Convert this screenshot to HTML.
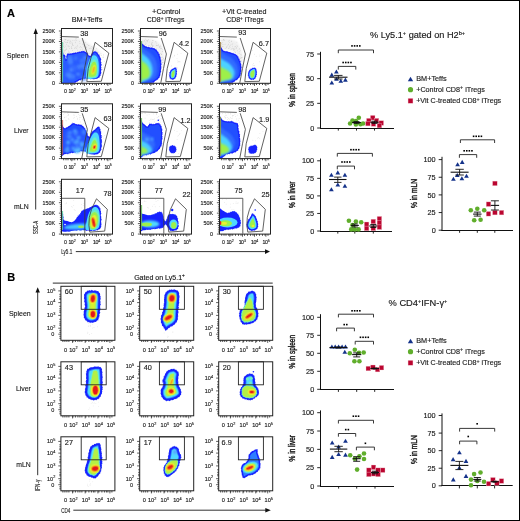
<!DOCTYPE html>
<html><head><meta charset="utf-8"><style>
html,body{margin:0;padding:0;background:#fff;}
body{width:520px;height:521px;overflow:hidden;}
svg{display:block;font-family:"Liberation Sans", sans-serif;will-change:transform;}
</style></head><body>
<svg width="520" height="521" viewBox="0 0 520 521">
<defs>
<filter id="b0" x="-10%" y="-10%" width="120%" height="120%"><feGaussianBlur stdDeviation="0.25"/></filter>
<filter id="b1" x="-20%" y="-20%" width="140%" height="140%"><feGaussianBlur stdDeviation="0.35"/></filter>
<filter id="b2" x="-30%" y="-30%" width="160%" height="160%"><feGaussianBlur stdDeviation="0.8"/></filter>
<filter id="b3" x="-30%" y="-30%" width="160%" height="160%"><feGaussianBlur stdDeviation="1.2"/></filter>
</defs>
<rect x="0" y="0" width="520" height="521" fill="#fff"/>

<text x="7" y="16.6" font-size="11" text-anchor="start" font-weight="bold" fill="#000" stroke="#000" stroke-width="0.14" >A</text>
<text x="7.2" y="280.7" font-size="11" text-anchor="start" font-weight="bold" fill="#000" stroke="#000" stroke-width="0.14" >B</text>
<text x="87" y="22.3" font-size="7.5" text-anchor="middle" font-weight="normal" fill="#1a1a1a" stroke="#1a1a1a" stroke-width="0.14" textLength="30.7" lengthAdjust="spacingAndGlyphs" >BM+Teffs</text>
<text x="166.2" y="13.5" font-size="7.5" text-anchor="middle" font-weight="normal" fill="#1a1a1a" stroke="#1a1a1a" stroke-width="0.14" textLength="28.3" lengthAdjust="spacingAndGlyphs" >+Control</text>
<text x="165.6" y="22.3" font-size="7.5" text-anchor="middle" font-weight="normal" fill="#1a1a1a" stroke="#1a1a1a" stroke-width="0.14" textLength="37.6" lengthAdjust="spacingAndGlyphs" >CD8<tspan font-size="5" dy="-2.6">+</tspan><tspan dy="2.6"> iTregs</tspan></text>
<text x="244.3" y="13.5" font-size="7.5" text-anchor="middle" font-weight="normal" fill="#1a1a1a" stroke="#1a1a1a" stroke-width="0.14" textLength="44.4" lengthAdjust="spacingAndGlyphs" >+Vit C-treated</text>
<text x="245" y="22.3" font-size="7.5" text-anchor="middle" font-weight="normal" fill="#1a1a1a" stroke="#1a1a1a" stroke-width="0.14" textLength="37.6" lengthAdjust="spacingAndGlyphs" >CD8<tspan font-size="5" dy="-2.6">+</tspan><tspan dy="2.6"> iTregs</tspan></text>
<text x="28.6" y="58.1" font-size="7.9" text-anchor="end" font-weight="normal" fill="#1a1a1a" stroke="#1a1a1a" stroke-width="0.14" textLength="21.9" lengthAdjust="spacingAndGlyphs" >Spleen</text>
<text x="28.6" y="133" font-size="7.9" text-anchor="end" font-weight="normal" fill="#1a1a1a" stroke="#1a1a1a" stroke-width="0.14" textLength="14.5" lengthAdjust="spacingAndGlyphs" >Liver</text>
<text x="28.6" y="208.9" font-size="7.9" text-anchor="end" font-weight="normal" fill="#1a1a1a" stroke="#1a1a1a" stroke-width="0.14" textLength="14.5" lengthAdjust="spacingAndGlyphs" >mLN</text>
<text x="30.8" y="315.8" font-size="7.9" text-anchor="end" font-weight="normal" fill="#1a1a1a" stroke="#1a1a1a" stroke-width="0.14" textLength="21.9" lengthAdjust="spacingAndGlyphs" >Spleen</text>
<text x="30.8" y="390.7" font-size="7.9" text-anchor="end" font-weight="normal" fill="#1a1a1a" stroke="#1a1a1a" stroke-width="0.14" textLength="14.9" lengthAdjust="spacingAndGlyphs" >Liver</text>
<text x="30.8" y="466.7" font-size="7.9" text-anchor="end" font-weight="normal" fill="#1a1a1a" stroke="#1a1a1a" stroke-width="0.14" textLength="14.5" lengthAdjust="spacingAndGlyphs" >mLN</text>
<line x1="35.7" y1="33" x2="35.7" y2="209.5" stroke="#333" stroke-width="1" />
<polygon points="33.5,34 37.9,34 35.7,28.3" fill="#111" stroke="none" stroke-width="0.8" stroke-linejoin="round"/>
<text x="0" y="0" font-size="6.8" text-anchor="middle" font-weight="normal" fill="#1a1a1a" stroke="#1a1a1a" stroke-width="0.14" textLength="13.2" lengthAdjust="spacingAndGlyphs" transform="translate(37.6,227.4) rotate(-90)">SSC-A</text>
<text x="61.2" y="254.4" font-size="7" text-anchor="start" font-weight="normal" fill="#1a1a1a" stroke="#1a1a1a" stroke-width="0.14" textLength="11" lengthAdjust="spacingAndGlyphs" >Ly5.1</text>
<line x1="75.8" y1="251.6" x2="266" y2="251.6" stroke="#333" stroke-width="1" />
<polygon points="265,249.3 265,253.9 270,251.6" fill="#111" stroke="none" stroke-width="0.8" stroke-linejoin="round"/>
<line x1="37.7" y1="292" x2="37.7" y2="475.2" stroke="#333" stroke-width="1" />
<polygon points="35.5,292.6 39.9,292.6 37.7,287.3" fill="#111" stroke="none" stroke-width="0.8" stroke-linejoin="round"/>
<text x="0" y="0" font-size="6.8" text-anchor="middle" font-weight="normal" fill="#1a1a1a" stroke="#1a1a1a" stroke-width="0.14" textLength="11.6" lengthAdjust="spacingAndGlyphs" transform="translate(39.6,485.4) rotate(-90)">IFN-&#947;</text>
<text x="61.2" y="512.7" font-size="7" text-anchor="start" font-weight="normal" fill="#1a1a1a" stroke="#1a1a1a" stroke-width="0.14" textLength="9" lengthAdjust="spacingAndGlyphs" >CD4</text>
<line x1="73.3" y1="510.2" x2="266" y2="510.2" stroke="#333" stroke-width="1" />
<polygon points="265.3,507.9 265.3,512.5 270.8,510.2" fill="#111" stroke="none" stroke-width="0.8" stroke-linejoin="round"/>
<line x1="52.8" y1="283.1" x2="272.7" y2="283.1" stroke="#555" stroke-width="1.3" />
<text x="159.5" y="279.8" font-size="6.8" text-anchor="middle" font-weight="normal" fill="#1a1a1a" stroke="#1a1a1a" stroke-width="0.14" textLength="50.7" lengthAdjust="spacingAndGlyphs" >Gated on Ly5.1<tspan font-size="4.5" dy="-2.6">+</tspan></text>
<path d="M62.5,38.5 C64.42,35.83 70.75,37.92 74,38 C77.25,38.08 79.67,38.17 82,39 C84.33,39.83 86,41.67 88,43 C90,44.33 92.17,45.83 94,47 C95.83,48.17 97.83,48.5 99,50 C100.17,51.5 101.5,55.5 101,56 C100.5,56.5 97.83,53.25 96,53 C94.17,52.75 91.67,54.75 90,54.5 C88.33,54.25 88.5,51.83 86,51.5 C83.5,51.17 78.92,52.08 75,52.5 C71.08,52.92 64.58,56.33 62.5,54 C60.42,51.67 60.58,41.17 62.5,38.5Z" fill="#f0f0f0" opacity="1" filter="url(#b3)"/>
<g fill="#999" opacity="0.6"><circle cx="74.97" cy="40.72" r="0.36"/><circle cx="83.13" cy="44.58" r="0.36"/><circle cx="64.73" cy="47.13" r="0.36"/><circle cx="63.94" cy="45.81" r="0.36"/><circle cx="65.19" cy="39.63" r="0.36"/><circle cx="67.27" cy="42.02" r="0.36"/><circle cx="84.72" cy="45.14" r="0.36"/><circle cx="68.05" cy="40.12" r="0.36"/><circle cx="69.46" cy="48.47" r="0.36"/><circle cx="87.1" cy="44.7" r="0.36"/><circle cx="64.79" cy="41.71" r="0.36"/><circle cx="88.7" cy="45.7" r="0.36"/><circle cx="74.59" cy="48.54" r="0.36"/><circle cx="79.95" cy="43.4" r="0.36"/><circle cx="93.08" cy="50.58" r="0.36"/><circle cx="71.9" cy="48.34" r="0.36"/><circle cx="78.6" cy="51.63" r="0.36"/><circle cx="68.35" cy="46.8" r="0.36"/><circle cx="64.01" cy="50.03" r="0.36"/><circle cx="91.94" cy="48.31" r="0.36"/><circle cx="89.27" cy="48.7" r="0.36"/><circle cx="84.83" cy="46.21" r="0.36"/><circle cx="80.75" cy="49.95" r="0.36"/><circle cx="64.84" cy="50.63" r="0.36"/><circle cx="77.35" cy="50.04" r="0.36"/><circle cx="63.37" cy="46.31" r="0.36"/><circle cx="68.97" cy="40.11" r="0.36"/><circle cx="64.77" cy="51.83" r="0.36"/><circle cx="67.48" cy="42.46" r="0.36"/><circle cx="65.6" cy="46.09" r="0.36"/><circle cx="73.22" cy="45.48" r="0.36"/><circle cx="69.28" cy="42.18" r="0.36"/><circle cx="71.48" cy="46.73" r="0.36"/><circle cx="85.18" cy="42.73" r="0.36"/><circle cx="62.66" cy="45.54" r="0.36"/><circle cx="76.72" cy="48.19" r="0.36"/><circle cx="82.35" cy="49.12" r="0.36"/><circle cx="97.13" cy="52.04" r="0.36"/><circle cx="96.17" cy="52.36" r="0.36"/><circle cx="77.61" cy="45.18" r="0.36"/><circle cx="66.49" cy="49.42" r="0.36"/><circle cx="64.9" cy="39.21" r="0.36"/><circle cx="70.54" cy="40.92" r="0.36"/><circle cx="75.59" cy="38.95" r="0.36"/><circle cx="62.51" cy="40.72" r="0.36"/><circle cx="66.41" cy="44.54" r="0.36"/><circle cx="63.48" cy="53.74" r="0.36"/><circle cx="72.21" cy="44.25" r="0.36"/><circle cx="76.52" cy="40.21" r="0.36"/><circle cx="80.44" cy="46.71" r="0.36"/><circle cx="65.81" cy="39.84" r="0.36"/><circle cx="75.69" cy="42.77" r="0.36"/><circle cx="82.84" cy="40.64" r="0.36"/><circle cx="95.74" cy="50.53" r="0.36"/><circle cx="72.55" cy="44.6" r="0.36"/><circle cx="68.93" cy="51.89" r="0.36"/><circle cx="75.19" cy="42.01" r="0.36"/><circle cx="95.33" cy="52.51" r="0.36"/><circle cx="94.01" cy="51.32" r="0.36"/><circle cx="71.23" cy="47.32" r="0.36"/><circle cx="76.19" cy="38.52" r="0.36"/><circle cx="63.58" cy="43.03" r="0.36"/><circle cx="72.48" cy="50.47" r="0.36"/><circle cx="70.99" cy="42.08" r="0.36"/><circle cx="70.07" cy="41.68" r="0.36"/><circle cx="87.64" cy="52.39" r="0.36"/><circle cx="65.76" cy="49.89" r="0.36"/><circle cx="97.53" cy="52.08" r="0.36"/><circle cx="91.38" cy="46.6" r="0.36"/><circle cx="69.37" cy="52.2" r="0.36"/><circle cx="75.3" cy="52.41" r="0.36"/><circle cx="67.39" cy="40.72" r="0.36"/><circle cx="97.34" cy="52.52" r="0.36"/><circle cx="68.13" cy="52.88" r="0.36"/><circle cx="75.99" cy="47.88" r="0.36"/><circle cx="72.2" cy="43.27" r="0.36"/><circle cx="71.76" cy="48.56" r="0.36"/><circle cx="72.49" cy="45.54" r="0.36"/><circle cx="76.12" cy="46.25" r="0.36"/><circle cx="81.81" cy="47.57" r="0.36"/><circle cx="79.44" cy="41.3" r="0.36"/><circle cx="62.65" cy="52.39" r="0.36"/><circle cx="69.14" cy="46.52" r="0.36"/><circle cx="90.42" cy="48.02" r="0.36"/><circle cx="75.05" cy="47.33" r="0.36"/><circle cx="66.59" cy="48.09" r="0.36"/><circle cx="72.07" cy="42.98" r="0.36"/><circle cx="92.23" cy="47.14" r="0.36"/><circle cx="86.08" cy="47.1" r="0.36"/><circle cx="82.22" cy="50.47" r="0.36"/><circle cx="79.92" cy="47.6" r="0.36"/><circle cx="89.42" cy="53.78" r="0.36"/><circle cx="67.18" cy="45.96" r="0.36"/><circle cx="65.29" cy="42.33" r="0.36"/><circle cx="65.32" cy="50.05" r="0.36"/><circle cx="68.45" cy="50.89" r="0.36"/><circle cx="77.83" cy="46.77" r="0.36"/><circle cx="68.72" cy="45.77" r="0.36"/><circle cx="82.35" cy="44.1" r="0.36"/><circle cx="70.04" cy="43.73" r="0.36"/><circle cx="83.83" cy="45.93" r="0.36"/><circle cx="63.2" cy="43.97" r="0.36"/><circle cx="86.52" cy="47.22" r="0.36"/><circle cx="66.53" cy="42.78" r="0.36"/><circle cx="64.02" cy="52.02" r="0.36"/><circle cx="72.91" cy="40.33" r="0.36"/><circle cx="84.47" cy="50.61" r="0.36"/><circle cx="65.94" cy="39.04" r="0.36"/><circle cx="89" cy="45.66" r="0.36"/><circle cx="65.72" cy="53.41" r="0.36"/></g>
<g fill="#999" opacity="0.5"><circle cx="100.54" cy="58.51" r="0.36"/><circle cx="98.68" cy="52.01" r="0.36"/><circle cx="101.27" cy="55.39" r="0.36"/><circle cx="103.59" cy="56.99" r="0.36"/><circle cx="101" cy="53.51" r="0.36"/><circle cx="103.33" cy="65.08" r="0.36"/><circle cx="104.19" cy="61.4" r="0.36"/><circle cx="100.95" cy="73.87" r="0.36"/><circle cx="103.07" cy="67.72" r="0.36"/><circle cx="98.56" cy="53.06" r="0.36"/><circle cx="100.75" cy="63.59" r="0.36"/><circle cx="96.42" cy="48.7" r="0.36"/><circle cx="99.04" cy="55.22" r="0.36"/><circle cx="101.86" cy="64.4" r="0.36"/><circle cx="101.04" cy="73.88" r="0.36"/><circle cx="101.59" cy="67.46" r="0.36"/><circle cx="102.26" cy="69.1" r="0.36"/><circle cx="101.03" cy="64.59" r="0.36"/><circle cx="103.37" cy="55.82" r="0.36"/><circle cx="103.29" cy="54.36" r="0.36"/><circle cx="100.79" cy="69.19" r="0.36"/><circle cx="103.43" cy="57.44" r="0.36"/><circle cx="102.72" cy="69.46" r="0.36"/><circle cx="102.76" cy="57.02" r="0.36"/><circle cx="101.17" cy="62.4" r="0.36"/></g>
<path d="M141.5,39 C142.92,37.83 147.25,38.5 150,39 C152.75,39.5 155.92,40.5 158,42 C160.08,43.5 161.5,45.33 162.5,48 C163.5,50.67 163.92,54 164,58 C164.08,62 163.5,71.67 163,72 C162.5,72.33 161.83,63.5 161,60 C160.17,56.5 159.5,53.08 158,51 C156.5,48.92 154.75,48.33 152,47.5 C149.25,46.67 143.25,47.42 141.5,46 C139.75,44.58 140.08,40.17 141.5,39Z" fill="#f0f0f0" opacity="1" filter="url(#b3)"/>
<g fill="#999" opacity="0.6"><circle cx="151.99" cy="42.91" r="0.36"/><circle cx="159.95" cy="55.79" r="0.36"/><circle cx="161.45" cy="62.21" r="0.36"/><circle cx="162.34" cy="62.53" r="0.36"/><circle cx="161.79" cy="48.56" r="0.36"/><circle cx="147.69" cy="40.59" r="0.36"/><circle cx="153" cy="45.27" r="0.36"/><circle cx="162.67" cy="57.12" r="0.36"/><circle cx="147.94" cy="40.62" r="0.36"/><circle cx="156.26" cy="48.93" r="0.36"/><circle cx="145.26" cy="44.33" r="0.36"/><circle cx="152.68" cy="46.26" r="0.36"/><circle cx="151.62" cy="43.61" r="0.36"/><circle cx="145.83" cy="41.99" r="0.36"/><circle cx="149.19" cy="42.01" r="0.36"/><circle cx="160.91" cy="46.13" r="0.36"/><circle cx="162.96" cy="67.01" r="0.36"/><circle cx="161.65" cy="54.62" r="0.36"/><circle cx="143.95" cy="44.09" r="0.36"/><circle cx="162.68" cy="62.82" r="0.36"/><circle cx="156.02" cy="49.02" r="0.36"/><circle cx="144.02" cy="41.32" r="0.36"/><circle cx="150.23" cy="46.38" r="0.36"/><circle cx="163.08" cy="60.27" r="0.36"/><circle cx="161.38" cy="54.69" r="0.36"/><circle cx="163.11" cy="62.25" r="0.36"/><circle cx="148.42" cy="39.72" r="0.36"/><circle cx="146.6" cy="40.13" r="0.36"/><circle cx="156.86" cy="45.54" r="0.36"/><circle cx="152.86" cy="45.77" r="0.36"/><circle cx="159.95" cy="46.62" r="0.36"/><circle cx="152.65" cy="45.18" r="0.36"/><circle cx="144.69" cy="40.71" r="0.36"/><circle cx="162.46" cy="49.87" r="0.36"/><circle cx="145.31" cy="39.09" r="0.36"/><circle cx="160" cy="53.27" r="0.36"/><circle cx="142.28" cy="41.07" r="0.36"/><circle cx="163.05" cy="59.36" r="0.36"/><circle cx="162.12" cy="59.92" r="0.36"/><circle cx="163.03" cy="70.48" r="0.36"/><circle cx="147.06" cy="41.14" r="0.36"/><circle cx="147.46" cy="41.77" r="0.36"/><circle cx="156.45" cy="43" r="0.36"/><circle cx="160.42" cy="48.69" r="0.36"/><circle cx="158.11" cy="45.57" r="0.36"/><circle cx="152.91" cy="46.64" r="0.36"/><circle cx="144.18" cy="45.26" r="0.36"/><circle cx="163.39" cy="58.25" r="0.36"/><circle cx="162.43" cy="51.28" r="0.36"/><circle cx="160.99" cy="53.82" r="0.36"/><circle cx="144.68" cy="45.73" r="0.36"/><circle cx="156.16" cy="45.71" r="0.36"/><circle cx="156.76" cy="45.11" r="0.36"/><circle cx="148.52" cy="45.71" r="0.36"/><circle cx="142.92" cy="42.35" r="0.36"/><circle cx="155.88" cy="42.01" r="0.36"/><circle cx="149.69" cy="45.51" r="0.36"/><circle cx="157.88" cy="45.72" r="0.36"/><circle cx="151.87" cy="44.36" r="0.36"/><circle cx="145.94" cy="43.18" r="0.36"/><circle cx="152.36" cy="40.76" r="0.36"/><circle cx="162.34" cy="51.8" r="0.36"/><circle cx="161.84" cy="59.47" r="0.36"/><circle cx="159.18" cy="46.33" r="0.36"/><circle cx="160.16" cy="45.04" r="0.36"/><circle cx="155.61" cy="49.11" r="0.36"/><circle cx="152.51" cy="46.76" r="0.36"/><circle cx="151.81" cy="44.93" r="0.36"/><circle cx="152.15" cy="42.53" r="0.36"/><circle cx="152.98" cy="40.35" r="0.36"/><circle cx="155.82" cy="41.71" r="0.36"/><circle cx="153.01" cy="40.79" r="0.36"/><circle cx="158.51" cy="44.24" r="0.36"/><circle cx="161.67" cy="48.07" r="0.36"/><circle cx="142.33" cy="45.01" r="0.36"/><circle cx="161.14" cy="57.32" r="0.36"/><circle cx="159.45" cy="47.74" r="0.36"/><circle cx="163.79" cy="58.05" r="0.36"/><circle cx="151.45" cy="44.83" r="0.36"/><circle cx="159.95" cy="47.37" r="0.36"/></g>
<g fill="#999" opacity="0.5"><circle cx="177.37" cy="67.91" r="0.36"/><circle cx="177.86" cy="60.97" r="0.36"/><circle cx="176.2" cy="74.87" r="0.36"/><circle cx="171.59" cy="65.51" r="0.36"/><circle cx="177.43" cy="54.13" r="0.36"/><circle cx="177.98" cy="62.25" r="0.36"/><circle cx="170.16" cy="76.1" r="0.36"/><circle cx="171.9" cy="52.48" r="0.36"/><circle cx="174.43" cy="55.93" r="0.36"/><circle cx="177" cy="58.51" r="0.36"/><circle cx="178.33" cy="61.31" r="0.36"/><circle cx="171.98" cy="75.11" r="0.36"/><circle cx="174.5" cy="55.13" r="0.36"/><circle cx="171.19" cy="66.24" r="0.36"/><circle cx="176.11" cy="67.25" r="0.36"/><circle cx="181.01" cy="53.24" r="0.36"/><circle cx="172.95" cy="57.01" r="0.36"/><circle cx="168.78" cy="74.68" r="0.36"/><circle cx="179.92" cy="61.96" r="0.36"/><circle cx="179.87" cy="61.57" r="0.36"/><circle cx="171.62" cy="51.16" r="0.36"/><circle cx="171.72" cy="49.16" r="0.36"/></g>
<path d="M220.5,39 C221.92,37.33 226.25,38.5 229,39 C231.75,39.5 234.92,40 237,42 C239.08,44 240.5,47.83 241.5,51 C242.5,54.17 242.92,57 243,61 C243.08,65 242.5,74.67 242,75 C241.5,75.33 240.83,66.5 240,63 C239.17,59.5 238.5,56.08 237,54 C235.5,51.92 233.75,51.33 231,50.5 C228.25,49.67 222.25,50.92 220.5,49 C218.75,47.08 219.08,40.67 220.5,39Z" fill="#f0f0f0" opacity="1" filter="url(#b3)"/>
<g fill="#999" opacity="0.6"><circle cx="236.51" cy="48.58" r="0.36"/><circle cx="226.36" cy="47.5" r="0.36"/><circle cx="237.29" cy="50.77" r="0.36"/><circle cx="240.3" cy="50.83" r="0.36"/><circle cx="233.33" cy="50.08" r="0.36"/><circle cx="223.75" cy="39.97" r="0.36"/><circle cx="228.26" cy="44.11" r="0.36"/><circle cx="221.15" cy="40.5" r="0.36"/><circle cx="222.91" cy="46.41" r="0.36"/><circle cx="223.02" cy="40.24" r="0.36"/><circle cx="234.71" cy="49.35" r="0.36"/><circle cx="222.75" cy="42.52" r="0.36"/><circle cx="237.54" cy="46.38" r="0.36"/><circle cx="220.97" cy="48.24" r="0.36"/><circle cx="242.19" cy="57.13" r="0.36"/><circle cx="239.66" cy="61.26" r="0.36"/><circle cx="232.6" cy="46.8" r="0.36"/><circle cx="220.53" cy="46.27" r="0.36"/><circle cx="226.88" cy="46.73" r="0.36"/><circle cx="234.63" cy="51.8" r="0.36"/><circle cx="225.14" cy="48.48" r="0.36"/><circle cx="240.78" cy="57.04" r="0.36"/><circle cx="223.98" cy="44.62" r="0.36"/><circle cx="232.25" cy="44.79" r="0.36"/><circle cx="227.88" cy="45.81" r="0.36"/><circle cx="242.44" cy="65.23" r="0.36"/><circle cx="222.9" cy="46.43" r="0.36"/><circle cx="229.24" cy="40.22" r="0.36"/><circle cx="240.93" cy="54.48" r="0.36"/><circle cx="229.98" cy="47.23" r="0.36"/><circle cx="234.67" cy="48" r="0.36"/><circle cx="238.01" cy="52.99" r="0.36"/><circle cx="241.66" cy="57.69" r="0.36"/><circle cx="239.15" cy="57.78" r="0.36"/><circle cx="228.5" cy="41.04" r="0.36"/><circle cx="228.42" cy="48.55" r="0.36"/><circle cx="241.65" cy="57.97" r="0.36"/><circle cx="229.32" cy="46.63" r="0.36"/><circle cx="231.03" cy="49.6" r="0.36"/><circle cx="232.84" cy="43.51" r="0.36"/><circle cx="239.26" cy="51.77" r="0.36"/><circle cx="239.64" cy="48.63" r="0.36"/><circle cx="228.96" cy="48.13" r="0.36"/><circle cx="230.09" cy="45.69" r="0.36"/><circle cx="226.83" cy="47.82" r="0.36"/><circle cx="235.33" cy="52.05" r="0.36"/><circle cx="241.4" cy="69.76" r="0.36"/><circle cx="240.88" cy="67.23" r="0.36"/><circle cx="235.26" cy="48" r="0.36"/><circle cx="222.78" cy="44.14" r="0.36"/><circle cx="228.29" cy="44.5" r="0.36"/><circle cx="240.84" cy="67.5" r="0.36"/><circle cx="232.99" cy="48.52" r="0.36"/><circle cx="225.77" cy="44.02" r="0.36"/><circle cx="231.59" cy="41.1" r="0.36"/><circle cx="231.01" cy="44.2" r="0.36"/><circle cx="239.1" cy="49.54" r="0.36"/><circle cx="239.12" cy="53.53" r="0.36"/><circle cx="231.83" cy="48.78" r="0.36"/><circle cx="240.43" cy="58.63" r="0.36"/><circle cx="220.64" cy="45.84" r="0.36"/><circle cx="241.23" cy="60.91" r="0.36"/><circle cx="240.97" cy="61.02" r="0.36"/><circle cx="235.82" cy="46.65" r="0.36"/><circle cx="224.58" cy="40.33" r="0.36"/><circle cx="235.25" cy="52.28" r="0.36"/><circle cx="233.15" cy="48.29" r="0.36"/><circle cx="221.39" cy="43.28" r="0.36"/><circle cx="241.17" cy="55.07" r="0.36"/><circle cx="229.78" cy="42.67" r="0.36"/><circle cx="235" cy="46.64" r="0.36"/><circle cx="223.91" cy="39.56" r="0.36"/><circle cx="223.4" cy="39.64" r="0.36"/><circle cx="236.69" cy="47.72" r="0.36"/><circle cx="237.01" cy="45.75" r="0.36"/><circle cx="236.92" cy="42.03" r="0.36"/><circle cx="231.44" cy="41.15" r="0.36"/><circle cx="241.76" cy="67.25" r="0.36"/><circle cx="233.25" cy="49.53" r="0.36"/><circle cx="234.03" cy="50.11" r="0.36"/></g>
<g fill="#999" opacity="0.5"><circle cx="253.86" cy="74.64" r="0.36"/><circle cx="253.03" cy="68.54" r="0.36"/><circle cx="256.63" cy="74.88" r="0.36"/><circle cx="259.92" cy="56.5" r="0.36"/><circle cx="253.76" cy="65.6" r="0.36"/><circle cx="256.15" cy="56.22" r="0.36"/><circle cx="252.55" cy="50.55" r="0.36"/><circle cx="255.86" cy="71.92" r="0.36"/><circle cx="250.21" cy="70.51" r="0.36"/><circle cx="261.91" cy="55.02" r="0.36"/><circle cx="256.71" cy="68.33" r="0.36"/><circle cx="254.45" cy="54.2" r="0.36"/><circle cx="251.08" cy="70.53" r="0.36"/><circle cx="259.67" cy="61.79" r="0.36"/><circle cx="248.4" cy="72.2" r="0.36"/><circle cx="259.35" cy="54.99" r="0.36"/><circle cx="256.27" cy="74.91" r="0.36"/><circle cx="254.63" cy="65.68" r="0.36"/><circle cx="250.03" cy="53.77" r="0.36"/><circle cx="249.89" cy="69.03" r="0.36"/><circle cx="252.81" cy="64.93" r="0.36"/><circle cx="253.44" cy="63.52" r="0.36"/></g>
<g fill="#999" opacity="0.5"><circle cx="65.87" cy="112.8" r="0.36"/><circle cx="77.53" cy="118.21" r="0.36"/><circle cx="75.51" cy="112.37" r="0.36"/><circle cx="84.52" cy="120.75" r="0.36"/><circle cx="76.75" cy="116.71" r="0.36"/><circle cx="82.26" cy="119.67" r="0.36"/><circle cx="86.61" cy="125.81" r="0.36"/><circle cx="68.6" cy="112.68" r="0.36"/><circle cx="67.23" cy="115.25" r="0.36"/><circle cx="64.18" cy="112.92" r="0.36"/><circle cx="77.55" cy="119.15" r="0.36"/><circle cx="79.41" cy="119.08" r="0.36"/><circle cx="73.66" cy="114.88" r="0.36"/><circle cx="67.76" cy="112.7" r="0.36"/><circle cx="68.65" cy="118.34" r="0.36"/><circle cx="82.45" cy="124.77" r="0.36"/><circle cx="63.45" cy="114.61" r="0.36"/><circle cx="79.6" cy="117.38" r="0.36"/><circle cx="64.74" cy="117.83" r="0.36"/><circle cx="68.68" cy="114.23" r="0.36"/><circle cx="74.51" cy="115.03" r="0.36"/><circle cx="68.2" cy="114.58" r="0.36"/><circle cx="79.62" cy="112.23" r="0.36"/><circle cx="80.65" cy="115.51" r="0.36"/><circle cx="65.63" cy="120.05" r="0.36"/><circle cx="83.9" cy="123.31" r="0.36"/><circle cx="73.76" cy="118.12" r="0.36"/><circle cx="83.4" cy="120.6" r="0.36"/><circle cx="78.33" cy="114.57" r="0.36"/><circle cx="67.76" cy="113.02" r="0.36"/><circle cx="80.56" cy="121.96" r="0.36"/><circle cx="68.93" cy="119.41" r="0.36"/><circle cx="66.05" cy="116.88" r="0.36"/><circle cx="83.83" cy="118.02" r="0.36"/><circle cx="66.36" cy="120.84" r="0.36"/><circle cx="79.38" cy="115.8" r="0.36"/><circle cx="74.41" cy="117.15" r="0.36"/><circle cx="68.7" cy="115.63" r="0.36"/><circle cx="64.54" cy="117.21" r="0.36"/><circle cx="80.89" cy="117.28" r="0.36"/></g>
<g fill="#999" opacity="0.5"><circle cx="158.75" cy="116.77" r="0.36"/><circle cx="144.08" cy="112.03" r="0.36"/><circle cx="159.31" cy="119.37" r="0.36"/><circle cx="145.09" cy="118.09" r="0.36"/><circle cx="153.57" cy="113.93" r="0.36"/><circle cx="156.66" cy="114.75" r="0.36"/><circle cx="142.74" cy="113.22" r="0.36"/><circle cx="154.39" cy="118.94" r="0.36"/><circle cx="147.03" cy="114.88" r="0.36"/><circle cx="154.47" cy="121.91" r="0.36"/><circle cx="158.85" cy="120.16" r="0.36"/><circle cx="145.45" cy="112.92" r="0.36"/><circle cx="157.12" cy="117.71" r="0.36"/><circle cx="156.88" cy="112.78" r="0.36"/><circle cx="158.83" cy="116.69" r="0.36"/><circle cx="159.52" cy="124.1" r="0.36"/><circle cx="151.85" cy="112.22" r="0.36"/><circle cx="161.02" cy="118.67" r="0.36"/><circle cx="160.18" cy="115.73" r="0.36"/><circle cx="149.08" cy="114.29" r="0.36"/><circle cx="149.17" cy="120.33" r="0.36"/><circle cx="150.81" cy="119.22" r="0.36"/><circle cx="158.96" cy="124.12" r="0.36"/><circle cx="149.39" cy="122.52" r="0.36"/><circle cx="161.99" cy="118.93" r="0.36"/><circle cx="152.29" cy="119.43" r="0.36"/><circle cx="152.82" cy="112.29" r="0.36"/><circle cx="145.01" cy="113.44" r="0.36"/><circle cx="141.66" cy="113.35" r="0.36"/><circle cx="156.38" cy="114.73" r="0.36"/><circle cx="153.68" cy="119.32" r="0.36"/><circle cx="156.46" cy="113.44" r="0.36"/><circle cx="160.13" cy="122.04" r="0.36"/><circle cx="141.99" cy="113.72" r="0.36"/><circle cx="151.86" cy="119.01" r="0.36"/></g>
<g fill="#999" opacity="0.5"><circle cx="225.59" cy="113.59" r="0.36"/><circle cx="228.11" cy="113.78" r="0.36"/><circle cx="234.93" cy="114.14" r="0.36"/><circle cx="227.77" cy="117.47" r="0.36"/><circle cx="236.79" cy="118.83" r="0.36"/><circle cx="235.54" cy="116.4" r="0.36"/><circle cx="224.81" cy="116.36" r="0.36"/><circle cx="236.3" cy="123.02" r="0.36"/><circle cx="239.16" cy="124.15" r="0.36"/><circle cx="224.99" cy="117.49" r="0.36"/><circle cx="232.65" cy="116.74" r="0.36"/><circle cx="230.62" cy="112.9" r="0.36"/><circle cx="228.66" cy="118.56" r="0.36"/><circle cx="220.42" cy="113.81" r="0.36"/><circle cx="239.39" cy="122.1" r="0.36"/><circle cx="238.74" cy="120.23" r="0.36"/><circle cx="236.19" cy="123.5" r="0.36"/><circle cx="232.83" cy="115.46" r="0.36"/><circle cx="233.57" cy="115.55" r="0.36"/><circle cx="232.43" cy="115.26" r="0.36"/><circle cx="230.41" cy="117.64" r="0.36"/><circle cx="239.12" cy="118.68" r="0.36"/><circle cx="225.37" cy="118.06" r="0.36"/><circle cx="230.68" cy="113.93" r="0.36"/><circle cx="222.48" cy="113.71" r="0.36"/><circle cx="225.87" cy="117.29" r="0.36"/><circle cx="225.77" cy="115.16" r="0.36"/><circle cx="236.79" cy="119.93" r="0.36"/><circle cx="231.4" cy="120.45" r="0.36"/><circle cx="229.22" cy="119.12" r="0.36"/><circle cx="232.26" cy="118.1" r="0.36"/><circle cx="226.21" cy="115.15" r="0.36"/><circle cx="227.66" cy="119.61" r="0.36"/><circle cx="237.24" cy="115.1" r="0.36"/><circle cx="231.13" cy="118.39" r="0.36"/></g>
<g fill="#999" opacity="0.45"><circle cx="96.7" cy="154.56" r="0.36"/><circle cx="96.84" cy="147.02" r="0.36"/><circle cx="104.33" cy="135.4" r="0.36"/><circle cx="98.72" cy="145.74" r="0.36"/><circle cx="95.01" cy="131.8" r="0.36"/><circle cx="97.58" cy="143.64" r="0.36"/><circle cx="101.01" cy="149.75" r="0.36"/><circle cx="103.68" cy="138.12" r="0.36"/><circle cx="102.6" cy="146.01" r="0.36"/><circle cx="102.88" cy="136.63" r="0.36"/></g>
<g fill="#999" opacity="0.45"><circle cx="181.95" cy="140.5" r="0.36"/><circle cx="178.47" cy="153.7" r="0.36"/><circle cx="179.44" cy="134.63" r="0.36"/><circle cx="179.9" cy="133.28" r="0.36"/><circle cx="177.88" cy="136.03" r="0.36"/><circle cx="181.4" cy="130.25" r="0.36"/><circle cx="177.08" cy="139.44" r="0.36"/><circle cx="177" cy="131.27" r="0.36"/><circle cx="178.49" cy="135.54" r="0.36"/><circle cx="174.39" cy="130.64" r="0.36"/></g>
<g fill="#999" opacity="0.45"><circle cx="252.88" cy="140.14" r="0.36"/><circle cx="262.96" cy="131.34" r="0.36"/><circle cx="256.54" cy="151.87" r="0.36"/><circle cx="258.34" cy="137.41" r="0.36"/><circle cx="258" cy="154.94" r="0.36"/><circle cx="257.73" cy="138.1" r="0.36"/><circle cx="259.91" cy="133.63" r="0.36"/><circle cx="255.65" cy="140.82" r="0.36"/><circle cx="255.56" cy="153.18" r="0.36"/><circle cx="259.79" cy="138.38" r="0.36"/></g>
<g fill="#999" opacity="0.45"><circle cx="65.08" cy="203.87" r="0.36"/><circle cx="71.42" cy="206.3" r="0.36"/><circle cx="75.06" cy="210.44" r="0.36"/><circle cx="83.25" cy="205.33" r="0.36"/><circle cx="72.24" cy="207.12" r="0.36"/><circle cx="83.92" cy="203.46" r="0.36"/><circle cx="74.13" cy="209.61" r="0.36"/><circle cx="66.59" cy="203.14" r="0.36"/><circle cx="83.55" cy="209.74" r="0.36"/><circle cx="73.76" cy="200.44" r="0.36"/><circle cx="81.78" cy="207.97" r="0.36"/><circle cx="81.65" cy="204.47" r="0.36"/><circle cx="66.28" cy="202.77" r="0.36"/><circle cx="73.74" cy="205.56" r="0.36"/></g>
<g fill="#999" opacity="0.45"><circle cx="145.95" cy="201.37" r="0.36"/><circle cx="155.23" cy="206.84" r="0.36"/><circle cx="155.37" cy="199.55" r="0.36"/><circle cx="150.64" cy="209.24" r="0.36"/><circle cx="148.44" cy="207.98" r="0.36"/><circle cx="142.08" cy="202.96" r="0.36"/><circle cx="159.69" cy="206.62" r="0.36"/><circle cx="156.03" cy="201.56" r="0.36"/><circle cx="152.46" cy="206.19" r="0.36"/><circle cx="147.59" cy="207.41" r="0.36"/><circle cx="154.06" cy="204.34" r="0.36"/><circle cx="144.55" cy="201.04" r="0.36"/><circle cx="157.95" cy="200.39" r="0.36"/><circle cx="144.1" cy="201.22" r="0.36"/></g>
<g fill="#999" opacity="0.45"><circle cx="231.97" cy="209.7" r="0.36"/><circle cx="233.87" cy="209.49" r="0.36"/><circle cx="222.3" cy="199.16" r="0.36"/><circle cx="237.18" cy="203.2" r="0.36"/><circle cx="236.02" cy="203.6" r="0.36"/><circle cx="224.56" cy="202.47" r="0.36"/><circle cx="233.23" cy="203.54" r="0.36"/><circle cx="230.45" cy="204.01" r="0.36"/><circle cx="230.23" cy="207.06" r="0.36"/><circle cx="226.24" cy="199.57" r="0.36"/><circle cx="240.55" cy="210.11" r="0.36"/><circle cx="238.13" cy="202.95" r="0.36"/><circle cx="226.1" cy="204.07" r="0.36"/><circle cx="236.09" cy="201.88" r="0.36"/></g>
<clipPath id="cA00"><rect x="61.5" y="28.5" width="51" height="54.3"/></clipPath>
<g clip-path="url(#cA00)">
<path d="M59.44,41.39 L58.98,42.72 L58.58,44.82 L58.82,47.91 L58.13,50.93 L57.97,54.61 L58.27,58.59 L58.46,62.56 L57.96,66.65 L58.34,70.45 L58.3,74.22 L57.99,77.97 L58.14,81.08 L58.79,83.25 L58.96,85.34 L59.4,86.7 L60.2,87.34 L60.66,88.17 L61.01,88.97 L61.86,88.9 L62.74,88.65 L63.36,88.69 L65.47,87.13 L66.88,86.67 L67.93,85.83 L68.59,85.79 L69.35,85.62 L71.31,84.35 L71.95,84.53 L72.94,83.82 L73.8,83.45 L75.42,83.12 L76.48,81.86 L77.27,81.71 L79.67,80.04 L80.34,80.61 L81,79.85 L82.13,79.42 L82.63,79.38 L82.99,78.43 L83.5,79.03 L84.28,78.97 L84.6,78.68 L85.09,79.28 L85.24,78.4 L85.97,78.47 L86.46,78.82 L86.69,78.26 L87.37,79.03 L88.04,78.64 L88.3,78.33 L88.97,78.97 L89.1,78.43 L89.68,78.85 L90.74,79.44 L90.8,78.84 L91.47,79.36 L91.7,79.08 L92.02,78.95 L92.44,78.95 L93.29,79.58 L93.42,79.09 L93.99,79.22 L94.48,79.21 L94.84,79.03 L94.89,78.46 L95.77,78.91 L96.57,78.65 L97.08,78.65 L97.74,78.81 L97.58,78.12 L97.91,77.98 L98.39,77.99 L98.62,77.77 L98.74,77.47 L99.46,77.74 L99.6,77.47 L99.43,76.95 L99.92,76.62 L99.71,76.09 L100.01,75.97 L100.59,76.06 L100.46,75.2 L100.76,75.04 L100.69,74.59 L100.35,73.97 L100.87,73.93 L101.12,73.7 L101.04,73.26 L101.14,72.92 L101.55,72.76 L100.97,72.01 L100.93,71.58 L101.18,71.27 L101.35,70.89 L101.02,70.26 L101.7,70.07 L101.54,69.46 L101.23,68.77 L101.01,68.09 L101.49,67.59 L100.88,66.68 L101.26,66.04 L101.55,65.33 L101.66,64.53 L100.96,63.61 L101.5,62.86 L100.99,62.02 L100.8,61.24 L100.76,60.5 L101.45,59.75 L100.69,59.12 L100.92,58.47 L100.7,57.91 L100.4,57.39 L99.5,57.01 L100.09,56.34 L99.59,55.93 L99.44,55.46 L99.2,55.02 L99.39,54.45 L98.2,54.4 L98.18,53.95 L97.92,53.61 L97.75,53.26 L97.2,53.12 L97.82,52.44 L97.22,52.39 L96.56,52.14 L96.66,51.82 L95.84,52.06 L96.17,51.65 L96.2,51.43 L96.02,51.35 L95.5,51.52 L95.79,51.18 L95.13,51.47 L94.82,51.54 L94.86,51.38 L95.07,51.12 L94.49,51.4 L94.68,51.16 L94.55,51.17 L93.61,51.7 L93.91,51.44 L93.39,51.76 L93.6,51.6 L92.8,52.19 L92.23,52.7 L92.21,52.78 L92.5,52.69 L91.68,53.6 L91.78,53.73 L90.89,54.72 L90.99,54.87 L91.23,54.92 L90.66,55.42 L90.68,55.54 L90.59,55.68 L89.52,56.26 L89.95,55.93 L89.6,55.95 L89.43,55.82 L89.48,55.16 L88.57,55.42 L88.6,55.01 L88.44,54.73 L88.25,54.47 L87.92,54.36 L88.39,53.48 L87.88,53.59 L87.42,53.39 L87.46,53.05 L86.85,53.52 L87.19,52.85 L87.17,52.64 L87.08,52.52 L86.74,52.78 L87.02,52.17 L86.48,52.73 L86.4,52.64 L86.39,52.44 L86.57,51.92 L86.12,52.39 L86.35,51.73 L85.82,51.98 L85.45,52.29 L85.64,51.52 L85.24,51.9 L85.19,51.54 L85,50.94 L84.48,51.67 L84.46,51.16 L84.19,51.28 L83.75,51.29 L83.77,50.46 L83.4,50.99 L82.97,50.94 L82.74,51 L82.41,51.64 L82.28,50.99 L82.05,50.93 L81.79,51.12 L81.54,51.19 L81.31,50.88 L81.03,51.66 L80.79,51.78 L80.52,51.47 L80.26,51.47 L80.02,51.77 L79.68,51.27 L79.4,51.41 L79.21,52.02 L78.92,52.05 L78.56,51.86 L78.35,52.25 L78.02,52.18 L77.51,51.68 L77.15,52.4 L76.78,52.29 L76.53,52.39 L76.51,52.9 L75.99,52.48 L75.59,52.28 L75.32,52.67 L74.85,52.37 L75.02,52.93 L74.87,53.03 L74.07,52.6 L74.17,52.99 L73.57,52.57 L73.47,52.73 L73.52,53.28 L72.84,52.85 L73,53.25 L72.15,52.94 L71.82,52.89 L72.24,53.48 L71.62,53.18 L71.63,53.41 L71.26,53.54 L70.36,53.07 L70.7,53.53 L70.34,53.46 L69.97,53.58 L70.34,53.99 L69.37,53.51 L69.25,53.56 L68.85,53.55 L68.17,53.25 L68.76,53.71 L67.58,53.44 L67.76,53.71 L66.83,53.41 L67.02,53.75 L67.14,54.39 L66.58,54.54 L67.07,55.21 L66.51,55.5 L66.18,55.93 L66.15,56.49 L66.65,57.18 L66.1,57.59 L66.48,58.18 L66.58,58.65 L66.26,58.99 L65.99,59.11 L65.59,58.89 L65.65,58.14 L65.25,57.63 L65.13,57.15 L65.71,56.85 L65.56,56.39 L65.18,55.88 L65.36,55.6 L65.17,55.26 L64.58,54.85 L64.68,54.76 L65.06,54.83 L64.66,54.66 L64.82,54.77 L63.78,54.51 L64.15,54.72 L63.92,54.71 L63.42,54.49 L63.26,53.98 L62.88,53.63 L63.66,53.72 L63.4,53.38 L63.05,52.69 L63.31,52.51 L62.5,51.81 L62.86,51.66 L62.99,51.38 L63.01,51.03 L62.48,50.37 L62.94,50.26 L62.2,49.3 L61.85,48.33 L61.61,47.24 L61.83,46.4 L61.04,44.74 L61.23,43.87 L60.9,42.65 L60.47,41.45 L59.73,40.11 L59.96,39.96 L59.36,39.28 L59.26,39.45 L59.23,40.09 L59.44,41.39Z" fill="#1422ff" filter="url(#b0)"/>
<path d="M60.08,45.94 L59.68,55.7 L59.52,62.61 L59.48,69.58 L59.58,76.04 L59.87,81.38 L60.37,84.96 L61.01,86.69 L61.56,87.25 L62.07,87.35 L63.03,87.1 L64.35,86.43 L67.55,84.56 L68.99,84 L70.44,83.53 L71.86,82.94 L73.35,82.2 L79.19,79.07 L80.52,78.49 L82.42,77.82 L83.31,77.58 L84.68,77.34 L86.8,77.2 L88.37,77.27 L91.94,77.8 L93.98,77.69 L95.46,77.47 L96.78,77.16 L97.71,76.78 L98.03,76.57 L98.49,76.12 L98.86,75.53 L99.36,74.19 L99.62,73.16 L99.79,71.99 L99.89,69.74 L99.9,66.44 L99.85,63.7 L99.68,61.01 L99.34,58.84 L99.08,58.01 L98.76,57.23 L98.37,56.5 L97.51,55.19 L96.24,53.61 L95.7,53.05 L95.24,52.77 L94.78,52.7 L94.46,52.76 L93.95,53.08 L93.34,53.69 L92.16,55.74 L91.65,56.47 L91.05,57.04 L90.49,57.31 L90.07,57.4 L89.17,57.25 L88.45,56.8 L87.91,56.23 L86.66,54.47 L85.6,53.4 L84.26,52.66 L83.76,52.48 L83.31,52.4 L82.46,52.47 L76.29,53.87 L73.25,54.38 L70.24,54.98 L69.5,55.02 L68.15,54.88 L67.87,56.35 L67.6,58.95 L67.43,59.81 L67.14,60.42 L66.84,60.72 L66.34,60.96 L65.79,60.98 L65.51,60.91 L65.15,60.71 L64.75,60.32 L64.57,59.99 L64.38,59.33 L63.86,56.12 L63.33,56.02 L62.71,55.65 L62.3,55.12 L62.06,54.57 L61.89,53.91 L61.55,51.81 L60.79,49.05 L60.08,45.94Z" fill="#2a5cff" filter="url(#b1)"/>
<ellipse cx="73.86" cy="69.31" rx="3.26" ry="2" fill="#3a70ff" transform="rotate(153.91 73.86 69.31)" filter="url(#b2)" opacity="0.7"/>
<ellipse cx="67.56" cy="74.69" rx="2.46" ry="2.22" fill="#4a86ff" transform="rotate(16.94 67.56 74.69)" filter="url(#b2)" opacity="0.7"/>
<ellipse cx="70.28" cy="58.99" rx="3.06" ry="2.34" fill="#4a86ff" transform="rotate(107.18 70.28 58.99)" filter="url(#b2)" opacity="0.7"/>
<ellipse cx="72.51" cy="66.97" rx="2.93" ry="2.28" fill="#3a70ff" transform="rotate(2.7 72.51 66.97)" filter="url(#b2)" opacity="0.7"/>
<ellipse cx="75.68" cy="58.31" rx="1.94" ry="1.66" fill="#4a86ff" transform="rotate(140.06 75.68 58.31)" filter="url(#b2)" opacity="0.7"/>
<ellipse cx="70.83" cy="70" rx="1.95" ry="1.65" fill="#5a9cff" transform="rotate(89.96 70.83 70)" filter="url(#b2)" opacity="0.7"/>
<ellipse cx="78.9" cy="67.06" rx="2.1" ry="2.8" fill="#4a86ff" transform="rotate(127.41 78.9 67.06)" filter="url(#b2)" opacity="0.7"/>
<ellipse cx="70.57" cy="62.05" rx="2.12" ry="1.41" fill="#4a86ff" transform="rotate(72.07 70.57 62.05)" filter="url(#b2)" opacity="0.7"/>
<ellipse cx="83.32" cy="65.5" rx="3.32" ry="2.57" fill="#4a86ff" transform="rotate(38.43 83.32 65.5)" filter="url(#b2)" opacity="0.7"/>
<ellipse cx="85.25" cy="58.15" rx="2.28" ry="2.36" fill="#5a9cff" transform="rotate(13.15 85.25 58.15)" filter="url(#b2)" opacity="0.7"/>
<ellipse cx="78.11" cy="74.13" rx="2.09" ry="1.43" fill="#5a9cff" transform="rotate(2.73 78.11 74.13)" filter="url(#b2)" opacity="0.7"/>
<ellipse cx="72.84" cy="77.3" rx="1.84" ry="2.36" fill="#4a86ff" transform="rotate(10.78 72.84 77.3)" filter="url(#b2)" opacity="0.7"/>
<ellipse cx="82.13" cy="60.91" rx="2.61" ry="1.97" fill="#4a86ff" transform="rotate(177.35 82.13 60.91)" filter="url(#b2)" opacity="0.7"/>
<ellipse cx="81.47" cy="66.22" rx="2.29" ry="1.89" fill="#4a86ff" transform="rotate(0.08 81.47 66.22)" filter="url(#b2)" opacity="0.7"/>
<ellipse cx="83.74" cy="78.45" rx="2.67" ry="2.8" fill="#4a86ff" transform="rotate(37.93 83.74 78.45)" filter="url(#b2)" opacity="0.7"/>
<ellipse cx="72.46" cy="75.8" rx="2.76" ry="1.45" fill="#4a86ff" transform="rotate(38.38 72.46 75.8)" filter="url(#b2)" opacity="0.7"/>
<ellipse cx="69.2" cy="74" rx="2.19" ry="1.74" fill="#4a86ff" transform="rotate(13.37 69.2 74)" filter="url(#b2)" opacity="0.7"/>
<ellipse cx="68.01" cy="71" rx="1.63" ry="1.85" fill="#3a70ff" transform="rotate(81.58 68.01 71)" filter="url(#b2)" opacity="0.7"/>
<ellipse cx="86.02" cy="67.64" rx="2.63" ry="2.6" fill="#4a86ff" transform="rotate(112.9 86.02 67.64)" filter="url(#b2)" opacity="0.7"/>
<ellipse cx="70.46" cy="62.02" rx="2.7" ry="2.39" fill="#4a86ff" transform="rotate(133.1 70.46 62.02)" filter="url(#b2)" opacity="0.7"/>
<ellipse cx="85.57" cy="61.32" rx="3.31" ry="2.62" fill="#3a70ff" transform="rotate(14.13 85.57 61.32)" filter="url(#b2)" opacity="0.7"/>
<ellipse cx="64.14" cy="59.4" rx="2.52" ry="1.68" fill="#3a70ff" transform="rotate(126.82 64.14 59.4)" filter="url(#b2)" opacity="0.7"/>
<ellipse cx="69.17" cy="75.12" rx="2.67" ry="1.74" fill="#4a86ff" transform="rotate(167.26 69.17 75.12)" filter="url(#b2)" opacity="0.7"/>
<ellipse cx="86.45" cy="59.78" rx="2.46" ry="2.28" fill="#3a70ff" transform="rotate(110.57 86.45 59.78)" filter="url(#b2)" opacity="0.7"/>
<ellipse cx="69.73" cy="77.18" rx="1.97" ry="1.32" fill="#5a9cff" transform="rotate(74.06 69.73 77.18)" filter="url(#b2)" opacity="0.7"/>
<ellipse cx="68.98" cy="58.03" rx="2.11" ry="2.1" fill="#4a86ff" transform="rotate(16.59 68.98 58.03)" filter="url(#b2)" opacity="0.7"/>
<path d="M86,77.5 C85.88,75.7 86.22,71 86.8,68 C87.38,65 88.47,61.58 89.5,59.5 C90.53,57.42 91.83,56 93,55.5 C94.17,55 95.58,55.42 96.5,56.5 C97.42,57.58 98.12,59.58 98.5,62 C98.88,64.42 98.97,68.5 98.8,71 C98.63,73.5 98.63,75.7 97.5,77 C96.37,78.3 93.67,78.5 92,78.8 C90.33,79.1 88.5,79.02 87.5,78.8 C86.5,78.58 86.12,79.3 86,77.5Z" fill="#4fd8ff" filter="url(#b1)"/>
<path d="M87.5,76 C87.22,74.37 88.13,70.5 88.8,68 C89.47,65.5 90.55,62.42 91.5,61 C92.45,59.58 93.58,59.17 94.5,59.5 C95.42,59.83 96.5,61.08 97,63 C97.5,64.92 97.67,68.75 97.5,71 C97.33,73.25 97.17,75.37 96,76.5 C94.83,77.63 91.92,77.88 90.5,77.8 C89.08,77.72 87.78,77.63 87.5,76Z" fill="#70f0c0" filter="url(#b1)"/>
<path d="M88.6,75 C88.52,73.53 89.35,70.08 90,68 C90.65,65.92 91.67,63.5 92.5,62.5 C93.33,61.5 94.32,61.42 95,62 C95.68,62.58 96.33,64.25 96.6,66 C96.87,67.75 96.87,70.83 96.6,72.5 C96.33,74.17 96.02,75.28 95,76 C93.98,76.72 91.57,76.97 90.5,76.8 C89.43,76.63 88.68,76.47 88.6,75Z" fill="#9ef04a" filter="url(#b1)"/>
<ellipse cx="93.6" cy="69.8" rx="2.1" ry="5" fill="#d8f030" transform="rotate(15 93.6 69.8)" filter="url(#b1)"/>
<ellipse cx="93.6" cy="69.8" rx="1" ry="3.2" fill="#f8b020" transform="rotate(15 93.6 69.8)" filter="url(#b1)"/>
<rect x="62" y="42" width="1.1" height="40" fill="#60d0a0" opacity="0.85" filter="url(#b0)"/>
</g>
<clipPath id="cA01"><rect x="140.5" y="28.5" width="51" height="54.3"/></clipPath>
<g clip-path="url(#cA01)">
<path d="M138.22,39.84 L138.06,38.07 L138.48,37.62 L138.63,37.05 L138.77,36.76 L139.09,37.03 L139.79,38.2 L140.73,40.31 L141.04,41.12 L141.01,41.29 L141.93,43.13 L142.45,43.74 L142.96,44.49 L142.74,43.91 L143.46,44.78 L143.42,44.55 L144.02,45.55 L144.06,45.45 L144.17,45.45 L144.24,45.37 L144.66,45.95 L144.53,45.36 L144.98,45.95 L145.64,46.57 L145.66,46.12 L146.17,46.82 L146.23,46.37 L146.45,46.31 L146.75,46.41 L147.26,47.14 L147.36,46.63 L147.8,47.15 L148.1,47.23 L148.36,47.1 L148.55,46.57 L149.03,47.34 L149.32,47.13 L149.69,47.27 L150.1,47.56 L150.53,48 L150.85,47.24 L151.27,47.5 L151.68,47.59 L152.51,47.42 L152.84,48.3 L153.63,47.99 L154.28,48.38 L154.73,47.95 L155.11,49.1 L155.45,49.09 L155.73,49.24 L155.86,49.8 L156.68,49.49 L156.73,50.15 L156.91,50.51 L157.23,50.58 L157.34,51.63 L157.91,51.33 L158.14,51.58 L158.2,52.06 L158.44,52.27 L158.75,52.41 L158.42,53.28 L158.71,53.44 L159.09,53.53 L159.28,53.82 L159.22,54.33 L159.9,54.24 L159.54,55.41 L159.65,55.77 L160.16,55.91 L159.76,56.56 L160.4,56.7 L160.67,57.04 L160.66,57.51 L160.2,58.11 L160.88,58.37 L160.43,58.92 L160.57,59.33 L160.88,59.74 L161.54,60.16 L160.84,60.63 L161.33,61.1 L161.05,61.98 L160.68,62.35 L161.63,63.01 L161.26,63.39 L161.44,63.92 L161.48,64.42 L161.7,65 L160.83,65.08 L161.3,65.81 L161.34,66.83 L161.17,67.22 L161.8,68.21 L161.2,68.27 L161.03,69.19 L161.16,69.88 L160.68,69.98 L161.15,71.09 L161.1,71.67 L160.91,72.08 L160.62,72.35 L160.81,73.28 L160.33,73.23 L160.29,73.81 L160.42,75.3 L160.04,75.27 L160.15,76.08 L159.95,76.25 L159.66,76.17 L159.56,76.38 L159.75,77.16 L159.54,77.08 L159.57,77.92 L159.37,77.91 L158.99,77.56 L158.95,78.07 L158.76,78.36 L158.4,78.34 L157.95,79.67 L157.37,79.61 L156.8,79.78 L156.33,80.56 L155.65,80.7 L154.99,81.07 L154.39,82.08 L153.7,82.88 L152.94,82.86 L152.2,83.63 L151.45,84.04 L150.71,84.06 L149.99,84.28 L149.19,85.34 L148.5,85.29 L147.75,85.66 L146.08,86.81 L145.41,86.55 L144.42,87.58 L143.55,88.09 L142.68,88.5 L141.86,88.73 L140.79,89.53 L140.3,88.73 L139.63,88.32 L139.02,87.63 L138.4,86.77 L138.26,84.83 L137.49,83.61 L137.26,80.94 L137.14,77.72 L137.26,73.96 L136.77,70.47 L137.51,66.09 L136.9,53.9 L137.58,50.43 L137.21,46.54 L137.69,43.83 L138.22,39.84Z" fill="#1422ff" filter="url(#b0)"/>
<path d="M139.32,40.63 L139.12,43.24 L138.86,48.58 L138.63,55.08 L138.48,62.17 L138.45,69.28 L138.56,75.85 L138.86,81.29 L139.37,84.96 L140.03,86.77 L140.62,87.38 L141.18,87.49 L142.16,87.23 L143.49,86.54 L146.44,84.71 L147.92,84.03 L149.2,83.53 L150.39,82.92 L151.63,82.16 L152.86,81.32 L155.13,79.59 L157.49,77.63 L158.07,77.03 L158.26,76.71 L158.85,74.73 L159.2,73.17 L159.5,71.37 L159.87,67.84 L159.94,66.17 L159.91,63.7 L159.81,62.13 L159.5,59.87 L159.21,58.42 L158.67,56.43 L158.02,54.7 L157.53,53.69 L156.67,52.33 L155.64,51.07 L154.51,50.06 L153.7,49.57 L153.26,49.39 L152.13,49.12 L149.33,48.7 L146.5,48.05 L144.91,47.51 L143.88,46.96 L142.95,46.23 L141.02,44.25 L140.43,43.29 L139.32,40.63Z" fill="#2150ff" filter="url(#b1)"/>
<path d="M138,49 C139.5,44.03 144.5,49.83 147,51 C149.5,52.17 151.42,54 153,56 C154.58,58 155.83,60.5 156.5,63 C157.17,65.5 157.25,68.58 157,71 C156.75,73.42 156.33,75.92 155,77.5 C153.67,79.08 151.83,79.95 149,80.5 C146.17,81.05 139.83,86.05 138,80.8 C136.17,75.55 136.5,53.97 138,49Z" fill="#3470ff" filter="url(#b2)" opacity="0.9"/>
<path d="M138,54 C139.33,50.05 143.92,55.17 146,56.5 C148.08,57.83 149.42,59.92 150.5,62 C151.58,64.08 152.33,66.75 152.5,69 C152.67,71.25 152.42,73.7 151.5,75.5 C150.58,77.3 149.25,79.02 147,79.8 C144.75,80.58 139.5,84.5 138,80.2 C136.5,75.9 136.67,57.95 138,54Z" fill="#4fd8ff" filter="url(#b2)" opacity="0.95"/>
<path d="M138,61 C139.17,58.25 143.25,61.92 145,63 C146.75,64.08 147.67,65.92 148.5,67.5 C149.33,69.08 150,70.83 150,72.5 C150,74.17 149.58,76.33 148.5,77.5 C147.42,78.67 145.25,79.17 143.5,79.5 C141.75,79.83 138.92,82.58 138,79.5 C137.08,76.42 136.83,63.75 138,61Z" fill="#9ef04a" filter="url(#b2)"/>
<rect x="141" y="41" width="1.1" height="41" fill="#70c060" opacity="0.85" filter="url(#b0)"/>
<path d="M169.27,74 L169.14,73.74 L169.87,73.48 L169.3,72.89 L169.37,72.61 L169.74,72.42 L169.28,71.94 L169.86,71.89 L170.2,71.79 L170.22,71.52 L169.93,70.99 L170.47,71.12 L170.18,70.51 L170.28,70.25 L170.57,70.22 L171.05,70.51 L170.84,69.79 L171.25,70.05 L171.43,69.39 L171.45,68.8 L171.92,69.46 L172,68.94 L172.45,69.02 L172.67,69.2 L172.77,68.12 L173,68.48 L173.19,68.26 L173.4,68.19 L173.63,67.89 L173.76,68.67 L174.05,67.91 L174.52,67.58 L174.69,67.69 L175.09,66.92 L175.07,67.64 L175.43,67.6 L175.7,67.32 L175.64,67.88 L176.09,67.24 L176.18,67.43 L176.11,68.28 L176.45,68.03 L176.2,68.77 L176.38,68.82 L176.67,68.73 L176.85,68.83 L176.53,69.57 L176.86,69.51 L176.5,70.48 L176.56,70.7 L177.1,70.57 L176.83,71.09 L176.93,71.34 L177.17,71.55 L176.93,72.01 L176.4,72.53 L176.81,72.72 L176.91,73.05 L176.65,73.41 L177.22,74.13 L176.64,74.37 L176.38,74.61 L176.67,75.03 L176.34,75.19 L176.24,75.45 L176.59,76.03 L176.61,76.45 L176.07,76.34 L176.14,76.8 L175.99,77.03 L175.67,77.02 L175.54,77.25 L175.81,78.15 L175.48,78.06 L175.23,78.6 L175.05,78.74 L174.64,78.18 L174.64,78.9 L174.45,79.08 L174,79.23 L173.83,79.95 L173.53,79.21 L173.07,79.39 L172.83,79.67 L172.66,79.18 L172.34,80.06 L171.99,79.65 L171.88,79.29 L171.56,79.78 L171.59,78.99 L171.3,79.3 L170.75,79.62 L170.85,78.87 L170.42,79.32 L170.48,78.75 L170.33,78.24 L169.77,78.74 L170,78.05 L169.66,78.18 L169.56,77.97 L169.54,77.65 L169.98,76.86 L169.39,77.1 L169.51,76.66 L169.27,76.16 L168.78,76.1 L169.52,75.38 L169.37,75.14 L169.37,74.54 L169.67,74.21 L169.27,74Z" fill="#1422ff" filter="url(#b0)"/>
<path d="M170.59,74.12 L170.59,75.48 L170.69,76.43 L170.97,77.44 L171.34,77.92 L171.66,78.15 L171.99,78.28 L172.58,78.3 L173.44,78.08 L174.08,77.67 L174.6,76.9 L174.94,76.09 L175.33,74.73 L175.48,73.76 L175.56,72.66 L175.54,71.08 L175.39,69.76 L175.17,68.82 L174.35,69.22 L172.7,70.19 L172.17,70.59 L171.75,71.01 L171.24,71.83 L170.94,72.55 L170.72,73.34 L170.59,74.12Z" fill="#4fd8ff" filter="url(#b1)"/>
<path d="M171.59,74.22 L171.57,74.98 L171.62,75.85 L171.75,76.61 L171.92,77.07 L172.13,77.26 L172.33,77.31 L172.86,77.22 L173.21,77.08 L173.57,76.7 L173.85,76.12 L174.13,75.35 L174.43,74.1 L174.57,72.11 L174.46,70.31 L173.02,71.19 L172.4,71.8 L171.89,72.88 L171.7,73.55 L171.59,74.22Z" fill="#9ef04a" filter="url(#b1)"/>
</g>
<clipPath id="cA02"><rect x="219.5" y="28.5" width="51" height="54.3"/></clipPath>
<g clip-path="url(#cA02)">
<path d="M217.13,41.2 L217.24,40.02 L217.09,38.74 L217.91,39.14 L218.16,39.47 L218.54,40.23 L219.11,41.49 L219.12,41.85 L219.84,43.98 L220.3,45.55 L221.21,47.33 L221.17,47.26 L222.78,49.93 L222.6,49.6 L223.35,50.55 L223.73,50.74 L224.25,51.32 L224.16,50.84 L224.33,50.76 L225.06,51.21 L225.13,50.83 L225.74,51.53 L226.01,51.52 L226.38,51 L226.9,51.56 L227.02,51 L228.36,52.15 L228.61,51.57 L229.14,52.25 L229.52,51.99 L229.96,51.93 L230.41,51.96 L230.88,52.95 L231.33,52.5 L231.74,52.96 L232.55,53.21 L233.09,52.54 L233.27,53.41 L233.65,53.34 L234.22,53.65 L234.27,54.34 L234.88,53.59 L235.08,53.84 L235.33,53.94 L235.52,54.14 L235.96,53.88 L235.71,54.8 L236.06,54.7 L236.68,54.7 L236.66,55.18 L237.34,54.77 L237.23,55.76 L237.34,56.04 L237.81,55.96 L237.56,56.59 L238.08,56.52 L238.45,56.59 L238.47,56.97 L238.21,57.54 L238.72,57.56 L238.55,58.04 L238.53,58.4 L239.54,58.6 L239.23,59.1 L239.78,59.61 L239.47,60.06 L239.43,60.41 L240.15,60.57 L240.25,60.91 L240.18,61.27 L240.72,61.55 L240.75,61.91 L240.27,62.29 L240.43,62.64 L240.93,63 L240.66,63.36 L240.98,63.75 L241.46,64.19 L241.34,64.57 L240.83,64.85 L241.31,65.35 L241.05,66.07 L241.33,66.57 L241.91,67.23 L241.34,67.42 L241.48,67.93 L241.47,68.38 L241.31,68.75 L240.88,68.96 L241.57,69.92 L241.39,70.34 L241.25,71.38 L241.44,72.15 L240.68,72.05 L240.85,72.83 L240.84,74.07 L240.49,74.3 L240.88,75.43 L240.38,75.41 L239.88,75.94 L239.99,76.68 L239.46,76.41 L239.67,77.3 L239.55,77.66 L239.33,77.87 L238.84,77.59 L238.92,78.4 L238.39,78.07 L238.15,78.39 L237.94,78.86 L237.81,79.66 L237.16,79.28 L236.89,80.06 L235.75,80.39 L235.09,80.45 L234.67,81.73 L233.95,81.81 L231.9,83.61 L231.15,83.17 L230.42,84.01 L229.68,84.42 L228.23,84.97 L227.41,85.89 L226.76,85.6 L226.01,85.8 L224.29,86.97 L223.54,87.07 L222.48,88.17 L221.54,88.77 L220.04,88.75 L219.18,88.89 L218.71,88.05 L218.15,87.31 L217.35,86.82 L216.89,85.48 L216.7,83.33 L216.26,81.05 L216.06,78.01 L216.45,74.15 L216.28,70.57 L215.97,66.8 L216.25,58.81 L215.81,54.68 L216.34,51.23 L216.73,48.15 L216.81,42.66 L217.13,41.2Z" fill="#1422ff" filter="url(#b0)"/>
<path d="M218.21,43.49 L217.87,49.64 L217.65,55.92 L217.49,62.79 L217.46,69.71 L217.57,76.11 L217.86,81.4 L218.36,84.95 L219.02,86.68 L219.59,87.25 L220.17,87.35 L221.17,87.09 L222.51,86.42 L225.62,84.58 L226.95,84.01 L228.24,83.56 L229.42,83.02 L230.63,82.36 L231.84,81.62 L234.1,80.06 L236.66,78.15 L237.62,77.32 L238.19,76.65 L238.66,75.83 L239.13,74.63 L239.34,73.9 L239.67,72.2 L239.88,70.4 L240,68.74 L240.01,67.29 L239.9,65.9 L239.7,64.58 L239.44,63.33 L239.12,62.21 L238.48,60.64 L237.26,58.15 L236.57,56.9 L236.1,56.28 L235.6,55.82 L235.05,55.48 L232.21,54.4 L227.15,52.86 L224.05,52.36 L223.33,52.11 L222.71,51.76 L222.1,51.24 L221.39,50.38 L219.73,47.59 L219.22,46.48 L218.21,43.49Z" fill="#2150ff" filter="url(#b1)"/>
<path d="M217,53 C218.67,48.75 224.25,54.33 227,55.5 C229.75,56.67 231.75,58.08 233.5,60 C235.25,61.92 236.83,64.5 237.5,67 C238.17,69.5 238.25,72.83 237.5,75 C236.75,77.17 236.42,79 233,80 C229.58,81 219.67,85.5 217,81 C214.33,76.5 215.33,57.25 217,53Z" fill="#3470ff" filter="url(#b2)" opacity="0.9"/>
<path d="M217,59 C218.5,55.8 223.58,60.33 226,61.5 C228.42,62.67 230.08,64.25 231.5,66 C232.92,67.75 234.33,69.92 234.5,72 C234.67,74.08 234,77.12 232.5,78.5 C231,79.88 228.08,79.93 225.5,80.3 C222.92,80.67 218.42,84.25 217,80.7 C215.58,77.15 215.5,62.2 217,59Z" fill="#4fd8ff" filter="url(#b2)" opacity="0.95"/>
<path d="M217,67 C218.5,65.22 223.75,68.5 226,69.5 C228.25,70.5 229.58,71.67 230.5,73 C231.42,74.33 232.08,76.37 231.5,77.5 C230.92,78.63 229.42,79.35 227,79.8 C224.58,80.25 218.67,82.33 217,80.2 C215.33,78.07 215.5,68.78 217,67Z" fill="#9ef04a" filter="url(#b2)"/>
<rect x="220" y="42" width="1.1" height="40" fill="#a08040" opacity="0.85" filter="url(#b0)"/>
<path d="M247.77,74.02 L248.1,73.71 L247.98,73.42 L248.05,73.13 L248.64,72.94 L248.01,72.18 L248.38,71.99 L248.49,71.72 L248.35,71.31 L248.8,71.24 L249.3,71.27 L249.01,70.73 L249.11,70.47 L249.36,70.36 L249.3,69.52 L249.92,69.93 L250.08,69.75 L250.17,69.43 L250.38,69.31 L250.68,69.4 L250.57,68.51 L251.18,68.76 L251.41,68.74 L251.55,68.32 L251.88,68.93 L252,68.34 L252.19,67.97 L252.42,67.83 L252.65,68.24 L252.9,67.54 L253.09,68.08 L253.3,68.15 L253.53,67.99 L253.87,67.33 L253.96,67.92 L254.32,67.35 L254.51,67.44 L254.65,67.67 L254.62,68.27 L255.08,67.6 L255.07,68.1 L255.54,68 L255.89,67.79 L255.55,68.77 L255.89,68.61 L256.01,69.17 L255.97,69.56 L256.69,69.07 L256.43,69.7 L256.53,70.25 L256.72,70.41 L256.13,71.14 L256.74,71.03 L256.88,71.28 L256.9,71.61 L256.71,72.03 L257.27,72.19 L256.55,72.74 L256.46,73.08 L256.95,73.72 L256.48,74.02 L257.07,74.44 L256.96,74.78 L256.49,74.96 L256.22,75.17 L256.59,75.66 L256.15,75.77 L256.19,76.14 L256.49,76.74 L256.37,77.06 L255.85,76.97 L255.92,77.45 L255.75,77.67 L255.38,77.59 L255.52,78.74 L255.22,78.71 L254.99,78.77 L254.94,79.24 L254.27,78.81 L254.01,79.7 L253.69,79.41 L253.51,79.89 L253.26,80.02 L252.72,79.33 L252.49,79.95 L252.26,79.62 L252.03,79.73 L251.77,80.06 L251.51,80.24 L251.43,79.42 L251.13,79.72 L250.58,79.2 L250.05,79.91 L250.04,79.3 L249.42,78.94 L249.66,78.13 L249.08,78.59 L248.77,78.19 L248.79,77.78 L248.24,77.93 L248.78,77.02 L248.44,76.54 L248.06,76.4 L248.47,75.79 L247.66,75.81 L248.08,74.92 L248.39,74.53 L247.76,74.33 L247.77,74.02Z" fill="#1422ff" filter="url(#b0)"/>
<path d="M249.3,74.05 L249.41,75.48 L249.64,76.5 L249.94,77.32 L250.09,77.58 L250.4,77.93 L251.09,78.32 L251.64,78.47 L252.18,78.51 L252.8,78.45 L253.42,78.28 L254.08,77.88 L254.61,77.05 L255.1,75.71 L255.4,74.28 L255.49,73.23 L255.49,72.14 L255.33,70.78 L255,69.76 L254.59,69.1 L254.42,68.98 L254.12,68.98 L253.53,69.11 L252.85,69.35 L251.58,69.97 L250.77,70.59 L250.36,71.06 L249.8,72.06 L249.4,73.26 L249.3,74.05Z" fill="#4fd8ff" filter="url(#b1)"/>
<path d="M250.3,74.09 L250.33,74.85 L250.49,75.78 L250.73,76.6 L250.98,77.1 L251.44,77.38 L252.17,77.51 L252.85,77.41 L253.37,77.16 L253.71,76.62 L254,75.87 L254.34,74.58 L254.46,73.69 L254.5,72.68 L254.41,71.32 L254.28,70.7 L254.01,70.02 L253.23,70.28 L252.37,70.68 L251.86,70.99 L251.31,71.47 L250.86,72.15 L250.58,72.8 L250.38,73.47 L250.3,74.09Z" fill="#9ef04a" filter="url(#b1)"/>
</g>
<clipPath id="cA10"><rect x="61.5" y="103.8" width="51" height="54.3"/></clipPath>
<g clip-path="url(#cA10)">
<path d="M58.94,119.56 L59.01,120.98 L58.21,122.4 L58.45,124.87 L58.6,127.59 L58.55,130.48 L58.24,133.52 L58.87,136.72 L58.23,139.96 L58.08,143.18 L58.22,146.17 L58.72,148.75 L58.34,151.46 L59.07,153.1 L59.25,154.61 L59.31,155.8 L59.17,156.88 L59.96,156.91 L59.86,157.51 L60.38,157.37 L60.96,157.03 L61.7,156.43 L61.55,156.6 L63.07,155.2 L64.67,154.03 L64.87,154.23 L65.61,154.01 L67.03,153.73 L67.18,154.27 L68.39,153.63 L69.99,153.35 L70.74,153.29 L71.92,152.6 L72.26,153.14 L73.83,152.85 L74.64,152.56 L75.12,152.88 L76.11,152.03 L76.7,151.98 L77.75,152.2 L78.47,151.67 L78.88,152.16 L79.52,151.81 L80.18,151.27 L80.74,151.08 L81.22,151.48 L81.81,151 L82.33,151.24 L82.86,151.68 L83.41,151.55 L83.91,151.1 L84.45,151.57 L84.95,151.63 L85.4,151.52 L86.53,152.84 L86.94,152.72 L87.4,152.91 L87.95,153.44 L88.29,153.23 L88.71,153.29 L89.35,153.96 L89.91,154.32 L90.25,154.09 L90.92,154.57 L91.41,154.59 L91.73,154.23 L92.18,154.14 L93,154.73 L93.35,154.43 L94.66,154.87 L95.18,154.86 L95.24,154.18 L95.96,154.5 L96.69,154.15 L97.11,154.08 L97.95,154.55 L97.87,153.89 L98.23,153.77 L98.8,153.39 L98.63,152.72 L99.49,153.12 L99.87,152.52 L99.94,152.1 L100.5,152.13 L99.99,151.19 L100.36,151.02 L100.66,150.77 L101.04,150.56 L100.79,149.85 L101.57,149.9 L101.31,149.18 L101.11,147.96 L101.71,147.79 L101.21,146.93 L101.74,146.68 L101.95,146.21 L102,145.65 L101.39,144.78 L101.97,144.46 L101.57,143.71 L101.56,143.11 L101.73,142.54 L102.35,142.07 L101.66,141.2 L101.91,140.57 L101.82,139.85 L101.56,139.11 L101.09,138.36 L101.85,137.74 L101.61,137.05 L101.52,136.39 L101.73,135.13 L100.86,134.64 L101.2,133.56 L100.91,132.62 L101.45,132.02 L100.52,131.34 L100.61,130.89 L100.6,130.47 L100.14,130.23 L100.74,129.24 L100.25,129.08 L100.02,128.84 L100.12,128.46 L99.36,128.2 L99.85,127.66 L99.82,127.39 L99.5,127.29 L99.48,127.05 L99.56,126.77 L98.79,127.01 L98.79,126.82 L98.93,126.56 L98.83,126.47 L98.43,126.59 L98.84,126.22 L97.55,126.93 L97.7,126.85 L96.97,127.37 L97.19,127.3 L96.77,127.75 L95.98,128.34 L96.23,128.3 L95.51,128.84 L95.2,129.21 L95.49,129.12 L93.19,130.65 L93.74,130.38 L93.14,130.76 L92.79,131.06 L92.78,131.14 L91.68,131.82 L91.88,131.82 L91.13,132.68 L91.71,132.71 L90.91,133.37 L90.43,134.28 L90.53,134.66 L89.76,135.21 L90.36,135.52 L90.29,135.92 L89.99,136.29 L89.48,136.57 L89.83,136.83 L89.17,136.89 L89.23,136.85 L88.53,136.6 L88.84,136.34 L88.49,136 L87.88,135.68 L87.61,135.32 L88.04,134.73 L87.56,134.4 L87.5,133.9 L87.63,133.25 L87.31,132.91 L86.68,132.93 L86.75,132.36 L86.63,131.97 L86.31,131.85 L86.42,130.5 L86.05,130.52 L85.79,130.41 L85.77,129.77 L85.49,129.75 L85.29,129.58 L85.27,128.78 L85.17,128.17 L84.87,128.37 L84.73,127.81 L84.52,127.56 L84.25,127.7 L84.02,127.64 L83.87,126.65 L83.62,126.69 L82.88,125.68 L82.65,126.31 L82.38,125.66 L81.84,125.3 L81.58,125.2 L81.18,124.3 L81.01,124.86 L80.43,124.73 L80.07,124.47 L79.91,125.01 L79.34,124.15 L78.7,124.25 L78.48,124.56 L77.94,124.04 L77.94,124.78 L77.09,124.28 L76.61,123.91 L76.61,124.41 L76,123.74 L75.92,124.01 L75.63,124.2 L74.95,123.42 L75,123.78 L74.52,123.31 L73.95,122.99 L74.18,123.57 L73.6,122.99 L73.53,123.16 L73.03,123.04 L72.42,122.54 L72.7,123.19 L72.46,123.19 L72.3,123.29 L72.21,123.48 L72.34,123.94 L71.64,123.45 L71.53,123.96 L71.37,124.12 L71.05,124.12 L71.42,124.82 L71.09,124.83 L70.61,124.71 L70.41,124.88 L70.33,125.18 L69.69,125 L69.69,125.4 L69.83,125.89 L68.95,125.97 L68.95,126.34 L67.81,126.27 L67.94,126.69 L67.9,126.98 L67.43,126.98 L67.29,127.15 L67.33,127.43 L66.52,127.24 L66.18,127.33 L66.24,127.64 L66.08,127.82 L65.59,127.82 L65.97,128.23 L65.61,128.26 L64.62,128.1 L64.77,128.24 L63.97,127.92 L64.08,127.82 L63.81,127.44 L62.9,126.5 L63.01,125.88 L62.24,124.67 L61.71,123.5 L61.39,122.44 L61.6,121.77 L60.68,120.42 L60.59,119.78 L60.19,119.11 L59.75,118.64 L58.93,118.18 L59.36,118.98 L58.94,119.56Z" fill="#1422ff" filter="url(#b0)"/>
<path d="M60.11,122.61 L59.92,126.25 L59.79,131.23 L59.73,136.74 L59.76,142.3 L59.87,147.45 L60.08,151.71 L60.38,154.55 L60.63,155.52 L62.02,154.24 L63.07,153.45 L63.42,153.26 L64.55,152.84 L75.07,151.12 L79.31,150.24 L81.33,149.91 L82.39,149.85 L83.47,149.9 L84.79,150.17 L85.81,150.54 L86.67,150.95 L89.21,152.32 L89.92,152.63 L90.62,152.84 L92.26,153.09 L93.97,153.19 L94.79,153.18 L96.21,153.01 L96.77,152.87 L97.65,152.47 L98,152.23 L98.62,151.61 L98.9,151.22 L99.41,150.24 L99.63,149.67 L99.98,148.28 L100.3,145.68 L100.42,142.73 L100.36,140.42 L100.21,138 L99.8,133.88 L99.26,130.9 L98.94,129.75 L98.34,128.12 L95.94,130.44 L93.6,132.17 L92.91,132.81 L92.4,133.52 L91.3,136.41 L90.98,137.12 L90.65,137.62 L90.37,137.93 L89.85,138.24 L89.45,138.38 L89.02,138.39 L88.61,138.27 L88.09,138 L87.81,137.73 L87.37,137.15 L86.72,135.79 L85.81,133.5 L84.44,130.46 L83.66,128.95 L83.06,128.15 L82.36,127.4 L81.61,126.77 L80.83,126.27 L80.1,125.97 L79.69,125.89 L76.9,125.68 L76.11,125.55 L75.5,125.36 L73.65,124.55 L73.14,124.4 L72.01,125.53 L71.57,125.89 L68.85,127.82 L67.48,128.53 L66.14,129.33 L65.36,129.57 L64.55,129.59 L63.59,129.27 L62.88,128.75 L62.62,128.45 L61.94,127.35 L61.27,125.76 L60.11,122.61Z" fill="#2150ff" filter="url(#b1)"/>
<path d="M64,134 C65,130.67 67.67,130.67 70,130 C72.33,129.33 75.67,129.33 78,130 C80.33,130.67 82.83,132 84,134 C85.17,136 85.67,139.5 85,142 C84.33,144.5 82.5,147.5 80,149 C77.5,150.5 72.67,150.83 70,151 C67.33,151.17 65,152.83 64,150 C63,147.17 63,137.33 64,134Z" fill="#2a58ff" filter="url(#b2)" opacity="0.7"/>
<ellipse cx="68.24" cy="142.43" rx="2.13" ry="2.05" fill="#60d0ff" transform="rotate(104.55 68.24 142.43)" filter="url(#b2)" opacity="0.7"/>
<ellipse cx="76.32" cy="150.09" rx="2.3" ry="1.97" fill="#58b8ff" transform="rotate(179.22 76.32 150.09)" filter="url(#b2)" opacity="0.7"/>
<ellipse cx="73.35" cy="148.57" rx="2.31" ry="2.09" fill="#58b8ff" transform="rotate(41.75 73.35 148.57)" filter="url(#b2)" opacity="0.7"/>
<ellipse cx="66.34" cy="150.44" rx="2.16" ry="1.22" fill="#58b8ff" transform="rotate(28.69 66.34 150.44)" filter="url(#b2)" opacity="0.7"/>
<ellipse cx="84.06" cy="131.9" rx="2.83" ry="2.35" fill="#4a90ff" transform="rotate(85.09 84.06 131.9)" filter="url(#b2)" opacity="0.7"/>
<ellipse cx="78.81" cy="149.46" rx="2.71" ry="2.49" fill="#4a90ff" transform="rotate(131.06 78.81 149.46)" filter="url(#b2)" opacity="0.7"/>
<ellipse cx="75.69" cy="151.25" rx="1.73" ry="1.71" fill="#58b8ff" transform="rotate(24.47 75.69 151.25)" filter="url(#b2)" opacity="0.7"/>
<ellipse cx="67.77" cy="151.28" rx="2.24" ry="2.08" fill="#4a90ff" transform="rotate(75.81 67.77 151.28)" filter="url(#b2)" opacity="0.7"/>
<ellipse cx="81.34" cy="143.05" rx="2.41" ry="1.77" fill="#58b8ff" transform="rotate(162.76 81.34 143.05)" filter="url(#b2)" opacity="0.7"/>
<ellipse cx="78" cy="150.51" rx="2.96" ry="2.59" fill="#60d0ff" transform="rotate(125.2 78 150.51)" filter="url(#b2)" opacity="0.7"/>
<ellipse cx="78.37" cy="137.85" rx="2.42" ry="2" fill="#58b8ff" transform="rotate(128.49 78.37 137.85)" filter="url(#b2)" opacity="0.7"/>
<ellipse cx="67.64" cy="148.46" rx="2.48" ry="1.6" fill="#58b8ff" transform="rotate(86.76 67.64 148.46)" filter="url(#b2)" opacity="0.7"/>
<ellipse cx="77.05" cy="141.15" rx="2.08" ry="1.29" fill="#58b8ff" transform="rotate(3.62 77.05 141.15)" filter="url(#b2)" opacity="0.7"/>
<ellipse cx="72.4" cy="139.72" rx="1.7" ry="2.05" fill="#58b8ff" transform="rotate(68 72.4 139.72)" filter="url(#b2)" opacity="0.7"/>
<ellipse cx="75.9" cy="142.57" rx="3.07" ry="1.59" fill="#58b8ff" transform="rotate(179.73 75.9 142.57)" filter="url(#b2)" opacity="0.7"/>
<ellipse cx="69.81" cy="132.62" rx="2.52" ry="1.24" fill="#58b8ff" transform="rotate(174.86 69.81 132.62)" filter="url(#b2)" opacity="0.7"/>
<ellipse cx="69.42" cy="136.53" rx="2.67" ry="2.57" fill="#4a90ff" transform="rotate(56.49 69.42 136.53)" filter="url(#b2)" opacity="0.7"/>
<ellipse cx="84.09" cy="149.83" rx="2.14" ry="1.84" fill="#60d0ff" transform="rotate(69.51 84.09 149.83)" filter="url(#b2)" opacity="0.7"/>
<ellipse cx="82.07" cy="145.3" rx="1.67" ry="2.56" fill="#60d0ff" transform="rotate(48.83 82.07 145.3)" filter="url(#b2)" opacity="0.7"/>
<ellipse cx="76.95" cy="146.03" rx="3.09" ry="1.81" fill="#4a90ff" transform="rotate(93.8 76.95 146.03)" filter="url(#b2)" opacity="0.7"/>
<ellipse cx="75.07" cy="131.24" rx="2.21" ry="2.01" fill="#58b8ff" transform="rotate(67.77 75.07 131.24)" filter="url(#b2)" opacity="0.7"/>
<ellipse cx="75.96" cy="133.8" rx="2.58" ry="1.67" fill="#4a90ff" transform="rotate(122.27 75.96 133.8)" filter="url(#b2)" opacity="0.7"/>
<path d="M86,153 C85.5,151.75 86.33,148.33 87,146 C87.67,143.67 88.83,141.17 90,139 C91.17,136.83 92.67,133.83 94,133 C95.33,132.17 97.08,132.67 98,134 C98.92,135.33 99.25,138.5 99.5,141 C99.75,143.5 99.92,147.08 99.5,149 C99.08,150.92 98.58,151.75 97,152.5 C95.42,153.25 91.83,153.42 90,153.5 C88.17,153.58 86.5,154.25 86,153Z" fill="#4fd8ff" filter="url(#b1)"/>
<path d="M88.5,151.5 C88.33,150.25 89.25,147.17 90,145 C90.75,142.83 92,139.67 93,138.5 C94,137.33 95.17,137.25 96,138 C96.83,138.75 97.67,141.17 98,143 C98.33,144.83 98.33,147.58 98,149 C97.67,150.42 97.17,150.92 96,151.5 C94.83,152.08 92.25,152.5 91,152.5 C89.75,152.5 88.67,152.75 88.5,151.5Z" fill="#70f0c0" filter="url(#b1)"/>
<path d="M89.8,150.5 C89.77,149.42 90.68,146.67 91.3,145 C91.92,143.33 92.78,141.25 93.5,140.5 C94.22,139.75 95.02,139.75 95.6,140.5 C96.18,141.25 96.8,143.5 97,145 C97.2,146.5 97.22,148.42 96.8,149.5 C96.38,150.58 95.38,151.17 94.5,151.5 C93.62,151.83 92.28,151.67 91.5,151.5 C90.72,151.33 89.83,151.58 89.8,150.5Z" fill="#9ef04a" filter="url(#b1)"/>
<ellipse cx="94.6" cy="146.8" rx="2" ry="3.4" fill="#e8f030" transform="rotate(25 94.6 146.8)" filter="url(#b1)"/>
<ellipse cx="94.5" cy="147" rx="1.2" ry="2.2" fill="#f59a1e" transform="rotate(25 94.5 147)" filter="url(#b1)"/>
<ellipse cx="94.4" cy="147.2" rx="0.8" ry="1.4" fill="#e3151a" transform="rotate(25 94.4 147.2)" filter="url(#b1)"/>
<rect x="62" y="120" width="1.1" height="35" fill="#c05040" opacity="0.7" filter="url(#b0)"/>
</g>
<clipPath id="cA11"><rect x="140.5" y="103.8" width="51" height="54.3"/></clipPath>
<g clip-path="url(#cA11)">
<path d="M138.01,117.31 L138.14,116.26 L138.55,115.95 L138.39,115.13 L139.58,116.38 L139.99,117.03 L140.17,117.49 L140.95,118.89 L140.9,119.18 L141.76,121.11 L142.41,122.25 L142.36,122.4 L143.05,123.31 L143.18,123.43 L143.15,123.28 L143.74,123.96 L143.6,123.71 L144.44,124.59 L144.11,124.06 L144.47,124.46 L144.52,124.34 L144.72,124.51 L145.3,125.22 L145.2,124.98 L145.65,125.39 L145.54,125.15 L146.32,126.13 L146.36,126.08 L146.92,126.66 L146.77,126.25 L146.85,126.15 L147.27,126.57 L147.5,126.32 L147.88,126.6 L148.05,126.49 L147.91,125.67 L148.13,125.59 L148.33,125.43 L148.4,124.95 L148.57,124.71 L148.96,125.14 L148.99,124.51 L149.11,124.1 L149.51,123.86 L149.58,123.13 L149.92,123.71 L150.17,123.85 L150.37,123.77 L150.57,123.57 L150.87,124.15 L151.03,123.45 L151.28,123.53 L151.56,123.83 L151.83,124.28 L152.09,123.81 L152.34,124.6 L152.92,124.11 L153.25,123.75 L153.47,124.4 L153.88,123.74 L154.15,124.05 L154.75,124.23 L155.33,123.3 L155.53,123.72 L156,123.26 L156.72,122.98 L156.72,123.68 L157.29,122.98 L157.49,123.14 L158.02,123.03 L158.55,122.44 L158.34,123.23 L158.58,123.16 L158.91,123.26 L158.81,123.74 L159.43,123.06 L159.55,123.81 L159.88,123.67 L159.55,124.46 L160.24,124.25 L160.44,124.37 L160.35,124.84 L160.86,124.61 L160.6,125.63 L160.83,125.76 L161.28,125.7 L161.11,126.24 L161.5,126.29 L161.83,126.4 L161.41,127.56 L161.83,127.68 L161.7,128.65 L162.23,128.8 L162.48,129.15 L162.09,129.85 L162.12,130.33 L162.38,130.74 L161.94,131.42 L162.04,131.91 L162.59,132.31 L162.66,132.86 L162.26,133.48 L162.69,134.01 L162.43,134.6 L162.02,135.18 L162.07,135.82 L162.65,136.6 L162.18,137.23 L162.42,138.05 L162.53,138.87 L162.3,139.56 L161.65,139.97 L162.13,140.98 L161.9,141.54 L161.86,142.18 L161.93,142.86 L162.31,143.77 L161.64,143.65 L161.74,144.14 L161.67,144.63 L161.37,144.5 L162.02,145.33 L161.8,145.21 L161.61,145.19 L161.81,145.52 L161.17,144.93 L161.45,145.42 L161.49,145.68 L161.49,145.98 L161.08,145.85 L161.38,146.7 L160.81,146.46 L160.54,146.66 L160.34,147 L160.44,147.84 L159.89,147.68 L159.98,148.63 L159.72,149.01 L159.36,149.22 L158.83,149.07 L158.82,150.03 L158.32,149.92 L158.07,150.36 L157.64,151.59 L157.05,151.1 L156.78,151.67 L156.38,151.78 L155.52,151.83 L155.26,152.86 L154.78,152.72 L154.34,152.88 L153.9,153.19 L153.44,153.35 L152.94,152.81 L152.49,153.43 L152,153.83 L151.49,153.85 L150.95,154.04 L150.35,154.66 L149.82,154.24 L149.28,154.08 L148.63,154.53 L148.02,154.68 L147.46,154.55 L146.74,155.16 L146.08,155.47 L145.66,155.02 L145.1,155.1 L144.5,155.37 L144.09,155.16 L143.63,155.25 L142.84,156.23 L141.98,156.77 L140.9,157.94 L140.74,157.74 L140.11,158.43 L139.54,158.89 L139.15,158.85 L138.9,158.41 L138.27,158.42 L138.3,157.07 L138.18,155.72 L137.92,154.18 L137.51,152.31 L137.75,149.27 L137.16,146.72 L137.08,143.42 L137.27,139.86 L137.75,136.28 L137.14,132.81 L137.73,129.57 L137.31,120.47 L138.03,119.01 L138.01,117.31Z" fill="#1422ff" filter="url(#b0)"/>
<path d="M139.27,118.81 L139.13,120.38 L138.92,124.82 L138.78,130.31 L138.73,136.34 L138.75,142.4 L138.86,148 L139.08,152.64 L139.38,155.76 L139.7,157.05 L141.23,155.56 L142.21,154.72 L143.43,154.12 L148.77,153.11 L150.71,152.63 L152.37,152.09 L153.89,151.5 L155.22,150.85 L156.39,150.13 L157.35,149.3 L157.8,148.79 L158.65,147.6 L160.31,144.76 L160.87,138.1 L160.98,135.65 L160.99,133.63 L160.92,131.78 L160.77,130.09 L160.56,128.64 L160.3,127.49 L159.96,126.64 L159.58,125.96 L158.93,125.11 L158.34,124.5 L158.04,124.41 L157.56,124.43 L154.68,125.32 L153.3,125.6 L152.58,125.59 L151.99,125.5 L150.25,125.02 L149.13,126.8 L148.62,127.38 L148.08,127.72 L147.69,127.87 L147.12,127.9 L146.74,127.86 L146.18,127.65 L145.59,127.26 L144.13,125.9 L142.62,124.79 L141.69,123.86 L141.02,122.75 L139.27,118.81Z" fill="#2150ff" filter="url(#b1)"/>
<path d="M138,133 C139.33,129.58 143.67,133.17 146,134 C148.33,134.83 150.5,136.17 152,138 C153.5,139.83 155,142.83 155,145 C155,147.17 153.5,149.5 152,151 C150.5,152.5 148.33,153.42 146,154 C143.67,154.58 139.33,158 138,154.5 C136.67,151 136.67,136.42 138,133Z" fill="#3470ff" filter="url(#b2)" opacity="0.85"/>
<path d="M138,141 C139.17,139 143,141.17 145,142 C147,142.83 148.83,144.58 150,146 C151.17,147.42 152.33,149.25 152,150.5 C151.67,151.75 150.33,152.92 148,153.5 C145.67,154.08 139.67,156.08 138,154 C136.33,151.92 136.83,143 138,141Z" fill="#4fd8ff" filter="url(#b2)" opacity="0.9"/>
<path d="M138,146.5 C139,145.5 142.42,146.83 144,147.5 C145.58,148.17 147.17,149.58 147.5,150.5 C147.83,151.42 147.58,152.5 146,153 C144.42,153.5 139.33,154.58 138,153.5 C136.67,152.42 137,147.5 138,146.5Z" fill="#9ef04a" filter="url(#b2)"/>
<ellipse cx="147" cy="139.5" rx="2" ry="2" fill="#58b8ff" transform="rotate(0 147 139.5)" filter="url(#b2)" opacity="0.7"/>
<ellipse cx="152" cy="139" rx="1.8" ry="1.8" fill="#58b8ff" transform="rotate(0 152 139)" filter="url(#b2)" opacity="0.6"/>
<rect x="141" y="118" width="1.1" height="38" fill="#70c060" opacity="0.85" filter="url(#b0)"/>
<path d="M169.37,146.91 L169.72,146.94 L169.74,146.74 L169.56,146.04 L170.25,146.5 L170.22,146.2 L170.35,146.08 L170.79,146.1 L170.58,145.33 L171.17,145.66 L171.3,145.48 L171.49,145.45 L171.81,145.97 L171.9,145.51 L172.06,145.12 L172.32,145.35 L172.55,145.36 L172.8,145.04 L173.17,145.91 L173.49,145.47 L173.73,145.45 L173.89,145.69 L174.22,145.44 L174.53,145.3 L174.38,146.01 L174.55,146.08 L174.82,146.01 L174.95,146.47 L175.61,146.04 L175.49,146.75 L175.6,146.93 L175.9,146.96 L175.42,147.5 L175.96,147.42 L176.3,147.49 L176.37,147.71 L176.04,148.05 L176.65,148.11 L176.07,148.49 L175.98,148.74 L176.15,148.97 L176.73,149.23 L176.12,149.48 L176.7,149.83 L176.57,150.1 L176.31,150.32 L175.77,150.39 L176.43,150.93 L175.94,150.96 L176.33,152.02 L175.47,151.62 L175.67,152.09 L175.38,152.12 L175.19,152.25 L174.91,152.25 L175.26,153.17 L174.74,152.82 L174.55,152.98 L174.32,153.02 L174.16,153.24 L173.7,152.57 L173.72,153.34 L173.32,153.47 L173.08,153.27 L172.89,153.84 L172.63,153.01 L172.41,152.97 L171.89,153.35 L171.76,152.83 L171.34,153.42 L171.15,153.19 L171,152.42 L170.59,152.75 L170.68,152.22 L169.99,152.51 L169.86,152.34 L170.12,151.76 L169.77,151.82 L169.78,151.54 L169.97,151.14 L169.67,151.12 L169.12,151.2 L169.36,150.82 L169.33,150.6 L169.02,150.5 L169.67,149.89 L169.18,149.79 L168.94,149.61 L169.26,149.36 L168.85,149.13 L168.78,148.88 L169.29,148.7 L169.54,148.52 L169.04,148.17 L169.39,148.05 L169.32,147.8 L169.02,147.41 L168.99,147.15 L169.7,147.34 L169.37,146.91Z" fill="#1422ff" filter="url(#b0)"/>
<ellipse cx="158.3" cy="120.2" rx="0.8" ry="0.8" fill="#1422ff" transform="rotate(0 158.3 120.2)"/>
</g>
<clipPath id="cA12"><rect x="219.5" y="103.8" width="51" height="54.3"/></clipPath>
<g clip-path="url(#cA12)">
<path d="M217.02,116.22 L217.31,114.14 L217.93,114.22 L218.54,114.58 L218.71,114.46 L219.2,114.99 L219.75,115.75 L221.68,118.84 L222.6,120.05 L223.08,120.5 L223.03,119.96 L223.97,120.65 L224.32,120.78 L224.56,120.7 L225.21,121.46 L225.3,121.04 L225.52,120.89 L225.82,120.91 L226.27,121.28 L226.36,120.72 L226.92,121.42 L227.27,121.57 L227.56,121.51 L227.76,121.05 L228.26,121.65 L228.46,120.99 L228.85,121.08 L229.26,121.3 L229.7,121.8 L229.97,121.07 L230.37,121.61 L231.02,121.07 L231.35,120.69 L231.65,121.58 L231.94,121.12 L232.61,121.79 L232.89,120.94 L233,121.56 L233.17,121.53 L233.45,121.68 L233.45,122.57 L233.71,121.97 L234,122.14 L234.13,122.33 L234.44,121.87 L234.43,122.75 L234.64,122.84 L235.23,122.61 L235.37,123.03 L235.9,122.38 L236.14,122.52 L236.27,122.93 L236.48,123.13 L236.91,122.86 L236.93,123.41 L237.26,123.33 L237.72,123.03 L237.89,123.24 L237.82,123.84 L238.12,123.8 L238.12,124.23 L237.94,124.9 L238.17,124.97 L238.49,124.95 L238.34,125.55 L238.36,125.93 L238.6,126.08 L238.06,127.49 L238.34,127.63 L238.51,127.91 L238.29,128.54 L238.75,128.61 L238.86,128.98 L238.56,129.62 L238.42,130.12 L238.95,130.24 L238.65,130.81 L238.9,131.11 L239.37,131.35 L239.62,131.71 L239.03,132.32 L239.53,132.65 L239.27,133.61 L239.33,134.09 L240.22,134.62 L239.73,135.16 L239.95,135.79 L240.05,137.11 L239.41,137.52 L240.18,138.53 L240.16,139.22 L240.25,139.96 L240.21,140.63 L240.7,141.69 L239.99,141.77 L240.27,143.87 L239.9,144.04 L240.43,145.24 L240.14,145.47 L239.68,146 L239.87,146.87 L239.35,146.65 L239.5,147.48 L239.49,148.09 L239.4,148.58 L238.93,148.37 L239.04,149.25 L238.62,149.11 L238.36,149.29 L238.19,149.68 L238.25,150.59 L237.79,150.29 L237.69,150.89 L237.44,151.12 L237.1,151.1 L236.66,150.76 L236.58,151.63 L236.23,151.61 L235.92,151.79 L235.35,152.66 L234.83,152.04 L234.1,152.64 L233.24,152.68 L232.86,153.52 L232.38,153.4 L231.89,153.16 L231.41,153.41 L230.9,153.52 L230.41,153.13 L229.25,154.19 L228.7,154.01 L228.11,154.08 L227.45,154.47 L226.85,154.37 L226.22,154.36 L225.28,155.45 L224.41,156.17 L223.59,156.68 L221.64,158.41 L221.06,158.2 L219.35,158.9 L218.63,158.79 L218.12,158.15 L217.18,158.08 L216.88,156.69 L216.52,152.44 L216.08,150 L216.46,146.47 L215.99,143.43 L215.7,139.98 L215.67,136.28 L216.27,132.63 L215.79,128.95 L216.47,125.84 L216.68,122.88 L216.75,120.15 L216.5,117.48 L217.02,116.22Z" fill="#1422ff" filter="url(#b0)"/>
<path d="M218.43,116.31 L218.04,119.53 L217.74,124.23 L217.51,129.98 L217.37,136.26 L217.37,142.54 L217.52,148.32 L217.85,153.04 L218.35,156.08 L218.91,157.25 L219.26,157.46 L219.9,157.37 L221.09,156.77 L225.48,153.6 L226.92,152.92 L231.92,151.84 L233.34,151.44 L235.13,150.68 L236.4,149.88 L237.04,149.23 L237.61,148.36 L238.09,147.3 L238.29,146.7 L238.6,145.32 L238.72,144.54 L238.85,142.76 L238.85,141.68 L238.64,138.07 L238.31,134.77 L238.06,133.16 L237.12,129.06 L237.02,128.18 L236.91,125.41 L236.85,124.93 L236.71,124.47 L236.38,124.31 L234.63,124 L233.98,123.8 L233.44,123.53 L232.46,122.86 L231.97,122.68 L231.2,122.64 L228.71,122.75 L227.34,122.69 L224.97,122.37 L223.75,122.05 L222.97,121.76 L222.07,121.32 L221.13,120.45 L220.23,119.16 L218.43,116.31Z" fill="#2150ff" filter="url(#b1)"/>
<path d="M217,128 C218.5,124.08 223.5,129.67 226,131 C228.5,132.33 230.5,134 232,136 C233.5,138 235,140.67 235,143 C235,145.33 233.5,148.33 232,150 C230.5,151.67 228.5,152.25 226,153 C223.5,153.75 218.5,158.67 217,154.5 C215.5,150.33 215.5,131.92 217,128Z" fill="#3470ff" filter="url(#b2)" opacity="0.9"/>
<path d="M217,134 C218.33,131.17 222.83,135.67 225,137 C227.17,138.33 228.83,140.17 230,142 C231.17,143.83 232.33,146.25 232,148 C231.67,149.75 230.5,151.5 228,152.5 C225.5,153.5 218.83,157.08 217,154 C215.17,150.92 215.67,136.83 217,134Z" fill="#4fd8ff" filter="url(#b2)" opacity="0.95"/>
<path d="M217,143 C218.33,141.58 223,144 225,145 C227,146 228.67,147.75 229,149 C229.33,150.25 229,151.75 227,152.5 C225,153.25 218.67,155.08 217,153.5 C215.33,151.92 215.67,144.42 217,143Z" fill="#9ef04a" filter="url(#b2)"/>
<rect x="220" y="117" width="1.1" height="39" fill="#90a040" opacity="0.85" filter="url(#b0)"/>
<path d="M248.32,147.97 L248.31,147.72 L248.41,147.5 L249.3,147.57 L248.8,147.17 L249.13,147.1 L249.33,146.76 L248.93,146.28 L249.79,146.6 L249.87,146.43 L250.22,146.24 L250.68,146.44 L250.25,145.72 L251.03,145.82 L251.07,145.54 L251.61,146.16 L251.69,145.51 L251.88,145.48 L252.15,145.73 L252.21,145.21 L252.71,145.97 L253,145.35 L253.15,145.64 L253.52,144.85 L253.69,145.48 L253.89,145.08 L254.01,145.1 L254.07,145.28 L254.38,144.63 L254.57,144.46 L254.57,144.82 L254.68,144.87 L254.93,144.61 L254.82,145.17 L255.03,145.08 L255.4,144.73 L255.63,144.71 L255.54,145.19 L256,144.87 L255.9,145.65 L256.05,145.76 L256.67,145.44 L256.44,145.93 L256.85,145.86 L257.07,145.96 L257.06,146.22 L256.53,146.78 L257.16,146.64 L256.97,146.98 L257.22,147.38 L257.82,147.47 L256.99,147.96 L257.22,148.18 L257.11,148.73 L256.65,148.98 L257.6,149.31 L257.23,149.54 L257.15,149.79 L256.95,149.99 L257.23,150.32 L256.31,150.22 L256.73,150.64 L256.86,151.26 L256.42,151.25 L256.9,151.91 L256.27,151.69 L256.04,151.77 L255.93,151.96 L256.14,152.53 L255.62,152.23 L255.84,152.91 L255.68,153.08 L255.36,153.02 L254.91,152.66 L254.94,153.32 L254.53,152.98 L254.32,153.16 L253.93,154.01 L253.55,153.36 L253.3,153.71 L253.02,153.66 L252.77,153.39 L252.54,153.31 L252.18,154.08 L251.98,153.8 L251.76,153.7 L251.45,153.88 L251.23,153.76 L251.24,153.13 L250.85,153.44 L250.48,153.64 L250.35,153.38 L250.05,153.41 L249.59,153.64 L249.72,152.72 L249.29,152.87 L249.19,152.64 L249.18,152.34 L248.72,152.4 L248.38,152.3 L248.8,151.63 L248.51,151.04 L248.81,150.18 L248.02,150.02 L248.37,149.2 L248.22,148.53 L249.03,148.33 L248.32,147.97Z" fill="#1422ff" filter="url(#b0)"/>
</g>
<clipPath id="cA20"><rect x="61.5" y="179.3" width="51" height="54.3"/></clipPath>
<g clip-path="url(#cA20)">
<path d="M58.88,211.35 L59.06,210.1 L59.18,209.79 L59.75,209.81 L59.35,209.63 L60.39,210.09 L60.77,210.41 L61.05,210.78 L60.93,211.09 L61.84,211.77 L61.43,212.08 L62.32,213.18 L63.03,213.72 L62.58,213.96 L63.32,214.42 L62.72,215.56 L63.55,216.11 L63.12,216.55 L63.64,217.51 L63.74,217.97 L62.95,218.42 L63.48,218.82 L63.47,219.54 L63.7,219.81 L64.56,219.96 L64.15,220.21 L64.26,220.37 L64.58,220.47 L64.72,220.58 L64.52,220.72 L65.44,220.66 L65.84,220.67 L65.82,220.76 L66.62,220.77 L66.3,220.93 L66.54,221 L67.33,220.97 L67.59,221.07 L67.74,221.22 L68.46,221.24 L68.71,221.38 L68.42,221.68 L69.54,221.81 L69.7,221.99 L70.12,222.06 L71.05,221.93 L70.93,222.15 L71.01,222.29 L71.81,222.2 L71.63,222.34 L72.95,221.81 L73.04,221.71 L73.73,221.35 L73.33,221.44 L74.76,220.54 L74.45,220.51 L75.26,220.1 L75.05,219.7 L75.98,219.29 L75.63,219.17 L76.17,218.85 L76.72,218.33 L76.01,218.13 L76.78,217.84 L76.65,217.57 L77,217.06 L77.94,216.97 L77.32,216.58 L77.63,216.41 L77.72,216.18 L77.91,216.01 L77.54,215.58 L78.54,215.82 L78.56,215.59 L78.69,215.42 L78.73,215.18 L79.22,215.3 L78.7,214.54 L79.7,214.54 L79.62,214.04 L80.18,214.45 L80.09,213.33 L80.21,213.05 L80.52,213.24 L80.47,212.49 L80.74,212.68 L80.93,212.68 L81.06,211.45 L81.31,211.65 L81.45,211.08 L81.66,210.7 L82.2,211.07 L82.51,210.34 L83.21,210.2 L83.69,209.58 L84.15,209.28 L84.45,209.72 L84.9,209.55 L85.44,209.17 L85.76,209.36 L86.25,209.1 L86.94,208.44 L87.34,208.36 L87.53,208.61 L88.09,208.16 L88.34,208.18 L88.5,208.31 L88.97,207.95 L89.67,207.28 L89.75,207.47 L90.59,206.88 L90.77,206.91 L90.72,207.2 L91.47,206.5 L92,206.28 L92.97,205.58 L92.67,206.12 L93.68,205.51 L93.7,205.64 L94.59,204.85 L94.57,205.03 L94.82,205.09 L95.32,204.75 L94.99,205.26 L95.65,204.79 L96.02,204.64 L96.32,204.59 L96.16,204.98 L96.88,204.58 L96.6,205.11 L96.77,205.24 L97.06,205.28 L97.76,204.99 L97.47,205.53 L98.14,205.31 L98.26,205.53 L98.27,205.84 L98.02,206.34 L98.83,206.08 L98.65,206.52 L99.32,206.69 L99.76,206.71 L99.16,207.36 L99.62,207.35 L99.72,208.14 L100.59,207.98 L100.3,208.48 L100.33,208.84 L100.59,209.58 L100.07,210.3 L100.71,210.6 L101,211.13 L100.93,212.69 L101.4,213.44 L100.84,214.46 L100.69,215.4 L101.12,216.3 L101.29,217.24 L101.04,218.18 L101.56,219.12 L101.65,220.01 L101.07,220.75 L101.05,221.49 L101.35,222.21 L101.1,222.74 L101.1,223.3 L101.73,224.01 L101.53,224.44 L101.17,224.77 L101.32,225.66 L100.75,225.8 L101.14,226.34 L101.39,226.82 L101.2,227.09 L100.85,227.27 L101.17,227.79 L100.5,227.79 L100.22,227.99 L100.28,228.36 L100.47,228.81 L99.82,228.74 L100.09,229.23 L99.79,229.35 L98.68,229.23 L98.99,229.77 L98.32,229.61 L97.95,230.41 L96.9,229.95 L96.88,230.35 L96.31,230.29 L95.32,230.31 L95.52,231.02 L94.6,230.63 L94.17,230.74 L93.61,230.72 L93.15,230.82 L92.13,230.24 L92.09,230.9 L90.96,230.92 L90.27,230.75 L90,231.25 L89.03,230.45 L88.14,230.59 L87.75,230.82 L87.04,230.31 L86.75,231 L84.59,230.02 L83.9,230.5 L82.99,229.86 L82.06,230.21 L80.97,230.52 L79.7,230.57 L78.42,230.07 L76.66,230.68 L75.06,230.61 L73.39,230.66 L71.4,231.07 L69.1,231.72 L67.58,231.52 L65.68,231.68 L63.86,231.75 L62.58,231.42 L61.54,230.94 L59.86,230.84 L58.9,230.26 L58.39,229.31 L57.59,228.32 L57.12,227.01 L57.53,225.28 L57.53,223.63 L57.18,221.98 L57.56,220.17 L57.7,218.42 L57.43,216.69 L57.75,215.06 L58.63,213.68 L58.59,212.36 L58.88,211.35Z" fill="#1422ff" filter="url(#b0)"/>
<path d="M66,226 C67.33,225.33 69.67,224.92 72,224.5 C74.33,224.08 77.67,223.58 80,223.5 C82.33,223.42 84.67,223.42 86,224 C87.33,224.58 88.67,226.13 88,227 C87.33,227.87 85,228.78 82,229.2 C79,229.62 73,229.62 70,229.5 C67,229.38 64.67,229.08 64,228.5 C63.33,227.92 64.67,226.67 66,226Z" fill="#4fd8ff" filter="url(#b2)" opacity="0.9"/>
<ellipse cx="81" cy="226.8" rx="3" ry="1.3" fill="#9ef04a" transform="rotate(0 81 226.8)" filter="url(#b1)"/>
<path d="M85.5,229 C85.08,227.67 86,224.5 86.5,222 C87,219.5 87.58,216.25 88.5,214 C89.42,211.75 90.75,209.67 92,208.5 C93.25,207.33 94.8,206.58 96,207 C97.2,207.42 98.57,208.83 99.2,211 C99.83,213.17 99.83,217.33 99.8,220 C99.77,222.67 99.72,225.37 99,227 C98.28,228.63 97.17,229.3 95.5,229.8 C93.83,230.3 90.67,230.13 89,230 C87.33,229.87 85.92,230.33 85.5,229Z" fill="#4fd8ff" filter="url(#b1)"/>
<ellipse cx="93.8" cy="220" rx="5.6" ry="10" fill="#70f0c0" transform="rotate(8 93.8 220)" filter="url(#b1)"/>
<ellipse cx="93.7" cy="220.6" rx="4.5" ry="8.6" fill="#9ef04a" transform="rotate(8 93.7 220.6)" filter="url(#b1)"/>
<ellipse cx="93.6" cy="221.5" rx="3" ry="6.6" fill="#e8f030" transform="rotate(8 93.6 221.5)" filter="url(#b1)"/>
<ellipse cx="93.6" cy="222.2" rx="1.9" ry="5.2" fill="#f59a1e" transform="rotate(-10 93.6 222.2)" filter="url(#b1)"/>
<ellipse cx="93.6" cy="222.6" rx="1.1" ry="4.3" fill="#e3151a" transform="rotate(-12 93.6 222.6)" filter="url(#b1)"/>
<ellipse cx="65" cy="224.5" rx="0.8" ry="0.8" fill="#fff" transform="rotate(0 65 224.5)"/>
<rect x="62" y="211" width="1.1" height="19" fill="#60d0a0" opacity="0.85" filter="url(#b0)"/>
</g>
<clipPath id="cA21"><rect x="140.5" y="179.3" width="51" height="54.3"/></clipPath>
<g clip-path="url(#cA21)">
<path d="M138.23,203.87 L137.85,204.54 L138.22,206.13 L137.65,207.49 L137.52,209.42 L137.54,211.63 L137.35,213.93 L136.86,216.29 L137.62,218.84 L137.63,221.22 L137.54,223.51 L137.56,225.63 L138.02,227.37 L137.37,229.21 L137.78,230.3 L138.23,231.02 L138.66,231.51 L138.6,232.08 L139.6,231.9 L139.55,232.17 L139.71,232.22 L140.01,232.1 L142.51,230.6 L143.02,230.35 L142.97,230.51 L144.1,230.08 L144.26,230.31 L144.97,230.22 L145.81,230.06 L147.09,229.6 L147.23,229.97 L148.32,229.64 L149.68,229.65 L150.14,229.88 L151.6,229.13 L152.14,229.27 L153.7,228.98 L154.53,228.67 L154.68,229.38 L155.57,228.96 L156.94,228.73 L157.52,228.85 L158.36,228.05 L158.82,228.56 L159.39,228.71 L159.98,228.62 L160.53,228.3 L161.08,228.76 L161.51,228 L161.92,227.68 L162.82,227.88 L163.01,227.26 L163.48,227.48 L163.76,227.24 L163.84,225.96 L164.23,226 L164.2,225.42 L164.35,225.14 L164.85,225.31 L165.01,225.08 L164.82,224.53 L165.34,224.54 L165.18,224.24 L166.19,225.01 L166.82,225.73 L166.71,225.74 L166.69,225.83 L167.62,226.97 L167.5,226.96 L168.23,227.88 L168.03,227.78 L168.64,228.48 L168.54,228.48 L169.41,229.75 L168.95,229.36 L169.49,230.11 L170.38,230.99 L170.27,230.74 L171.28,231.04 L171.08,230.49 L172.03,231.01 L173.02,231.05 L173.27,230.83 L174.25,231.18 L174.04,230.58 L175,230.48 L175.73,230.6 L175.61,230.15 L176.58,230.45 L176.71,229.88 L176.61,229.51 L177.38,229.65 L177.04,229.15 L177.96,229.01 L178.29,228.85 L177.75,228.26 L178.32,228.19 L178.06,227.38 L178.18,227.06 L178.96,226.97 L178.53,226.4 L178.79,225.55 L178.61,224.99 L178.01,224.33 L178.61,223.94 L178.6,223.39 L178.42,222.82 L178.53,222.29 L178.79,221.77 L178,221.19 L177.86,220.69 L178.1,220.23 L177.7,219.4 L178.23,218.96 L178.09,218.57 L177.46,218.23 L177.49,217.48 L177.01,217.2 L177.05,216.84 L177.54,216.4 L176.76,215.93 L176.75,215.62 L176.43,215.42 L175.66,215.37 L175.97,215 L175.86,214.77 L175.07,214.53 L175.16,214.25 L174.1,214.43 L173.71,214.36 L173.4,214.05 L172.64,214.2 L172.97,213.83 L171.29,214.17 L171.5,213.9 L170.67,214.22 L170.76,214.02 L170.74,213.9 L170.61,213.85 L169.73,214.28 L169.98,214.02 L168.92,214.56 L168.51,214.84 L168.58,214.86 L168.03,215.47 L167.23,216.18 L167.78,216.18 L167.39,216.76 L167.14,217.73 L167.44,218.13 L166.34,218.88 L166.42,219.31 L166.25,220.17 L165.77,220.5 L166.51,220.88 L165.34,221.13 L165.53,221.21 L164.72,221.01 L165.12,221.05 L165.28,220.98 L165.11,220.81 L164.58,220.57 L164.96,220.42 L164.32,220.17 L164.01,219.97 L164.53,219.47 L163.98,219.33 L164.22,219.02 L164.21,218.72 L163.67,218.63 L163.36,218.48 L163.75,217.91 L163.55,217.68 L163.42,217.41 L163.69,216.74 L163.61,216.41 L163.16,216.55 L163.19,215.69 L162.91,215.76 L163.1,214.58 L162.95,214.48 L162.71,214.64 L162.78,214.04 L162.45,214.13 L162.56,212.89 L162.34,213.19 L162.31,212.76 L162.22,212.53 L162.05,212.65 L161.83,213 L161.83,212.13 L161.64,212.22 L161.49,212.06 L161.34,211.83 L161.19,211.39 L160.94,212.24 L160.76,211.89 L160.35,211.74 L160.14,211.99 L159.86,211.07 L159.66,211.59 L159.19,211.91 L158.87,211.64 L158.76,212.47 L158.32,211.88 L157.98,211.88 L157.66,212.01 L157.51,212.62 L156.93,212.22 L156.93,213.09 L156.6,213.25 L156.18,213.3 L155.52,213.04 L155.55,213.74 L154.79,213.42 L154.36,214.06 L154.31,214.48 L153.34,214.09 L153.3,214.51 L151.45,214.47 L151.75,215.01 L150.94,214.89 L150.3,215.16 L149.88,215.21 L148.75,214.93 L148.84,215.17 L147.77,215.16 L147.93,215.3 L145.3,214.5 L145.59,214.62 L143.57,213.88 L143.36,213.82 L143.74,214.01 L143.07,213.9 L143.17,214 L142.96,213.99 L142.32,213.82 L142.12,213.66 L142.47,213.66 L141.74,213.21 L141.31,212.79 L141.21,211.74 L140.51,210.66 L140.84,209.96 L140.57,208.92 L139.39,206.4 L139.54,205.7 L138.75,204.45 L138.65,203.85 L138.71,203.5 L137.95,203.13 L138.23,203.87Z" fill="#1422ff" filter="url(#b0)"/>
<ellipse cx="150" cy="224" rx="9.5" ry="3.6" fill="#4fd8ff" transform="rotate(0 150 224)" filter="url(#b2)"/>
<ellipse cx="146.5" cy="224.5" rx="5.5" ry="1.9" fill="#9ef04a" transform="rotate(0 146.5 224.5)" filter="url(#b1)"/>
<ellipse cx="173.5" cy="224.3" rx="4.2" ry="4.8" fill="#4fd8ff" transform="rotate(0 173.5 224.3)" filter="url(#b1)"/>
<ellipse cx="173.7" cy="225.4" rx="2.6" ry="3.3" fill="#9ef04a" transform="rotate(0 173.7 225.4)" filter="url(#b1)"/>
<ellipse cx="172.2" cy="210" rx="1.2" ry="1.2" fill="#1422ff" transform="rotate(0 172.2 210)"/>
<rect x="141" y="205" width="1.1" height="25" fill="#70c060" opacity="0.85" filter="url(#b0)"/>
</g>
<clipPath id="cA22"><rect x="219.5" y="179.3" width="51" height="54.3"/></clipPath>
<g clip-path="url(#cA22)">
<path d="M216.94,209.25 L217.05,207.58 L217.71,207.52 L217.5,206.88 L218.27,207.21 L219.43,207.85 L219.5,207.81 L222.36,210.34 L222.41,210.28 L223.47,210.98 L223.6,210.92 L223.64,210.77 L224.41,211.43 L224.95,211.68 L225.96,212.5 L225.84,212.13 L226.63,212.66 L226.77,212.54 L227.1,212.67 L227.72,213.26 L227.91,213.16 L227.99,212.77 L228.36,212.97 L228.57,212.8 L228.69,212.33 L229.03,212.49 L229.42,212.92 L229.56,212.42 L229.81,212.37 L230.07,212.43 L230.47,211.4 L230.75,211.96 L231.25,211.72 L231.49,211.79 L231.69,212.09 L232.05,211.17 L232.52,211.26 L232.76,211.24 L233.1,210.88 L233.1,211.66 L233.45,211.28 L234.08,210.92 L234.18,211.31 L234.75,210.69 L234.74,211.31 L234.89,211.63 L235.1,211.83 L235.66,211.53 L235.55,212.25 L236.21,211.92 L236.52,212.1 L236.71,212.42 L236.5,213.11 L237.22,212.89 L237.02,213.51 L237.72,213.76 L238.39,213.68 L237.89,214.34 L238.42,214.35 L238.39,214.99 L238.2,215.37 L239.19,215.24 L238.94,215.63 L239.58,216.31 L238.82,216.79 L239.42,216.94 L239.71,217.5 L239.72,217.81 L240.52,218.08 L239.97,218.43 L239.9,218.75 L240.38,219.44 L240.01,219.73 L240.77,220.17 L240.97,220.55 L240.71,220.84 L240.56,221.13 L240.94,221.58 L240.47,221.76 L240.49,222.09 L240.99,222.61 L241.07,223.01 L240.68,223.21 L240.92,223.7 L240.83,224.04 L240.27,224.11 L240.34,224.54 L240.65,225.14 L240.42,225.38 L240.28,225.68 L240.54,226.3 L239.61,226.32 L239.58,227.08 L239.08,226.97 L239.23,227.51 L239.14,227.82 L238.16,227.51 L238.2,228 L237.61,227.71 L237.34,227.84 L237.06,228.64 L236.32,228.13 L236.12,228.59 L234.51,228.26 L234.29,229.19 L233.64,228.87 L233.13,229.14 L231.98,229.49 L231.32,228.68 L230.73,229.38 L230.11,229.41 L229.46,229.55 L228.84,229.5 L228,230.3 L227.55,229.55 L226.1,229.8 L225.18,230.24 L224.62,229.97 L223.29,231 L221.68,231.2 L221.04,231.08 L219.88,231.56 L219.64,230.93 L218.73,231.01 L217.89,230.91 L217.14,230.62 L217.17,229.56 L216.34,229 L216.47,225.96 L216.41,224.32 L215.66,222.75 L216.13,220.76 L215.81,218.86 L215.71,216.9 L215.98,215.03 L216.75,213.48 L216.38,211.68 L216.94,209.25Z" fill="#1422ff" filter="url(#b0)"/>
<ellipse cx="227.5" cy="222.5" rx="10" ry="5" fill="#4fd8ff" transform="rotate(0 227.5 222.5)" filter="url(#b1)"/>
<ellipse cx="225.5" cy="223.3" rx="6.5" ry="3" fill="#9ef04a" transform="rotate(0 225.5 223.3)" filter="url(#b1)"/>
<ellipse cx="224" cy="223.3" rx="3" ry="1.5" fill="#e8f030" transform="rotate(0 224 223.3)" filter="url(#b1)"/>
<ellipse cx="220.3" cy="223" rx="1" ry="2" fill="#e3151a" transform="rotate(0 220.3 223)" filter="url(#b1)"/>
<path d="M252.3,213.52 L252.47,213.36 L252.67,213.3 L252.85,213.78 L253.11,213.2 L253.27,214.08 L253.48,214.33 L253.71,214.46 L254.03,214.13 L254.13,214.96 L254.51,214.5 L254.71,214.84 L254.85,215.29 L254.86,216.03 L255.28,215.6 L255.23,216.33 L256.08,216.34 L255.79,217.33 L256.16,217.25 L256.2,218.52 L256.93,218.21 L256.7,218.85 L257.01,219.41 L257.1,219.74 L256.57,220.4 L257.21,220.44 L257.43,220.72 L257.45,221.09 L257.57,221.43 L258.14,221.7 L257.55,222.13 L257.48,222.47 L257.85,222.81 L257.98,223.15 L257.76,223.45 L258.4,223.91 L258.46,224.28 L257.97,224.45 L257.94,224.77 L258.16,225.21 L257.81,225.38 L257.86,225.75 L258.37,226.45 L258.18,226.72 L257.88,226.88 L257.96,227.34 L257.83,227.64 L257.31,227.54 L257.49,228.15 L257.54,228.69 L256.98,228.98 L257,229.6 L256.37,229.28 L255.96,229.3 L255.45,230.17 L254.88,229.88 L254.65,230.65 L254.19,230.72 L253.24,230.22 L252.89,230.9 L252.49,230.4 L251.44,231.27 L251.24,230.43 L250.87,230.86 L250.65,230.47 L250.19,230.03 L249.66,230.74 L249.61,230.02 L249.29,230.05 L248.84,229.67 L249.02,228.78 L248.43,229.29 L248.29,229.01 L248.07,228.88 L247.94,228.6 L247.39,228.87 L247.82,227.93 L247.58,227.81 L247.39,227.62 L247.1,227.53 L247.32,226.98 L246.53,227.29 L246.9,226.02 L246.45,225.99 L247.04,225.37 L246.64,225.28 L246.35,225.11 L246.3,224.81 L246.87,224.31 L246.42,224.12 L247.24,223.32 L247.16,223.02 L246.67,222.7 L247.28,222.35 L247.12,221.99 L247.13,221.62 L247.62,221.35 L248.18,221.16 L247.79,220.64 L248.33,220.05 L248.22,219.49 L248.32,219 L249.03,219.09 L249.25,218.76 L249.31,218.21 L249.71,218.13 L249.9,217.76 L249.86,216.92 L250.12,216.68 L250.49,216.85 L250.57,216.3 L250.76,216.16 L250.99,216.24 L251.06,215.76 L251.06,214.87 L251.25,215.03 L251.42,214.3 L251.55,214.29 L251.71,214.67 L251.75,213.81 L252.14,213.45 L252.3,213.52Z" fill="#1422ff" filter="url(#b0)"/>
<path d="M252.78,215.5 L252.32,216.58 L251.95,217.27 L250.05,220.07 L249.4,221.16 L248.94,222.17 L248.56,223.25 L248.23,224.73 L248.2,225.48 L248.32,226.1 L248.58,226.73 L248.96,227.33 L249.44,227.88 L250.33,228.64 L250.94,229 L251.51,229.17 L252.23,229.17 L253.41,228.96 L254.67,228.55 L255.62,228.06 L255.86,227.86 L256.15,227.42 L256.37,226.64 L256.44,226.15 L256.5,224.53 L256.42,223.58 L256.03,221.98 L255.3,219.78 L254.74,218.28 L254.13,217.07 L253.65,216.42 L252.78,215.5Z" fill="#4fd8ff" filter="url(#b1)"/>
<path d="M253.09,218.07 L251.23,220.83 L250.64,221.81 L250.25,222.69 L249.9,223.66 L249.62,224.9 L249.6,225.37 L249.66,225.69 L250.08,226.49 L250.91,227.32 L251.34,227.63 L251.73,227.79 L252.09,227.78 L253.07,227.6 L254.14,227.25 L254.85,226.88 L254.99,226.39 L255.1,224.56 L254.95,223.37 L254.69,222.38 L253.98,220.23 L253.45,218.83 L253.09,218.07Z" fill="#9ef04a" filter="url(#b1)"/>
<ellipse cx="253" cy="226" rx="1.3" ry="1.3" fill="#e8f030" transform="rotate(0 253 226)" filter="url(#b1)"/>
<ellipse cx="255.2" cy="210" rx="0.8" ry="0.8" fill="#1422ff" transform="rotate(0 255.2 210)"/>
</g>
<polyline points="61.5,36.5 78.8,37.1" fill="none" stroke="#3a3a3a" stroke-width="0.8" stroke-linejoin="round"/>
<polyline points="82.2,38 87.4,54 84.5,68.5 81.8,82.8" fill="none" stroke="#3a3a3a" stroke-width="0.8" stroke-linejoin="round"/>
<polygon points="95.1,42.3 108.8,53.1 101.3,81.3 86.8,81.6 88.2,68.5" fill="none" stroke="#3a3a3a" stroke-width="0.8" stroke-linejoin="round"/>
<text x="84.3" y="36.2" font-size="7.3" text-anchor="middle" font-weight="normal" fill="#1a1a1a" stroke="#1a1a1a" stroke-width="0.14" >38</text>
<text x="107.7" y="46.8" font-size="7.3" text-anchor="middle" font-weight="normal" fill="#1a1a1a" stroke="#1a1a1a" stroke-width="0.14" >58</text>
<polyline points="140.5,36.5 157.8,37.1" fill="none" stroke="#3a3a3a" stroke-width="0.8" stroke-linejoin="round"/>
<polyline points="161.2,38 166.4,54 163.5,68.5 160.8,82.8" fill="none" stroke="#3a3a3a" stroke-width="0.8" stroke-linejoin="round"/>
<polygon points="174.1,42.3 187.8,53.1 180.3,81.3 165.8,81.6 167.2,68.5" fill="none" stroke="#3a3a3a" stroke-width="0.8" stroke-linejoin="round"/>
<text x="162.7" y="35.5" font-size="7.3" text-anchor="middle" font-weight="normal" fill="#1a1a1a" stroke="#1a1a1a" stroke-width="0.14" >96</text>
<text x="184" y="46.2" font-size="7.3" text-anchor="middle" font-weight="normal" fill="#1a1a1a" stroke="#1a1a1a" stroke-width="0.14" >4.2</text>
<polyline points="219.5,36.5 236.8,37.1" fill="none" stroke="#3a3a3a" stroke-width="0.8" stroke-linejoin="round"/>
<polyline points="240.2,38 245.4,54 242.5,68.5 239.8,82.8" fill="none" stroke="#3a3a3a" stroke-width="0.8" stroke-linejoin="round"/>
<polygon points="253.1,42.3 266.8,53.1 259.3,81.3 244.8,81.6 246.2,68.5" fill="none" stroke="#3a3a3a" stroke-width="0.8" stroke-linejoin="round"/>
<text x="242.3" y="35" font-size="7.3" text-anchor="middle" font-weight="normal" fill="#1a1a1a" stroke="#1a1a1a" stroke-width="0.14" >93</text>
<text x="263.9" y="46.2" font-size="7.3" text-anchor="middle" font-weight="normal" fill="#1a1a1a" stroke="#1a1a1a" stroke-width="0.14" >6.7</text>
<polyline points="61.5,111.8 78.8,112.4" fill="none" stroke="#3a3a3a" stroke-width="0.8" stroke-linejoin="round"/>
<polyline points="82.2,113.3 87.4,129.3 84.5,143.8 81.8,158.1" fill="none" stroke="#3a3a3a" stroke-width="0.8" stroke-linejoin="round"/>
<polygon points="95.1,117.6 108.8,128.4 101.3,156.6 86.8,156.9 88.2,143.8" fill="none" stroke="#3a3a3a" stroke-width="0.8" stroke-linejoin="round"/>
<text x="84.3" y="112.3" font-size="7.3" text-anchor="middle" font-weight="normal" fill="#1a1a1a" stroke="#1a1a1a" stroke-width="0.14" >35</text>
<text x="107.6" y="120.7" font-size="7.3" text-anchor="middle" font-weight="normal" fill="#1a1a1a" stroke="#1a1a1a" stroke-width="0.14" >63</text>
<polyline points="140.5,111.8 157.8,112.4" fill="none" stroke="#3a3a3a" stroke-width="0.8" stroke-linejoin="round"/>
<polyline points="161.2,113.3 166.4,129.3 163.5,143.8 160.8,158.1" fill="none" stroke="#3a3a3a" stroke-width="0.8" stroke-linejoin="round"/>
<polygon points="174.1,117.6 187.8,128.4 180.3,156.6 165.8,156.9 167.2,143.8" fill="none" stroke="#3a3a3a" stroke-width="0.8" stroke-linejoin="round"/>
<text x="162.2" y="112.3" font-size="7.3" text-anchor="middle" font-weight="normal" fill="#1a1a1a" stroke="#1a1a1a" stroke-width="0.14" >99</text>
<text x="185.5" y="122.7" font-size="7.3" text-anchor="middle" font-weight="normal" fill="#1a1a1a" stroke="#1a1a1a" stroke-width="0.14" >1.2</text>
<polyline points="219.5,111.8 236.8,112.4" fill="none" stroke="#3a3a3a" stroke-width="0.8" stroke-linejoin="round"/>
<polyline points="240.2,113.3 245.4,129.3 242.5,143.8 239.8,158.1" fill="none" stroke="#3a3a3a" stroke-width="0.8" stroke-linejoin="round"/>
<polygon points="253.1,117.6 266.8,128.4 259.3,156.6 244.8,156.9 246.2,143.8" fill="none" stroke="#3a3a3a" stroke-width="0.8" stroke-linejoin="round"/>
<text x="242.3" y="112.3" font-size="7.3" text-anchor="middle" font-weight="normal" fill="#1a1a1a" stroke="#1a1a1a" stroke-width="0.14" >98</text>
<text x="264.2" y="122.1" font-size="7.3" text-anchor="middle" font-weight="normal" fill="#1a1a1a" stroke="#1a1a1a" stroke-width="0.14" >1.9</text>
<polyline points="61.5,198.3 84.8,198.3 84.8,233.6" fill="none" stroke="#3a3a3a" stroke-width="0.8" stroke-linejoin="round"/>
<polygon points="96.5,198.8 107.3,209.3 104.7,231.1 89.8,232.1 88.9,225.3 89.3,217.3 91.5,209.3" fill="none" stroke="#3a3a3a" stroke-width="0.8" stroke-linejoin="round"/>
<text x="79.9" y="192.7" font-size="7.3" text-anchor="middle" font-weight="normal" fill="#1a1a1a" stroke="#1a1a1a" stroke-width="0.14" >17</text>
<text x="107.6" y="195.6" font-size="7.3" text-anchor="middle" font-weight="normal" fill="#1a1a1a" stroke="#1a1a1a" stroke-width="0.14" >78</text>
<polyline points="140.5,198.3 163.8,198.3 163.8,233.6" fill="none" stroke="#3a3a3a" stroke-width="0.8" stroke-linejoin="round"/>
<polygon points="175.5,198.8 186.3,209.3 183.7,231.1 168.8,232.1 167.9,225.3 168.3,217.3 170.5,209.3" fill="none" stroke="#3a3a3a" stroke-width="0.8" stroke-linejoin="round"/>
<text x="158.7" y="193.3" font-size="7.3" text-anchor="middle" font-weight="normal" fill="#1a1a1a" stroke="#1a1a1a" stroke-width="0.14" >77</text>
<text x="186.6" y="196.8" font-size="7.3" text-anchor="middle" font-weight="normal" fill="#1a1a1a" stroke="#1a1a1a" stroke-width="0.14" >22</text>
<polyline points="219.5,198.3 242.8,198.3 242.8,233.6" fill="none" stroke="#3a3a3a" stroke-width="0.8" stroke-linejoin="round"/>
<polygon points="254.5,198.8 265.3,209.3 262.7,231.1 247.8,232.1 246.9,225.3 247.3,217.3 249.5,209.3" fill="none" stroke="#3a3a3a" stroke-width="0.8" stroke-linejoin="round"/>
<text x="238.5" y="193.3" font-size="7.3" text-anchor="middle" font-weight="normal" fill="#1a1a1a" stroke="#1a1a1a" stroke-width="0.14" >75</text>
<text x="265.6" y="196.5" font-size="7.3" text-anchor="middle" font-weight="normal" fill="#1a1a1a" stroke="#1a1a1a" stroke-width="0.14" >25</text>
<text x="55" y="32.8" font-size="5.4" text-anchor="end" font-weight="normal" fill="#1a1a1a" stroke="#1a1a1a" stroke-width="0.14" >250K</text>
<line x1="58.9" y1="31" x2="61.5" y2="31" stroke="#333" stroke-width="0.8" />
<line x1="59.9" y1="33.09" x2="61.5" y2="33.09" stroke="#222" stroke-width="0.75" />
<line x1="59.9" y1="35.18" x2="61.5" y2="35.18" stroke="#222" stroke-width="0.75" />
<line x1="59.9" y1="37.27" x2="61.5" y2="37.27" stroke="#222" stroke-width="0.75" />
<line x1="59.9" y1="39.36" x2="61.5" y2="39.36" stroke="#222" stroke-width="0.75" />
<text x="55" y="43.25" font-size="5.4" text-anchor="end" font-weight="normal" fill="#1a1a1a" stroke="#1a1a1a" stroke-width="0.14" >200K</text>
<line x1="58.9" y1="41.45" x2="61.5" y2="41.45" stroke="#333" stroke-width="0.8" />
<line x1="59.9" y1="43.54" x2="61.5" y2="43.54" stroke="#222" stroke-width="0.75" />
<line x1="59.9" y1="45.63" x2="61.5" y2="45.63" stroke="#222" stroke-width="0.75" />
<line x1="59.9" y1="47.72" x2="61.5" y2="47.72" stroke="#222" stroke-width="0.75" />
<line x1="59.9" y1="49.81" x2="61.5" y2="49.81" stroke="#222" stroke-width="0.75" />
<text x="55" y="53.7" font-size="5.4" text-anchor="end" font-weight="normal" fill="#1a1a1a" stroke="#1a1a1a" stroke-width="0.14" >150K</text>
<line x1="58.9" y1="51.9" x2="61.5" y2="51.9" stroke="#333" stroke-width="0.8" />
<line x1="59.9" y1="53.99" x2="61.5" y2="53.99" stroke="#222" stroke-width="0.75" />
<line x1="59.9" y1="56.08" x2="61.5" y2="56.08" stroke="#222" stroke-width="0.75" />
<line x1="59.9" y1="58.17" x2="61.5" y2="58.17" stroke="#222" stroke-width="0.75" />
<line x1="59.9" y1="60.26" x2="61.5" y2="60.26" stroke="#222" stroke-width="0.75" />
<text x="55" y="64.15" font-size="5.4" text-anchor="end" font-weight="normal" fill="#1a1a1a" stroke="#1a1a1a" stroke-width="0.14" >100K</text>
<line x1="58.9" y1="62.35" x2="61.5" y2="62.35" stroke="#333" stroke-width="0.8" />
<line x1="59.9" y1="64.44" x2="61.5" y2="64.44" stroke="#222" stroke-width="0.75" />
<line x1="59.9" y1="66.53" x2="61.5" y2="66.53" stroke="#222" stroke-width="0.75" />
<line x1="59.9" y1="68.62" x2="61.5" y2="68.62" stroke="#222" stroke-width="0.75" />
<line x1="59.9" y1="70.71" x2="61.5" y2="70.71" stroke="#222" stroke-width="0.75" />
<text x="55" y="74.6" font-size="5.4" text-anchor="end" font-weight="normal" fill="#1a1a1a" stroke="#1a1a1a" stroke-width="0.14" >50K</text>
<line x1="58.9" y1="72.8" x2="61.5" y2="72.8" stroke="#333" stroke-width="0.8" />
<line x1="59.9" y1="74.89" x2="61.5" y2="74.89" stroke="#222" stroke-width="0.75" />
<line x1="59.9" y1="76.98" x2="61.5" y2="76.98" stroke="#222" stroke-width="0.75" />
<line x1="59.9" y1="79.07" x2="61.5" y2="79.07" stroke="#222" stroke-width="0.75" />
<line x1="59.9" y1="81.16" x2="61.5" y2="81.16" stroke="#222" stroke-width="0.75" />
<text x="55" y="85.05" font-size="5.4" text-anchor="end" font-weight="normal" fill="#1a1a1a" stroke="#1a1a1a" stroke-width="0.14" >0</text>
<line x1="58.9" y1="83.25" x2="61.5" y2="83.25" stroke="#333" stroke-width="0.8" />
<text x="65.4" y="93.2" font-size="5.3" text-anchor="middle" font-weight="normal" fill="#1a1a1a" stroke="#1a1a1a" stroke-width="0.14" >0</text>
<text x="68.4" y="93.2" font-size="5.2" text-anchor="start" font-weight="normal" fill="#1a1a1a" stroke="#1a1a1a" stroke-width="0.14" ><tspan letter-spacing="-0.45">10</tspan><tspan font-size="3.5" dy="-2.2" dx="0.35">2</tspan></text>
<text x="80.7" y="93.2" font-size="5.2" text-anchor="start" font-weight="normal" fill="#1a1a1a" stroke="#1a1a1a" stroke-width="0.14" ><tspan letter-spacing="-0.45">10</tspan><tspan font-size="3.5" dy="-2.2" dx="0.35">3</tspan></text>
<text x="93" y="93.2" font-size="5.2" text-anchor="start" font-weight="normal" fill="#1a1a1a" stroke="#1a1a1a" stroke-width="0.14" ><tspan letter-spacing="-0.45">10</tspan><tspan font-size="3.5" dy="-2.2" dx="0.35">4</tspan></text>
<text x="104.6" y="93.2" font-size="5.2" text-anchor="start" font-weight="normal" fill="#1a1a1a" stroke="#1a1a1a" stroke-width="0.14" ><tspan letter-spacing="-0.45">10</tspan><tspan font-size="3.5" dy="-2.2" dx="0.35">5</tspan></text>
<line x1="63.7" y1="83.3" x2="63.7" y2="85" stroke="#222" stroke-width="0.8" />
<line x1="66" y1="83.3" x2="66" y2="85" stroke="#222" stroke-width="0.8" />
<line x1="68" y1="83.3" x2="68" y2="85" stroke="#222" stroke-width="0.8" />
<line x1="70.7" y1="83.3" x2="70.7" y2="85" stroke="#222" stroke-width="0.8" />
<line x1="73" y1="83.3" x2="73" y2="85" stroke="#222" stroke-width="0.8" />
<line x1="74.7" y1="83.3" x2="74.7" y2="85" stroke="#222" stroke-width="0.8" />
<line x1="77.5" y1="83.3" x2="77.5" y2="85" stroke="#222" stroke-width="0.8" />
<line x1="80.5" y1="83.3" x2="80.5" y2="85" stroke="#222" stroke-width="0.8" />
<line x1="83" y1="83.3" x2="83" y2="85" stroke="#222" stroke-width="0.8" />
<line x1="86.5" y1="83.3" x2="86.5" y2="85" stroke="#222" stroke-width="0.8" />
<line x1="89.5" y1="83.3" x2="89.5" y2="85" stroke="#222" stroke-width="0.8" />
<line x1="92.5" y1="83.3" x2="92.5" y2="85" stroke="#222" stroke-width="0.8" />
<line x1="95" y1="83.3" x2="95" y2="85" stroke="#222" stroke-width="0.8" />
<line x1="98.5" y1="83.3" x2="98.5" y2="85" stroke="#222" stroke-width="0.8" />
<line x1="101.5" y1="83.3" x2="101.5" y2="85" stroke="#222" stroke-width="0.8" />
<line x1="104.5" y1="83.3" x2="104.5" y2="85" stroke="#222" stroke-width="0.8" />
<line x1="107" y1="83.3" x2="107" y2="85" stroke="#222" stroke-width="0.8" />
<line x1="110" y1="83.3" x2="110" y2="85" stroke="#222" stroke-width="0.8" />
<line x1="71.8" y1="83.3" x2="71.8" y2="85.9" stroke="#333" stroke-width="0.8" />
<line x1="84.5" y1="83.3" x2="84.5" y2="85.9" stroke="#333" stroke-width="0.8" />
<line x1="96.5" y1="83.3" x2="96.5" y2="85.9" stroke="#333" stroke-width="0.8" />
<line x1="107.9" y1="83.3" x2="107.9" y2="85.9" stroke="#333" stroke-width="0.8" />
<rect x="61.5" y="28.5" width="51" height="54.8" fill="none" stroke="#222" stroke-width="1"/>
<text x="134" y="32.8" font-size="5.4" text-anchor="end" font-weight="normal" fill="#1a1a1a" stroke="#1a1a1a" stroke-width="0.14" >250K</text>
<line x1="137.9" y1="31" x2="140.5" y2="31" stroke="#333" stroke-width="0.8" />
<line x1="138.9" y1="33.09" x2="140.5" y2="33.09" stroke="#222" stroke-width="0.75" />
<line x1="138.9" y1="35.18" x2="140.5" y2="35.18" stroke="#222" stroke-width="0.75" />
<line x1="138.9" y1="37.27" x2="140.5" y2="37.27" stroke="#222" stroke-width="0.75" />
<line x1="138.9" y1="39.36" x2="140.5" y2="39.36" stroke="#222" stroke-width="0.75" />
<text x="134" y="43.25" font-size="5.4" text-anchor="end" font-weight="normal" fill="#1a1a1a" stroke="#1a1a1a" stroke-width="0.14" >200K</text>
<line x1="137.9" y1="41.45" x2="140.5" y2="41.45" stroke="#333" stroke-width="0.8" />
<line x1="138.9" y1="43.54" x2="140.5" y2="43.54" stroke="#222" stroke-width="0.75" />
<line x1="138.9" y1="45.63" x2="140.5" y2="45.63" stroke="#222" stroke-width="0.75" />
<line x1="138.9" y1="47.72" x2="140.5" y2="47.72" stroke="#222" stroke-width="0.75" />
<line x1="138.9" y1="49.81" x2="140.5" y2="49.81" stroke="#222" stroke-width="0.75" />
<text x="134" y="53.7" font-size="5.4" text-anchor="end" font-weight="normal" fill="#1a1a1a" stroke="#1a1a1a" stroke-width="0.14" >150K</text>
<line x1="137.9" y1="51.9" x2="140.5" y2="51.9" stroke="#333" stroke-width="0.8" />
<line x1="138.9" y1="53.99" x2="140.5" y2="53.99" stroke="#222" stroke-width="0.75" />
<line x1="138.9" y1="56.08" x2="140.5" y2="56.08" stroke="#222" stroke-width="0.75" />
<line x1="138.9" y1="58.17" x2="140.5" y2="58.17" stroke="#222" stroke-width="0.75" />
<line x1="138.9" y1="60.26" x2="140.5" y2="60.26" stroke="#222" stroke-width="0.75" />
<text x="134" y="64.15" font-size="5.4" text-anchor="end" font-weight="normal" fill="#1a1a1a" stroke="#1a1a1a" stroke-width="0.14" >100K</text>
<line x1="137.9" y1="62.35" x2="140.5" y2="62.35" stroke="#333" stroke-width="0.8" />
<line x1="138.9" y1="64.44" x2="140.5" y2="64.44" stroke="#222" stroke-width="0.75" />
<line x1="138.9" y1="66.53" x2="140.5" y2="66.53" stroke="#222" stroke-width="0.75" />
<line x1="138.9" y1="68.62" x2="140.5" y2="68.62" stroke="#222" stroke-width="0.75" />
<line x1="138.9" y1="70.71" x2="140.5" y2="70.71" stroke="#222" stroke-width="0.75" />
<text x="134" y="74.6" font-size="5.4" text-anchor="end" font-weight="normal" fill="#1a1a1a" stroke="#1a1a1a" stroke-width="0.14" >50K</text>
<line x1="137.9" y1="72.8" x2="140.5" y2="72.8" stroke="#333" stroke-width="0.8" />
<line x1="138.9" y1="74.89" x2="140.5" y2="74.89" stroke="#222" stroke-width="0.75" />
<line x1="138.9" y1="76.98" x2="140.5" y2="76.98" stroke="#222" stroke-width="0.75" />
<line x1="138.9" y1="79.07" x2="140.5" y2="79.07" stroke="#222" stroke-width="0.75" />
<line x1="138.9" y1="81.16" x2="140.5" y2="81.16" stroke="#222" stroke-width="0.75" />
<text x="134" y="85.05" font-size="5.4" text-anchor="end" font-weight="normal" fill="#1a1a1a" stroke="#1a1a1a" stroke-width="0.14" >0</text>
<line x1="137.9" y1="83.25" x2="140.5" y2="83.25" stroke="#333" stroke-width="0.8" />
<text x="144.4" y="93.2" font-size="5.3" text-anchor="middle" font-weight="normal" fill="#1a1a1a" stroke="#1a1a1a" stroke-width="0.14" >0</text>
<text x="147.4" y="93.2" font-size="5.2" text-anchor="start" font-weight="normal" fill="#1a1a1a" stroke="#1a1a1a" stroke-width="0.14" ><tspan letter-spacing="-0.45">10</tspan><tspan font-size="3.5" dy="-2.2" dx="0.35">2</tspan></text>
<text x="159.7" y="93.2" font-size="5.2" text-anchor="start" font-weight="normal" fill="#1a1a1a" stroke="#1a1a1a" stroke-width="0.14" ><tspan letter-spacing="-0.45">10</tspan><tspan font-size="3.5" dy="-2.2" dx="0.35">3</tspan></text>
<text x="172" y="93.2" font-size="5.2" text-anchor="start" font-weight="normal" fill="#1a1a1a" stroke="#1a1a1a" stroke-width="0.14" ><tspan letter-spacing="-0.45">10</tspan><tspan font-size="3.5" dy="-2.2" dx="0.35">4</tspan></text>
<text x="183.6" y="93.2" font-size="5.2" text-anchor="start" font-weight="normal" fill="#1a1a1a" stroke="#1a1a1a" stroke-width="0.14" ><tspan letter-spacing="-0.45">10</tspan><tspan font-size="3.5" dy="-2.2" dx="0.35">5</tspan></text>
<line x1="142.7" y1="83.3" x2="142.7" y2="85" stroke="#222" stroke-width="0.8" />
<line x1="145" y1="83.3" x2="145" y2="85" stroke="#222" stroke-width="0.8" />
<line x1="147" y1="83.3" x2="147" y2="85" stroke="#222" stroke-width="0.8" />
<line x1="149.7" y1="83.3" x2="149.7" y2="85" stroke="#222" stroke-width="0.8" />
<line x1="152" y1="83.3" x2="152" y2="85" stroke="#222" stroke-width="0.8" />
<line x1="153.7" y1="83.3" x2="153.7" y2="85" stroke="#222" stroke-width="0.8" />
<line x1="156.5" y1="83.3" x2="156.5" y2="85" stroke="#222" stroke-width="0.8" />
<line x1="159.5" y1="83.3" x2="159.5" y2="85" stroke="#222" stroke-width="0.8" />
<line x1="162" y1="83.3" x2="162" y2="85" stroke="#222" stroke-width="0.8" />
<line x1="165.5" y1="83.3" x2="165.5" y2="85" stroke="#222" stroke-width="0.8" />
<line x1="168.5" y1="83.3" x2="168.5" y2="85" stroke="#222" stroke-width="0.8" />
<line x1="171.5" y1="83.3" x2="171.5" y2="85" stroke="#222" stroke-width="0.8" />
<line x1="174" y1="83.3" x2="174" y2="85" stroke="#222" stroke-width="0.8" />
<line x1="177.5" y1="83.3" x2="177.5" y2="85" stroke="#222" stroke-width="0.8" />
<line x1="180.5" y1="83.3" x2="180.5" y2="85" stroke="#222" stroke-width="0.8" />
<line x1="183.5" y1="83.3" x2="183.5" y2="85" stroke="#222" stroke-width="0.8" />
<line x1="186" y1="83.3" x2="186" y2="85" stroke="#222" stroke-width="0.8" />
<line x1="189" y1="83.3" x2="189" y2="85" stroke="#222" stroke-width="0.8" />
<line x1="150.8" y1="83.3" x2="150.8" y2="85.9" stroke="#333" stroke-width="0.8" />
<line x1="163.5" y1="83.3" x2="163.5" y2="85.9" stroke="#333" stroke-width="0.8" />
<line x1="175.5" y1="83.3" x2="175.5" y2="85.9" stroke="#333" stroke-width="0.8" />
<line x1="186.9" y1="83.3" x2="186.9" y2="85.9" stroke="#333" stroke-width="0.8" />
<rect x="140.5" y="28.5" width="51" height="54.8" fill="none" stroke="#222" stroke-width="1"/>
<text x="213" y="32.8" font-size="5.4" text-anchor="end" font-weight="normal" fill="#1a1a1a" stroke="#1a1a1a" stroke-width="0.14" >250K</text>
<line x1="216.9" y1="31" x2="219.5" y2="31" stroke="#333" stroke-width="0.8" />
<line x1="217.9" y1="33.09" x2="219.5" y2="33.09" stroke="#222" stroke-width="0.75" />
<line x1="217.9" y1="35.18" x2="219.5" y2="35.18" stroke="#222" stroke-width="0.75" />
<line x1="217.9" y1="37.27" x2="219.5" y2="37.27" stroke="#222" stroke-width="0.75" />
<line x1="217.9" y1="39.36" x2="219.5" y2="39.36" stroke="#222" stroke-width="0.75" />
<text x="213" y="43.25" font-size="5.4" text-anchor="end" font-weight="normal" fill="#1a1a1a" stroke="#1a1a1a" stroke-width="0.14" >200K</text>
<line x1="216.9" y1="41.45" x2="219.5" y2="41.45" stroke="#333" stroke-width="0.8" />
<line x1="217.9" y1="43.54" x2="219.5" y2="43.54" stroke="#222" stroke-width="0.75" />
<line x1="217.9" y1="45.63" x2="219.5" y2="45.63" stroke="#222" stroke-width="0.75" />
<line x1="217.9" y1="47.72" x2="219.5" y2="47.72" stroke="#222" stroke-width="0.75" />
<line x1="217.9" y1="49.81" x2="219.5" y2="49.81" stroke="#222" stroke-width="0.75" />
<text x="213" y="53.7" font-size="5.4" text-anchor="end" font-weight="normal" fill="#1a1a1a" stroke="#1a1a1a" stroke-width="0.14" >150K</text>
<line x1="216.9" y1="51.9" x2="219.5" y2="51.9" stroke="#333" stroke-width="0.8" />
<line x1="217.9" y1="53.99" x2="219.5" y2="53.99" stroke="#222" stroke-width="0.75" />
<line x1="217.9" y1="56.08" x2="219.5" y2="56.08" stroke="#222" stroke-width="0.75" />
<line x1="217.9" y1="58.17" x2="219.5" y2="58.17" stroke="#222" stroke-width="0.75" />
<line x1="217.9" y1="60.26" x2="219.5" y2="60.26" stroke="#222" stroke-width="0.75" />
<text x="213" y="64.15" font-size="5.4" text-anchor="end" font-weight="normal" fill="#1a1a1a" stroke="#1a1a1a" stroke-width="0.14" >100K</text>
<line x1="216.9" y1="62.35" x2="219.5" y2="62.35" stroke="#333" stroke-width="0.8" />
<line x1="217.9" y1="64.44" x2="219.5" y2="64.44" stroke="#222" stroke-width="0.75" />
<line x1="217.9" y1="66.53" x2="219.5" y2="66.53" stroke="#222" stroke-width="0.75" />
<line x1="217.9" y1="68.62" x2="219.5" y2="68.62" stroke="#222" stroke-width="0.75" />
<line x1="217.9" y1="70.71" x2="219.5" y2="70.71" stroke="#222" stroke-width="0.75" />
<text x="213" y="74.6" font-size="5.4" text-anchor="end" font-weight="normal" fill="#1a1a1a" stroke="#1a1a1a" stroke-width="0.14" >50K</text>
<line x1="216.9" y1="72.8" x2="219.5" y2="72.8" stroke="#333" stroke-width="0.8" />
<line x1="217.9" y1="74.89" x2="219.5" y2="74.89" stroke="#222" stroke-width="0.75" />
<line x1="217.9" y1="76.98" x2="219.5" y2="76.98" stroke="#222" stroke-width="0.75" />
<line x1="217.9" y1="79.07" x2="219.5" y2="79.07" stroke="#222" stroke-width="0.75" />
<line x1="217.9" y1="81.16" x2="219.5" y2="81.16" stroke="#222" stroke-width="0.75" />
<text x="213" y="85.05" font-size="5.4" text-anchor="end" font-weight="normal" fill="#1a1a1a" stroke="#1a1a1a" stroke-width="0.14" >0</text>
<line x1="216.9" y1="83.25" x2="219.5" y2="83.25" stroke="#333" stroke-width="0.8" />
<text x="223.4" y="93.2" font-size="5.3" text-anchor="middle" font-weight="normal" fill="#1a1a1a" stroke="#1a1a1a" stroke-width="0.14" >0</text>
<text x="226.4" y="93.2" font-size="5.2" text-anchor="start" font-weight="normal" fill="#1a1a1a" stroke="#1a1a1a" stroke-width="0.14" ><tspan letter-spacing="-0.45">10</tspan><tspan font-size="3.5" dy="-2.2" dx="0.35">2</tspan></text>
<text x="238.7" y="93.2" font-size="5.2" text-anchor="start" font-weight="normal" fill="#1a1a1a" stroke="#1a1a1a" stroke-width="0.14" ><tspan letter-spacing="-0.45">10</tspan><tspan font-size="3.5" dy="-2.2" dx="0.35">3</tspan></text>
<text x="251" y="93.2" font-size="5.2" text-anchor="start" font-weight="normal" fill="#1a1a1a" stroke="#1a1a1a" stroke-width="0.14" ><tspan letter-spacing="-0.45">10</tspan><tspan font-size="3.5" dy="-2.2" dx="0.35">4</tspan></text>
<text x="262.6" y="93.2" font-size="5.2" text-anchor="start" font-weight="normal" fill="#1a1a1a" stroke="#1a1a1a" stroke-width="0.14" ><tspan letter-spacing="-0.45">10</tspan><tspan font-size="3.5" dy="-2.2" dx="0.35">5</tspan></text>
<line x1="221.7" y1="83.3" x2="221.7" y2="85" stroke="#222" stroke-width="0.8" />
<line x1="224" y1="83.3" x2="224" y2="85" stroke="#222" stroke-width="0.8" />
<line x1="226" y1="83.3" x2="226" y2="85" stroke="#222" stroke-width="0.8" />
<line x1="228.7" y1="83.3" x2="228.7" y2="85" stroke="#222" stroke-width="0.8" />
<line x1="231" y1="83.3" x2="231" y2="85" stroke="#222" stroke-width="0.8" />
<line x1="232.7" y1="83.3" x2="232.7" y2="85" stroke="#222" stroke-width="0.8" />
<line x1="235.5" y1="83.3" x2="235.5" y2="85" stroke="#222" stroke-width="0.8" />
<line x1="238.5" y1="83.3" x2="238.5" y2="85" stroke="#222" stroke-width="0.8" />
<line x1="241" y1="83.3" x2="241" y2="85" stroke="#222" stroke-width="0.8" />
<line x1="244.5" y1="83.3" x2="244.5" y2="85" stroke="#222" stroke-width="0.8" />
<line x1="247.5" y1="83.3" x2="247.5" y2="85" stroke="#222" stroke-width="0.8" />
<line x1="250.5" y1="83.3" x2="250.5" y2="85" stroke="#222" stroke-width="0.8" />
<line x1="253" y1="83.3" x2="253" y2="85" stroke="#222" stroke-width="0.8" />
<line x1="256.5" y1="83.3" x2="256.5" y2="85" stroke="#222" stroke-width="0.8" />
<line x1="259.5" y1="83.3" x2="259.5" y2="85" stroke="#222" stroke-width="0.8" />
<line x1="262.5" y1="83.3" x2="262.5" y2="85" stroke="#222" stroke-width="0.8" />
<line x1="265" y1="83.3" x2="265" y2="85" stroke="#222" stroke-width="0.8" />
<line x1="268" y1="83.3" x2="268" y2="85" stroke="#222" stroke-width="0.8" />
<line x1="229.8" y1="83.3" x2="229.8" y2="85.9" stroke="#333" stroke-width="0.8" />
<line x1="242.5" y1="83.3" x2="242.5" y2="85.9" stroke="#333" stroke-width="0.8" />
<line x1="254.5" y1="83.3" x2="254.5" y2="85.9" stroke="#333" stroke-width="0.8" />
<line x1="265.9" y1="83.3" x2="265.9" y2="85.9" stroke="#333" stroke-width="0.8" />
<rect x="219.5" y="28.5" width="51" height="54.8" fill="none" stroke="#222" stroke-width="1"/>
<text x="55" y="108.1" font-size="5.4" text-anchor="end" font-weight="normal" fill="#1a1a1a" stroke="#1a1a1a" stroke-width="0.14" >250K</text>
<line x1="58.9" y1="106.3" x2="61.5" y2="106.3" stroke="#333" stroke-width="0.8" />
<line x1="59.9" y1="108.39" x2="61.5" y2="108.39" stroke="#222" stroke-width="0.75" />
<line x1="59.9" y1="110.48" x2="61.5" y2="110.48" stroke="#222" stroke-width="0.75" />
<line x1="59.9" y1="112.57" x2="61.5" y2="112.57" stroke="#222" stroke-width="0.75" />
<line x1="59.9" y1="114.66" x2="61.5" y2="114.66" stroke="#222" stroke-width="0.75" />
<text x="55" y="118.55" font-size="5.4" text-anchor="end" font-weight="normal" fill="#1a1a1a" stroke="#1a1a1a" stroke-width="0.14" >200K</text>
<line x1="58.9" y1="116.75" x2="61.5" y2="116.75" stroke="#333" stroke-width="0.8" />
<line x1="59.9" y1="118.84" x2="61.5" y2="118.84" stroke="#222" stroke-width="0.75" />
<line x1="59.9" y1="120.93" x2="61.5" y2="120.93" stroke="#222" stroke-width="0.75" />
<line x1="59.9" y1="123.02" x2="61.5" y2="123.02" stroke="#222" stroke-width="0.75" />
<line x1="59.9" y1="125.11" x2="61.5" y2="125.11" stroke="#222" stroke-width="0.75" />
<text x="55" y="129" font-size="5.4" text-anchor="end" font-weight="normal" fill="#1a1a1a" stroke="#1a1a1a" stroke-width="0.14" >150K</text>
<line x1="58.9" y1="127.2" x2="61.5" y2="127.2" stroke="#333" stroke-width="0.8" />
<line x1="59.9" y1="129.29" x2="61.5" y2="129.29" stroke="#222" stroke-width="0.75" />
<line x1="59.9" y1="131.38" x2="61.5" y2="131.38" stroke="#222" stroke-width="0.75" />
<line x1="59.9" y1="133.47" x2="61.5" y2="133.47" stroke="#222" stroke-width="0.75" />
<line x1="59.9" y1="135.56" x2="61.5" y2="135.56" stroke="#222" stroke-width="0.75" />
<text x="55" y="139.45" font-size="5.4" text-anchor="end" font-weight="normal" fill="#1a1a1a" stroke="#1a1a1a" stroke-width="0.14" >100K</text>
<line x1="58.9" y1="137.65" x2="61.5" y2="137.65" stroke="#333" stroke-width="0.8" />
<line x1="59.9" y1="139.74" x2="61.5" y2="139.74" stroke="#222" stroke-width="0.75" />
<line x1="59.9" y1="141.83" x2="61.5" y2="141.83" stroke="#222" stroke-width="0.75" />
<line x1="59.9" y1="143.92" x2="61.5" y2="143.92" stroke="#222" stroke-width="0.75" />
<line x1="59.9" y1="146.01" x2="61.5" y2="146.01" stroke="#222" stroke-width="0.75" />
<text x="55" y="149.9" font-size="5.4" text-anchor="end" font-weight="normal" fill="#1a1a1a" stroke="#1a1a1a" stroke-width="0.14" >50K</text>
<line x1="58.9" y1="148.1" x2="61.5" y2="148.1" stroke="#333" stroke-width="0.8" />
<line x1="59.9" y1="150.19" x2="61.5" y2="150.19" stroke="#222" stroke-width="0.75" />
<line x1="59.9" y1="152.28" x2="61.5" y2="152.28" stroke="#222" stroke-width="0.75" />
<line x1="59.9" y1="154.37" x2="61.5" y2="154.37" stroke="#222" stroke-width="0.75" />
<line x1="59.9" y1="156.46" x2="61.5" y2="156.46" stroke="#222" stroke-width="0.75" />
<text x="55" y="160.35" font-size="5.4" text-anchor="end" font-weight="normal" fill="#1a1a1a" stroke="#1a1a1a" stroke-width="0.14" >0</text>
<line x1="58.9" y1="158.55" x2="61.5" y2="158.55" stroke="#333" stroke-width="0.8" />
<text x="65.4" y="168.5" font-size="5.3" text-anchor="middle" font-weight="normal" fill="#1a1a1a" stroke="#1a1a1a" stroke-width="0.14" >0</text>
<text x="68.4" y="168.5" font-size="5.2" text-anchor="start" font-weight="normal" fill="#1a1a1a" stroke="#1a1a1a" stroke-width="0.14" ><tspan letter-spacing="-0.45">10</tspan><tspan font-size="3.5" dy="-2.2" dx="0.35">2</tspan></text>
<text x="80.7" y="168.5" font-size="5.2" text-anchor="start" font-weight="normal" fill="#1a1a1a" stroke="#1a1a1a" stroke-width="0.14" ><tspan letter-spacing="-0.45">10</tspan><tspan font-size="3.5" dy="-2.2" dx="0.35">3</tspan></text>
<text x="93" y="168.5" font-size="5.2" text-anchor="start" font-weight="normal" fill="#1a1a1a" stroke="#1a1a1a" stroke-width="0.14" ><tspan letter-spacing="-0.45">10</tspan><tspan font-size="3.5" dy="-2.2" dx="0.35">4</tspan></text>
<text x="104.6" y="168.5" font-size="5.2" text-anchor="start" font-weight="normal" fill="#1a1a1a" stroke="#1a1a1a" stroke-width="0.14" ><tspan letter-spacing="-0.45">10</tspan><tspan font-size="3.5" dy="-2.2" dx="0.35">5</tspan></text>
<line x1="63.7" y1="158.6" x2="63.7" y2="160.3" stroke="#222" stroke-width="0.8" />
<line x1="66" y1="158.6" x2="66" y2="160.3" stroke="#222" stroke-width="0.8" />
<line x1="68" y1="158.6" x2="68" y2="160.3" stroke="#222" stroke-width="0.8" />
<line x1="70.7" y1="158.6" x2="70.7" y2="160.3" stroke="#222" stroke-width="0.8" />
<line x1="73" y1="158.6" x2="73" y2="160.3" stroke="#222" stroke-width="0.8" />
<line x1="74.7" y1="158.6" x2="74.7" y2="160.3" stroke="#222" stroke-width="0.8" />
<line x1="77.5" y1="158.6" x2="77.5" y2="160.3" stroke="#222" stroke-width="0.8" />
<line x1="80.5" y1="158.6" x2="80.5" y2="160.3" stroke="#222" stroke-width="0.8" />
<line x1="83" y1="158.6" x2="83" y2="160.3" stroke="#222" stroke-width="0.8" />
<line x1="86.5" y1="158.6" x2="86.5" y2="160.3" stroke="#222" stroke-width="0.8" />
<line x1="89.5" y1="158.6" x2="89.5" y2="160.3" stroke="#222" stroke-width="0.8" />
<line x1="92.5" y1="158.6" x2="92.5" y2="160.3" stroke="#222" stroke-width="0.8" />
<line x1="95" y1="158.6" x2="95" y2="160.3" stroke="#222" stroke-width="0.8" />
<line x1="98.5" y1="158.6" x2="98.5" y2="160.3" stroke="#222" stroke-width="0.8" />
<line x1="101.5" y1="158.6" x2="101.5" y2="160.3" stroke="#222" stroke-width="0.8" />
<line x1="104.5" y1="158.6" x2="104.5" y2="160.3" stroke="#222" stroke-width="0.8" />
<line x1="107" y1="158.6" x2="107" y2="160.3" stroke="#222" stroke-width="0.8" />
<line x1="110" y1="158.6" x2="110" y2="160.3" stroke="#222" stroke-width="0.8" />
<line x1="71.8" y1="158.6" x2="71.8" y2="161.2" stroke="#333" stroke-width="0.8" />
<line x1="84.5" y1="158.6" x2="84.5" y2="161.2" stroke="#333" stroke-width="0.8" />
<line x1="96.5" y1="158.6" x2="96.5" y2="161.2" stroke="#333" stroke-width="0.8" />
<line x1="107.9" y1="158.6" x2="107.9" y2="161.2" stroke="#333" stroke-width="0.8" />
<rect x="61.5" y="103.8" width="51" height="54.8" fill="none" stroke="#222" stroke-width="1"/>
<text x="134" y="108.1" font-size="5.4" text-anchor="end" font-weight="normal" fill="#1a1a1a" stroke="#1a1a1a" stroke-width="0.14" >250K</text>
<line x1="137.9" y1="106.3" x2="140.5" y2="106.3" stroke="#333" stroke-width="0.8" />
<line x1="138.9" y1="108.39" x2="140.5" y2="108.39" stroke="#222" stroke-width="0.75" />
<line x1="138.9" y1="110.48" x2="140.5" y2="110.48" stroke="#222" stroke-width="0.75" />
<line x1="138.9" y1="112.57" x2="140.5" y2="112.57" stroke="#222" stroke-width="0.75" />
<line x1="138.9" y1="114.66" x2="140.5" y2="114.66" stroke="#222" stroke-width="0.75" />
<text x="134" y="118.55" font-size="5.4" text-anchor="end" font-weight="normal" fill="#1a1a1a" stroke="#1a1a1a" stroke-width="0.14" >200K</text>
<line x1="137.9" y1="116.75" x2="140.5" y2="116.75" stroke="#333" stroke-width="0.8" />
<line x1="138.9" y1="118.84" x2="140.5" y2="118.84" stroke="#222" stroke-width="0.75" />
<line x1="138.9" y1="120.93" x2="140.5" y2="120.93" stroke="#222" stroke-width="0.75" />
<line x1="138.9" y1="123.02" x2="140.5" y2="123.02" stroke="#222" stroke-width="0.75" />
<line x1="138.9" y1="125.11" x2="140.5" y2="125.11" stroke="#222" stroke-width="0.75" />
<text x="134" y="129" font-size="5.4" text-anchor="end" font-weight="normal" fill="#1a1a1a" stroke="#1a1a1a" stroke-width="0.14" >150K</text>
<line x1="137.9" y1="127.2" x2="140.5" y2="127.2" stroke="#333" stroke-width="0.8" />
<line x1="138.9" y1="129.29" x2="140.5" y2="129.29" stroke="#222" stroke-width="0.75" />
<line x1="138.9" y1="131.38" x2="140.5" y2="131.38" stroke="#222" stroke-width="0.75" />
<line x1="138.9" y1="133.47" x2="140.5" y2="133.47" stroke="#222" stroke-width="0.75" />
<line x1="138.9" y1="135.56" x2="140.5" y2="135.56" stroke="#222" stroke-width="0.75" />
<text x="134" y="139.45" font-size="5.4" text-anchor="end" font-weight="normal" fill="#1a1a1a" stroke="#1a1a1a" stroke-width="0.14" >100K</text>
<line x1="137.9" y1="137.65" x2="140.5" y2="137.65" stroke="#333" stroke-width="0.8" />
<line x1="138.9" y1="139.74" x2="140.5" y2="139.74" stroke="#222" stroke-width="0.75" />
<line x1="138.9" y1="141.83" x2="140.5" y2="141.83" stroke="#222" stroke-width="0.75" />
<line x1="138.9" y1="143.92" x2="140.5" y2="143.92" stroke="#222" stroke-width="0.75" />
<line x1="138.9" y1="146.01" x2="140.5" y2="146.01" stroke="#222" stroke-width="0.75" />
<text x="134" y="149.9" font-size="5.4" text-anchor="end" font-weight="normal" fill="#1a1a1a" stroke="#1a1a1a" stroke-width="0.14" >50K</text>
<line x1="137.9" y1="148.1" x2="140.5" y2="148.1" stroke="#333" stroke-width="0.8" />
<line x1="138.9" y1="150.19" x2="140.5" y2="150.19" stroke="#222" stroke-width="0.75" />
<line x1="138.9" y1="152.28" x2="140.5" y2="152.28" stroke="#222" stroke-width="0.75" />
<line x1="138.9" y1="154.37" x2="140.5" y2="154.37" stroke="#222" stroke-width="0.75" />
<line x1="138.9" y1="156.46" x2="140.5" y2="156.46" stroke="#222" stroke-width="0.75" />
<text x="134" y="160.35" font-size="5.4" text-anchor="end" font-weight="normal" fill="#1a1a1a" stroke="#1a1a1a" stroke-width="0.14" >0</text>
<line x1="137.9" y1="158.55" x2="140.5" y2="158.55" stroke="#333" stroke-width="0.8" />
<text x="144.4" y="168.5" font-size="5.3" text-anchor="middle" font-weight="normal" fill="#1a1a1a" stroke="#1a1a1a" stroke-width="0.14" >0</text>
<text x="147.4" y="168.5" font-size="5.2" text-anchor="start" font-weight="normal" fill="#1a1a1a" stroke="#1a1a1a" stroke-width="0.14" ><tspan letter-spacing="-0.45">10</tspan><tspan font-size="3.5" dy="-2.2" dx="0.35">2</tspan></text>
<text x="159.7" y="168.5" font-size="5.2" text-anchor="start" font-weight="normal" fill="#1a1a1a" stroke="#1a1a1a" stroke-width="0.14" ><tspan letter-spacing="-0.45">10</tspan><tspan font-size="3.5" dy="-2.2" dx="0.35">3</tspan></text>
<text x="172" y="168.5" font-size="5.2" text-anchor="start" font-weight="normal" fill="#1a1a1a" stroke="#1a1a1a" stroke-width="0.14" ><tspan letter-spacing="-0.45">10</tspan><tspan font-size="3.5" dy="-2.2" dx="0.35">4</tspan></text>
<text x="183.6" y="168.5" font-size="5.2" text-anchor="start" font-weight="normal" fill="#1a1a1a" stroke="#1a1a1a" stroke-width="0.14" ><tspan letter-spacing="-0.45">10</tspan><tspan font-size="3.5" dy="-2.2" dx="0.35">5</tspan></text>
<line x1="142.7" y1="158.6" x2="142.7" y2="160.3" stroke="#222" stroke-width="0.8" />
<line x1="145" y1="158.6" x2="145" y2="160.3" stroke="#222" stroke-width="0.8" />
<line x1="147" y1="158.6" x2="147" y2="160.3" stroke="#222" stroke-width="0.8" />
<line x1="149.7" y1="158.6" x2="149.7" y2="160.3" stroke="#222" stroke-width="0.8" />
<line x1="152" y1="158.6" x2="152" y2="160.3" stroke="#222" stroke-width="0.8" />
<line x1="153.7" y1="158.6" x2="153.7" y2="160.3" stroke="#222" stroke-width="0.8" />
<line x1="156.5" y1="158.6" x2="156.5" y2="160.3" stroke="#222" stroke-width="0.8" />
<line x1="159.5" y1="158.6" x2="159.5" y2="160.3" stroke="#222" stroke-width="0.8" />
<line x1="162" y1="158.6" x2="162" y2="160.3" stroke="#222" stroke-width="0.8" />
<line x1="165.5" y1="158.6" x2="165.5" y2="160.3" stroke="#222" stroke-width="0.8" />
<line x1="168.5" y1="158.6" x2="168.5" y2="160.3" stroke="#222" stroke-width="0.8" />
<line x1="171.5" y1="158.6" x2="171.5" y2="160.3" stroke="#222" stroke-width="0.8" />
<line x1="174" y1="158.6" x2="174" y2="160.3" stroke="#222" stroke-width="0.8" />
<line x1="177.5" y1="158.6" x2="177.5" y2="160.3" stroke="#222" stroke-width="0.8" />
<line x1="180.5" y1="158.6" x2="180.5" y2="160.3" stroke="#222" stroke-width="0.8" />
<line x1="183.5" y1="158.6" x2="183.5" y2="160.3" stroke="#222" stroke-width="0.8" />
<line x1="186" y1="158.6" x2="186" y2="160.3" stroke="#222" stroke-width="0.8" />
<line x1="189" y1="158.6" x2="189" y2="160.3" stroke="#222" stroke-width="0.8" />
<line x1="150.8" y1="158.6" x2="150.8" y2="161.2" stroke="#333" stroke-width="0.8" />
<line x1="163.5" y1="158.6" x2="163.5" y2="161.2" stroke="#333" stroke-width="0.8" />
<line x1="175.5" y1="158.6" x2="175.5" y2="161.2" stroke="#333" stroke-width="0.8" />
<line x1="186.9" y1="158.6" x2="186.9" y2="161.2" stroke="#333" stroke-width="0.8" />
<rect x="140.5" y="103.8" width="51" height="54.8" fill="none" stroke="#222" stroke-width="1"/>
<text x="213" y="108.1" font-size="5.4" text-anchor="end" font-weight="normal" fill="#1a1a1a" stroke="#1a1a1a" stroke-width="0.14" >250K</text>
<line x1="216.9" y1="106.3" x2="219.5" y2="106.3" stroke="#333" stroke-width="0.8" />
<line x1="217.9" y1="108.39" x2="219.5" y2="108.39" stroke="#222" stroke-width="0.75" />
<line x1="217.9" y1="110.48" x2="219.5" y2="110.48" stroke="#222" stroke-width="0.75" />
<line x1="217.9" y1="112.57" x2="219.5" y2="112.57" stroke="#222" stroke-width="0.75" />
<line x1="217.9" y1="114.66" x2="219.5" y2="114.66" stroke="#222" stroke-width="0.75" />
<text x="213" y="118.55" font-size="5.4" text-anchor="end" font-weight="normal" fill="#1a1a1a" stroke="#1a1a1a" stroke-width="0.14" >200K</text>
<line x1="216.9" y1="116.75" x2="219.5" y2="116.75" stroke="#333" stroke-width="0.8" />
<line x1="217.9" y1="118.84" x2="219.5" y2="118.84" stroke="#222" stroke-width="0.75" />
<line x1="217.9" y1="120.93" x2="219.5" y2="120.93" stroke="#222" stroke-width="0.75" />
<line x1="217.9" y1="123.02" x2="219.5" y2="123.02" stroke="#222" stroke-width="0.75" />
<line x1="217.9" y1="125.11" x2="219.5" y2="125.11" stroke="#222" stroke-width="0.75" />
<text x="213" y="129" font-size="5.4" text-anchor="end" font-weight="normal" fill="#1a1a1a" stroke="#1a1a1a" stroke-width="0.14" >150K</text>
<line x1="216.9" y1="127.2" x2="219.5" y2="127.2" stroke="#333" stroke-width="0.8" />
<line x1="217.9" y1="129.29" x2="219.5" y2="129.29" stroke="#222" stroke-width="0.75" />
<line x1="217.9" y1="131.38" x2="219.5" y2="131.38" stroke="#222" stroke-width="0.75" />
<line x1="217.9" y1="133.47" x2="219.5" y2="133.47" stroke="#222" stroke-width="0.75" />
<line x1="217.9" y1="135.56" x2="219.5" y2="135.56" stroke="#222" stroke-width="0.75" />
<text x="213" y="139.45" font-size="5.4" text-anchor="end" font-weight="normal" fill="#1a1a1a" stroke="#1a1a1a" stroke-width="0.14" >100K</text>
<line x1="216.9" y1="137.65" x2="219.5" y2="137.65" stroke="#333" stroke-width="0.8" />
<line x1="217.9" y1="139.74" x2="219.5" y2="139.74" stroke="#222" stroke-width="0.75" />
<line x1="217.9" y1="141.83" x2="219.5" y2="141.83" stroke="#222" stroke-width="0.75" />
<line x1="217.9" y1="143.92" x2="219.5" y2="143.92" stroke="#222" stroke-width="0.75" />
<line x1="217.9" y1="146.01" x2="219.5" y2="146.01" stroke="#222" stroke-width="0.75" />
<text x="213" y="149.9" font-size="5.4" text-anchor="end" font-weight="normal" fill="#1a1a1a" stroke="#1a1a1a" stroke-width="0.14" >50K</text>
<line x1="216.9" y1="148.1" x2="219.5" y2="148.1" stroke="#333" stroke-width="0.8" />
<line x1="217.9" y1="150.19" x2="219.5" y2="150.19" stroke="#222" stroke-width="0.75" />
<line x1="217.9" y1="152.28" x2="219.5" y2="152.28" stroke="#222" stroke-width="0.75" />
<line x1="217.9" y1="154.37" x2="219.5" y2="154.37" stroke="#222" stroke-width="0.75" />
<line x1="217.9" y1="156.46" x2="219.5" y2="156.46" stroke="#222" stroke-width="0.75" />
<text x="213" y="160.35" font-size="5.4" text-anchor="end" font-weight="normal" fill="#1a1a1a" stroke="#1a1a1a" stroke-width="0.14" >0</text>
<line x1="216.9" y1="158.55" x2="219.5" y2="158.55" stroke="#333" stroke-width="0.8" />
<text x="223.4" y="168.5" font-size="5.3" text-anchor="middle" font-weight="normal" fill="#1a1a1a" stroke="#1a1a1a" stroke-width="0.14" >0</text>
<text x="226.4" y="168.5" font-size="5.2" text-anchor="start" font-weight="normal" fill="#1a1a1a" stroke="#1a1a1a" stroke-width="0.14" ><tspan letter-spacing="-0.45">10</tspan><tspan font-size="3.5" dy="-2.2" dx="0.35">2</tspan></text>
<text x="238.7" y="168.5" font-size="5.2" text-anchor="start" font-weight="normal" fill="#1a1a1a" stroke="#1a1a1a" stroke-width="0.14" ><tspan letter-spacing="-0.45">10</tspan><tspan font-size="3.5" dy="-2.2" dx="0.35">3</tspan></text>
<text x="251" y="168.5" font-size="5.2" text-anchor="start" font-weight="normal" fill="#1a1a1a" stroke="#1a1a1a" stroke-width="0.14" ><tspan letter-spacing="-0.45">10</tspan><tspan font-size="3.5" dy="-2.2" dx="0.35">4</tspan></text>
<text x="262.6" y="168.5" font-size="5.2" text-anchor="start" font-weight="normal" fill="#1a1a1a" stroke="#1a1a1a" stroke-width="0.14" ><tspan letter-spacing="-0.45">10</tspan><tspan font-size="3.5" dy="-2.2" dx="0.35">5</tspan></text>
<line x1="221.7" y1="158.6" x2="221.7" y2="160.3" stroke="#222" stroke-width="0.8" />
<line x1="224" y1="158.6" x2="224" y2="160.3" stroke="#222" stroke-width="0.8" />
<line x1="226" y1="158.6" x2="226" y2="160.3" stroke="#222" stroke-width="0.8" />
<line x1="228.7" y1="158.6" x2="228.7" y2="160.3" stroke="#222" stroke-width="0.8" />
<line x1="231" y1="158.6" x2="231" y2="160.3" stroke="#222" stroke-width="0.8" />
<line x1="232.7" y1="158.6" x2="232.7" y2="160.3" stroke="#222" stroke-width="0.8" />
<line x1="235.5" y1="158.6" x2="235.5" y2="160.3" stroke="#222" stroke-width="0.8" />
<line x1="238.5" y1="158.6" x2="238.5" y2="160.3" stroke="#222" stroke-width="0.8" />
<line x1="241" y1="158.6" x2="241" y2="160.3" stroke="#222" stroke-width="0.8" />
<line x1="244.5" y1="158.6" x2="244.5" y2="160.3" stroke="#222" stroke-width="0.8" />
<line x1="247.5" y1="158.6" x2="247.5" y2="160.3" stroke="#222" stroke-width="0.8" />
<line x1="250.5" y1="158.6" x2="250.5" y2="160.3" stroke="#222" stroke-width="0.8" />
<line x1="253" y1="158.6" x2="253" y2="160.3" stroke="#222" stroke-width="0.8" />
<line x1="256.5" y1="158.6" x2="256.5" y2="160.3" stroke="#222" stroke-width="0.8" />
<line x1="259.5" y1="158.6" x2="259.5" y2="160.3" stroke="#222" stroke-width="0.8" />
<line x1="262.5" y1="158.6" x2="262.5" y2="160.3" stroke="#222" stroke-width="0.8" />
<line x1="265" y1="158.6" x2="265" y2="160.3" stroke="#222" stroke-width="0.8" />
<line x1="268" y1="158.6" x2="268" y2="160.3" stroke="#222" stroke-width="0.8" />
<line x1="229.8" y1="158.6" x2="229.8" y2="161.2" stroke="#333" stroke-width="0.8" />
<line x1="242.5" y1="158.6" x2="242.5" y2="161.2" stroke="#333" stroke-width="0.8" />
<line x1="254.5" y1="158.6" x2="254.5" y2="161.2" stroke="#333" stroke-width="0.8" />
<line x1="265.9" y1="158.6" x2="265.9" y2="161.2" stroke="#333" stroke-width="0.8" />
<rect x="219.5" y="103.8" width="51" height="54.8" fill="none" stroke="#222" stroke-width="1"/>
<text x="55" y="183.6" font-size="5.4" text-anchor="end" font-weight="normal" fill="#1a1a1a" stroke="#1a1a1a" stroke-width="0.14" >250K</text>
<line x1="58.9" y1="181.8" x2="61.5" y2="181.8" stroke="#333" stroke-width="0.8" />
<line x1="59.9" y1="183.89" x2="61.5" y2="183.89" stroke="#222" stroke-width="0.75" />
<line x1="59.9" y1="185.98" x2="61.5" y2="185.98" stroke="#222" stroke-width="0.75" />
<line x1="59.9" y1="188.07" x2="61.5" y2="188.07" stroke="#222" stroke-width="0.75" />
<line x1="59.9" y1="190.16" x2="61.5" y2="190.16" stroke="#222" stroke-width="0.75" />
<text x="55" y="194.05" font-size="5.4" text-anchor="end" font-weight="normal" fill="#1a1a1a" stroke="#1a1a1a" stroke-width="0.14" >200K</text>
<line x1="58.9" y1="192.25" x2="61.5" y2="192.25" stroke="#333" stroke-width="0.8" />
<line x1="59.9" y1="194.34" x2="61.5" y2="194.34" stroke="#222" stroke-width="0.75" />
<line x1="59.9" y1="196.43" x2="61.5" y2="196.43" stroke="#222" stroke-width="0.75" />
<line x1="59.9" y1="198.52" x2="61.5" y2="198.52" stroke="#222" stroke-width="0.75" />
<line x1="59.9" y1="200.61" x2="61.5" y2="200.61" stroke="#222" stroke-width="0.75" />
<text x="55" y="204.5" font-size="5.4" text-anchor="end" font-weight="normal" fill="#1a1a1a" stroke="#1a1a1a" stroke-width="0.14" >150K</text>
<line x1="58.9" y1="202.7" x2="61.5" y2="202.7" stroke="#333" stroke-width="0.8" />
<line x1="59.9" y1="204.79" x2="61.5" y2="204.79" stroke="#222" stroke-width="0.75" />
<line x1="59.9" y1="206.88" x2="61.5" y2="206.88" stroke="#222" stroke-width="0.75" />
<line x1="59.9" y1="208.97" x2="61.5" y2="208.97" stroke="#222" stroke-width="0.75" />
<line x1="59.9" y1="211.06" x2="61.5" y2="211.06" stroke="#222" stroke-width="0.75" />
<text x="55" y="214.95" font-size="5.4" text-anchor="end" font-weight="normal" fill="#1a1a1a" stroke="#1a1a1a" stroke-width="0.14" >100K</text>
<line x1="58.9" y1="213.15" x2="61.5" y2="213.15" stroke="#333" stroke-width="0.8" />
<line x1="59.9" y1="215.24" x2="61.5" y2="215.24" stroke="#222" stroke-width="0.75" />
<line x1="59.9" y1="217.33" x2="61.5" y2="217.33" stroke="#222" stroke-width="0.75" />
<line x1="59.9" y1="219.42" x2="61.5" y2="219.42" stroke="#222" stroke-width="0.75" />
<line x1="59.9" y1="221.51" x2="61.5" y2="221.51" stroke="#222" stroke-width="0.75" />
<text x="55" y="225.4" font-size="5.4" text-anchor="end" font-weight="normal" fill="#1a1a1a" stroke="#1a1a1a" stroke-width="0.14" >50K</text>
<line x1="58.9" y1="223.6" x2="61.5" y2="223.6" stroke="#333" stroke-width="0.8" />
<line x1="59.9" y1="225.69" x2="61.5" y2="225.69" stroke="#222" stroke-width="0.75" />
<line x1="59.9" y1="227.78" x2="61.5" y2="227.78" stroke="#222" stroke-width="0.75" />
<line x1="59.9" y1="229.87" x2="61.5" y2="229.87" stroke="#222" stroke-width="0.75" />
<line x1="59.9" y1="231.96" x2="61.5" y2="231.96" stroke="#222" stroke-width="0.75" />
<text x="55" y="235.85" font-size="5.4" text-anchor="end" font-weight="normal" fill="#1a1a1a" stroke="#1a1a1a" stroke-width="0.14" >0</text>
<line x1="58.9" y1="234.05" x2="61.5" y2="234.05" stroke="#333" stroke-width="0.8" />
<text x="65.4" y="244" font-size="5.3" text-anchor="middle" font-weight="normal" fill="#1a1a1a" stroke="#1a1a1a" stroke-width="0.14" >0</text>
<text x="68.4" y="244" font-size="5.2" text-anchor="start" font-weight="normal" fill="#1a1a1a" stroke="#1a1a1a" stroke-width="0.14" ><tspan letter-spacing="-0.45">10</tspan><tspan font-size="3.5" dy="-2.2" dx="0.35">2</tspan></text>
<text x="80.7" y="244" font-size="5.2" text-anchor="start" font-weight="normal" fill="#1a1a1a" stroke="#1a1a1a" stroke-width="0.14" ><tspan letter-spacing="-0.45">10</tspan><tspan font-size="3.5" dy="-2.2" dx="0.35">3</tspan></text>
<text x="93" y="244" font-size="5.2" text-anchor="start" font-weight="normal" fill="#1a1a1a" stroke="#1a1a1a" stroke-width="0.14" ><tspan letter-spacing="-0.45">10</tspan><tspan font-size="3.5" dy="-2.2" dx="0.35">4</tspan></text>
<text x="104.6" y="244" font-size="5.2" text-anchor="start" font-weight="normal" fill="#1a1a1a" stroke="#1a1a1a" stroke-width="0.14" ><tspan letter-spacing="-0.45">10</tspan><tspan font-size="3.5" dy="-2.2" dx="0.35">5</tspan></text>
<line x1="63.7" y1="234.1" x2="63.7" y2="235.8" stroke="#222" stroke-width="0.8" />
<line x1="66" y1="234.1" x2="66" y2="235.8" stroke="#222" stroke-width="0.8" />
<line x1="68" y1="234.1" x2="68" y2="235.8" stroke="#222" stroke-width="0.8" />
<line x1="70.7" y1="234.1" x2="70.7" y2="235.8" stroke="#222" stroke-width="0.8" />
<line x1="73" y1="234.1" x2="73" y2="235.8" stroke="#222" stroke-width="0.8" />
<line x1="74.7" y1="234.1" x2="74.7" y2="235.8" stroke="#222" stroke-width="0.8" />
<line x1="77.5" y1="234.1" x2="77.5" y2="235.8" stroke="#222" stroke-width="0.8" />
<line x1="80.5" y1="234.1" x2="80.5" y2="235.8" stroke="#222" stroke-width="0.8" />
<line x1="83" y1="234.1" x2="83" y2="235.8" stroke="#222" stroke-width="0.8" />
<line x1="86.5" y1="234.1" x2="86.5" y2="235.8" stroke="#222" stroke-width="0.8" />
<line x1="89.5" y1="234.1" x2="89.5" y2="235.8" stroke="#222" stroke-width="0.8" />
<line x1="92.5" y1="234.1" x2="92.5" y2="235.8" stroke="#222" stroke-width="0.8" />
<line x1="95" y1="234.1" x2="95" y2="235.8" stroke="#222" stroke-width="0.8" />
<line x1="98.5" y1="234.1" x2="98.5" y2="235.8" stroke="#222" stroke-width="0.8" />
<line x1="101.5" y1="234.1" x2="101.5" y2="235.8" stroke="#222" stroke-width="0.8" />
<line x1="104.5" y1="234.1" x2="104.5" y2="235.8" stroke="#222" stroke-width="0.8" />
<line x1="107" y1="234.1" x2="107" y2="235.8" stroke="#222" stroke-width="0.8" />
<line x1="110" y1="234.1" x2="110" y2="235.8" stroke="#222" stroke-width="0.8" />
<line x1="71.8" y1="234.1" x2="71.8" y2="236.7" stroke="#333" stroke-width="0.8" />
<line x1="84.5" y1="234.1" x2="84.5" y2="236.7" stroke="#333" stroke-width="0.8" />
<line x1="96.5" y1="234.1" x2="96.5" y2="236.7" stroke="#333" stroke-width="0.8" />
<line x1="107.9" y1="234.1" x2="107.9" y2="236.7" stroke="#333" stroke-width="0.8" />
<rect x="61.5" y="179.3" width="51" height="54.8" fill="none" stroke="#222" stroke-width="1"/>
<text x="134" y="183.6" font-size="5.4" text-anchor="end" font-weight="normal" fill="#1a1a1a" stroke="#1a1a1a" stroke-width="0.14" >250K</text>
<line x1="137.9" y1="181.8" x2="140.5" y2="181.8" stroke="#333" stroke-width="0.8" />
<line x1="138.9" y1="183.89" x2="140.5" y2="183.89" stroke="#222" stroke-width="0.75" />
<line x1="138.9" y1="185.98" x2="140.5" y2="185.98" stroke="#222" stroke-width="0.75" />
<line x1="138.9" y1="188.07" x2="140.5" y2="188.07" stroke="#222" stroke-width="0.75" />
<line x1="138.9" y1="190.16" x2="140.5" y2="190.16" stroke="#222" stroke-width="0.75" />
<text x="134" y="194.05" font-size="5.4" text-anchor="end" font-weight="normal" fill="#1a1a1a" stroke="#1a1a1a" stroke-width="0.14" >200K</text>
<line x1="137.9" y1="192.25" x2="140.5" y2="192.25" stroke="#333" stroke-width="0.8" />
<line x1="138.9" y1="194.34" x2="140.5" y2="194.34" stroke="#222" stroke-width="0.75" />
<line x1="138.9" y1="196.43" x2="140.5" y2="196.43" stroke="#222" stroke-width="0.75" />
<line x1="138.9" y1="198.52" x2="140.5" y2="198.52" stroke="#222" stroke-width="0.75" />
<line x1="138.9" y1="200.61" x2="140.5" y2="200.61" stroke="#222" stroke-width="0.75" />
<text x="134" y="204.5" font-size="5.4" text-anchor="end" font-weight="normal" fill="#1a1a1a" stroke="#1a1a1a" stroke-width="0.14" >150K</text>
<line x1="137.9" y1="202.7" x2="140.5" y2="202.7" stroke="#333" stroke-width="0.8" />
<line x1="138.9" y1="204.79" x2="140.5" y2="204.79" stroke="#222" stroke-width="0.75" />
<line x1="138.9" y1="206.88" x2="140.5" y2="206.88" stroke="#222" stroke-width="0.75" />
<line x1="138.9" y1="208.97" x2="140.5" y2="208.97" stroke="#222" stroke-width="0.75" />
<line x1="138.9" y1="211.06" x2="140.5" y2="211.06" stroke="#222" stroke-width="0.75" />
<text x="134" y="214.95" font-size="5.4" text-anchor="end" font-weight="normal" fill="#1a1a1a" stroke="#1a1a1a" stroke-width="0.14" >100K</text>
<line x1="137.9" y1="213.15" x2="140.5" y2="213.15" stroke="#333" stroke-width="0.8" />
<line x1="138.9" y1="215.24" x2="140.5" y2="215.24" stroke="#222" stroke-width="0.75" />
<line x1="138.9" y1="217.33" x2="140.5" y2="217.33" stroke="#222" stroke-width="0.75" />
<line x1="138.9" y1="219.42" x2="140.5" y2="219.42" stroke="#222" stroke-width="0.75" />
<line x1="138.9" y1="221.51" x2="140.5" y2="221.51" stroke="#222" stroke-width="0.75" />
<text x="134" y="225.4" font-size="5.4" text-anchor="end" font-weight="normal" fill="#1a1a1a" stroke="#1a1a1a" stroke-width="0.14" >50K</text>
<line x1="137.9" y1="223.6" x2="140.5" y2="223.6" stroke="#333" stroke-width="0.8" />
<line x1="138.9" y1="225.69" x2="140.5" y2="225.69" stroke="#222" stroke-width="0.75" />
<line x1="138.9" y1="227.78" x2="140.5" y2="227.78" stroke="#222" stroke-width="0.75" />
<line x1="138.9" y1="229.87" x2="140.5" y2="229.87" stroke="#222" stroke-width="0.75" />
<line x1="138.9" y1="231.96" x2="140.5" y2="231.96" stroke="#222" stroke-width="0.75" />
<text x="134" y="235.85" font-size="5.4" text-anchor="end" font-weight="normal" fill="#1a1a1a" stroke="#1a1a1a" stroke-width="0.14" >0</text>
<line x1="137.9" y1="234.05" x2="140.5" y2="234.05" stroke="#333" stroke-width="0.8" />
<text x="144.4" y="244" font-size="5.3" text-anchor="middle" font-weight="normal" fill="#1a1a1a" stroke="#1a1a1a" stroke-width="0.14" >0</text>
<text x="147.4" y="244" font-size="5.2" text-anchor="start" font-weight="normal" fill="#1a1a1a" stroke="#1a1a1a" stroke-width="0.14" ><tspan letter-spacing="-0.45">10</tspan><tspan font-size="3.5" dy="-2.2" dx="0.35">2</tspan></text>
<text x="159.7" y="244" font-size="5.2" text-anchor="start" font-weight="normal" fill="#1a1a1a" stroke="#1a1a1a" stroke-width="0.14" ><tspan letter-spacing="-0.45">10</tspan><tspan font-size="3.5" dy="-2.2" dx="0.35">3</tspan></text>
<text x="172" y="244" font-size="5.2" text-anchor="start" font-weight="normal" fill="#1a1a1a" stroke="#1a1a1a" stroke-width="0.14" ><tspan letter-spacing="-0.45">10</tspan><tspan font-size="3.5" dy="-2.2" dx="0.35">4</tspan></text>
<text x="183.6" y="244" font-size="5.2" text-anchor="start" font-weight="normal" fill="#1a1a1a" stroke="#1a1a1a" stroke-width="0.14" ><tspan letter-spacing="-0.45">10</tspan><tspan font-size="3.5" dy="-2.2" dx="0.35">5</tspan></text>
<line x1="142.7" y1="234.1" x2="142.7" y2="235.8" stroke="#222" stroke-width="0.8" />
<line x1="145" y1="234.1" x2="145" y2="235.8" stroke="#222" stroke-width="0.8" />
<line x1="147" y1="234.1" x2="147" y2="235.8" stroke="#222" stroke-width="0.8" />
<line x1="149.7" y1="234.1" x2="149.7" y2="235.8" stroke="#222" stroke-width="0.8" />
<line x1="152" y1="234.1" x2="152" y2="235.8" stroke="#222" stroke-width="0.8" />
<line x1="153.7" y1="234.1" x2="153.7" y2="235.8" stroke="#222" stroke-width="0.8" />
<line x1="156.5" y1="234.1" x2="156.5" y2="235.8" stroke="#222" stroke-width="0.8" />
<line x1="159.5" y1="234.1" x2="159.5" y2="235.8" stroke="#222" stroke-width="0.8" />
<line x1="162" y1="234.1" x2="162" y2="235.8" stroke="#222" stroke-width="0.8" />
<line x1="165.5" y1="234.1" x2="165.5" y2="235.8" stroke="#222" stroke-width="0.8" />
<line x1="168.5" y1="234.1" x2="168.5" y2="235.8" stroke="#222" stroke-width="0.8" />
<line x1="171.5" y1="234.1" x2="171.5" y2="235.8" stroke="#222" stroke-width="0.8" />
<line x1="174" y1="234.1" x2="174" y2="235.8" stroke="#222" stroke-width="0.8" />
<line x1="177.5" y1="234.1" x2="177.5" y2="235.8" stroke="#222" stroke-width="0.8" />
<line x1="180.5" y1="234.1" x2="180.5" y2="235.8" stroke="#222" stroke-width="0.8" />
<line x1="183.5" y1="234.1" x2="183.5" y2="235.8" stroke="#222" stroke-width="0.8" />
<line x1="186" y1="234.1" x2="186" y2="235.8" stroke="#222" stroke-width="0.8" />
<line x1="189" y1="234.1" x2="189" y2="235.8" stroke="#222" stroke-width="0.8" />
<line x1="150.8" y1="234.1" x2="150.8" y2="236.7" stroke="#333" stroke-width="0.8" />
<line x1="163.5" y1="234.1" x2="163.5" y2="236.7" stroke="#333" stroke-width="0.8" />
<line x1="175.5" y1="234.1" x2="175.5" y2="236.7" stroke="#333" stroke-width="0.8" />
<line x1="186.9" y1="234.1" x2="186.9" y2="236.7" stroke="#333" stroke-width="0.8" />
<rect x="140.5" y="179.3" width="51" height="54.8" fill="none" stroke="#222" stroke-width="1"/>
<text x="213" y="183.6" font-size="5.4" text-anchor="end" font-weight="normal" fill="#1a1a1a" stroke="#1a1a1a" stroke-width="0.14" >250K</text>
<line x1="216.9" y1="181.8" x2="219.5" y2="181.8" stroke="#333" stroke-width="0.8" />
<line x1="217.9" y1="183.89" x2="219.5" y2="183.89" stroke="#222" stroke-width="0.75" />
<line x1="217.9" y1="185.98" x2="219.5" y2="185.98" stroke="#222" stroke-width="0.75" />
<line x1="217.9" y1="188.07" x2="219.5" y2="188.07" stroke="#222" stroke-width="0.75" />
<line x1="217.9" y1="190.16" x2="219.5" y2="190.16" stroke="#222" stroke-width="0.75" />
<text x="213" y="194.05" font-size="5.4" text-anchor="end" font-weight="normal" fill="#1a1a1a" stroke="#1a1a1a" stroke-width="0.14" >200K</text>
<line x1="216.9" y1="192.25" x2="219.5" y2="192.25" stroke="#333" stroke-width="0.8" />
<line x1="217.9" y1="194.34" x2="219.5" y2="194.34" stroke="#222" stroke-width="0.75" />
<line x1="217.9" y1="196.43" x2="219.5" y2="196.43" stroke="#222" stroke-width="0.75" />
<line x1="217.9" y1="198.52" x2="219.5" y2="198.52" stroke="#222" stroke-width="0.75" />
<line x1="217.9" y1="200.61" x2="219.5" y2="200.61" stroke="#222" stroke-width="0.75" />
<text x="213" y="204.5" font-size="5.4" text-anchor="end" font-weight="normal" fill="#1a1a1a" stroke="#1a1a1a" stroke-width="0.14" >150K</text>
<line x1="216.9" y1="202.7" x2="219.5" y2="202.7" stroke="#333" stroke-width="0.8" />
<line x1="217.9" y1="204.79" x2="219.5" y2="204.79" stroke="#222" stroke-width="0.75" />
<line x1="217.9" y1="206.88" x2="219.5" y2="206.88" stroke="#222" stroke-width="0.75" />
<line x1="217.9" y1="208.97" x2="219.5" y2="208.97" stroke="#222" stroke-width="0.75" />
<line x1="217.9" y1="211.06" x2="219.5" y2="211.06" stroke="#222" stroke-width="0.75" />
<text x="213" y="214.95" font-size="5.4" text-anchor="end" font-weight="normal" fill="#1a1a1a" stroke="#1a1a1a" stroke-width="0.14" >100K</text>
<line x1="216.9" y1="213.15" x2="219.5" y2="213.15" stroke="#333" stroke-width="0.8" />
<line x1="217.9" y1="215.24" x2="219.5" y2="215.24" stroke="#222" stroke-width="0.75" />
<line x1="217.9" y1="217.33" x2="219.5" y2="217.33" stroke="#222" stroke-width="0.75" />
<line x1="217.9" y1="219.42" x2="219.5" y2="219.42" stroke="#222" stroke-width="0.75" />
<line x1="217.9" y1="221.51" x2="219.5" y2="221.51" stroke="#222" stroke-width="0.75" />
<text x="213" y="225.4" font-size="5.4" text-anchor="end" font-weight="normal" fill="#1a1a1a" stroke="#1a1a1a" stroke-width="0.14" >50K</text>
<line x1="216.9" y1="223.6" x2="219.5" y2="223.6" stroke="#333" stroke-width="0.8" />
<line x1="217.9" y1="225.69" x2="219.5" y2="225.69" stroke="#222" stroke-width="0.75" />
<line x1="217.9" y1="227.78" x2="219.5" y2="227.78" stroke="#222" stroke-width="0.75" />
<line x1="217.9" y1="229.87" x2="219.5" y2="229.87" stroke="#222" stroke-width="0.75" />
<line x1="217.9" y1="231.96" x2="219.5" y2="231.96" stroke="#222" stroke-width="0.75" />
<text x="213" y="235.85" font-size="5.4" text-anchor="end" font-weight="normal" fill="#1a1a1a" stroke="#1a1a1a" stroke-width="0.14" >0</text>
<line x1="216.9" y1="234.05" x2="219.5" y2="234.05" stroke="#333" stroke-width="0.8" />
<text x="223.4" y="244" font-size="5.3" text-anchor="middle" font-weight="normal" fill="#1a1a1a" stroke="#1a1a1a" stroke-width="0.14" >0</text>
<text x="226.4" y="244" font-size="5.2" text-anchor="start" font-weight="normal" fill="#1a1a1a" stroke="#1a1a1a" stroke-width="0.14" ><tspan letter-spacing="-0.45">10</tspan><tspan font-size="3.5" dy="-2.2" dx="0.35">2</tspan></text>
<text x="238.7" y="244" font-size="5.2" text-anchor="start" font-weight="normal" fill="#1a1a1a" stroke="#1a1a1a" stroke-width="0.14" ><tspan letter-spacing="-0.45">10</tspan><tspan font-size="3.5" dy="-2.2" dx="0.35">3</tspan></text>
<text x="251" y="244" font-size="5.2" text-anchor="start" font-weight="normal" fill="#1a1a1a" stroke="#1a1a1a" stroke-width="0.14" ><tspan letter-spacing="-0.45">10</tspan><tspan font-size="3.5" dy="-2.2" dx="0.35">4</tspan></text>
<text x="262.6" y="244" font-size="5.2" text-anchor="start" font-weight="normal" fill="#1a1a1a" stroke="#1a1a1a" stroke-width="0.14" ><tspan letter-spacing="-0.45">10</tspan><tspan font-size="3.5" dy="-2.2" dx="0.35">5</tspan></text>
<line x1="221.7" y1="234.1" x2="221.7" y2="235.8" stroke="#222" stroke-width="0.8" />
<line x1="224" y1="234.1" x2="224" y2="235.8" stroke="#222" stroke-width="0.8" />
<line x1="226" y1="234.1" x2="226" y2="235.8" stroke="#222" stroke-width="0.8" />
<line x1="228.7" y1="234.1" x2="228.7" y2="235.8" stroke="#222" stroke-width="0.8" />
<line x1="231" y1="234.1" x2="231" y2="235.8" stroke="#222" stroke-width="0.8" />
<line x1="232.7" y1="234.1" x2="232.7" y2="235.8" stroke="#222" stroke-width="0.8" />
<line x1="235.5" y1="234.1" x2="235.5" y2="235.8" stroke="#222" stroke-width="0.8" />
<line x1="238.5" y1="234.1" x2="238.5" y2="235.8" stroke="#222" stroke-width="0.8" />
<line x1="241" y1="234.1" x2="241" y2="235.8" stroke="#222" stroke-width="0.8" />
<line x1="244.5" y1="234.1" x2="244.5" y2="235.8" stroke="#222" stroke-width="0.8" />
<line x1="247.5" y1="234.1" x2="247.5" y2="235.8" stroke="#222" stroke-width="0.8" />
<line x1="250.5" y1="234.1" x2="250.5" y2="235.8" stroke="#222" stroke-width="0.8" />
<line x1="253" y1="234.1" x2="253" y2="235.8" stroke="#222" stroke-width="0.8" />
<line x1="256.5" y1="234.1" x2="256.5" y2="235.8" stroke="#222" stroke-width="0.8" />
<line x1="259.5" y1="234.1" x2="259.5" y2="235.8" stroke="#222" stroke-width="0.8" />
<line x1="262.5" y1="234.1" x2="262.5" y2="235.8" stroke="#222" stroke-width="0.8" />
<line x1="265" y1="234.1" x2="265" y2="235.8" stroke="#222" stroke-width="0.8" />
<line x1="268" y1="234.1" x2="268" y2="235.8" stroke="#222" stroke-width="0.8" />
<line x1="229.8" y1="234.1" x2="229.8" y2="236.7" stroke="#333" stroke-width="0.8" />
<line x1="242.5" y1="234.1" x2="242.5" y2="236.7" stroke="#333" stroke-width="0.8" />
<line x1="254.5" y1="234.1" x2="254.5" y2="236.7" stroke="#333" stroke-width="0.8" />
<line x1="265.9" y1="234.1" x2="265.9" y2="236.7" stroke="#333" stroke-width="0.8" />
<rect x="219.5" y="179.3" width="51" height="54.8" fill="none" stroke="#222" stroke-width="1"/>
<g fill="#9a9a9a" opacity="0.5"><circle cx="89.71" cy="334.38" r="0.35"/><circle cx="91.81" cy="333.31" r="0.35"/><circle cx="88.92" cy="325.26" r="0.35"/><circle cx="90.3" cy="325.43" r="0.35"/><circle cx="97.66" cy="326.78" r="0.35"/><circle cx="92.74" cy="324.49" r="0.35"/><circle cx="92.41" cy="328.01" r="0.35"/><circle cx="90.84" cy="323.85" r="0.35"/><circle cx="87.48" cy="333.74" r="0.35"/><circle cx="90.21" cy="326.18" r="0.35"/><circle cx="88.29" cy="326.69" r="0.35"/><circle cx="88.85" cy="323.45" r="0.35"/><circle cx="93.97" cy="327.44" r="0.35"/><circle cx="87.87" cy="332.18" r="0.35"/></g>
<g fill="#9a9a9a" opacity="0.4"><circle cx="164.11" cy="332.89" r="0.35"/><circle cx="173.02" cy="331.89" r="0.35"/><circle cx="168.32" cy="336.85" r="0.35"/><circle cx="172.66" cy="332.11" r="0.35"/><circle cx="167.24" cy="336.06" r="0.35"/><circle cx="167.52" cy="337.71" r="0.35"/></g>
<g fill="#9a9a9a" opacity="0.4"><circle cx="88.91" cy="409.56" r="0.35"/><circle cx="93.07" cy="403.05" r="0.35"/><circle cx="92.34" cy="402.18" r="0.35"/><circle cx="95.89" cy="403.35" r="0.35"/><circle cx="98.59" cy="406.29" r="0.35"/><circle cx="91.15" cy="403.22" r="0.35"/><circle cx="94.51" cy="402.91" r="0.35"/><circle cx="98.21" cy="402.11" r="0.35"/><circle cx="93.18" cy="405.88" r="0.35"/><circle cx="89.79" cy="407.95" r="0.35"/></g>
<g fill="#9a9a9a" opacity="0.4"><circle cx="90.62" cy="484.92" r="0.35"/><circle cx="92.81" cy="481.8" r="0.35"/><circle cx="90.68" cy="479.77" r="0.35"/><circle cx="88.12" cy="486.66" r="0.35"/><circle cx="89.85" cy="484.96" r="0.35"/><circle cx="87.31" cy="484.06" r="0.35"/><circle cx="90.34" cy="483.5" r="0.35"/><circle cx="89.56" cy="479.59" r="0.35"/><circle cx="89.74" cy="481.04" r="0.35"/><circle cx="87.51" cy="485.45" r="0.35"/></g>
<clipPath id="cB00"><rect x="60.9" y="286.3" width="53.6" height="54.2"/></clipPath>
<g clip-path="url(#cB00)">
<path d="M91.72,289.85 L92.08,290.58 L92.52,290.25 L92.96,290.36 L93.81,290.95 L94.44,290.17 L94.87,290.45 L95.35,290.5 L95.88,290.39 L96.36,290.4 L96.54,291.23 L97.04,291.04 L97.49,290.98 L97.77,291.27 L98.08,291.42 L98.6,291.1 L98.71,292.23 L99.04,292.24 L99.23,292.47 L99.24,293.01 L99.66,292.9 L100,292.92 L99.86,293.69 L99.95,294.12 L100.18,294.41 L100,295.85 L100.55,295.91 L100.59,296.61 L100.48,297.49 L100.73,298.94 L100.1,300.25 L100.54,301.71 L100.53,302.6 L100.29,303.54 L100.92,304.24 L100.37,305.15 L100.06,305.91 L100.06,306.59 L100.45,307.27 L99.85,307.78 L100.46,308.51 L100.54,309.12 L100.36,309.63 L99.82,309.95 L100.34,310.72 L99.77,310.94 L99.84,311.48 L100,312.09 L100.36,312.88 L99.68,312.9 L99.98,313.68 L99.48,314.36 L99.15,314.59 L99.69,315.77 L99.3,315.92 L99.32,316.57 L99.21,317.69 L98.56,317.37 L98.75,318.3 L98.43,319.15 L98.18,319.42 L98.32,320.47 L97.76,320.11 L97.2,320.63 L96.97,321.07 L96.45,320.77 L96.37,321.76 L96,321.94 L95.56,321.92 L95.11,321.81 L94.83,322.39 L94.31,321.82 L93.96,322.09 L93.64,322.57 L93.3,322.86 L92.88,322.44 L92.57,322.99 L92.19,322.79 L91.82,322.37 L91.46,322.41 L91.1,322.97 L90.74,322.6 L90.37,322.74 L89.99,323.04 L89.65,322.69 L89.36,322.08 L88.98,322.34 L88.64,322.26 L88.36,321.86 L87.97,322.13 L87.59,322.3 L87.38,321.66 L87.12,321.25 L86.73,321.35 L86.55,320.72 L86.28,320.41 L85.82,320.62 L85.46,320.54 L85.4,319.76 L85.01,319.76 L84.83,319.34 L84.8,318.67 L84.66,318.26 L84.14,318.58 L84.18,317.93 L83.79,317.47 L83.71,317.08 L84.11,316.04 L83.74,316.1 L83.69,314.85 L83.21,314.95 L83.75,313.96 L83.77,313.13 L83.68,312.82 L84.14,312.04 L83.49,312.19 L83.87,311.14 L84.22,310.54 L83.9,310.35 L84.77,309.49 L84.57,309.21 L84.29,308.5 L84.95,307.87 L84.35,307.58 L84.91,307.04 L85.17,306.58 L85.3,306.16 L84.57,305.7 L85.14,305.32 L84.63,304.81 L84.5,304.34 L84.54,303.92 L85.17,303.74 L84.49,303.06 L84.71,302.77 L84.61,302.32 L84.39,301.79 L83.87,301.03 L84.47,301.05 L84.3,300.5 L84.29,300.06 L84.36,299.7 L84.54,299.46 L83.91,298.38 L84.08,297.69 L83.92,296.59 L84.35,296.72 L83.99,295.3 L84.23,294.69 L84.07,293.91 L84.76,294 L84.79,293.44 L84.9,292.98 L85.22,292.96 L85.39,291.78 L85.84,292.05 L86.15,291.99 L86.33,291.56 L86.64,291.52 L86.98,291.59 L87.05,290.74 L87.32,290.59 L87.67,290.78 L87.94,290.7 L88.17,290.37 L88.57,290.99 L89.04,290.25 L89.33,290.14 L89.68,290.52 L89.95,289.92 L90.31,290.4 L90.65,290.7 L90.99,290.68 L91.34,290.1 L91.72,289.85Z" fill="#1422ff" filter="url(#b0)"/>
<path d="M94.69,292.59 L89.52,292.48 L88.86,292.58 L88.35,292.77 L87.71,293.18 L87.09,293.71 L86.61,294.31 L86.31,294.94 L86.16,295.8 L86.17,297.14 L86.45,301.06 L86.95,304.85 L87,306.62 L86.75,308.53 L85.86,312.35 L85.75,314.28 L85.85,316.1 L86.06,317.04 L86.41,317.78 L86.99,318.57 L87.75,319.32 L88.94,320.12 L90.16,320.52 L91.1,320.63 L92.06,320.6 L93.06,320.42 L94.17,320.11 L95.17,319.67 L95.57,319.42 L96.15,318.89 L96.58,318.12 L96.79,317.55 L97.32,315.33 L97.76,312.84 L97.96,311.28 L98.12,308.65 L98.39,300.82 L98.39,297.95 L98.22,295.81 L97.93,294.5 L97.78,294.08 L97.49,293.6 L96.79,293.05 L96.02,292.77 L94.69,292.59Z" fill="#2f7dff" filter="url(#b1)"/>
<path d="M93.89,293.35 L89.96,293.26 L89.28,293.31 L88.9,293.41 L88.18,293.82 L87.66,294.27 L87.28,294.74 L87.07,295.18 L86.96,295.86 L86.95,296.42 L87.01,297.86 L87.25,300.98 L87.75,304.76 L87.8,306.63 L87.71,307.66 L87.54,308.67 L86.65,312.47 L86.55,314.29 L86.59,315.48 L86.82,316.78 L87.09,317.37 L87.59,318.05 L88.26,318.7 L89.29,319.4 L90.31,319.74 L91.13,319.83 L91.97,319.8 L92.88,319.64 L93.9,319.35 L94.78,318.97 L95.11,318.76 L95.52,318.39 L95.85,317.8 L96.03,317.3 L96.54,315.18 L96.97,312.72 L97.16,311.2 L97.33,308.61 L97.59,300.8 L97.59,297.98 L97.53,296.83 L97.3,295.25 L97.04,294.4 L96.88,294.12 L96.61,293.88 L96.19,293.65 L95.3,293.46 L93.89,293.35Z" fill="#4fd8ff" filter="url(#b1)"/>
<path d="M94.55,294.39 L89.98,294.26 L89.25,294.34 L88.77,294.63 L88.38,294.97 L88.13,295.28 L88,295.61 L87.95,296.42 L88.01,297.79 L88.24,300.89 L88.74,304.65 L88.8,306.64 L88.71,307.76 L88.52,308.84 L87.64,312.61 L87.55,314.29 L87.58,315.4 L87.7,316.2 L87.84,316.66 L88.12,317.11 L88.62,317.67 L89.5,318.37 L90.21,318.68 L91.17,318.83 L91.86,318.81 L92.66,318.67 L93.97,318.25 L94.54,317.94 L94.73,317.77 L95.08,316.99 L95.56,314.99 L95.99,312.57 L96.16,311.11 L96.33,308.57 L96.59,300.79 L96.53,296.91 L96.33,295.47 L96.1,294.76 L95.62,294.53 L94.55,294.39Z" fill="#70f0c0" filter="url(#b1)"/>
<path d="M88.89,295.77 L88.86,297.02 L89.09,300.17 L89.63,304.56 L89.7,306.64 L89.6,307.84 L89.41,309 L88.53,312.74 L88.45,314.3 L88.52,315.71 L88.62,316.18 L88.85,316.57 L89.25,317.03 L89.74,317.45 L90.14,317.7 L90.68,317.87 L91.21,317.93 L91.77,317.91 L93.27,317.56 L94.03,317.2 L94.23,316.71 L94.52,315.56 L94.97,313.18 L95.19,311.74 L95.38,309.43 L95.66,302.26 L95.69,298.04 L95.55,296.22 L95.38,295.4 L94.48,295.29 L89.72,295.18 L89.56,295.19 L89.3,295.36 L88.89,295.77Z" fill="#b4f044" filter="url(#b1)"/>
<ellipse cx="92.8" cy="306" rx="2.2" ry="5" fill="#d8f030" transform="rotate(0 92.8 306)" filter="url(#b2)"/>
<ellipse cx="92.9" cy="298.6" rx="4.02" ry="5.58" fill="#e8f030" transform="rotate(8 92.9 298.6)" filter="url(#b1)"/>
<ellipse cx="92.9" cy="298.6" rx="2.82" ry="4.38" fill="#f59a1e" transform="rotate(8 92.9 298.6)" filter="url(#b1)"/>
<ellipse cx="92.9" cy="298.6" rx="1.82" ry="3.38" fill="#e3151a" transform="rotate(8 92.9 298.6)" filter="url(#b1)"/>
<ellipse cx="92.9" cy="314.2" rx="4.15" ry="5.06" fill="#e8f030" transform="rotate(0 92.9 314.2)" filter="url(#b1)"/>
<ellipse cx="92.9" cy="314.2" rx="2.95" ry="3.86" fill="#f59a1e" transform="rotate(0 92.9 314.2)" filter="url(#b1)"/>
<ellipse cx="92.9" cy="314.2" rx="1.95" ry="2.86" fill="#e3151a" transform="rotate(0 92.9 314.2)" filter="url(#b1)"/>
</g>
<clipPath id="cB01"><rect x="139.7" y="286.3" width="53.6" height="54.2"/></clipPath>
<g clip-path="url(#cB01)">
<path d="M171.31,289.39 L171.73,289.18 L172.08,290 L172.56,289.74 L173.06,289.58 L174.03,289.78 L174.67,289.17 L175.48,290.05 L175.98,290 L176.43,290.09 L176.69,290.64 L177.65,290.19 L177.79,290.77 L177.99,291.08 L178.3,291.1 L178.36,292.25 L178.77,291.98 L178.91,292.24 L178.92,292.77 L179.26,293.22 L178.96,294.32 L179.07,294.67 L179.27,294.92 L179.32,295.47 L179.24,296.26 L179.64,296.35 L179.18,298.49 L179.12,299.34 L179.31,299.91 L178.84,301.22 L179.18,301.69 L179.27,302.43 L179.13,303.36 L178.62,304.53 L179.04,305.01 L178.48,306.05 L178.43,306.73 L178.59,307.27 L179.1,307.7 L178.38,308.5 L178.8,308.96 L178.31,310.1 L177.82,310.62 L178.67,311.12 L178.21,311.59 L178.37,312.1 L178.41,312.6 L178.61,313.15 L177.64,313.35 L178.07,313.99 L177.97,314.44 L178,314.94 L177.84,315.34 L178.56,316.27 L177.97,316.37 L177.85,317.21 L177.99,317.79 L177.47,317.78 L178.01,318.76 L177.99,319.22 L177.83,319.54 L177.52,319.7 L177.72,320.47 L177.12,320.26 L177.02,320.67 L177.02,321.87 L176.56,321.78 L176.63,322.57 L176.3,322.7 L175.86,322.61 L175.58,322.79 L175.57,323.6 L175.16,323.54 L174.96,323.99 L174.82,324.61 L174.48,324.73 L174,324.41 L173.78,324.97 L173.44,325.19 L173.03,325.13 L172.44,326.35 L172,326.13 L171.6,326.15 L171.25,326.63 L170.85,326.45 L170.49,326.46 L170.15,327.17 L169.82,327.64 L169.5,327.4 L169.19,327.94 L168.88,328.16 L168.6,327.97 L168.32,328.08 L167.97,329.04 L167.71,329.02 L167.11,329.9 L166.85,330.18 L166.73,329.59 L166.42,330.22 L165.83,330.48 L165.51,331.26 L165.51,330.58 L165.32,330.45 L165.22,330.48 L165.3,329.77 L165.04,330.48 L164.95,330.03 L164.96,329.56 L164.75,329.86 L164.88,328.8 L164.5,328.79 L164.23,328.87 L164.22,328.03 L163.77,328.42 L163.68,327.69 L163.38,326.54 L162.85,326.84 L162.85,325.9 L162.4,325.94 L162.1,325.68 L161.87,325.28 L162.06,324.19 L161.58,324.32 L161.61,323.62 L161.49,323.23 L161.29,322.93 L160.79,323.07 L161.13,322.04 L160.94,321.75 L160.89,321.28 L160.92,320.74 L161.18,319.97 L160.56,320.14 L160.7,319.07 L160.67,318.65 L160.51,318.35 L161.17,317.41 L160.87,316.88 L161,316.43 L161.26,315.92 L160.89,315.78 L161.93,314.53 L161.91,313.82 L162.42,313.26 L161.96,312.56 L162.53,311.99 L162.89,311.48 L162.74,311.02 L163.06,310.53 L163.46,310.08 L162.91,309.5 L162.89,308.95 L163.28,308.52 L163.36,308 L163.22,307.36 L163.91,307.17 L163.86,306.59 L163.62,305.81 L163.61,305.19 L163.94,304.88 L163.59,303.86 L164.17,303.22 L164.22,302.62 L163.94,301.49 L164.24,301.28 L164.02,300.2 L163.96,299.35 L164.04,298.78 L164.36,298.75 L164.14,297.55 L164.35,297.33 L164.4,296.72 L164.41,296.02 L164.3,294.92 L164.67,295.23 L164.7,294.51 L165.05,293.98 L165.33,294.09 L165.25,292.84 L165.51,292.86 L165.68,292.51 L165.88,292.29 L166.03,291.73 L166.42,292.44 L166.55,291.74 L166.98,291.08 L167.27,291.18 L167.43,290.19 L167.77,290.67 L168.06,290.67 L168.34,290.56 L168.61,290.03 L168.94,290.53 L169.22,289.71 L169.55,289.53 L169.88,289.63 L170.21,290.03 L170.58,289.43 L170.91,289.97 L171.31,289.39Z" fill="#1422ff" filter="url(#b0)"/>
<path d="M166.22,327.59 L167.57,326.34 L168.35,325.74 L169.63,324.96 L172.14,323.57 L173.01,322.92 L174.2,321.71 L174.84,320.86 L175.33,319.97 L175.65,319.04 L175.82,317.89 L176,313.86 L177.06,300.74 L177.24,296.64 L177.13,294.78 L177.04,294.06 L176.83,293.1 L176.72,292.83 L176.47,292.48 L176.04,292.18 L175.61,292.03 L174.3,291.78 L172.05,291.67 L170.46,291.82 L169.3,292.19 L168.36,292.8 L167.53,293.67 L166.9,294.83 L166.55,295.97 L166.32,297.57 L166.14,302.13 L165.99,304.38 L165.46,308.33 L164.95,311.07 L164.51,312.87 L163.34,316.12 L162.98,317.36 L162.89,317.93 L162.84,319.23 L163.03,321.25 L163.31,322.53 L163.7,323.64 L164.32,324.8 L166.22,327.59Z" fill="#2f7dff" filter="url(#b1)"/>
<path d="M166.35,326.36 L167.91,325.07 L169.23,324.26 L171.71,322.89 L172.49,322.32 L173.59,321.19 L174.17,320.42 L174.6,319.65 L174.87,318.86 L175.02,317.82 L175.21,313.8 L176.26,300.69 L176.42,297.83 L176.4,295.68 L176.16,293.68 L176.01,293.19 L175.9,293.05 L175.39,292.8 L174.2,292.57 L172.06,292.47 L171.02,292.54 L169.93,292.79 L169.13,293.21 L168.62,293.65 L168.18,294.15 L167.65,295.13 L167.33,296.14 L167.12,297.64 L166.94,302.17 L166.79,304.45 L166.24,308.5 L165.5,312.25 L164.97,314.04 L163.9,316.99 L163.76,317.52 L163.65,318.59 L163.72,320.48 L163.93,321.73 L164.24,322.84 L164.43,323.32 L165.01,324.38 L166.35,326.36Z" fill="#4fd8ff" filter="url(#b1)"/>
<path d="M166.53,324.87 L167.93,323.86 L170.7,322.33 L171.83,321.57 L172.52,320.89 L173.1,320.2 L173.52,319.56 L173.89,318.63 L174.02,317.73 L174.21,313.73 L175.36,299.15 L175.44,296.65 L175.41,295.74 L175.26,294.33 L175.15,293.78 L175.1,293.76 L174.08,293.57 L172.73,293.48 L171.54,293.49 L170.52,293.65 L169.72,294.02 L169.13,294.56 L168.71,295.19 L168.43,295.9 L168.2,296.94 L168.12,297.73 L167.94,302.22 L167.79,304.54 L167.23,308.66 L166.47,312.51 L165.92,314.35 L164.86,317.26 L164.74,317.71 L164.65,318.63 L164.72,320.37 L165.05,322.05 L165.34,322.91 L165.56,323.35 L166.53,324.87Z" fill="#70f0c0" filter="url(#b1)"/>
<path d="M166.74,323.57 L167.67,322.97 L170.69,321.29 L171.23,320.89 L172.38,319.66 L172.74,319.12 L173.02,318.42 L173.16,317.06 L173.31,313.67 L174.46,299.1 L174.54,296.66 L174.38,294.52 L173.36,294.4 L172.1,294.37 L171.25,294.42 L170.59,294.57 L170.12,294.85 L169.7,295.29 L169.41,295.83 L169.18,296.57 L169.01,297.8 L168.84,302.26 L168.68,304.61 L168.11,308.82 L167.59,311.61 L167.11,313.57 L165.89,317 L165.58,318.23 L165.56,319.72 L165.79,321.32 L166.16,322.54 L166.74,323.57Z" fill="#b4f044" filter="url(#b1)"/>
<ellipse cx="171.9" cy="298.2" rx="4.54" ry="5.19" fill="#e8f030" transform="rotate(10 171.9 298.2)" filter="url(#b1)"/>
<ellipse cx="171.9" cy="298.2" rx="3.34" ry="3.99" fill="#f59a1e" transform="rotate(10 171.9 298.2)" filter="url(#b1)"/>
<ellipse cx="171.9" cy="298.2" rx="2.34" ry="2.99" fill="#e3151a" transform="rotate(10 171.9 298.2)" filter="url(#b1)"/>
<ellipse cx="168.4" cy="317.6" rx="5.84" ry="3.89" fill="#e8f030" transform="rotate(-30 168.4 317.6)" filter="url(#b1)"/>
<ellipse cx="168.4" cy="317.6" rx="4.64" ry="2.69" fill="#f59a1e" transform="rotate(-30 168.4 317.6)" filter="url(#b1)"/>
<ellipse cx="168.4" cy="317.6" rx="3.64" ry="1.69" fill="#e3151a" transform="rotate(-30 168.4 317.6)" filter="url(#b1)"/>
</g>
<clipPath id="cB02"><rect x="218.7" y="286.3" width="53.6" height="54.2"/></clipPath>
<g clip-path="url(#cB02)">
<path d="M243.13,309.3 L241.14,309.33 L241.42,309.36 L240.44,309.43 L240.7,309.53 L240.73,309.88 L239.86,310.17 L240.34,310.37 L239.69,310.71 L239.48,311.03 L239.41,311.35 L240.08,311.5 L239.35,311.99 L239.65,312.22 L239.52,312.58 L239.33,312.97 L238.68,313.56 L239.4,313.59 L239.14,314.03 L239.28,314.61 L239.65,314.74 L238.86,315.55 L239.09,315.77 L239.16,316.1 L239.21,316.45 L239.06,316.96 L239.79,316.79 L239.57,317.37 L239.45,317.89 L239.53,318.26 L239.77,318.47 L239.43,319.28 L239.9,319.28 L240.26,319.4 L240.28,320.5 L240.7,320.56 L240.58,321.35 L240.6,321.98 L241.37,322.15 L241.39,322.8 L241.75,322.84 L242.04,322.99 L241.98,323.77 L242.14,324.13 L242.54,323.94 L242.89,324.44 L243.35,323.98 L243.54,324.16 L243.61,324.67 L243.86,324.7 L244.21,324.46 L244.32,324.97 L245.11,324.22 L245.4,324.28 L245.61,324.73 L246.06,324.24 L246.34,324.65 L246.71,324.81 L247.18,324.54 L247.69,323.89 L248.1,324.4 L248.59,323.94 L249.06,323.88 L249.55,324.03 L250.06,324.46 L250.48,323.55 L250.96,323.73 L251.78,323.19 L252.09,322.68 L252.67,323.45 L252.95,322.93 L253.33,322.81 L253.66,322.59 L254.09,322.64 L254.08,321.56 L254.6,321.87 L255.28,321.6 L255.44,321.11 L256.09,321.56 L255.98,320.65 L256.37,320 L256.81,320.04 L256.64,319.23 L257.3,319.52 L257.47,319.16 L257.52,318.66 L257.34,317.95 L257.88,318 L257.54,317.17 L257.77,316.92 L258.49,316.59 L258.02,315.8 L258.46,315.7 L258.08,314.69 L257.99,314.29 L258.66,314.31 L258.31,313.78 L258.55,313.2 L258.4,312.81 L257.68,312.23 L258.05,312.03 L258.06,311.7 L257.83,311.32 L257.94,311.01 L258.32,310.73 L257.66,310.29 L257.34,309.94 L257.49,309.62 L256.83,308.99 L257.25,308.63 L257.26,308.28 L256.58,308.02 L256.44,307.31 L255.88,307.09 L255.71,306.75 L256.24,306.09 L255.97,305.77 L255.81,305.39 L255.95,304.83 L255.93,304.34 L255.39,304.29 L255.79,303.48 L255.99,302.81 L256.08,301.77 L256.58,300.73 L256.23,300.69 L256.22,300.25 L256.54,298.9 L256.26,298.83 L256.69,297.7 L256.64,297.27 L256.49,297 L256.25,296.88 L256.47,295.95 L256.07,296.14 L256.22,294.07 L255.82,294.33 L255.94,293.42 L255.65,293.44 L255.22,293.17 L255.34,292.1 L254.96,292.4 L254.87,291.85 L254.42,291.42 L253.94,292.06 L253.87,291.23 L253.55,291.29 L253.01,291 L252.84,290.28 L252.38,291.09 L252.1,290.96 L251.5,290.94 L251.22,290.55 L250.45,291.41 L250.08,291.66 L249.72,291.15 L249.32,291.79 L248.53,291.62 L248.16,292 L247.84,292.91 L247.46,292.73 L246.9,293.63 L246.59,293.66 L246.28,293.53 L246.17,294.48 L246.01,294.96 L245.8,295.22 L245.66,296.69 L245.38,296.59 L245.23,296.99 L245.25,297.88 L245.08,298.19 L244.98,298.72 L245.11,299.76 L245.04,300.31 L244.7,300.29 L244.74,301.07 L244.67,301.62 L244.47,301.97 L244.49,302.7 L244.92,303.92 L244.66,304.24 L244.64,304.87 L244.72,305.57 L244.63,306.12 L244.03,306.37 L244.57,307.24 L244.55,307.74 L244.21,308.5 L244.55,308.84 L243.5,308.98 L243.13,309.3Z" fill="#1422ff" filter="url(#b0)"/>
<path d="M241.87,311.42 L241.5,312.63 L241.3,314.15 L241.3,315.64 L241.42,316.69 L241.81,318.28 L242.48,320.1 L243.31,321.72 L243.72,322.25 L243.93,322.39 L244.81,322.46 L247.14,322.27 L249.42,321.86 L250.83,321.47 L251.97,321.01 L253.44,320.19 L254.55,319.26 L255.07,318.57 L255.52,317.66 L256.03,316.03 L256.25,314.5 L256.22,313.56 L256.06,312.53 L255.68,310.88 L255.36,310.04 L254.5,308.35 L254.18,307.6 L253.91,306.74 L253.73,305.75 L253.68,304.64 L253.74,303.54 L254.32,299.53 L254.4,298.05 L254.19,295.97 L253.93,294.78 L253.78,294.31 L253.48,293.71 L252.95,293.22 L252.51,293.03 L252.04,292.97 L250.95,293.19 L249.91,293.64 L249.41,293.93 L248.96,294.25 L248.33,294.91 L247.88,295.82 L247.67,296.47 L247.32,298.07 L246.88,300.78 L246.74,302.64 L246.64,307.07 L246.46,308.28 L246.12,309.34 L245.9,309.74 L245.28,310.51 L244.29,311.12 L243.19,311.4 L241.87,311.42Z" fill="#2f7dff" filter="url(#b1)"/>
<path d="M242.43,312.23 L242.2,313.26 L242.07,314.65 L242.14,316.07 L242.31,317.05 L242.57,318.04 L243.21,319.78 L243.73,320.87 L244.26,321.65 L245.25,321.64 L247.03,321.48 L249.24,321.08 L250.58,320.71 L251.63,320.29 L253,319.53 L253.68,318.99 L254.39,318.15 L254.78,317.36 L255.25,315.86 L255.45,314.47 L255.42,313.63 L255.28,312.68 L254.91,311.1 L254.64,310.38 L253.78,308.71 L253.44,307.91 L253.14,306.97 L252.94,305.88 L252.88,304.66 L252.95,303.48 L253.52,299.44 L253.6,298.07 L253.4,296.1 L253.16,295 L252.91,294.32 L252.74,294.07 L252.54,293.91 L252.17,293.78 L251.88,293.78 L251.21,293.95 L250.28,294.34 L249.84,294.6 L249.18,295.13 L248.81,295.66 L248.63,296.1 L248.44,296.69 L248.1,298.21 L247.58,301.72 L247.5,306 L247.41,307.36 L247.24,308.46 L246.97,309.37 L246.71,309.94 L246.21,310.66 L245.81,311.11 L244.89,311.71 L244.33,311.96 L243.53,312.15 L242.43,312.23Z" fill="#4fd8ff" filter="url(#b1)"/>
<path d="M242.32,309.29 L243.47,308.65 L243.34,307.23 L243.84,306.76 L244.48,306.48 L244.52,305.55 L245,305.14 L245.39,304.67 L245.69,302.64 L246.19,302.61 L246.43,301.85 L246.72,301.34 L247.02,301.15 L247.32,301.13 L247.45,299.88 L247.71,299.68 L248.14,298.76 L248.35,298.11 L248.56,298.7 L248.77,298 L248.97,297.65 L249.17,297.34 L249.36,297.41 L249.63,296.43 L249.79,296.98 L250.19,297.29 L250.47,297.08 L250.59,297.98 L250.95,297.5 L251.21,297.76 L251.44,298.18 L251.56,299.08 L251.95,298.91 L251.96,300.07 L252.2,300.42 L252.47,300.68 L252.86,300.67 L252.75,301.76 L253.16,301.68 L253.15,303.07 L253.04,303.84 L253.58,303.67 L253.37,304.56 L253.57,304.9 L253.88,305.78 L253.27,306.88 L253.69,307.09 L253.68,308.16 L253.8,308.6 L254.58,308.82 L254.11,309.42 L254.17,309.83 L254.42,310.19 L254.57,310.55 L254.29,310.88 L255.18,311.25 L255.5,311.6 L255.41,311.9 L255.55,312.22 L255.96,312.63 L255.48,312.8 L255.56,313.13 L256.1,313.67 L256.13,314.06 L255.92,314.37 L256.27,315 L256.15,315.41 L255.57,315.52 L255.79,316.73 L255.52,317.06 L255.45,317.58 L255.68,318.47 L254.76,318.75 L254.59,319.26 L254.34,319.69 L253.77,319.6 L253.69,320.46 L253.29,320.92 L252,320.97 L251.52,321.66 L250.73,321.24 L250.11,321.51 L248.85,322.54 L248.21,322.09 L247.56,322.76 L247,322.55 L246.1,322.04 L245.48,322.76 L245.19,322.19 L244.68,322.41 L244.23,322.4 L243.82,322.3 L243.81,321.3 L243.22,321.63 L243.01,321.17 L242.42,320.67 L241.73,321.03 L241.95,320.06 L241.67,319.84 L241.54,319.44 L241.36,319.13 L241.66,318.29 L240.94,318.53 L241.01,317.42 L241.15,316.79 L240.82,316.54 L241.59,315.5 L241.38,315.17 L241.11,314.4 L241.57,313.75 L240.96,313.58 L241.8,312.58 L241.93,312.26 L241.47,312.09 L242.07,311.74 L241.68,311.57 L241.52,311.36 L241.8,311.11 L242.47,310.85 L242.1,310.62 L242.54,310.37 L242.79,310.11 L242.32,309.29Z" fill="#70f0c0" filter="url(#b0)"/>
<path d="M246.81,303.23 L242.83,311.45 L242.58,312.15 L242.18,314.64 L242.02,316.36 L242.04,317.97 L242.15,318.62 L242.33,319.13 L242.58,319.59 L243.31,320.46 L244.27,321.13 L244.82,321.37 L245.41,321.53 L246.04,321.6 L246.8,321.58 L248.8,321.24 L250.97,320.59 L251.96,320.18 L252.79,319.75 L253.41,319.31 L253.86,318.85 L254.23,318.29 L254.53,317.64 L254.76,316.92 L255.03,315.41 L255.1,314.03 L255.05,313.51 L254.69,312.54 L253.73,310.79 L253.41,310.08 L253.12,309.18 L252.83,307.46 L252.48,303.79 L252.14,302.27 L251.56,300.75 L250.84,299.25 L250.46,298.63 L249.89,297.95 L249.63,298.22 L248.98,299.25 L246.81,303.23Z" fill="#b4f044" filter="url(#b1)"/>
<ellipse cx="249" cy="315.8" rx="5.8" ry="3.2" fill="#e8f030" transform="rotate(-35 249 315.8)" filter="url(#b1)"/>
<ellipse cx="249" cy="315.8" rx="4.6" ry="2" fill="#f59a1e" transform="rotate(-35 249 315.8)" filter="url(#b1)"/>
<ellipse cx="249" cy="315.8" rx="3.6" ry="1" fill="#e3151a" transform="rotate(-35 249 315.8)" filter="url(#b1)"/>
</g>
<clipPath id="cB10"><rect x="60.9" y="361.8" width="53.6" height="54.2"/></clipPath>
<g clip-path="url(#cB10)">
<path d="M94.95,366.25 L95.84,366.72 L96.23,367.06 L96.84,366.25 L97.19,366.73 L97.7,366.48 L98.64,366.28 L98.79,367.17 L99.33,366.79 L99.97,367.19 L100.3,367.29 L100.89,366.77 L100.9,367.51 L101.1,367.75 L101.32,367.89 L101.45,368.14 L101.35,368.8 L101.8,368.4 L101.94,368.57 L101.9,369.05 L101.95,369.37 L102.14,369.46 L101.83,370.37 L101.86,370.76 L102.16,370.78 L102.22,371.21 L102.14,371.88 L102.47,372.05 L102.46,372.72 L102.1,373.81 L102.23,374.35 L102.45,374.84 L102.3,375.73 L102.4,376.39 L102.89,376.79 L102.3,378.74 L102.45,379.41 L102.49,380.15 L102.04,381.03 L102.64,381.57 L102.85,382.26 L102.38,383.78 L102.83,384.56 L102.17,385.23 L102.21,385.96 L102.84,387.65 L102.32,388.15 L102.8,389.13 L101.93,390.62 L102.41,391.69 L101.92,391.9 L102.05,392.68 L102.03,393.33 L101.93,393.9 L101.23,393.71 L101.43,394.64 L101.1,394.87 L100.74,395.73 L100.95,396.8 L100.34,396.5 L100.19,396.98 L99.92,397.24 L99.7,397.59 L99.2,397.33 L99.3,398.46 L98.96,398.58 L98.66,398.79 L98.31,398.85 L98.14,399.48 L97.56,398.77 L97.33,399.23 L96.77,399.93 L96.35,399.62 L96.15,400.47 L95.74,400.09 L95.37,399.87 L95.03,399.84 L94.74,400.4 L94.34,399.85 L94.01,400.35 L93.65,400.57 L93.28,400.38 L92.92,399.76 L92.54,400.2 L92.2,399.77 L91.86,399.58 L91.08,400.2 L90.83,399.53 L90.49,399.57 L90.17,399.53 L89.95,399.01 L89.7,398.68 L89.25,399.18 L88.97,398.97 L88.75,398.61 L88.37,398.75 L88.12,398.51 L88.08,397.74 L87.79,397.64 L87.4,397.82 L87.28,397.34 L87,397.25 L86.61,397.39 L86.51,396.92 L86.6,396.16 L86.22,396.25 L86.03,395.44 L85.73,395.39 L85.26,395.55 L85.49,394.71 L85.19,394.15 L85.19,393.69 L85.38,393.01 L84.75,393.29 L84.83,391.95 L84.59,391.76 L85.29,390.75 L85.07,390.56 L84.9,389.89 L85.27,389.22 L84.68,389.18 L85.24,388.41 L85.67,387.33 L85.24,387.06 L85.92,386.36 L85.32,386.07 L85.29,385.57 L85.42,385.03 L86.11,384.43 L85.52,383.93 L86.17,383.41 L86.12,382.88 L85.96,382.31 L85.45,381.62 L86.25,381.31 L85.88,380.62 L86.32,379.78 L86.66,379.5 L85.92,378.51 L86.24,378.25 L85.94,376.59 L86.54,376.77 L86.19,375.97 L86.12,375.48 L86.15,374.68 L85.73,373.7 L86.12,373.79 L86.26,373.55 L86.25,372.61 L86.54,372.65 L86.26,371.73 L86.23,371.23 L86.46,371.19 L86.61,371.02 L86.55,370.41 L86.89,370.58 L87.03,370.33 L86.95,369.55 L87.1,369.19 L87.46,369.25 L87.61,368.72 L87.94,368.52 L88.49,368.88 L88.86,368.52 L89.21,367.91 L89.76,367.86 L90.32,367.71 L90.81,367.01 L92.09,367.5 L93.26,366.83 L93.83,367.18 L94.41,366.53 L94.95,366.25Z" fill="#1422ff" filter="url(#b0)"/>
<path d="M95.59,368.69 L92.97,369.12 L91.09,369.62 L89.62,370.19 L88.98,370.61 L88.74,370.96 L88.55,371.59 L88.21,373.84 L88.2,375.08 L88.32,378.41 L88.17,381.14 L87.49,387.58 L86.97,391.43 L86.99,392.46 L87.32,393.79 L87.91,394.96 L88.68,395.95 L89.63,396.73 L90.79,397.36 L92.18,397.82 L93.72,398.09 L94.61,398.09 L95,398.04 L96.28,397.63 L97.07,397.19 L97.43,396.93 L98.06,396.28 L98.69,395.36 L98.98,394.81 L99.52,393.53 L99.96,392 L100.13,391.15 L100.35,389.15 L100.43,385.48 L100.35,376.4 L100.2,372.93 L99.83,369.57 L99.73,369.29 L99.63,369.18 L99.16,368.95 L98.74,368.83 L97.63,368.66 L96.98,368.64 L95.59,368.69Z" fill="#2f7dff" filter="url(#b1)"/>
<path d="M95.67,369.49 L93.15,369.9 L91.33,370.38 L89.98,370.9 L89.55,371.18 L89.41,371.46 L89.01,373.91 L89,375.06 L89.12,378.43 L88.96,381.21 L88.28,387.67 L87.77,391.47 L87.78,392.37 L88.07,393.51 L88.58,394.53 L89.25,395.39 L90.07,396.07 L91.11,396.62 L92.38,397.05 L93.78,397.29 L94.85,397.25 L95.95,396.9 L96.92,396.31 L97.44,395.78 L97.71,395.4 L98.53,393.89 L98.98,392.58 L99.34,391.01 L99.55,389.1 L99.63,385.48 L99.55,376.42 L99.4,372.99 L99.05,369.77 L98.56,369.61 L97.56,369.46 L95.67,369.49Z" fill="#4fd8ff" filter="url(#b1)"/>
<path d="M92.99,370.41 L93.21,369.93 L93.54,370.08 L94.18,369.55 L94.55,370.02 L94.91,370.16 L95.29,369.59 L96.01,369.91 L96.39,369.69 L96.73,369.8 L96.93,370.72 L97.24,370.7 L97.5,370.8 L97.85,371.6 L98.18,371.31 L98.26,372.96 L98.52,373.87 L98.39,375.01 L98.73,374.93 L98.86,375.42 L98.88,376.13 L98.79,377.01 L99.12,377.13 L98.78,378.32 L98.89,378.78 L99.11,379.14 L99.45,379.4 L99.07,380.4 L99.63,380.57 L99.22,382.05 L98.94,382.72 L99.72,383.09 L99.19,383.75 L99.59,384.31 L99.88,385.56 L99.05,385.81 L99.59,386.61 L99.36,387.03 L99.41,388.18 L99.99,389.34 L99.48,389.37 L99.56,390.05 L99.47,391.11 L99.11,391.11 L99.49,392.38 L99.19,393.18 L99,393.5 L98.98,394.28 L98.46,393.85 L98.14,395.03 L97.9,395.52 L97.53,395.5 L97.37,396.47 L96.6,396.25 L96.27,396.46 L95.99,397.07 L95.62,396.75 L95,397.73 L94.67,397.55 L94.33,397.12 L93.94,397.51 L93.22,396.95 L92.77,397.34 L92.31,397.59 L92.01,397.02 L91.63,396.89 L91.23,396.89 L91.06,396.14 L90.81,395.77 L90.37,395.96 L90.12,395.69 L90.07,395 L89.73,394.96 L89.67,394.31 L89.81,393.31 L89.77,392.68 L89.44,392.51 L89.64,391.52 L89.25,390.63 L89.31,389.86 L89.83,388.69 L89.48,388.35 L89.7,387.55 L89.81,386.88 L89.7,386.34 L89.11,385.91 L89.86,385.06 L89.78,384.43 L90.1,383.11 L90.71,382.63 L89.98,381.64 L90.27,381.06 L90.41,380.4 L90.61,379.83 L90.48,378.89 L91.19,379.03 L91.09,378.14 L91.16,376.63 L91.44,376.37 L91.23,374.96 L91.56,374.87 L91.89,373.97 L91.88,372.88 L92.18,372.99 L92.18,371.83 L92.33,371.25 L92.53,370.9 L92.84,371.16 L92.99,370.41Z" fill="#70f0c0" filter="url(#b0)"/>
<path d="M93.67,371.11 L93.42,371.49 L93.16,372.1 L92.69,373.86 L91.02,382.59 L90.57,385.97 L90.39,390.52 L90.48,392.74 L90.6,393.7 L90.77,394.5 L91,395.07 L91.28,395.49 L91.66,395.82 L92.12,396.1 L92.65,396.31 L93.8,396.5 L94.79,396.42 L95.69,396.05 L96.65,395.32 L97.53,394.32 L98.16,393.17 L98.36,392.53 L98.59,390.91 L98.64,389.01 L98.57,384.04 L98.41,381.03 L97.75,375.05 L97.45,373.15 L97.25,372.36 L97.02,371.76 L96.79,371.36 L96.51,371.1 L96.14,370.87 L95.69,370.71 L95.21,370.63 L94.73,370.64 L94.3,370.73 L93.94,370.89 L93.67,371.11Z" fill="#b4f044" filter="url(#b1)"/>
<ellipse cx="95.4" cy="390.2" rx="4.54" ry="6.36" fill="#e8f030" transform="rotate(0 95.4 390.2)" filter="url(#b1)"/>
<ellipse cx="95.4" cy="390.2" rx="3.34" ry="5.16" fill="#f59a1e" transform="rotate(0 95.4 390.2)" filter="url(#b1)"/>
<ellipse cx="95.4" cy="390.2" rx="2.34" ry="4.16" fill="#e3151a" transform="rotate(0 95.4 390.2)" filter="url(#b1)"/>
</g>
<clipPath id="cB11"><rect x="139.7" y="361.8" width="53.6" height="54.2"/></clipPath>
<g clip-path="url(#cB11)">
<path d="M163.02,382.44 L162.94,382.55 L163.86,382.95 L163.34,382.99 L163.32,383.43 L163.39,383.69 L162.62,383.86 L163.3,384.22 L163.34,384.5 L163.25,384.78 L163.05,385.08 L163.5,385.33 L162.67,385.69 L162.54,386 L162.84,386.47 L162.36,386.82 L162.86,386.9 L162.63,387.16 L162.03,387.53 L161.74,387.81 L161.95,387.91 L161.38,388.3 L161.38,388.49 L161.7,388.54 L161.46,388.84 L160.89,389.32 L161.02,389.5 L160.84,389.87 L160.4,390.42 L161.04,390.78 L160.78,391.35 L160.69,391.86 L160.98,392.11 L160.6,392.89 L160.43,393.55 L160.77,393.78 L161.04,394.07 L160.84,394.82 L161.28,394.92 L161.39,395.36 L161.25,396.11 L161.24,396.74 L161.79,396.64 L161.77,397.36 L162.12,397.58 L162.56,397.67 L162.92,397.89 L162.83,398.94 L163.35,398.9 L163.59,399.4 L163.88,399.83 L164.23,400.14 L164.9,399.6 L165.05,400.37 L165.45,400.47 L165.81,400.66 L166.2,400.74 L166.41,401.54 L167.02,400.79 L167.43,400.85 L167.86,400.79 L168.28,400.92 L168.8,400.29 L169.15,401.13 L170.09,400.68 L170.55,400.27 L171.02,400.66 L171.43,399.68 L171.89,399.92 L172.86,400.2 L173.24,399.49 L173.85,400.01 L174.23,399.37 L174.64,398.95 L175.07,398.68 L175.76,399.15 L176.02,398.42 L176.63,398.64 L177.11,398.55 L177.46,398.21 L177.51,397.38 L178.15,397.69 L178.33,397.23 L178.63,396.99 L179.07,396.96 L179.66,397.13 L179.5,396.3 L179.83,396.14 L180.1,395.92 L180.2,395.03 L180.91,395.31 L181,394.95 L180.98,394.49 L181.2,394.29 L181.34,394.02 L180.91,393.29 L181.11,393.1 L181.48,393.03 L181.27,392.19 L181.57,392.05 L181.23,391.5 L180.7,390.85 L180.92,390.67 L180.91,390.36 L180.62,389.9 L180.77,389.69 L181.09,389.54 L180.43,388.97 L180.24,388.64 L180.28,388.43 L180.06,388.13 L179.61,387.79 L180.22,387.79 L179.39,386.98 L179.55,386.81 L178.65,386.4 L179.03,385.96 L179.06,385.66 L178.52,385.29 L179.1,384.95 L178.49,384.56 L178.17,384.18 L178.08,383.78 L178.64,383.25 L178,382.93 L178.49,382.33 L178.5,381.84 L178.34,381.41 L177.69,381.25 L178.29,380.47 L177.89,380.24 L178.14,379.17 L178.6,378.36 L177.97,378.46 L178.3,377.77 L178.3,377 L178.15,376.8 L178.9,375.61 L178.73,375.44 L178.84,374.55 L179.01,373.94 L178.46,374.25 L178.75,373.42 L178.73,372.95 L178.64,372.55 L178.34,372.4 L178.5,371.48 L177.92,371.75 L177.59,371.59 L177.36,371.21 L177.21,370.64 L176.71,370.83 L176.65,369.97 L176.36,369.67 L175.5,369.9 L175.34,369.29 L174.91,369.61 L174.64,369.44 L174.46,368.87 L174.19,368.63 L173.77,369.11 L173.51,368.81 L173.18,368.87 L172.8,369.34 L172.5,369.27 L172.24,368.72 L171.91,368.98 L171.59,369.12 L171.3,368.8 L170.99,369.19 L170.7,369.74 L170.41,369.11 L170.12,369.19 L169.87,369.98 L169.28,369.65 L169.02,369.98 L168.74,369.99 L168.4,369.63 L168.01,370.75 L167.7,370.6 L167.48,370.87 L167.3,371.31 L166.64,370.94 L166.59,371.72 L166.16,372.12 L166.01,373.24 L165.55,372.83 L165.3,373.7 L165.11,373.98 L164.84,374.13 L165.09,375.22 L164.76,375.29 L164.48,375.47 L164.26,375.8 L164.24,376.45 L163.58,376.33 L163.75,377.25 L163.72,377.91 L163.56,378.42 L163.04,378.63 L163.36,379.5 L162.63,379.57 L162.4,380 L162.37,380.49 L162.78,381.13 L162.11,381.21 L162.64,381.73 L162.49,381.91 L162.28,382.01 L161.81,381.97 L162.62,382.3 L162.23,382.21 L163.02,382.44Z" fill="#1422ff" filter="url(#b0)"/>
<path d="M164.63,381 L165.1,381.6 L165.39,382.56 L165.39,383.64 L165.25,384.86 L165.01,386.04 L164.63,387.34 L164.31,388.02 L163.18,389.72 L162.94,390.22 L162.83,391.01 L162.81,392.36 L162.94,393.79 L163.22,395.03 L163.41,395.52 L164,396.52 L164.82,397.51 L165.72,398.29 L166.49,398.71 L167.26,398.84 L167.8,398.82 L169.1,398.62 L172.88,397.64 L175.16,396.78 L176.95,395.84 L178.18,394.86 L178.74,394.21 L179.08,393.62 L179.21,393.12 L179.18,392.36 L178.97,391.3 L178.5,389.65 L178.25,389.04 L177.49,387.82 L176.95,386.71 L176.65,385.75 L176.37,384.3 L176.09,381.77 L176,379.07 L176.19,377.29 L176.66,374.84 L176.72,373.85 L176.57,373.35 L176.08,372.66 L175.32,371.96 L174.49,371.4 L173.9,371.13 L173.32,371.05 L172.1,371.15 L170.78,371.45 L169.66,371.87 L169.03,372.24 L168.49,372.68 L168,373.27 L167.24,374.59 L165.8,377.81 L164.63,381Z" fill="#2f7dff" filter="url(#b1)"/>
<path d="M165.53,380.8 L165.92,381.48 L166.18,382.46 L166.19,383.67 L166.04,385 L165.79,386.24 L165.36,387.65 L165,388.43 L163.86,390.13 L163.71,390.44 L163.61,391.67 L163.73,393.67 L163.98,394.78 L164.36,395.59 L165.01,396.52 L165.79,397.33 L166.18,397.63 L166.76,397.95 L167.29,398.04 L168.3,397.96 L169.65,397.68 L171.89,397.1 L174.13,396.34 L176.04,395.46 L177.3,394.58 L177.88,394.01 L178.23,393.51 L178.39,393.16 L178.41,392.82 L178.19,391.49 L177.74,389.9 L177.54,389.42 L176.55,387.76 L176.22,387.03 L175.87,385.92 L175.56,384.34 L175.29,381.77 L175.21,379.03 L175.28,377.99 L175.87,374.73 L175.92,373.93 L175.86,373.72 L175.48,373.2 L174.83,372.59 L174.09,372.09 L173.67,371.9 L173.29,371.85 L172.24,371.94 L171,372.22 L170.01,372.59 L169.26,373.07 L168.86,373.46 L168.43,374.08 L167.7,375.48 L166.54,378.11 L165.53,380.8Z" fill="#4fd8ff" filter="url(#b1)"/>
<path d="M166.63,380.67 L167.04,381.69 L167.2,382.68 L167.18,383.92 L166.93,385.69 L166.62,387 L166.28,388.05 L165.6,389.37 L164.67,390.74 L164.63,391.13 L164.65,392.93 L164.82,394.06 L165.05,394.76 L165.47,395.48 L166.11,396.26 L166.75,396.81 L167.14,397.02 L167.67,397.02 L169.42,396.7 L172.33,395.92 L174.43,395.14 L175.96,394.34 L176.91,393.58 L177.27,393.17 L177.41,392.84 L177.22,391.73 L176.72,390.02 L175.67,388.24 L175.15,387.02 L174.89,386.13 L174.57,384.47 L174.3,381.92 L174.2,379.25 L174.29,377.85 L174.92,374.16 L174.74,373.86 L173.9,373.15 L173.42,372.87 L173.24,372.85 L172.41,372.92 L171.27,373.18 L170.45,373.49 L169.9,373.84 L169.63,374.1 L169.29,374.6 L168.6,375.91 L167.47,378.48 L166.63,380.67Z" fill="#70f0c0" filter="url(#b1)"/>
<path d="M167.61,380.61 L168,381.83 L168.1,382.65 L168.07,384.01 L167.82,385.85 L167.49,387.23 L167.1,388.41 L166.63,389.41 L165.54,391.04 L165.51,391.7 L165.61,393.39 L165.86,394.38 L166.48,395.31 L167.04,395.89 L167.36,396.13 L168.56,395.98 L170.68,395.46 L172.05,395.06 L173.43,394.58 L174.64,394.05 L175.46,393.59 L176.06,393.14 L176.5,392.69 L176.35,391.95 L175.89,390.37 L174.88,388.67 L174.29,387.28 L174.01,386.32 L173.68,384.6 L173.4,381.99 L173.3,379.26 L173.4,377.72 L173.98,374.45 L173.89,374.28 L173.15,373.75 L172.86,373.77 L171.26,374.13 L170.69,374.38 L170.4,374.59 L170.05,375.07 L169.41,376.3 L168.6,378.1 L167.61,380.61Z" fill="#b4f044" filter="url(#b1)"/>
<ellipse cx="171.5" cy="382" rx="1.7" ry="4.2" fill="#e8f030" transform="rotate(20 171.5 382)" filter="url(#b1)"/>
<ellipse cx="171.6" cy="381.8" rx="0.9" ry="3" fill="#f59a1e" transform="rotate(20 171.6 381.8)" filter="url(#b1)"/>
<ellipse cx="171.2" cy="391.3" rx="4.1" ry="3.9" fill="#e8f030" transform="rotate(0 171.2 391.3)" filter="url(#b1)"/>
<ellipse cx="171.2" cy="391.3" rx="2.9" ry="2.7" fill="#f59a1e" transform="rotate(0 171.2 391.3)" filter="url(#b1)"/>
<ellipse cx="171.2" cy="391.3" rx="1.9" ry="1.7" fill="#e3151a" transform="rotate(0 171.2 391.3)" filter="url(#b1)"/>
</g>
<clipPath id="cB12"><rect x="218.7" y="361.8" width="53.6" height="54.2"/></clipPath>
<g clip-path="url(#cB12)">
<path d="M244.87,376.28 L244.96,375.68 L245.74,375.85 L246.01,375.41 L246.23,374.64 L246.68,374.78 L247.05,374.45 L247.41,373.99 L248.27,374.45 L248.63,373.84 L249,373.65 L249.36,373.82 L249.71,373.33 L250.06,373.18 L250.36,373.74 L250.69,373.94 L251.08,373.6 L251.37,374.04 L251.72,374.05 L252.14,373.7 L252.49,373.78 L252.66,374.56 L253.05,374.41 L253.28,374.79 L253.45,375.29 L253.69,375.49 L254.17,375.05 L254.18,375.82 L254.54,376.43 L254.62,376.94 L254.39,378.03 L254.81,377.87 L254.96,379.41 L255.33,379.44 L254.84,380.63 L255.06,381.32 L255.25,381.54 L254.99,382.21 L255.69,381.91 L255.18,383.32 L255.62,383.28 L255.01,383.97 L255.47,383.93 L255.88,384.22 L255.35,384.75 L255.98,384.7 L255.53,385.16 L255.5,385.41 L255.65,385.6 L256.44,385.57 L255.96,385.94 L256.52,386 L256.63,386.18 L256.58,386.39 L256.13,386.65 L257.03,386.68 L256.91,386.88 L257.48,387.19 L257.99,387.36 L257.26,387.6 L257.6,387.8 L257.76,388.03 L257.74,388.49 L258.65,388.82 L258.29,389.29 L258.62,389.87 L258.13,390 L259.08,390.78 L258.85,391.23 L259.21,391.62 L258.5,391.84 L258.93,392.3 L259.08,392.64 L258.86,392.8 L259.28,393.61 L258.67,393.54 L258.58,393.78 L258.76,394.2 L258.6,394.41 L258.36,394.56 L258.81,395.24 L258.5,395.36 L258.04,395.36 L257.83,395.58 L257.81,396 L257.12,395.79 L257.18,396.34 L257.13,396.82 L256.82,397.02 L256.23,396.87 L256.25,397.52 L255.63,397.27 L255.26,397.34 L255.06,397.67 L255.07,398.38 L254.51,398.02 L254.47,398.64 L254.17,398.75 L253.82,398.71 L253.37,398.35 L253.4,399.26 L253.02,399.05 L252.62,399.68 L252.45,400.18 L251.95,399.38 L251.77,399.88 L251.47,399.85 L251.18,399.93 L250.85,399.76 L250.65,400.75 L250.26,400.21 L249.92,400.19 L249.57,400.08 L249.21,400.27 L248.87,399.44 L248.48,400.13 L248.1,400.16 L247.73,400.11 L247.41,399.72 L246.94,400.23 L246.74,399.37 L246.41,399.28 L246.03,399.38 L245.59,399.66 L245.42,399.07 L244.85,399.59 L244.56,399.34 L244.16,398.51 L243.58,398.9 L243.48,398.36 L243.07,398.41 L242.56,398.59 L242.24,398.46 L242.35,397.74 L241.9,397.84 L241.74,397.55 L241.71,397.11 L241.38,397.06 L240.78,397.29 L240.86,396.76 L240.75,396.45 L240.42,396.36 L240.68,395.33 L240.19,395.38 L239.89,395.25 L240.06,394.75 L239.74,394.63 L239.57,394.4 L239.96,393.8 L240.13,393.36 L239.65,393.31 L239.86,392.84 L239.86,392.5 L239.53,392.29 L239.48,391.95 L240.23,391.29 L240.02,391.02 L240.12,390.65 L240.36,390.24 L240.46,389.9 L239.77,389.73 L240.35,389.31 L240.5,389 L240.64,388.47 L241.45,388.19 L240.83,387.99 L240.91,387.76 L241.07,387.54 L241.44,387.34 L241.02,387.09 L242.02,386.98 L242.05,386.55 L241.82,386.28 L242.48,386.19 L241.82,385.77 L243.01,385.4 L242.5,384.93 L243.19,384.98 L242.88,384.58 L242.74,383.95 L243.5,384.15 L243.09,383.61 L243.49,383.61 L243.61,383.43 L243.63,383.18 L243.07,382.42 L243.61,382.62 L243.45,382.2 L243.56,381.8 L243.96,382 L243.39,381.13 L243.46,380.96 L243.39,380.39 L243.15,379.83 L243.67,380.26 L243.48,379.47 L243.5,379.2 L243.67,379.15 L243.32,378.3 L243.76,378.42 L243.8,378.17 L243.74,377.73 L244.04,377.95 L243.83,376.77 L244.31,376.84 L244.34,376.33 L244.64,376.42 L244.87,376.28Z" fill="#1422ff" filter="url(#b0)"/>
<path d="M246.23,377.64 L245.98,377.94 L245.84,378.24 L245.58,379.52 L245.54,380.05 L245.65,382.4 L245.43,383.78 L244.96,385.16 L244.19,386.82 L243.86,387.41 L242.73,389.1 L242.49,389.66 L242.1,391.19 L241.91,392.31 L241.86,393.27 L241.95,393.97 L242.16,394.66 L242.67,395.56 L243.34,396.22 L244.02,396.61 L244.94,396.98 L246,397.32 L248.23,397.87 L249.81,398.06 L250.87,397.96 L251.77,397.56 L254.43,395.8 L255.8,394.81 L256.39,394.25 L256.63,393.88 L256.82,393.15 L256.83,392.08 L256.7,391.03 L256.32,389.86 L255.85,388.79 L255.63,388.46 L254.6,387.34 L254.25,386.85 L253.92,386.24 L253.68,385.59 L253.42,384.35 L252.64,377.96 L252.5,377.33 L252.24,376.67 L251.88,376.3 L251.6,376.11 L250.91,375.83 L250.17,375.7 L249.57,375.75 L248.63,376.1 L248.07,376.38 L246.99,377.05 L246.23,377.64Z" fill="#2f7dff" filter="url(#b1)"/>
<path d="M246.78,378.23 L246.64,378.4 L246.55,378.66 L246.34,379.84 L246.45,382.41 L246.38,383.13 L246.2,384 L245.71,385.45 L244.91,387.17 L244.54,387.84 L243.57,389.26 L243.25,389.92 L242.88,391.35 L242.71,392.41 L242.66,393.24 L242.73,393.8 L242.9,394.36 L243.31,395.08 L243.8,395.56 L244.36,395.88 L245.71,396.39 L247.83,396.97 L249.4,397.23 L250.46,397.23 L251.09,397.02 L251.7,396.66 L254.46,394.81 L255.59,393.93 L255.86,393.62 L255.99,393.27 L256.05,392.47 L255.98,391.5 L255.72,390.52 L255.14,389.17 L253.99,387.86 L253.59,387.31 L253.2,386.59 L252.92,385.85 L252.63,384.44 L251.85,378.1 L251.57,377.11 L251.2,376.81 L250.68,376.6 L250.13,376.5 L249.75,376.53 L248.45,377.08 L247.44,377.71 L246.78,378.23Z" fill="#4fd8ff" filter="url(#b1)"/>
<path d="M241.98,388.4 L242.09,388.03 L242.38,387.77 L242.92,387.68 L242.69,387.1 L243.51,387.27 L243.69,386.98 L243.76,386.08 L244.45,386.31 L244.44,385.74 L244.9,385.74 L245.46,385.94 L245.87,385.96 L245.89,385.29 L246.42,385.54 L246.75,385.33 L247.06,384.98 L247.55,385.07 L248.14,385.73 L248.53,385.39 L248.99,385.4 L249.44,385.69 L249.92,385.48 L250.46,385.06 L250.82,385.62 L251.18,385.93 L251.67,385.78 L252.15,386.5 L252.77,386.17 L253.27,386.13 L253.33,386.67 L253.8,386.7 L254.14,386.89 L254.11,387.41 L254.27,387.72 L255.09,387.53 L255.16,387.92 L255.41,388.17 L255.86,388.32 L256.09,388.59 L255.54,389.18 L256.08,389.33 L256.3,389.63 L256.49,390.34 L257.33,390.6 L256.77,391.07 L256.75,391.45 L256.82,391.83 L257.04,392.22 L256.46,392.54 L257.27,393.02 L257.22,393.39 L257.04,393.71 L256.62,393.94 L257.01,394.43 L256.09,394.46 L256.25,395.8 L255.46,395.78 L255.74,396.48 L255.12,396.52 L254.13,396.7 L254.32,397.5 L253.59,397.26 L253.48,397.78 L253.15,398.04 L252.74,398.2 L251.92,397.55 L251.7,398.2 L251.09,397.98 L250.06,398.15 L249.54,398.86 L248.96,398.06 L248.41,398.17 L247.38,397.97 L247.07,397.46 L246.28,398.19 L245.58,397.75 L245.22,397.61 L244.68,397.7 L244.83,396.94 L243.79,397.06 L243.45,396.89 L243.35,396.53 L242.62,396.67 L242.67,396.21 L242.82,395.71 L242.5,395.52 L242.05,395.37 L242.24,394.89 L241.32,394.39 L241.9,393.26 L241.56,392.82 L241.74,392.28 L242.02,391.76 L241.44,391.22 L241.32,390.67 L241.76,390.21 L241.87,389.73 L241.73,389.21 L242.44,389.01 L241.98,388.4Z" fill="#70f0c0" filter="url(#b0)"/>
<path d="M242.94,388.81 L242.59,390.11 L242.41,391.79 L242.47,393.46 L242.58,394.16 L242.74,394.7 L243.24,395.5 L243.99,396.13 L244.99,396.64 L246.19,397.02 L246.89,397.17 L248.6,397.37 L250.44,397.4 L252.09,397.22 L252.74,397.04 L253.3,396.8 L254.34,396.09 L255.22,395.18 L255.57,394.69 L256.04,393.75 L256.2,392.76 L256.1,391.59 L255.78,390.41 L255.31,389.41 L254.69,388.6 L253.85,387.86 L252.84,387.24 L251.74,386.76 L250.43,386.4 L248.91,386.17 L247.42,386.12 L246.19,386.28 L245.15,386.65 L244.22,387.2 L243.47,387.92 L242.94,388.81Z" fill="#b4f044" filter="url(#b1)"/>
<ellipse cx="247.5" cy="378.8" rx="1.6" ry="1.6" fill="#70f0c0" transform="rotate(0 247.5 378.8)" filter="url(#b1)"/>
<ellipse cx="251.3" cy="378.3" rx="1.5" ry="1.5" fill="#70f0c0" transform="rotate(0 251.3 378.3)" filter="url(#b1)"/>
<ellipse cx="250.3" cy="383" rx="1.5" ry="1.5" fill="#70f0c0" transform="rotate(0 250.3 383)" filter="url(#b1)"/>
<ellipse cx="251.8" cy="392" rx="4.2" ry="3.1" fill="#e8f030" transform="rotate(0 251.8 392)" filter="url(#b1)"/>
<ellipse cx="251.8" cy="392" rx="3" ry="1.9" fill="#f59a1e" transform="rotate(0 251.8 392)" filter="url(#b1)"/>
<ellipse cx="251.8" cy="392" rx="2" ry="0.9" fill="#e3151a" transform="rotate(0 251.8 392)" filter="url(#b1)"/>
<ellipse cx="253.4" cy="371.8" rx="0.8" ry="0.8" fill="#1422ff" transform="rotate(0 253.4 371.8)"/>
</g>
<clipPath id="cB20"><rect x="60.9" y="436.8" width="53.6" height="54.2"/></clipPath>
<g clip-path="url(#cB20)">
<path d="M98.49,443.15 L98.87,442.47 L98.83,443.31 L99.17,443.24 L99.37,443.04 L99.34,443.57 L99.73,442.74 L99.83,443.65 L100.08,443.34 L99.92,444.27 L100.15,444.15 L100.36,444.14 L100.54,444.3 L100.43,445.22 L100.75,445.11 L100.65,446.75 L100.75,447.25 L101.13,447.23 L100.98,448.26 L101.22,448.56 L101.39,449.03 L101.33,449.86 L101.07,450.94 L101.46,451.08 L101.46,452.4 L102.08,453.1 L101.66,454.17 L101.73,454.78 L101.94,455.28 L101.77,456.05 L101.74,456.71 L102.38,457.03 L102.4,457.7 L102.05,458.47 L102.3,459.03 L102.26,459.67 L101.78,460.34 L101.94,460.93 L102.51,461.58 L102.18,462.21 L102.19,462.88 L102.39,463.61 L102.12,464.21 L101.51,464.6 L101.95,465.47 L101.9,466.11 L101.76,466.67 L101.81,467.35 L102.1,468.25 L101.44,468.26 L101.3,469.78 L100.97,469.88 L101.41,470.95 L100.73,471.47 L100.83,472.13 L100.29,471.76 L100.38,472.46 L100.35,473 L100.25,473.46 L99.81,473.27 L99.88,474.21 L99.41,474.01 L99.1,474.21 L98.83,474.57 L98.76,475.61 L98.25,475.37 L98.08,476.27 L97.73,476.6 L97.35,476.8 L96.89,476.46 L96.69,477.51 L96.3,477.38 L95.71,478.15 L95.45,478.8 L95.1,478.01 L94.85,478.4 L94.31,478.25 L94.06,477.95 L93.8,478.82 L93.55,478.35 L93.04,478.06 L92.77,478.11 L92.57,477.21 L92.26,477.65 L91.96,477.76 L91.68,477.63 L91.42,477.35 L91.02,477.8 L90.81,477.09 L90.54,476.77 L89.77,477.08 L89.54,476.59 L89.07,476.97 L88.7,476.95 L88.54,476.35 L88.32,475.99 L87.89,476.18 L87.74,475.7 L87.5,475.47 L87.01,475.78 L86.77,475.53 L86.75,474.84 L86.46,474.68 L86.21,474.45 L86.28,473.67 L85.94,473.59 L85.49,473.67 L85.39,473.22 L85.39,472.68 L84.97,472.7 L85.24,471.41 L85.01,471.27 L84.66,471.27 L84.95,470.6 L84.62,470.6 L84.57,470.31 L85.23,469.08 L84.81,469.17 L85.16,468.58 L85.14,468.31 L84.79,467.98 L85.57,467.09 L85.36,466.92 L85.76,466 L86.06,465.5 L85.35,465.53 L85.93,464.88 L86.24,464 L86.24,463.61 L87.21,462.93 L86.67,462.67 L86.85,461.75 L87.25,461.26 L86.71,460.76 L87.67,460.33 L87.77,459.86 L87.78,459.34 L87.5,458.7 L88.1,458.38 L87.46,457.48 L88,456.59 L88.37,456.3 L87.99,455.34 L88.51,455.25 L88.25,453.71 L88.24,453.03 L88.75,453.13 L88.6,452.24 L89.08,451.73 L89.17,451.22 L88.96,450.06 L89.28,450.03 L89.44,448.88 L89.65,448.64 L89.98,448.79 L89.95,447.81 L90.11,447.4 L90.32,447.18 L90.6,446.04 L90.97,446.44 L91.22,446.3 L91.41,445.77 L91.96,445.64 L92.16,444.88 L92.44,444.73 L92.77,445.13 L93.33,444.66 L93.63,444.91 L93.91,444.66 L94.21,443.86 L94.5,444.05 L94.8,444.05 L95.14,443.75 L95.46,443.75 L95.73,444.25 L96.13,443.56 L96.49,443.31 L97.13,443.28 L97.53,442.73 L97.68,443.43 L97.95,443.42 L98.24,443.21 L98.49,443.15Z" fill="#1422ff" filter="url(#b0)"/>
<path d="M98.38,445.21 L97.53,445.36 L96.01,445.82 L93.63,446.86 L92.68,447.46 L92.26,447.95 L92.05,448.32 L91.42,450.11 L90.65,453.34 L90.34,455.01 L89.8,458.85 L89.44,460.82 L88.94,462.61 L87.7,466.36 L87.1,468.89 L86.93,469.88 L86.96,470.99 L87.21,471.79 L87.93,473.11 L88.78,474.12 L89.34,474.49 L89.73,474.67 L92.41,475.52 L94.39,476.29 L94.76,476.14 L95.16,475.85 L96.14,474.91 L97.14,473.75 L98.24,472.17 L98.68,471.32 L99,470.43 L99.43,468.53 L99.7,466.75 L99.91,464.66 L100.05,462.45 L100.1,460.3 L100.04,458.24 L99.77,455.06 L99.17,449.88 L98.75,446.92 L98.38,445.21Z" fill="#2f7dff" filter="url(#b1)"/>
<path d="M94.36,475.44 L95.08,474.84 L96.05,473.82 L96.93,472.7 L97.77,471.37 L98.1,470.62 L98.37,469.7 L98.65,468.38 L98.91,466.65 L99.12,464.6 L99.25,462.41 L99.3,460.31 L99.24,458.28 L98.98,455.14 L98.5,451.02 L98.1,447.96 L97.78,446.13 L95.83,446.75 L93.66,447.75 L93.07,448.21 L92.58,449.11 L92,451.06 L91.27,454.3 L90.59,458.98 L90.21,461.01 L89.7,462.86 L88.47,466.58 L87.88,469.06 L87.73,469.96 L87.75,470.83 L87.96,471.49 L88.59,472.66 L89.31,473.51 L89.72,473.78 L90.45,474.09 L92.68,474.77 L94.36,475.44Z" fill="#4fd8ff" filter="url(#b1)"/>
<path d="M94.5,448.05 L94.7,447.69 L94.93,447.51 L95.15,447.94 L95.45,447.24 L95.67,447.79 L95.94,447.88 L96.23,447.79 L96.61,447.15 L96.79,447.83 L97.16,447.36 L97.41,447.57 L97.61,447.94 L97.67,448.77 L98.05,448.3 L98.1,449.07 L98.49,449.65 L98.76,449.79 L98.53,451.26 L98.77,451.53 L98.86,453.03 L98.81,453.93 L99.37,453.83 L99.17,454.94 L99.24,456.37 L99.41,456.9 L98.86,458.02 L99.43,458.27 L99.62,458.86 L99.66,459.55 L99.49,460.3 L100.08,460.9 L99.4,461.62 L99.31,462.24 L99.85,463.66 L99.46,464.11 L99.96,465.03 L99.91,465.64 L99.51,465.92 L99.31,466.31 L99.58,467.18 L99.27,467.42 L99.27,468.01 L99.49,468.95 L99.38,469.43 L99.01,469.46 L99.01,470.12 L98.87,470.56 L98.54,470.57 L98.53,472.12 L97.98,472.45 L97.86,473.14 L97.48,473.05 L97.14,473.05 L96.67,474.33 L96.28,474.18 L95.99,474.86 L95.64,475.14 L94.89,474.72 L94.55,475.47 L94.2,475.22 L93.85,475.4 L93.48,475.74 L93.1,475.97 L92.81,475.08 L92.37,475.35 L91.21,474.5 L90.56,475.14 L90.31,474.38 L89.92,474.13 L89.57,473.8 L89.2,473.6 L89.24,472.56 L88.66,472.92 L88.26,472.29 L88.25,471.7 L87.82,471.83 L88.24,470.66 L88.08,469.92 L87.86,469.73 L88.24,468.82 L87.75,468.94 L88.24,467.52 L88.6,466.77 L88.22,466.67 L88.84,465.75 L88.64,465.46 L88.56,465.06 L88.59,464.56 L89.48,463.67 L89.21,463.28 L89.8,462.59 L90.22,461.99 L90.41,461.44 L89.91,460.76 L90.73,460.28 L90.78,459.61 L90.98,459 L91.33,458.55 L91.88,458.46 L91.59,457.37 L91.93,456.38 L91.98,454.82 L92.34,455 L92.42,454.45 L92.43,453.66 L92.66,452.89 L92.63,451.79 L92.75,451.49 L92.93,451.57 L93.1,450.62 L93.24,450.71 L93.33,449.31 L93.44,449.37 L93.54,449.3 L93.61,448.86 L93.72,448.87 L93.84,449.2 L93.92,448.45 L94.04,448.14 L94.18,448.18 L94.33,448.04 L94.5,448.05Z" fill="#70f0c0" filter="url(#b0)"/>
<path d="M94.93,448.79 L94.68,448.99 L94.45,449.39 L93.87,451.24 L93.54,452.62 L92.86,456.29 L92.35,458.29 L91.62,460.29 L90.31,463.4 L89.6,465.32 L89.38,466.2 L89.06,467.94 L88.9,469.59 L88.97,471.01 L89.1,471.59 L89.3,472.08 L89.6,472.52 L90.03,472.98 L91.17,473.82 L92.45,474.4 L93.02,474.55 L93.5,474.6 L93.93,474.55 L94.41,474.41 L94.93,474.17 L95.96,473.46 L96.88,472.52 L97.54,471.47 L98.03,470.18 L98.38,468.62 L98.62,466.86 L98.76,464.96 L98.77,462.81 L98.59,459.34 L98.09,453.52 L97.8,451.22 L97.62,450.25 L97.42,449.46 L97.21,448.94 L97.01,448.68 L96.82,448.54 L96.27,448.43 L95.91,448.47 L94.93,448.79Z" fill="#b4f044" filter="url(#b1)"/>
<ellipse cx="95.1" cy="468.6" rx="5.19" ry="4.28" fill="#e8f030" transform="rotate(-10 95.1 468.6)" filter="url(#b1)"/>
<ellipse cx="95.1" cy="468.6" rx="3.99" ry="3.08" fill="#f59a1e" transform="rotate(-10 95.1 468.6)" filter="url(#b1)"/>
<ellipse cx="95.1" cy="468.6" rx="2.99" ry="2.08" fill="#e3151a" transform="rotate(-10 95.1 468.6)" filter="url(#b1)"/>
</g>
<clipPath id="cB21"><rect x="139.7" y="436.8" width="53.6" height="54.2"/></clipPath>
<g clip-path="url(#cB21)">
<path d="M171.3,447.39 L171.68,447.63 L171.86,446.7 L172.07,447.14 L172.29,446.63 L172.75,446.28 L172.92,447.03 L173.2,446.29 L173.42,446.47 L173.91,446.27 L174.25,445.54 L174.38,446.35 L174.65,446.26 L175.19,446.41 L175.36,446.97 L175.87,446.2 L176.65,446.96 L177.04,446.81 L177.03,447.74 L177.74,447.52 L177.99,447.63 L178.04,448.12 L178.46,447.79 L178.35,448.96 L178.49,449.09 L178.76,448.99 L178.63,449.6 L179.11,449.54 L178.8,450.77 L179.07,450.75 L178.99,451.68 L179.42,451.55 L179.69,451.69 L179.54,452.36 L179.69,452.71 L180.01,452.88 L179.79,453.62 L179.99,453.93 L180.55,453.95 L180.78,454.27 L180.63,454.87 L181.16,454.97 L181.05,455.49 L180.79,456.06 L180.87,456.4 L181.44,456.48 L181.04,457.03 L181.31,457.25 L181.45,457.53 L181.24,457.93 L180.48,458.49 L180.95,458.67 L180.58,459.08 L180.47,459.42 L180.5,459.74 L180.98,460.02 L180.04,460.46 L180.12,460.79 L179.81,461.5 L179.27,461.8 L180.16,462.27 L179.81,462.59 L179.71,462.95 L179.52,463.28 L179.79,463.75 L178.85,463.78 L179.24,464.31 L179.37,465.18 L178.92,465.33 L179.45,466.11 L178.78,466.1 L178.5,466.34 L178.32,466.66 L178.54,467.39 L177.91,467.31 L178.16,468.17 L177.96,468.59 L177.63,468.83 L177.07,468.72 L177.18,469.61 L176.68,469.51 L176.49,469.95 L176.3,471.29 L175.77,470.91 L175.65,471.54 L175.36,471.69 L174.74,471.76 L174.67,472.8 L174.33,472.73 L174.06,472.94 L173.82,473.33 L173.54,473.51 L173.19,472.99 L172.96,473.6 L172.71,474.01 L172.43,474.05 L172.17,474.33 L171.9,475.01 L171.63,474.69 L171.38,474.58 L171.1,475.1 L170.83,475.29 L170.58,475.25 L170.25,475.97 L169.94,476.44 L169.75,476.08 L169.19,476.57 L169,476.38 L168.77,476.36 L168.37,477.17 L168.15,477.1 L167.96,476.93 L167.43,477.14 L167.41,476.39 L167.06,476.72 L166.75,476.91 L166.53,476.82 L166.38,476.53 L165.95,477.01 L165.96,476.3 L165.85,475.96 L165.63,475.87 L165.3,476.05 L165.36,475.35 L164.9,475.77 L164.73,475.55 L164.68,475.09 L164.77,474.37 L164.33,474.62 L164.51,473.78 L164.02,473.54 L163.68,473.55 L164.03,472.55 L163.65,472.62 L163.9,471.03 L163.26,471.41 L163.57,470.67 L163.4,470.48 L163.3,469.82 L163.94,468.83 L163.47,468.93 L163.55,468.52 L163.53,468.2 L163.64,467.8 L163.15,467.87 L163.88,467.03 L164.01,466.42 L163.98,466.22 L164.54,465.67 L163.97,465.83 L164.24,465.5 L165.05,464.74 L164.89,464.68 L165.72,464.12 L165.7,463.99 L165.53,463.9 L165.62,463.69 L166.24,463.26 L165.95,463.17 L166.91,462.44 L166.9,462.23 L166.48,462.1 L166.93,461.8 L166.83,461.59 L166.6,461.37 L167.59,460.88 L167.25,460.61 L167.3,460.34 L167.61,460.11 L167.23,459.7 L167.1,459.29 L167.66,459.12 L167.88,458.84 L167.68,458.26 L168.11,458.08 L168.15,457.61 L167.88,456.79 L167.89,456.19 L168.33,456.14 L168.21,455.35 L168.4,455.03 L168.66,454.87 L168.73,454.42 L168.5,453.32 L168.75,453.31 L168.78,452.32 L168.87,452.08 L169.15,452.48 L168.99,451.56 L169.11,450.77 L168.99,449.91 L169.25,450.5 L169.34,449.59 L169.52,449.86 L169.4,448.74 L169.68,448.77 L169.82,448.87 L169.85,448.26 L170.1,448.95 L170.14,448.36 L170.34,447.68 L170.54,448.15 L170.61,447.37 L170.82,447.84 L170.99,447.92 L171.15,447.83 L171.3,447.39Z" fill="#1422ff" filter="url(#b0)"/>
<path d="M172.41,449.18 L171.61,449.76 L171.42,450.06 L171.3,450.42 L170.97,452.67 L169.97,458.1 L169.37,460.71 L168.91,462.26 L168.51,463.26 L167.95,464.31 L166.41,466.29 L166,466.92 L165.7,468 L165.59,469.02 L165.59,470.1 L165.68,471.1 L165.87,472.08 L166.17,473.07 L166.68,474.17 L167.09,474.61 L167.49,474.81 L167.89,474.8 L168.4,474.53 L172.9,471.12 L174.01,470.03 L175.16,468.51 L176.23,466.77 L176.95,465.19 L177.24,464.17 L177.88,460.91 L179.04,457.41 L179.1,456.73 L178.94,456.01 L177.35,452.49 L177.09,451.65 L176.68,449.77 L176.51,449.38 L176.14,449.08 L175.47,448.69 L174.74,448.41 L174.25,448.3 L173.62,448.48 L172.41,449.18Z" fill="#2f7dff" filter="url(#b1)"/>
<path d="M167.67,474.03 L168.31,473.62 L171.99,470.83 L173.08,469.87 L174.12,468.59 L175.21,466.95 L176.03,465.36 L176.33,464.48 L177.07,460.85 L177.34,459.93 L178.16,457.63 L178.3,456.78 L178.01,455.82 L176.9,453.49 L176.53,452.56 L176.31,451.84 L175.87,449.88 L175.12,449.42 L174.5,449.17 L174.22,449.11 L173.72,449.32 L172.39,450.14 L172.15,450.38 L172.04,450.84 L171.66,453.4 L170.76,458.22 L169.84,462.01 L169.46,463.07 L168.9,464.26 L168.17,465.4 L166.84,467.07 L166.57,467.73 L166.43,468.58 L166.38,469.56 L166.42,470.54 L166.55,471.43 L166.78,472.35 L167.08,473.19 L167.36,473.74 L167.67,474.03Z" fill="#4fd8ff" filter="url(#b1)"/>
<ellipse cx="175" cy="452" rx="2" ry="2" fill="#5a9cff" transform="rotate(0 175 452)" filter="url(#b2)"/>
<path d="M165.72,466.03 L165.48,465.59 L166.25,465.37 L165.67,464.77 L165.97,464.42 L166.37,464.13 L167.02,464.03 L166.76,463.34 L167.56,463.46 L167.81,461.86 L168.53,462.23 L168.57,461.48 L169.02,461.56 L169.76,461.47 L169.9,460.42 L170.36,460.74 L170.7,460.3 L171.09,460.07 L171.48,459.93 L171.79,460.59 L172.23,459.82 L172.96,459.69 L173.33,459.56 L173.87,458.96 L173.94,459.66 L174.25,459.66 L174.64,459.55 L174.99,459.56 L175.16,459.89 L175.91,459.28 L176.23,459.4 L176.36,459.77 L176.64,459.92 L177.09,459.87 L176.96,460.46 L177.32,460.49 L177.9,460.33 L178.03,460.61 L177.94,461.05 L178.32,461.12 L178.19,461.6 L177.77,462.28 L178.29,462.77 L178.03,463.34 L178.05,463.77 L178.36,464.11 L177.71,464.78 L177.32,465.31 L177.43,465.72 L177.37,466.16 L176.84,466.6 L177.33,467.02 L177.17,467.43 L176.12,468.08 L176.28,468.59 L175.46,468.71 L175.39,469.16 L175.42,469.73 L175.25,470.22 L174.47,470.13 L174.49,470.85 L173.5,470.96 L173.18,471.19 L173.14,472.2 L172.63,471.94 L172.36,472.53 L171.99,472.84 L171.6,473.04 L171.2,472.51 L170.82,473.49 L170.45,473.5 L169.68,474.02 L169.16,474.8 L169.03,474.04 L168.64,474.33 L168.34,474.36 L168.01,474.48 L167.91,474.06 L167.22,474.9 L167.08,474.53 L166.87,474.32 L166.71,474.01 L166.25,474.19 L166.49,473.31 L165.99,473.52 L165.63,473.49 L165.35,473.34 L165.5,472.72 L164.9,472.91 L165.2,472.21 L165.26,471.78 L165.12,471.52 L164.61,471.49 L165.02,470.79 L164.58,470.63 L164.5,470.21 L164.78,469.61 L165.28,468.95 L164.78,468.69 L165.13,468.13 L165.2,467.68 L164.92,467.27 L164.75,466.82 L165.56,466.4 L165.72,466.03Z" fill="#70f0c0" filter="url(#b0)"/>
<path d="M166.34,466.32 L165.96,467.66 L165.74,469.2 L165.71,470.66 L165.87,471.75 L166.21,472.5 L166.46,472.83 L167.04,473.32 L167.36,473.48 L167.97,473.6 L168.82,473.4 L169.38,473.15 L170.62,472.44 L172.42,471.11 L174.05,469.59 L175.05,468.43 L175.49,467.83 L176.18,466.62 L176.72,465.21 L176.94,464.42 L177.23,462.88 L177.27,462.21 L177.16,461.35 L176.83,460.95 L176.11,460.61 L175.62,460.49 L174.56,460.39 L173.55,460.46 L173,460.57 L171.8,460.96 L171.2,461.23 L170.05,461.86 L169.54,462.22 L168.11,463.54 L167.27,464.61 L166.9,465.17 L166.34,466.32Z" fill="#b4f044" filter="url(#b1)"/>
<ellipse cx="170.2" cy="467.1" rx="5.06" ry="3.76" fill="#e8f030" transform="rotate(-30 170.2 467.1)" filter="url(#b1)"/>
<ellipse cx="170.2" cy="467.1" rx="3.86" ry="2.56" fill="#f59a1e" transform="rotate(-30 170.2 467.1)" filter="url(#b1)"/>
<ellipse cx="170.2" cy="467.1" rx="2.86" ry="1.56" fill="#e3151a" transform="rotate(-30 170.2 467.1)" filter="url(#b1)"/>
</g>
<clipPath id="cB22"><rect x="218.7" y="436.8" width="53.6" height="54.2"/></clipPath>
<g clip-path="url(#cB22)">
<path d="M251.49,451.93 L251.86,450.97 L252.61,451.08 L253.53,450.38 L253.87,450.75 L254.45,449.98 L254.99,449.5 L255.42,449.39 L255.75,449.56 L256.32,448.93 L256.45,449.47 L256.72,449.51 L257.05,449.32 L257.43,448.96 L257.35,449.62 L257.7,449.24 L257.63,450.13 L257.45,450.82 L257.78,450.45 L257.54,451.23 L257.86,451.56 L257.42,452.68 L257.7,452.55 L257.62,453.03 L257.68,453.67 L258.26,453.16 L257.98,453.94 L258.12,454.11 L258.17,454.42 L258.31,454.61 L257.92,455.44 L258.54,455.07 L258.72,455.63 L258.69,456.04 L259.17,455.95 L258.63,456.85 L258.78,457.09 L259.33,457.44 L259.08,458.03 L259.81,457.94 L259.71,458.43 L259.5,458.96 L259.44,459.4 L259.98,459.53 L259.58,460.12 L260.42,460.61 L260.45,461.02 L259.95,461.56 L260.39,461.88 L259.93,462.83 L260.27,463.26 L260.83,463.72 L260.43,464.2 L260.49,464.68 L260.7,465.19 L259.95,465.96 L260.44,466.53 L260.5,466.99 L260.18,467.29 L260.46,467.81 L260.4,468.18 L259.78,468.26 L259.55,468.5 L259.83,469.02 L259.4,469.12 L259.34,469.45 L259.51,469.96 L259.31,470.21 L258.58,470.02 L258.65,470.49 L257.97,470.72 L257.82,471.03 L258.07,471.82 L257.44,471.64 L256.95,472.2 L256.62,472.39 L256,472.09 L256.1,473.02 L255.42,473.43 L255.06,473.57 L254.89,474.24 L254.26,473.57 L253.43,474.66 L253.02,474.35 L252.82,475.31 L252.41,475 L251.68,474.68 L251.35,475.3 L251,474.66 L250.64,475.28 L250.26,475.54 L249.89,475.67 L249.61,475.05 L249.17,475.75 L248.9,475.33 L248.56,475.41 L248.18,475.69 L247.62,476.57 L247.42,476.12 L246.92,476.73 L246.55,476.9 L246.22,476.97 L246.03,476.74 L245.34,477.75 L245.06,477.74 L243.85,478.6 L243.95,477.85 L243.57,478.07 L243.29,478.07 L243.11,477.88 L242.98,477.57 L242.43,477.97 L242.53,476.75 L242.2,476.2 L242.41,475.4 L242.02,475.4 L241.7,475.28 L241.83,474.13 L241.53,473.98 L241.87,472.67 L241.4,472.61 L241.2,472.26 L241.34,471.62 L241.08,471.29 L240.89,470.91 L241.41,470.05 L241.35,469.61 L241.02,469.34 L241.05,468.88 L241.21,468.39 L240.61,468.26 L240.92,467.77 L241.35,467.29 L241.42,466.96 L241.18,466.75 L241.83,466.3 L241.45,466.14 L241.29,465.92 L241.52,465.63 L242.18,465.28 L241.8,465.12 L242.48,464.82 L242.71,464.59 L242.65,464.4 L242.23,464.23 L243.08,464 L242.82,463.82 L243.16,463.66 L243.6,463.54 L244.3,463.45 L243.66,463.31 L244.27,463.24 L244.47,463.03 L244.41,462.9 L245.62,462.93 L245.39,462.73 L245.69,462.6 L245.84,462.42 L246.24,462.27 L245.59,461.73 L246.41,461.69 L246.95,461.15 L246.95,460.67 L247.7,460.79 L247.31,459.9 L247.47,459.49 L247.7,459.17 L248.08,459.13 L247.95,458.32 L248.46,458.69 L248.53,458.34 L248.44,457.26 L248.68,457.56 L248.47,456.81 L248.66,457.1 L248.23,455.78 L248.24,455.67 L248.48,456.15 L248.41,455.61 L248.52,455.46 L248.7,455.47 L248.78,454.17 L249.05,454.35 L249.26,454.21 L249.42,453.7 L249.93,453.73 L250.11,452.9 L250.34,452.38 L250.63,452.5 L250.91,452 L251.2,451.69 L251.49,451.93Z" fill="#1422ff" filter="url(#b0)"/>
<path d="M244.01,476.5 L246.37,475.02 L247.83,474.25 L249.38,473.8 L251.31,473.46 L252.3,473.22 L253.73,472.51 L254.75,471.82 L256.17,470.65 L257.66,469.13 L258.35,468.11 L258.65,467.31 L258.74,466.8 L258.84,465.47 L258.81,463.92 L258.61,461.7 L258.4,460.51 L258.09,459.35 L256.15,453.31 L256.03,452.41 L256.06,451.04 L254.38,451.82 L252.98,452.63 L252.03,453.32 L251.27,454.1 L250.61,454.96 L249.98,456.02 L250.12,456.51 L250.21,457.12 L250.18,457.63 L250.05,458.2 L249.21,460.12 L248.08,462.09 L247.24,463.21 L246.61,463.81 L245.92,464.24 L244.34,464.9 L244.05,465.12 L243.38,466 L243.01,466.68 L242.77,467.46 L242.65,468.42 L242.77,470.53 L243.12,472.79 L243.7,475.49 L244.01,476.5Z" fill="#2f7dff" filter="url(#b1)"/>
<ellipse cx="250.3" cy="467.4" rx="8.2" ry="5.2" fill="#4fd8ff" transform="rotate(-25 250.3 467.4)" filter="url(#b1)"/>
<ellipse cx="250.1" cy="467.5" rx="7" ry="4.2" fill="#70f0c0" transform="rotate(-25 250.1 467.5)" filter="url(#b1)"/>
<ellipse cx="250" cy="467.6" rx="5.8" ry="3.3" fill="#b4f044" transform="rotate(-25 250 467.6)" filter="url(#b1)"/>
<ellipse cx="249.7" cy="467.7" rx="5.58" ry="3.24" fill="#e8f030" transform="rotate(-22 249.7 467.7)" filter="url(#b1)"/>
<ellipse cx="249.7" cy="467.7" rx="4.38" ry="2.04" fill="#f59a1e" transform="rotate(-22 249.7 467.7)" filter="url(#b1)"/>
<ellipse cx="249.7" cy="467.7" rx="3.38" ry="1.04" fill="#e3151a" transform="rotate(-22 249.7 467.7)" filter="url(#b1)"/>
</g>
<rect x="81.2" y="286.3" width="25" height="23" fill="none" stroke="#262626" stroke-width="0.9"/>
<text x="68.9" y="294.2" font-size="7.3" text-anchor="middle" font-weight="normal" fill="#1a1a1a" stroke="#1a1a1a" stroke-width="0.14" >60</text>
<text x="47" y="292.8" font-size="5.5" text-anchor="start" font-weight="normal" fill="#1a1a1a" stroke="#1a1a1a" stroke-width="0.14" >10<tspan font-size="3.8" dy="-2.3">5</tspan></text>
<line x1="58.3" y1="290.9" x2="60.9" y2="290.9" stroke="#333" stroke-width="0.8" />
<text x="47" y="304.5" font-size="5.5" text-anchor="start" font-weight="normal" fill="#1a1a1a" stroke="#1a1a1a" stroke-width="0.14" >10<tspan font-size="3.8" dy="-2.3">4</tspan></text>
<line x1="58.3" y1="302.6" x2="60.9" y2="302.6" stroke="#333" stroke-width="0.8" />
<text x="47" y="317.3" font-size="5.5" text-anchor="start" font-weight="normal" fill="#1a1a1a" stroke="#1a1a1a" stroke-width="0.14" >10<tspan font-size="3.8" dy="-2.3">3</tspan></text>
<line x1="58.3" y1="315.4" x2="60.9" y2="315.4" stroke="#333" stroke-width="0.8" />
<text x="47" y="330.1" font-size="5.5" text-anchor="start" font-weight="normal" fill="#1a1a1a" stroke="#1a1a1a" stroke-width="0.14" >10<tspan font-size="3.8" dy="-2.3">2</tspan></text>
<line x1="58.3" y1="328.2" x2="60.9" y2="328.2" stroke="#333" stroke-width="0.8" />
<text x="54.3" y="336.1" font-size="5.5" text-anchor="end" font-weight="normal" fill="#1a1a1a" stroke="#1a1a1a" stroke-width="0.14" >0</text>
<line x1="58.3" y1="334.2" x2="60.9" y2="334.2" stroke="#333" stroke-width="0.8" />
<line x1="59.3" y1="294.3" x2="60.9" y2="294.3" stroke="#222" stroke-width="0.75" />
<line x1="59.3" y1="296.3" x2="60.9" y2="296.3" stroke="#222" stroke-width="0.75" />
<line x1="59.3" y1="298.3" x2="60.9" y2="298.3" stroke="#222" stroke-width="0.75" />
<line x1="59.3" y1="299.3" x2="60.9" y2="299.3" stroke="#222" stroke-width="0.75" />
<line x1="59.3" y1="306.3" x2="60.9" y2="306.3" stroke="#222" stroke-width="0.75" />
<line x1="59.3" y1="308.8" x2="60.9" y2="308.8" stroke="#222" stroke-width="0.75" />
<line x1="59.3" y1="310.8" x2="60.9" y2="310.8" stroke="#222" stroke-width="0.75" />
<line x1="59.3" y1="312.3" x2="60.9" y2="312.3" stroke="#222" stroke-width="0.75" />
<line x1="59.3" y1="319.3" x2="60.9" y2="319.3" stroke="#222" stroke-width="0.75" />
<line x1="59.3" y1="321.8" x2="60.9" y2="321.8" stroke="#222" stroke-width="0.75" />
<line x1="59.3" y1="323.8" x2="60.9" y2="323.8" stroke="#222" stroke-width="0.75" />
<line x1="59.3" y1="325.3" x2="60.9" y2="325.3" stroke="#222" stroke-width="0.75" />
<line x1="59.3" y1="330.3" x2="60.9" y2="330.3" stroke="#222" stroke-width="0.75" />
<line x1="59.3" y1="332.3" x2="60.9" y2="332.3" stroke="#222" stroke-width="0.75" />
<line x1="59.3" y1="336.3" x2="60.9" y2="336.3" stroke="#222" stroke-width="0.75" />
<line x1="59.3" y1="338.3" x2="60.9" y2="338.3" stroke="#222" stroke-width="0.75" />
<text x="65.6" y="351.6" font-size="5.6" text-anchor="middle" font-weight="normal" fill="#1a1a1a" stroke="#1a1a1a" stroke-width="0.14" >0</text>
<text x="69.2" y="351.6" font-size="5.6" text-anchor="start" font-weight="normal" fill="#1a1a1a" stroke="#1a1a1a" stroke-width="0.14" >10<tspan font-size="3.8" dy="-2.3">2</tspan></text>
<text x="81.8" y="351.6" font-size="5.6" text-anchor="start" font-weight="normal" fill="#1a1a1a" stroke="#1a1a1a" stroke-width="0.14" >10<tspan font-size="3.8" dy="-2.3">3</tspan></text>
<text x="94.4" y="351.6" font-size="5.6" text-anchor="start" font-weight="normal" fill="#1a1a1a" stroke="#1a1a1a" stroke-width="0.14" >10<tspan font-size="3.8" dy="-2.3">4</tspan></text>
<text x="106.8" y="351.6" font-size="5.6" text-anchor="start" font-weight="normal" fill="#1a1a1a" stroke="#1a1a1a" stroke-width="0.14" >10<tspan font-size="3.8" dy="-2.3">5</tspan></text>
<line x1="62.9" y1="340.3" x2="62.9" y2="342" stroke="#222" stroke-width="0.8" />
<line x1="64.9" y1="340.3" x2="64.9" y2="342" stroke="#222" stroke-width="0.8" />
<line x1="66.9" y1="340.3" x2="66.9" y2="342" stroke="#222" stroke-width="0.8" />
<line x1="68.9" y1="340.3" x2="68.9" y2="342" stroke="#222" stroke-width="0.8" />
<line x1="72.9" y1="340.3" x2="72.9" y2="342" stroke="#222" stroke-width="0.8" />
<line x1="75.4" y1="340.3" x2="75.4" y2="342" stroke="#222" stroke-width="0.8" />
<line x1="77.9" y1="340.3" x2="77.9" y2="342" stroke="#222" stroke-width="0.8" />
<line x1="79.9" y1="340.3" x2="79.9" y2="342" stroke="#222" stroke-width="0.8" />
<line x1="81.9" y1="340.3" x2="81.9" y2="342" stroke="#222" stroke-width="0.8" />
<line x1="85.9" y1="340.3" x2="85.9" y2="342" stroke="#222" stroke-width="0.8" />
<line x1="88.9" y1="340.3" x2="88.9" y2="342" stroke="#222" stroke-width="0.8" />
<line x1="91.4" y1="340.3" x2="91.4" y2="342" stroke="#222" stroke-width="0.8" />
<line x1="93.4" y1="340.3" x2="93.4" y2="342" stroke="#222" stroke-width="0.8" />
<line x1="94.9" y1="340.3" x2="94.9" y2="342" stroke="#222" stroke-width="0.8" />
<line x1="98.9" y1="340.3" x2="98.9" y2="342" stroke="#222" stroke-width="0.8" />
<line x1="101.9" y1="340.3" x2="101.9" y2="342" stroke="#222" stroke-width="0.8" />
<line x1="104.4" y1="340.3" x2="104.4" y2="342" stroke="#222" stroke-width="0.8" />
<line x1="106.4" y1="340.3" x2="106.4" y2="342" stroke="#222" stroke-width="0.8" />
<line x1="107.9" y1="340.3" x2="107.9" y2="342" stroke="#222" stroke-width="0.8" />
<line x1="111.9" y1="340.3" x2="111.9" y2="342" stroke="#222" stroke-width="0.8" />
<line x1="72.6" y1="340.3" x2="72.6" y2="342.9" stroke="#333" stroke-width="0.8" />
<line x1="85.2" y1="340.3" x2="85.2" y2="342.9" stroke="#333" stroke-width="0.8" />
<line x1="97.9" y1="340.3" x2="97.9" y2="342.9" stroke="#333" stroke-width="0.8" />
<line x1="109.9" y1="340.3" x2="109.9" y2="342.9" stroke="#333" stroke-width="0.8" />
<rect x="60.9" y="286.3" width="54" height="54" fill="none" stroke="#222" stroke-width="1"/>
<rect x="159.4" y="286.3" width="25" height="23" fill="none" stroke="#262626" stroke-width="0.9"/>
<text x="147.7" y="294.2" font-size="7.3" text-anchor="middle" font-weight="normal" fill="#1a1a1a" stroke="#1a1a1a" stroke-width="0.14" >50</text>
<text x="125.8" y="292.8" font-size="5.5" text-anchor="start" font-weight="normal" fill="#1a1a1a" stroke="#1a1a1a" stroke-width="0.14" >10<tspan font-size="3.8" dy="-2.3">5</tspan></text>
<line x1="137.1" y1="290.9" x2="139.7" y2="290.9" stroke="#333" stroke-width="0.8" />
<text x="125.8" y="304.5" font-size="5.5" text-anchor="start" font-weight="normal" fill="#1a1a1a" stroke="#1a1a1a" stroke-width="0.14" >10<tspan font-size="3.8" dy="-2.3">4</tspan></text>
<line x1="137.1" y1="302.6" x2="139.7" y2="302.6" stroke="#333" stroke-width="0.8" />
<text x="125.8" y="317.3" font-size="5.5" text-anchor="start" font-weight="normal" fill="#1a1a1a" stroke="#1a1a1a" stroke-width="0.14" >10<tspan font-size="3.8" dy="-2.3">3</tspan></text>
<line x1="137.1" y1="315.4" x2="139.7" y2="315.4" stroke="#333" stroke-width="0.8" />
<text x="125.8" y="330.1" font-size="5.5" text-anchor="start" font-weight="normal" fill="#1a1a1a" stroke="#1a1a1a" stroke-width="0.14" >10<tspan font-size="3.8" dy="-2.3">2</tspan></text>
<line x1="137.1" y1="328.2" x2="139.7" y2="328.2" stroke="#333" stroke-width="0.8" />
<text x="133.1" y="336.1" font-size="5.5" text-anchor="end" font-weight="normal" fill="#1a1a1a" stroke="#1a1a1a" stroke-width="0.14" >0</text>
<line x1="137.1" y1="334.2" x2="139.7" y2="334.2" stroke="#333" stroke-width="0.8" />
<line x1="138.1" y1="294.3" x2="139.7" y2="294.3" stroke="#222" stroke-width="0.75" />
<line x1="138.1" y1="296.3" x2="139.7" y2="296.3" stroke="#222" stroke-width="0.75" />
<line x1="138.1" y1="298.3" x2="139.7" y2="298.3" stroke="#222" stroke-width="0.75" />
<line x1="138.1" y1="299.3" x2="139.7" y2="299.3" stroke="#222" stroke-width="0.75" />
<line x1="138.1" y1="306.3" x2="139.7" y2="306.3" stroke="#222" stroke-width="0.75" />
<line x1="138.1" y1="308.8" x2="139.7" y2="308.8" stroke="#222" stroke-width="0.75" />
<line x1="138.1" y1="310.8" x2="139.7" y2="310.8" stroke="#222" stroke-width="0.75" />
<line x1="138.1" y1="312.3" x2="139.7" y2="312.3" stroke="#222" stroke-width="0.75" />
<line x1="138.1" y1="319.3" x2="139.7" y2="319.3" stroke="#222" stroke-width="0.75" />
<line x1="138.1" y1="321.8" x2="139.7" y2="321.8" stroke="#222" stroke-width="0.75" />
<line x1="138.1" y1="323.8" x2="139.7" y2="323.8" stroke="#222" stroke-width="0.75" />
<line x1="138.1" y1="325.3" x2="139.7" y2="325.3" stroke="#222" stroke-width="0.75" />
<line x1="138.1" y1="330.3" x2="139.7" y2="330.3" stroke="#222" stroke-width="0.75" />
<line x1="138.1" y1="332.3" x2="139.7" y2="332.3" stroke="#222" stroke-width="0.75" />
<line x1="138.1" y1="336.3" x2="139.7" y2="336.3" stroke="#222" stroke-width="0.75" />
<line x1="138.1" y1="338.3" x2="139.7" y2="338.3" stroke="#222" stroke-width="0.75" />
<text x="144.4" y="351.6" font-size="5.6" text-anchor="middle" font-weight="normal" fill="#1a1a1a" stroke="#1a1a1a" stroke-width="0.14" >0</text>
<text x="148" y="351.6" font-size="5.6" text-anchor="start" font-weight="normal" fill="#1a1a1a" stroke="#1a1a1a" stroke-width="0.14" >10<tspan font-size="3.8" dy="-2.3">2</tspan></text>
<text x="160.6" y="351.6" font-size="5.6" text-anchor="start" font-weight="normal" fill="#1a1a1a" stroke="#1a1a1a" stroke-width="0.14" >10<tspan font-size="3.8" dy="-2.3">3</tspan></text>
<text x="173.2" y="351.6" font-size="5.6" text-anchor="start" font-weight="normal" fill="#1a1a1a" stroke="#1a1a1a" stroke-width="0.14" >10<tspan font-size="3.8" dy="-2.3">4</tspan></text>
<text x="185.6" y="351.6" font-size="5.6" text-anchor="start" font-weight="normal" fill="#1a1a1a" stroke="#1a1a1a" stroke-width="0.14" >10<tspan font-size="3.8" dy="-2.3">5</tspan></text>
<line x1="141.7" y1="340.3" x2="141.7" y2="342" stroke="#222" stroke-width="0.8" />
<line x1="143.7" y1="340.3" x2="143.7" y2="342" stroke="#222" stroke-width="0.8" />
<line x1="145.7" y1="340.3" x2="145.7" y2="342" stroke="#222" stroke-width="0.8" />
<line x1="147.7" y1="340.3" x2="147.7" y2="342" stroke="#222" stroke-width="0.8" />
<line x1="151.7" y1="340.3" x2="151.7" y2="342" stroke="#222" stroke-width="0.8" />
<line x1="154.2" y1="340.3" x2="154.2" y2="342" stroke="#222" stroke-width="0.8" />
<line x1="156.7" y1="340.3" x2="156.7" y2="342" stroke="#222" stroke-width="0.8" />
<line x1="158.7" y1="340.3" x2="158.7" y2="342" stroke="#222" stroke-width="0.8" />
<line x1="160.7" y1="340.3" x2="160.7" y2="342" stroke="#222" stroke-width="0.8" />
<line x1="164.7" y1="340.3" x2="164.7" y2="342" stroke="#222" stroke-width="0.8" />
<line x1="167.7" y1="340.3" x2="167.7" y2="342" stroke="#222" stroke-width="0.8" />
<line x1="170.2" y1="340.3" x2="170.2" y2="342" stroke="#222" stroke-width="0.8" />
<line x1="172.2" y1="340.3" x2="172.2" y2="342" stroke="#222" stroke-width="0.8" />
<line x1="173.7" y1="340.3" x2="173.7" y2="342" stroke="#222" stroke-width="0.8" />
<line x1="177.7" y1="340.3" x2="177.7" y2="342" stroke="#222" stroke-width="0.8" />
<line x1="180.7" y1="340.3" x2="180.7" y2="342" stroke="#222" stroke-width="0.8" />
<line x1="183.2" y1="340.3" x2="183.2" y2="342" stroke="#222" stroke-width="0.8" />
<line x1="185.2" y1="340.3" x2="185.2" y2="342" stroke="#222" stroke-width="0.8" />
<line x1="186.7" y1="340.3" x2="186.7" y2="342" stroke="#222" stroke-width="0.8" />
<line x1="190.7" y1="340.3" x2="190.7" y2="342" stroke="#222" stroke-width="0.8" />
<line x1="151.4" y1="340.3" x2="151.4" y2="342.9" stroke="#333" stroke-width="0.8" />
<line x1="164" y1="340.3" x2="164" y2="342.9" stroke="#333" stroke-width="0.8" />
<line x1="176.7" y1="340.3" x2="176.7" y2="342.9" stroke="#333" stroke-width="0.8" />
<line x1="188.7" y1="340.3" x2="188.7" y2="342.9" stroke="#333" stroke-width="0.8" />
<rect x="139.7" y="286.3" width="54" height="54" fill="none" stroke="#222" stroke-width="1"/>
<rect x="238.4" y="286.3" width="25" height="23" fill="none" stroke="#262626" stroke-width="0.9"/>
<text x="226.7" y="294.2" font-size="7.3" text-anchor="middle" font-weight="normal" fill="#1a1a1a" stroke="#1a1a1a" stroke-width="0.14" >30</text>
<text x="204.8" y="292.8" font-size="5.5" text-anchor="start" font-weight="normal" fill="#1a1a1a" stroke="#1a1a1a" stroke-width="0.14" >10<tspan font-size="3.8" dy="-2.3">5</tspan></text>
<line x1="216.1" y1="290.9" x2="218.7" y2="290.9" stroke="#333" stroke-width="0.8" />
<text x="204.8" y="304.5" font-size="5.5" text-anchor="start" font-weight="normal" fill="#1a1a1a" stroke="#1a1a1a" stroke-width="0.14" >10<tspan font-size="3.8" dy="-2.3">4</tspan></text>
<line x1="216.1" y1="302.6" x2="218.7" y2="302.6" stroke="#333" stroke-width="0.8" />
<text x="204.8" y="317.3" font-size="5.5" text-anchor="start" font-weight="normal" fill="#1a1a1a" stroke="#1a1a1a" stroke-width="0.14" >10<tspan font-size="3.8" dy="-2.3">3</tspan></text>
<line x1="216.1" y1="315.4" x2="218.7" y2="315.4" stroke="#333" stroke-width="0.8" />
<text x="204.8" y="330.1" font-size="5.5" text-anchor="start" font-weight="normal" fill="#1a1a1a" stroke="#1a1a1a" stroke-width="0.14" >10<tspan font-size="3.8" dy="-2.3">2</tspan></text>
<line x1="216.1" y1="328.2" x2="218.7" y2="328.2" stroke="#333" stroke-width="0.8" />
<text x="212.1" y="336.1" font-size="5.5" text-anchor="end" font-weight="normal" fill="#1a1a1a" stroke="#1a1a1a" stroke-width="0.14" >0</text>
<line x1="216.1" y1="334.2" x2="218.7" y2="334.2" stroke="#333" stroke-width="0.8" />
<line x1="217.1" y1="294.3" x2="218.7" y2="294.3" stroke="#222" stroke-width="0.75" />
<line x1="217.1" y1="296.3" x2="218.7" y2="296.3" stroke="#222" stroke-width="0.75" />
<line x1="217.1" y1="298.3" x2="218.7" y2="298.3" stroke="#222" stroke-width="0.75" />
<line x1="217.1" y1="299.3" x2="218.7" y2="299.3" stroke="#222" stroke-width="0.75" />
<line x1="217.1" y1="306.3" x2="218.7" y2="306.3" stroke="#222" stroke-width="0.75" />
<line x1="217.1" y1="308.8" x2="218.7" y2="308.8" stroke="#222" stroke-width="0.75" />
<line x1="217.1" y1="310.8" x2="218.7" y2="310.8" stroke="#222" stroke-width="0.75" />
<line x1="217.1" y1="312.3" x2="218.7" y2="312.3" stroke="#222" stroke-width="0.75" />
<line x1="217.1" y1="319.3" x2="218.7" y2="319.3" stroke="#222" stroke-width="0.75" />
<line x1="217.1" y1="321.8" x2="218.7" y2="321.8" stroke="#222" stroke-width="0.75" />
<line x1="217.1" y1="323.8" x2="218.7" y2="323.8" stroke="#222" stroke-width="0.75" />
<line x1="217.1" y1="325.3" x2="218.7" y2="325.3" stroke="#222" stroke-width="0.75" />
<line x1="217.1" y1="330.3" x2="218.7" y2="330.3" stroke="#222" stroke-width="0.75" />
<line x1="217.1" y1="332.3" x2="218.7" y2="332.3" stroke="#222" stroke-width="0.75" />
<line x1="217.1" y1="336.3" x2="218.7" y2="336.3" stroke="#222" stroke-width="0.75" />
<line x1="217.1" y1="338.3" x2="218.7" y2="338.3" stroke="#222" stroke-width="0.75" />
<text x="223.4" y="351.6" font-size="5.6" text-anchor="middle" font-weight="normal" fill="#1a1a1a" stroke="#1a1a1a" stroke-width="0.14" >0</text>
<text x="227" y="351.6" font-size="5.6" text-anchor="start" font-weight="normal" fill="#1a1a1a" stroke="#1a1a1a" stroke-width="0.14" >10<tspan font-size="3.8" dy="-2.3">2</tspan></text>
<text x="239.6" y="351.6" font-size="5.6" text-anchor="start" font-weight="normal" fill="#1a1a1a" stroke="#1a1a1a" stroke-width="0.14" >10<tspan font-size="3.8" dy="-2.3">3</tspan></text>
<text x="252.2" y="351.6" font-size="5.6" text-anchor="start" font-weight="normal" fill="#1a1a1a" stroke="#1a1a1a" stroke-width="0.14" >10<tspan font-size="3.8" dy="-2.3">4</tspan></text>
<text x="264.6" y="351.6" font-size="5.6" text-anchor="start" font-weight="normal" fill="#1a1a1a" stroke="#1a1a1a" stroke-width="0.14" >10<tspan font-size="3.8" dy="-2.3">5</tspan></text>
<line x1="220.7" y1="340.3" x2="220.7" y2="342" stroke="#222" stroke-width="0.8" />
<line x1="222.7" y1="340.3" x2="222.7" y2="342" stroke="#222" stroke-width="0.8" />
<line x1="224.7" y1="340.3" x2="224.7" y2="342" stroke="#222" stroke-width="0.8" />
<line x1="226.7" y1="340.3" x2="226.7" y2="342" stroke="#222" stroke-width="0.8" />
<line x1="230.7" y1="340.3" x2="230.7" y2="342" stroke="#222" stroke-width="0.8" />
<line x1="233.2" y1="340.3" x2="233.2" y2="342" stroke="#222" stroke-width="0.8" />
<line x1="235.7" y1="340.3" x2="235.7" y2="342" stroke="#222" stroke-width="0.8" />
<line x1="237.7" y1="340.3" x2="237.7" y2="342" stroke="#222" stroke-width="0.8" />
<line x1="239.7" y1="340.3" x2="239.7" y2="342" stroke="#222" stroke-width="0.8" />
<line x1="243.7" y1="340.3" x2="243.7" y2="342" stroke="#222" stroke-width="0.8" />
<line x1="246.7" y1="340.3" x2="246.7" y2="342" stroke="#222" stroke-width="0.8" />
<line x1="249.2" y1="340.3" x2="249.2" y2="342" stroke="#222" stroke-width="0.8" />
<line x1="251.2" y1="340.3" x2="251.2" y2="342" stroke="#222" stroke-width="0.8" />
<line x1="252.7" y1="340.3" x2="252.7" y2="342" stroke="#222" stroke-width="0.8" />
<line x1="256.7" y1="340.3" x2="256.7" y2="342" stroke="#222" stroke-width="0.8" />
<line x1="259.7" y1="340.3" x2="259.7" y2="342" stroke="#222" stroke-width="0.8" />
<line x1="262.2" y1="340.3" x2="262.2" y2="342" stroke="#222" stroke-width="0.8" />
<line x1="264.2" y1="340.3" x2="264.2" y2="342" stroke="#222" stroke-width="0.8" />
<line x1="265.7" y1="340.3" x2="265.7" y2="342" stroke="#222" stroke-width="0.8" />
<line x1="269.7" y1="340.3" x2="269.7" y2="342" stroke="#222" stroke-width="0.8" />
<line x1="230.4" y1="340.3" x2="230.4" y2="342.9" stroke="#333" stroke-width="0.8" />
<line x1="243" y1="340.3" x2="243" y2="342.9" stroke="#333" stroke-width="0.8" />
<line x1="255.7" y1="340.3" x2="255.7" y2="342.9" stroke="#333" stroke-width="0.8" />
<line x1="267.7" y1="340.3" x2="267.7" y2="342.9" stroke="#333" stroke-width="0.8" />
<rect x="218.7" y="286.3" width="54" height="54" fill="none" stroke="#222" stroke-width="1"/>
<rect x="81.2" y="361.8" width="25" height="23" fill="none" stroke="#262626" stroke-width="0.9"/>
<text x="68.9" y="369.7" font-size="7.3" text-anchor="middle" font-weight="normal" fill="#1a1a1a" stroke="#1a1a1a" stroke-width="0.14" >43</text>
<text x="47" y="368.3" font-size="5.5" text-anchor="start" font-weight="normal" fill="#1a1a1a" stroke="#1a1a1a" stroke-width="0.14" >10<tspan font-size="3.8" dy="-2.3">5</tspan></text>
<line x1="58.3" y1="366.4" x2="60.9" y2="366.4" stroke="#333" stroke-width="0.8" />
<text x="47" y="380" font-size="5.5" text-anchor="start" font-weight="normal" fill="#1a1a1a" stroke="#1a1a1a" stroke-width="0.14" >10<tspan font-size="3.8" dy="-2.3">4</tspan></text>
<line x1="58.3" y1="378.1" x2="60.9" y2="378.1" stroke="#333" stroke-width="0.8" />
<text x="47" y="392.8" font-size="5.5" text-anchor="start" font-weight="normal" fill="#1a1a1a" stroke="#1a1a1a" stroke-width="0.14" >10<tspan font-size="3.8" dy="-2.3">3</tspan></text>
<line x1="58.3" y1="390.9" x2="60.9" y2="390.9" stroke="#333" stroke-width="0.8" />
<text x="47" y="405.6" font-size="5.5" text-anchor="start" font-weight="normal" fill="#1a1a1a" stroke="#1a1a1a" stroke-width="0.14" >10<tspan font-size="3.8" dy="-2.3">2</tspan></text>
<line x1="58.3" y1="403.7" x2="60.9" y2="403.7" stroke="#333" stroke-width="0.8" />
<text x="54.3" y="411.6" font-size="5.5" text-anchor="end" font-weight="normal" fill="#1a1a1a" stroke="#1a1a1a" stroke-width="0.14" >0</text>
<line x1="58.3" y1="409.7" x2="60.9" y2="409.7" stroke="#333" stroke-width="0.8" />
<line x1="59.3" y1="369.8" x2="60.9" y2="369.8" stroke="#222" stroke-width="0.75" />
<line x1="59.3" y1="371.8" x2="60.9" y2="371.8" stroke="#222" stroke-width="0.75" />
<line x1="59.3" y1="373.8" x2="60.9" y2="373.8" stroke="#222" stroke-width="0.75" />
<line x1="59.3" y1="374.8" x2="60.9" y2="374.8" stroke="#222" stroke-width="0.75" />
<line x1="59.3" y1="381.8" x2="60.9" y2="381.8" stroke="#222" stroke-width="0.75" />
<line x1="59.3" y1="384.3" x2="60.9" y2="384.3" stroke="#222" stroke-width="0.75" />
<line x1="59.3" y1="386.3" x2="60.9" y2="386.3" stroke="#222" stroke-width="0.75" />
<line x1="59.3" y1="387.8" x2="60.9" y2="387.8" stroke="#222" stroke-width="0.75" />
<line x1="59.3" y1="394.8" x2="60.9" y2="394.8" stroke="#222" stroke-width="0.75" />
<line x1="59.3" y1="397.3" x2="60.9" y2="397.3" stroke="#222" stroke-width="0.75" />
<line x1="59.3" y1="399.3" x2="60.9" y2="399.3" stroke="#222" stroke-width="0.75" />
<line x1="59.3" y1="400.8" x2="60.9" y2="400.8" stroke="#222" stroke-width="0.75" />
<line x1="59.3" y1="405.8" x2="60.9" y2="405.8" stroke="#222" stroke-width="0.75" />
<line x1="59.3" y1="407.8" x2="60.9" y2="407.8" stroke="#222" stroke-width="0.75" />
<line x1="59.3" y1="411.8" x2="60.9" y2="411.8" stroke="#222" stroke-width="0.75" />
<line x1="59.3" y1="413.8" x2="60.9" y2="413.8" stroke="#222" stroke-width="0.75" />
<text x="65.6" y="427.1" font-size="5.6" text-anchor="middle" font-weight="normal" fill="#1a1a1a" stroke="#1a1a1a" stroke-width="0.14" >0</text>
<text x="69.2" y="427.1" font-size="5.6" text-anchor="start" font-weight="normal" fill="#1a1a1a" stroke="#1a1a1a" stroke-width="0.14" >10<tspan font-size="3.8" dy="-2.3">2</tspan></text>
<text x="81.8" y="427.1" font-size="5.6" text-anchor="start" font-weight="normal" fill="#1a1a1a" stroke="#1a1a1a" stroke-width="0.14" >10<tspan font-size="3.8" dy="-2.3">3</tspan></text>
<text x="94.4" y="427.1" font-size="5.6" text-anchor="start" font-weight="normal" fill="#1a1a1a" stroke="#1a1a1a" stroke-width="0.14" >10<tspan font-size="3.8" dy="-2.3">4</tspan></text>
<text x="106.8" y="427.1" font-size="5.6" text-anchor="start" font-weight="normal" fill="#1a1a1a" stroke="#1a1a1a" stroke-width="0.14" >10<tspan font-size="3.8" dy="-2.3">5</tspan></text>
<line x1="62.9" y1="415.8" x2="62.9" y2="417.5" stroke="#222" stroke-width="0.8" />
<line x1="64.9" y1="415.8" x2="64.9" y2="417.5" stroke="#222" stroke-width="0.8" />
<line x1="66.9" y1="415.8" x2="66.9" y2="417.5" stroke="#222" stroke-width="0.8" />
<line x1="68.9" y1="415.8" x2="68.9" y2="417.5" stroke="#222" stroke-width="0.8" />
<line x1="72.9" y1="415.8" x2="72.9" y2="417.5" stroke="#222" stroke-width="0.8" />
<line x1="75.4" y1="415.8" x2="75.4" y2="417.5" stroke="#222" stroke-width="0.8" />
<line x1="77.9" y1="415.8" x2="77.9" y2="417.5" stroke="#222" stroke-width="0.8" />
<line x1="79.9" y1="415.8" x2="79.9" y2="417.5" stroke="#222" stroke-width="0.8" />
<line x1="81.9" y1="415.8" x2="81.9" y2="417.5" stroke="#222" stroke-width="0.8" />
<line x1="85.9" y1="415.8" x2="85.9" y2="417.5" stroke="#222" stroke-width="0.8" />
<line x1="88.9" y1="415.8" x2="88.9" y2="417.5" stroke="#222" stroke-width="0.8" />
<line x1="91.4" y1="415.8" x2="91.4" y2="417.5" stroke="#222" stroke-width="0.8" />
<line x1="93.4" y1="415.8" x2="93.4" y2="417.5" stroke="#222" stroke-width="0.8" />
<line x1="94.9" y1="415.8" x2="94.9" y2="417.5" stroke="#222" stroke-width="0.8" />
<line x1="98.9" y1="415.8" x2="98.9" y2="417.5" stroke="#222" stroke-width="0.8" />
<line x1="101.9" y1="415.8" x2="101.9" y2="417.5" stroke="#222" stroke-width="0.8" />
<line x1="104.4" y1="415.8" x2="104.4" y2="417.5" stroke="#222" stroke-width="0.8" />
<line x1="106.4" y1="415.8" x2="106.4" y2="417.5" stroke="#222" stroke-width="0.8" />
<line x1="107.9" y1="415.8" x2="107.9" y2="417.5" stroke="#222" stroke-width="0.8" />
<line x1="111.9" y1="415.8" x2="111.9" y2="417.5" stroke="#222" stroke-width="0.8" />
<line x1="72.6" y1="415.8" x2="72.6" y2="418.4" stroke="#333" stroke-width="0.8" />
<line x1="85.2" y1="415.8" x2="85.2" y2="418.4" stroke="#333" stroke-width="0.8" />
<line x1="97.9" y1="415.8" x2="97.9" y2="418.4" stroke="#333" stroke-width="0.8" />
<line x1="109.9" y1="415.8" x2="109.9" y2="418.4" stroke="#333" stroke-width="0.8" />
<rect x="60.9" y="361.8" width="54" height="54" fill="none" stroke="#222" stroke-width="1"/>
<rect x="159.4" y="361.8" width="25" height="23" fill="none" stroke="#262626" stroke-width="0.9"/>
<text x="147.7" y="369.7" font-size="7.3" text-anchor="middle" font-weight="normal" fill="#1a1a1a" stroke="#1a1a1a" stroke-width="0.14" >40</text>
<text x="125.8" y="368.3" font-size="5.5" text-anchor="start" font-weight="normal" fill="#1a1a1a" stroke="#1a1a1a" stroke-width="0.14" >10<tspan font-size="3.8" dy="-2.3">5</tspan></text>
<line x1="137.1" y1="366.4" x2="139.7" y2="366.4" stroke="#333" stroke-width="0.8" />
<text x="125.8" y="380" font-size="5.5" text-anchor="start" font-weight="normal" fill="#1a1a1a" stroke="#1a1a1a" stroke-width="0.14" >10<tspan font-size="3.8" dy="-2.3">4</tspan></text>
<line x1="137.1" y1="378.1" x2="139.7" y2="378.1" stroke="#333" stroke-width="0.8" />
<text x="125.8" y="392.8" font-size="5.5" text-anchor="start" font-weight="normal" fill="#1a1a1a" stroke="#1a1a1a" stroke-width="0.14" >10<tspan font-size="3.8" dy="-2.3">3</tspan></text>
<line x1="137.1" y1="390.9" x2="139.7" y2="390.9" stroke="#333" stroke-width="0.8" />
<text x="125.8" y="405.6" font-size="5.5" text-anchor="start" font-weight="normal" fill="#1a1a1a" stroke="#1a1a1a" stroke-width="0.14" >10<tspan font-size="3.8" dy="-2.3">2</tspan></text>
<line x1="137.1" y1="403.7" x2="139.7" y2="403.7" stroke="#333" stroke-width="0.8" />
<text x="133.1" y="411.6" font-size="5.5" text-anchor="end" font-weight="normal" fill="#1a1a1a" stroke="#1a1a1a" stroke-width="0.14" >0</text>
<line x1="137.1" y1="409.7" x2="139.7" y2="409.7" stroke="#333" stroke-width="0.8" />
<line x1="138.1" y1="369.8" x2="139.7" y2="369.8" stroke="#222" stroke-width="0.75" />
<line x1="138.1" y1="371.8" x2="139.7" y2="371.8" stroke="#222" stroke-width="0.75" />
<line x1="138.1" y1="373.8" x2="139.7" y2="373.8" stroke="#222" stroke-width="0.75" />
<line x1="138.1" y1="374.8" x2="139.7" y2="374.8" stroke="#222" stroke-width="0.75" />
<line x1="138.1" y1="381.8" x2="139.7" y2="381.8" stroke="#222" stroke-width="0.75" />
<line x1="138.1" y1="384.3" x2="139.7" y2="384.3" stroke="#222" stroke-width="0.75" />
<line x1="138.1" y1="386.3" x2="139.7" y2="386.3" stroke="#222" stroke-width="0.75" />
<line x1="138.1" y1="387.8" x2="139.7" y2="387.8" stroke="#222" stroke-width="0.75" />
<line x1="138.1" y1="394.8" x2="139.7" y2="394.8" stroke="#222" stroke-width="0.75" />
<line x1="138.1" y1="397.3" x2="139.7" y2="397.3" stroke="#222" stroke-width="0.75" />
<line x1="138.1" y1="399.3" x2="139.7" y2="399.3" stroke="#222" stroke-width="0.75" />
<line x1="138.1" y1="400.8" x2="139.7" y2="400.8" stroke="#222" stroke-width="0.75" />
<line x1="138.1" y1="405.8" x2="139.7" y2="405.8" stroke="#222" stroke-width="0.75" />
<line x1="138.1" y1="407.8" x2="139.7" y2="407.8" stroke="#222" stroke-width="0.75" />
<line x1="138.1" y1="411.8" x2="139.7" y2="411.8" stroke="#222" stroke-width="0.75" />
<line x1="138.1" y1="413.8" x2="139.7" y2="413.8" stroke="#222" stroke-width="0.75" />
<text x="144.4" y="427.1" font-size="5.6" text-anchor="middle" font-weight="normal" fill="#1a1a1a" stroke="#1a1a1a" stroke-width="0.14" >0</text>
<text x="148" y="427.1" font-size="5.6" text-anchor="start" font-weight="normal" fill="#1a1a1a" stroke="#1a1a1a" stroke-width="0.14" >10<tspan font-size="3.8" dy="-2.3">2</tspan></text>
<text x="160.6" y="427.1" font-size="5.6" text-anchor="start" font-weight="normal" fill="#1a1a1a" stroke="#1a1a1a" stroke-width="0.14" >10<tspan font-size="3.8" dy="-2.3">3</tspan></text>
<text x="173.2" y="427.1" font-size="5.6" text-anchor="start" font-weight="normal" fill="#1a1a1a" stroke="#1a1a1a" stroke-width="0.14" >10<tspan font-size="3.8" dy="-2.3">4</tspan></text>
<text x="185.6" y="427.1" font-size="5.6" text-anchor="start" font-weight="normal" fill="#1a1a1a" stroke="#1a1a1a" stroke-width="0.14" >10<tspan font-size="3.8" dy="-2.3">5</tspan></text>
<line x1="141.7" y1="415.8" x2="141.7" y2="417.5" stroke="#222" stroke-width="0.8" />
<line x1="143.7" y1="415.8" x2="143.7" y2="417.5" stroke="#222" stroke-width="0.8" />
<line x1="145.7" y1="415.8" x2="145.7" y2="417.5" stroke="#222" stroke-width="0.8" />
<line x1="147.7" y1="415.8" x2="147.7" y2="417.5" stroke="#222" stroke-width="0.8" />
<line x1="151.7" y1="415.8" x2="151.7" y2="417.5" stroke="#222" stroke-width="0.8" />
<line x1="154.2" y1="415.8" x2="154.2" y2="417.5" stroke="#222" stroke-width="0.8" />
<line x1="156.7" y1="415.8" x2="156.7" y2="417.5" stroke="#222" stroke-width="0.8" />
<line x1="158.7" y1="415.8" x2="158.7" y2="417.5" stroke="#222" stroke-width="0.8" />
<line x1="160.7" y1="415.8" x2="160.7" y2="417.5" stroke="#222" stroke-width="0.8" />
<line x1="164.7" y1="415.8" x2="164.7" y2="417.5" stroke="#222" stroke-width="0.8" />
<line x1="167.7" y1="415.8" x2="167.7" y2="417.5" stroke="#222" stroke-width="0.8" />
<line x1="170.2" y1="415.8" x2="170.2" y2="417.5" stroke="#222" stroke-width="0.8" />
<line x1="172.2" y1="415.8" x2="172.2" y2="417.5" stroke="#222" stroke-width="0.8" />
<line x1="173.7" y1="415.8" x2="173.7" y2="417.5" stroke="#222" stroke-width="0.8" />
<line x1="177.7" y1="415.8" x2="177.7" y2="417.5" stroke="#222" stroke-width="0.8" />
<line x1="180.7" y1="415.8" x2="180.7" y2="417.5" stroke="#222" stroke-width="0.8" />
<line x1="183.2" y1="415.8" x2="183.2" y2="417.5" stroke="#222" stroke-width="0.8" />
<line x1="185.2" y1="415.8" x2="185.2" y2="417.5" stroke="#222" stroke-width="0.8" />
<line x1="186.7" y1="415.8" x2="186.7" y2="417.5" stroke="#222" stroke-width="0.8" />
<line x1="190.7" y1="415.8" x2="190.7" y2="417.5" stroke="#222" stroke-width="0.8" />
<line x1="151.4" y1="415.8" x2="151.4" y2="418.4" stroke="#333" stroke-width="0.8" />
<line x1="164" y1="415.8" x2="164" y2="418.4" stroke="#333" stroke-width="0.8" />
<line x1="176.7" y1="415.8" x2="176.7" y2="418.4" stroke="#333" stroke-width="0.8" />
<line x1="188.7" y1="415.8" x2="188.7" y2="418.4" stroke="#333" stroke-width="0.8" />
<rect x="139.7" y="361.8" width="54" height="54" fill="none" stroke="#222" stroke-width="1"/>
<rect x="238.4" y="361.8" width="25" height="23" fill="none" stroke="#262626" stroke-width="0.9"/>
<text x="226.7" y="369.7" font-size="7.3" text-anchor="middle" font-weight="normal" fill="#1a1a1a" stroke="#1a1a1a" stroke-width="0.14" >20</text>
<text x="204.8" y="368.3" font-size="5.5" text-anchor="start" font-weight="normal" fill="#1a1a1a" stroke="#1a1a1a" stroke-width="0.14" >10<tspan font-size="3.8" dy="-2.3">5</tspan></text>
<line x1="216.1" y1="366.4" x2="218.7" y2="366.4" stroke="#333" stroke-width="0.8" />
<text x="204.8" y="380" font-size="5.5" text-anchor="start" font-weight="normal" fill="#1a1a1a" stroke="#1a1a1a" stroke-width="0.14" >10<tspan font-size="3.8" dy="-2.3">4</tspan></text>
<line x1="216.1" y1="378.1" x2="218.7" y2="378.1" stroke="#333" stroke-width="0.8" />
<text x="204.8" y="392.8" font-size="5.5" text-anchor="start" font-weight="normal" fill="#1a1a1a" stroke="#1a1a1a" stroke-width="0.14" >10<tspan font-size="3.8" dy="-2.3">3</tspan></text>
<line x1="216.1" y1="390.9" x2="218.7" y2="390.9" stroke="#333" stroke-width="0.8" />
<text x="204.8" y="405.6" font-size="5.5" text-anchor="start" font-weight="normal" fill="#1a1a1a" stroke="#1a1a1a" stroke-width="0.14" >10<tspan font-size="3.8" dy="-2.3">2</tspan></text>
<line x1="216.1" y1="403.7" x2="218.7" y2="403.7" stroke="#333" stroke-width="0.8" />
<text x="212.1" y="411.6" font-size="5.5" text-anchor="end" font-weight="normal" fill="#1a1a1a" stroke="#1a1a1a" stroke-width="0.14" >0</text>
<line x1="216.1" y1="409.7" x2="218.7" y2="409.7" stroke="#333" stroke-width="0.8" />
<line x1="217.1" y1="369.8" x2="218.7" y2="369.8" stroke="#222" stroke-width="0.75" />
<line x1="217.1" y1="371.8" x2="218.7" y2="371.8" stroke="#222" stroke-width="0.75" />
<line x1="217.1" y1="373.8" x2="218.7" y2="373.8" stroke="#222" stroke-width="0.75" />
<line x1="217.1" y1="374.8" x2="218.7" y2="374.8" stroke="#222" stroke-width="0.75" />
<line x1="217.1" y1="381.8" x2="218.7" y2="381.8" stroke="#222" stroke-width="0.75" />
<line x1="217.1" y1="384.3" x2="218.7" y2="384.3" stroke="#222" stroke-width="0.75" />
<line x1="217.1" y1="386.3" x2="218.7" y2="386.3" stroke="#222" stroke-width="0.75" />
<line x1="217.1" y1="387.8" x2="218.7" y2="387.8" stroke="#222" stroke-width="0.75" />
<line x1="217.1" y1="394.8" x2="218.7" y2="394.8" stroke="#222" stroke-width="0.75" />
<line x1="217.1" y1="397.3" x2="218.7" y2="397.3" stroke="#222" stroke-width="0.75" />
<line x1="217.1" y1="399.3" x2="218.7" y2="399.3" stroke="#222" stroke-width="0.75" />
<line x1="217.1" y1="400.8" x2="218.7" y2="400.8" stroke="#222" stroke-width="0.75" />
<line x1="217.1" y1="405.8" x2="218.7" y2="405.8" stroke="#222" stroke-width="0.75" />
<line x1="217.1" y1="407.8" x2="218.7" y2="407.8" stroke="#222" stroke-width="0.75" />
<line x1="217.1" y1="411.8" x2="218.7" y2="411.8" stroke="#222" stroke-width="0.75" />
<line x1="217.1" y1="413.8" x2="218.7" y2="413.8" stroke="#222" stroke-width="0.75" />
<text x="223.4" y="427.1" font-size="5.6" text-anchor="middle" font-weight="normal" fill="#1a1a1a" stroke="#1a1a1a" stroke-width="0.14" >0</text>
<text x="227" y="427.1" font-size="5.6" text-anchor="start" font-weight="normal" fill="#1a1a1a" stroke="#1a1a1a" stroke-width="0.14" >10<tspan font-size="3.8" dy="-2.3">2</tspan></text>
<text x="239.6" y="427.1" font-size="5.6" text-anchor="start" font-weight="normal" fill="#1a1a1a" stroke="#1a1a1a" stroke-width="0.14" >10<tspan font-size="3.8" dy="-2.3">3</tspan></text>
<text x="252.2" y="427.1" font-size="5.6" text-anchor="start" font-weight="normal" fill="#1a1a1a" stroke="#1a1a1a" stroke-width="0.14" >10<tspan font-size="3.8" dy="-2.3">4</tspan></text>
<text x="264.6" y="427.1" font-size="5.6" text-anchor="start" font-weight="normal" fill="#1a1a1a" stroke="#1a1a1a" stroke-width="0.14" >10<tspan font-size="3.8" dy="-2.3">5</tspan></text>
<line x1="220.7" y1="415.8" x2="220.7" y2="417.5" stroke="#222" stroke-width="0.8" />
<line x1="222.7" y1="415.8" x2="222.7" y2="417.5" stroke="#222" stroke-width="0.8" />
<line x1="224.7" y1="415.8" x2="224.7" y2="417.5" stroke="#222" stroke-width="0.8" />
<line x1="226.7" y1="415.8" x2="226.7" y2="417.5" stroke="#222" stroke-width="0.8" />
<line x1="230.7" y1="415.8" x2="230.7" y2="417.5" stroke="#222" stroke-width="0.8" />
<line x1="233.2" y1="415.8" x2="233.2" y2="417.5" stroke="#222" stroke-width="0.8" />
<line x1="235.7" y1="415.8" x2="235.7" y2="417.5" stroke="#222" stroke-width="0.8" />
<line x1="237.7" y1="415.8" x2="237.7" y2="417.5" stroke="#222" stroke-width="0.8" />
<line x1="239.7" y1="415.8" x2="239.7" y2="417.5" stroke="#222" stroke-width="0.8" />
<line x1="243.7" y1="415.8" x2="243.7" y2="417.5" stroke="#222" stroke-width="0.8" />
<line x1="246.7" y1="415.8" x2="246.7" y2="417.5" stroke="#222" stroke-width="0.8" />
<line x1="249.2" y1="415.8" x2="249.2" y2="417.5" stroke="#222" stroke-width="0.8" />
<line x1="251.2" y1="415.8" x2="251.2" y2="417.5" stroke="#222" stroke-width="0.8" />
<line x1="252.7" y1="415.8" x2="252.7" y2="417.5" stroke="#222" stroke-width="0.8" />
<line x1="256.7" y1="415.8" x2="256.7" y2="417.5" stroke="#222" stroke-width="0.8" />
<line x1="259.7" y1="415.8" x2="259.7" y2="417.5" stroke="#222" stroke-width="0.8" />
<line x1="262.2" y1="415.8" x2="262.2" y2="417.5" stroke="#222" stroke-width="0.8" />
<line x1="264.2" y1="415.8" x2="264.2" y2="417.5" stroke="#222" stroke-width="0.8" />
<line x1="265.7" y1="415.8" x2="265.7" y2="417.5" stroke="#222" stroke-width="0.8" />
<line x1="269.7" y1="415.8" x2="269.7" y2="417.5" stroke="#222" stroke-width="0.8" />
<line x1="230.4" y1="415.8" x2="230.4" y2="418.4" stroke="#333" stroke-width="0.8" />
<line x1="243" y1="415.8" x2="243" y2="418.4" stroke="#333" stroke-width="0.8" />
<line x1="255.7" y1="415.8" x2="255.7" y2="418.4" stroke="#333" stroke-width="0.8" />
<line x1="267.7" y1="415.8" x2="267.7" y2="418.4" stroke="#333" stroke-width="0.8" />
<rect x="218.7" y="361.8" width="54" height="54" fill="none" stroke="#222" stroke-width="1"/>
<rect x="81.2" y="436.8" width="25" height="23" fill="none" stroke="#262626" stroke-width="0.9"/>
<text x="68.9" y="444.7" font-size="7.3" text-anchor="middle" font-weight="normal" fill="#1a1a1a" stroke="#1a1a1a" stroke-width="0.14" >27</text>
<text x="47" y="443.3" font-size="5.5" text-anchor="start" font-weight="normal" fill="#1a1a1a" stroke="#1a1a1a" stroke-width="0.14" >10<tspan font-size="3.8" dy="-2.3">5</tspan></text>
<line x1="58.3" y1="441.4" x2="60.9" y2="441.4" stroke="#333" stroke-width="0.8" />
<text x="47" y="455" font-size="5.5" text-anchor="start" font-weight="normal" fill="#1a1a1a" stroke="#1a1a1a" stroke-width="0.14" >10<tspan font-size="3.8" dy="-2.3">4</tspan></text>
<line x1="58.3" y1="453.1" x2="60.9" y2="453.1" stroke="#333" stroke-width="0.8" />
<text x="47" y="467.8" font-size="5.5" text-anchor="start" font-weight="normal" fill="#1a1a1a" stroke="#1a1a1a" stroke-width="0.14" >10<tspan font-size="3.8" dy="-2.3">3</tspan></text>
<line x1="58.3" y1="465.9" x2="60.9" y2="465.9" stroke="#333" stroke-width="0.8" />
<text x="47" y="480.6" font-size="5.5" text-anchor="start" font-weight="normal" fill="#1a1a1a" stroke="#1a1a1a" stroke-width="0.14" >10<tspan font-size="3.8" dy="-2.3">2</tspan></text>
<line x1="58.3" y1="478.7" x2="60.9" y2="478.7" stroke="#333" stroke-width="0.8" />
<text x="54.3" y="486.6" font-size="5.5" text-anchor="end" font-weight="normal" fill="#1a1a1a" stroke="#1a1a1a" stroke-width="0.14" >0</text>
<line x1="58.3" y1="484.7" x2="60.9" y2="484.7" stroke="#333" stroke-width="0.8" />
<line x1="59.3" y1="444.8" x2="60.9" y2="444.8" stroke="#222" stroke-width="0.75" />
<line x1="59.3" y1="446.8" x2="60.9" y2="446.8" stroke="#222" stroke-width="0.75" />
<line x1="59.3" y1="448.8" x2="60.9" y2="448.8" stroke="#222" stroke-width="0.75" />
<line x1="59.3" y1="449.8" x2="60.9" y2="449.8" stroke="#222" stroke-width="0.75" />
<line x1="59.3" y1="456.8" x2="60.9" y2="456.8" stroke="#222" stroke-width="0.75" />
<line x1="59.3" y1="459.3" x2="60.9" y2="459.3" stroke="#222" stroke-width="0.75" />
<line x1="59.3" y1="461.3" x2="60.9" y2="461.3" stroke="#222" stroke-width="0.75" />
<line x1="59.3" y1="462.8" x2="60.9" y2="462.8" stroke="#222" stroke-width="0.75" />
<line x1="59.3" y1="469.8" x2="60.9" y2="469.8" stroke="#222" stroke-width="0.75" />
<line x1="59.3" y1="472.3" x2="60.9" y2="472.3" stroke="#222" stroke-width="0.75" />
<line x1="59.3" y1="474.3" x2="60.9" y2="474.3" stroke="#222" stroke-width="0.75" />
<line x1="59.3" y1="475.8" x2="60.9" y2="475.8" stroke="#222" stroke-width="0.75" />
<line x1="59.3" y1="480.8" x2="60.9" y2="480.8" stroke="#222" stroke-width="0.75" />
<line x1="59.3" y1="482.8" x2="60.9" y2="482.8" stroke="#222" stroke-width="0.75" />
<line x1="59.3" y1="486.8" x2="60.9" y2="486.8" stroke="#222" stroke-width="0.75" />
<line x1="59.3" y1="488.8" x2="60.9" y2="488.8" stroke="#222" stroke-width="0.75" />
<text x="65.6" y="502.1" font-size="5.6" text-anchor="middle" font-weight="normal" fill="#1a1a1a" stroke="#1a1a1a" stroke-width="0.14" >0</text>
<text x="69.2" y="502.1" font-size="5.6" text-anchor="start" font-weight="normal" fill="#1a1a1a" stroke="#1a1a1a" stroke-width="0.14" >10<tspan font-size="3.8" dy="-2.3">2</tspan></text>
<text x="81.8" y="502.1" font-size="5.6" text-anchor="start" font-weight="normal" fill="#1a1a1a" stroke="#1a1a1a" stroke-width="0.14" >10<tspan font-size="3.8" dy="-2.3">3</tspan></text>
<text x="94.4" y="502.1" font-size="5.6" text-anchor="start" font-weight="normal" fill="#1a1a1a" stroke="#1a1a1a" stroke-width="0.14" >10<tspan font-size="3.8" dy="-2.3">4</tspan></text>
<text x="106.8" y="502.1" font-size="5.6" text-anchor="start" font-weight="normal" fill="#1a1a1a" stroke="#1a1a1a" stroke-width="0.14" >10<tspan font-size="3.8" dy="-2.3">5</tspan></text>
<line x1="62.9" y1="490.8" x2="62.9" y2="492.5" stroke="#222" stroke-width="0.8" />
<line x1="64.9" y1="490.8" x2="64.9" y2="492.5" stroke="#222" stroke-width="0.8" />
<line x1="66.9" y1="490.8" x2="66.9" y2="492.5" stroke="#222" stroke-width="0.8" />
<line x1="68.9" y1="490.8" x2="68.9" y2="492.5" stroke="#222" stroke-width="0.8" />
<line x1="72.9" y1="490.8" x2="72.9" y2="492.5" stroke="#222" stroke-width="0.8" />
<line x1="75.4" y1="490.8" x2="75.4" y2="492.5" stroke="#222" stroke-width="0.8" />
<line x1="77.9" y1="490.8" x2="77.9" y2="492.5" stroke="#222" stroke-width="0.8" />
<line x1="79.9" y1="490.8" x2="79.9" y2="492.5" stroke="#222" stroke-width="0.8" />
<line x1="81.9" y1="490.8" x2="81.9" y2="492.5" stroke="#222" stroke-width="0.8" />
<line x1="85.9" y1="490.8" x2="85.9" y2="492.5" stroke="#222" stroke-width="0.8" />
<line x1="88.9" y1="490.8" x2="88.9" y2="492.5" stroke="#222" stroke-width="0.8" />
<line x1="91.4" y1="490.8" x2="91.4" y2="492.5" stroke="#222" stroke-width="0.8" />
<line x1="93.4" y1="490.8" x2="93.4" y2="492.5" stroke="#222" stroke-width="0.8" />
<line x1="94.9" y1="490.8" x2="94.9" y2="492.5" stroke="#222" stroke-width="0.8" />
<line x1="98.9" y1="490.8" x2="98.9" y2="492.5" stroke="#222" stroke-width="0.8" />
<line x1="101.9" y1="490.8" x2="101.9" y2="492.5" stroke="#222" stroke-width="0.8" />
<line x1="104.4" y1="490.8" x2="104.4" y2="492.5" stroke="#222" stroke-width="0.8" />
<line x1="106.4" y1="490.8" x2="106.4" y2="492.5" stroke="#222" stroke-width="0.8" />
<line x1="107.9" y1="490.8" x2="107.9" y2="492.5" stroke="#222" stroke-width="0.8" />
<line x1="111.9" y1="490.8" x2="111.9" y2="492.5" stroke="#222" stroke-width="0.8" />
<line x1="72.6" y1="490.8" x2="72.6" y2="493.4" stroke="#333" stroke-width="0.8" />
<line x1="85.2" y1="490.8" x2="85.2" y2="493.4" stroke="#333" stroke-width="0.8" />
<line x1="97.9" y1="490.8" x2="97.9" y2="493.4" stroke="#333" stroke-width="0.8" />
<line x1="109.9" y1="490.8" x2="109.9" y2="493.4" stroke="#333" stroke-width="0.8" />
<rect x="60.9" y="436.8" width="54" height="54" fill="none" stroke="#222" stroke-width="1"/>
<rect x="159.4" y="436.8" width="25" height="23" fill="none" stroke="#262626" stroke-width="0.9"/>
<text x="147.7" y="444.7" font-size="7.3" text-anchor="middle" font-weight="normal" fill="#1a1a1a" stroke="#1a1a1a" stroke-width="0.14" >17</text>
<text x="125.8" y="443.3" font-size="5.5" text-anchor="start" font-weight="normal" fill="#1a1a1a" stroke="#1a1a1a" stroke-width="0.14" >10<tspan font-size="3.8" dy="-2.3">5</tspan></text>
<line x1="137.1" y1="441.4" x2="139.7" y2="441.4" stroke="#333" stroke-width="0.8" />
<text x="125.8" y="455" font-size="5.5" text-anchor="start" font-weight="normal" fill="#1a1a1a" stroke="#1a1a1a" stroke-width="0.14" >10<tspan font-size="3.8" dy="-2.3">4</tspan></text>
<line x1="137.1" y1="453.1" x2="139.7" y2="453.1" stroke="#333" stroke-width="0.8" />
<text x="125.8" y="467.8" font-size="5.5" text-anchor="start" font-weight="normal" fill="#1a1a1a" stroke="#1a1a1a" stroke-width="0.14" >10<tspan font-size="3.8" dy="-2.3">3</tspan></text>
<line x1="137.1" y1="465.9" x2="139.7" y2="465.9" stroke="#333" stroke-width="0.8" />
<text x="125.8" y="480.6" font-size="5.5" text-anchor="start" font-weight="normal" fill="#1a1a1a" stroke="#1a1a1a" stroke-width="0.14" >10<tspan font-size="3.8" dy="-2.3">2</tspan></text>
<line x1="137.1" y1="478.7" x2="139.7" y2="478.7" stroke="#333" stroke-width="0.8" />
<text x="133.1" y="486.6" font-size="5.5" text-anchor="end" font-weight="normal" fill="#1a1a1a" stroke="#1a1a1a" stroke-width="0.14" >0</text>
<line x1="137.1" y1="484.7" x2="139.7" y2="484.7" stroke="#333" stroke-width="0.8" />
<line x1="138.1" y1="444.8" x2="139.7" y2="444.8" stroke="#222" stroke-width="0.75" />
<line x1="138.1" y1="446.8" x2="139.7" y2="446.8" stroke="#222" stroke-width="0.75" />
<line x1="138.1" y1="448.8" x2="139.7" y2="448.8" stroke="#222" stroke-width="0.75" />
<line x1="138.1" y1="449.8" x2="139.7" y2="449.8" stroke="#222" stroke-width="0.75" />
<line x1="138.1" y1="456.8" x2="139.7" y2="456.8" stroke="#222" stroke-width="0.75" />
<line x1="138.1" y1="459.3" x2="139.7" y2="459.3" stroke="#222" stroke-width="0.75" />
<line x1="138.1" y1="461.3" x2="139.7" y2="461.3" stroke="#222" stroke-width="0.75" />
<line x1="138.1" y1="462.8" x2="139.7" y2="462.8" stroke="#222" stroke-width="0.75" />
<line x1="138.1" y1="469.8" x2="139.7" y2="469.8" stroke="#222" stroke-width="0.75" />
<line x1="138.1" y1="472.3" x2="139.7" y2="472.3" stroke="#222" stroke-width="0.75" />
<line x1="138.1" y1="474.3" x2="139.7" y2="474.3" stroke="#222" stroke-width="0.75" />
<line x1="138.1" y1="475.8" x2="139.7" y2="475.8" stroke="#222" stroke-width="0.75" />
<line x1="138.1" y1="480.8" x2="139.7" y2="480.8" stroke="#222" stroke-width="0.75" />
<line x1="138.1" y1="482.8" x2="139.7" y2="482.8" stroke="#222" stroke-width="0.75" />
<line x1="138.1" y1="486.8" x2="139.7" y2="486.8" stroke="#222" stroke-width="0.75" />
<line x1="138.1" y1="488.8" x2="139.7" y2="488.8" stroke="#222" stroke-width="0.75" />
<text x="144.4" y="502.1" font-size="5.6" text-anchor="middle" font-weight="normal" fill="#1a1a1a" stroke="#1a1a1a" stroke-width="0.14" >0</text>
<text x="148" y="502.1" font-size="5.6" text-anchor="start" font-weight="normal" fill="#1a1a1a" stroke="#1a1a1a" stroke-width="0.14" >10<tspan font-size="3.8" dy="-2.3">2</tspan></text>
<text x="160.6" y="502.1" font-size="5.6" text-anchor="start" font-weight="normal" fill="#1a1a1a" stroke="#1a1a1a" stroke-width="0.14" >10<tspan font-size="3.8" dy="-2.3">3</tspan></text>
<text x="173.2" y="502.1" font-size="5.6" text-anchor="start" font-weight="normal" fill="#1a1a1a" stroke="#1a1a1a" stroke-width="0.14" >10<tspan font-size="3.8" dy="-2.3">4</tspan></text>
<text x="185.6" y="502.1" font-size="5.6" text-anchor="start" font-weight="normal" fill="#1a1a1a" stroke="#1a1a1a" stroke-width="0.14" >10<tspan font-size="3.8" dy="-2.3">5</tspan></text>
<line x1="141.7" y1="490.8" x2="141.7" y2="492.5" stroke="#222" stroke-width="0.8" />
<line x1="143.7" y1="490.8" x2="143.7" y2="492.5" stroke="#222" stroke-width="0.8" />
<line x1="145.7" y1="490.8" x2="145.7" y2="492.5" stroke="#222" stroke-width="0.8" />
<line x1="147.7" y1="490.8" x2="147.7" y2="492.5" stroke="#222" stroke-width="0.8" />
<line x1="151.7" y1="490.8" x2="151.7" y2="492.5" stroke="#222" stroke-width="0.8" />
<line x1="154.2" y1="490.8" x2="154.2" y2="492.5" stroke="#222" stroke-width="0.8" />
<line x1="156.7" y1="490.8" x2="156.7" y2="492.5" stroke="#222" stroke-width="0.8" />
<line x1="158.7" y1="490.8" x2="158.7" y2="492.5" stroke="#222" stroke-width="0.8" />
<line x1="160.7" y1="490.8" x2="160.7" y2="492.5" stroke="#222" stroke-width="0.8" />
<line x1="164.7" y1="490.8" x2="164.7" y2="492.5" stroke="#222" stroke-width="0.8" />
<line x1="167.7" y1="490.8" x2="167.7" y2="492.5" stroke="#222" stroke-width="0.8" />
<line x1="170.2" y1="490.8" x2="170.2" y2="492.5" stroke="#222" stroke-width="0.8" />
<line x1="172.2" y1="490.8" x2="172.2" y2="492.5" stroke="#222" stroke-width="0.8" />
<line x1="173.7" y1="490.8" x2="173.7" y2="492.5" stroke="#222" stroke-width="0.8" />
<line x1="177.7" y1="490.8" x2="177.7" y2="492.5" stroke="#222" stroke-width="0.8" />
<line x1="180.7" y1="490.8" x2="180.7" y2="492.5" stroke="#222" stroke-width="0.8" />
<line x1="183.2" y1="490.8" x2="183.2" y2="492.5" stroke="#222" stroke-width="0.8" />
<line x1="185.2" y1="490.8" x2="185.2" y2="492.5" stroke="#222" stroke-width="0.8" />
<line x1="186.7" y1="490.8" x2="186.7" y2="492.5" stroke="#222" stroke-width="0.8" />
<line x1="190.7" y1="490.8" x2="190.7" y2="492.5" stroke="#222" stroke-width="0.8" />
<line x1="151.4" y1="490.8" x2="151.4" y2="493.4" stroke="#333" stroke-width="0.8" />
<line x1="164" y1="490.8" x2="164" y2="493.4" stroke="#333" stroke-width="0.8" />
<line x1="176.7" y1="490.8" x2="176.7" y2="493.4" stroke="#333" stroke-width="0.8" />
<line x1="188.7" y1="490.8" x2="188.7" y2="493.4" stroke="#333" stroke-width="0.8" />
<rect x="139.7" y="436.8" width="54" height="54" fill="none" stroke="#222" stroke-width="1"/>
<rect x="238.4" y="436.8" width="25" height="23" fill="none" stroke="#262626" stroke-width="0.9"/>
<text x="226.7" y="444.7" font-size="7.3" text-anchor="middle" font-weight="normal" fill="#1a1a1a" stroke="#1a1a1a" stroke-width="0.14" >6.9</text>
<text x="204.8" y="443.3" font-size="5.5" text-anchor="start" font-weight="normal" fill="#1a1a1a" stroke="#1a1a1a" stroke-width="0.14" >10<tspan font-size="3.8" dy="-2.3">5</tspan></text>
<line x1="216.1" y1="441.4" x2="218.7" y2="441.4" stroke="#333" stroke-width="0.8" />
<text x="204.8" y="455" font-size="5.5" text-anchor="start" font-weight="normal" fill="#1a1a1a" stroke="#1a1a1a" stroke-width="0.14" >10<tspan font-size="3.8" dy="-2.3">4</tspan></text>
<line x1="216.1" y1="453.1" x2="218.7" y2="453.1" stroke="#333" stroke-width="0.8" />
<text x="204.8" y="467.8" font-size="5.5" text-anchor="start" font-weight="normal" fill="#1a1a1a" stroke="#1a1a1a" stroke-width="0.14" >10<tspan font-size="3.8" dy="-2.3">3</tspan></text>
<line x1="216.1" y1="465.9" x2="218.7" y2="465.9" stroke="#333" stroke-width="0.8" />
<text x="204.8" y="480.6" font-size="5.5" text-anchor="start" font-weight="normal" fill="#1a1a1a" stroke="#1a1a1a" stroke-width="0.14" >10<tspan font-size="3.8" dy="-2.3">2</tspan></text>
<line x1="216.1" y1="478.7" x2="218.7" y2="478.7" stroke="#333" stroke-width="0.8" />
<text x="212.1" y="486.6" font-size="5.5" text-anchor="end" font-weight="normal" fill="#1a1a1a" stroke="#1a1a1a" stroke-width="0.14" >0</text>
<line x1="216.1" y1="484.7" x2="218.7" y2="484.7" stroke="#333" stroke-width="0.8" />
<line x1="217.1" y1="444.8" x2="218.7" y2="444.8" stroke="#222" stroke-width="0.75" />
<line x1="217.1" y1="446.8" x2="218.7" y2="446.8" stroke="#222" stroke-width="0.75" />
<line x1="217.1" y1="448.8" x2="218.7" y2="448.8" stroke="#222" stroke-width="0.75" />
<line x1="217.1" y1="449.8" x2="218.7" y2="449.8" stroke="#222" stroke-width="0.75" />
<line x1="217.1" y1="456.8" x2="218.7" y2="456.8" stroke="#222" stroke-width="0.75" />
<line x1="217.1" y1="459.3" x2="218.7" y2="459.3" stroke="#222" stroke-width="0.75" />
<line x1="217.1" y1="461.3" x2="218.7" y2="461.3" stroke="#222" stroke-width="0.75" />
<line x1="217.1" y1="462.8" x2="218.7" y2="462.8" stroke="#222" stroke-width="0.75" />
<line x1="217.1" y1="469.8" x2="218.7" y2="469.8" stroke="#222" stroke-width="0.75" />
<line x1="217.1" y1="472.3" x2="218.7" y2="472.3" stroke="#222" stroke-width="0.75" />
<line x1="217.1" y1="474.3" x2="218.7" y2="474.3" stroke="#222" stroke-width="0.75" />
<line x1="217.1" y1="475.8" x2="218.7" y2="475.8" stroke="#222" stroke-width="0.75" />
<line x1="217.1" y1="480.8" x2="218.7" y2="480.8" stroke="#222" stroke-width="0.75" />
<line x1="217.1" y1="482.8" x2="218.7" y2="482.8" stroke="#222" stroke-width="0.75" />
<line x1="217.1" y1="486.8" x2="218.7" y2="486.8" stroke="#222" stroke-width="0.75" />
<line x1="217.1" y1="488.8" x2="218.7" y2="488.8" stroke="#222" stroke-width="0.75" />
<text x="223.4" y="502.1" font-size="5.6" text-anchor="middle" font-weight="normal" fill="#1a1a1a" stroke="#1a1a1a" stroke-width="0.14" >0</text>
<text x="227" y="502.1" font-size="5.6" text-anchor="start" font-weight="normal" fill="#1a1a1a" stroke="#1a1a1a" stroke-width="0.14" >10<tspan font-size="3.8" dy="-2.3">2</tspan></text>
<text x="239.6" y="502.1" font-size="5.6" text-anchor="start" font-weight="normal" fill="#1a1a1a" stroke="#1a1a1a" stroke-width="0.14" >10<tspan font-size="3.8" dy="-2.3">3</tspan></text>
<text x="252.2" y="502.1" font-size="5.6" text-anchor="start" font-weight="normal" fill="#1a1a1a" stroke="#1a1a1a" stroke-width="0.14" >10<tspan font-size="3.8" dy="-2.3">4</tspan></text>
<text x="264.6" y="502.1" font-size="5.6" text-anchor="start" font-weight="normal" fill="#1a1a1a" stroke="#1a1a1a" stroke-width="0.14" >10<tspan font-size="3.8" dy="-2.3">5</tspan></text>
<line x1="220.7" y1="490.8" x2="220.7" y2="492.5" stroke="#222" stroke-width="0.8" />
<line x1="222.7" y1="490.8" x2="222.7" y2="492.5" stroke="#222" stroke-width="0.8" />
<line x1="224.7" y1="490.8" x2="224.7" y2="492.5" stroke="#222" stroke-width="0.8" />
<line x1="226.7" y1="490.8" x2="226.7" y2="492.5" stroke="#222" stroke-width="0.8" />
<line x1="230.7" y1="490.8" x2="230.7" y2="492.5" stroke="#222" stroke-width="0.8" />
<line x1="233.2" y1="490.8" x2="233.2" y2="492.5" stroke="#222" stroke-width="0.8" />
<line x1="235.7" y1="490.8" x2="235.7" y2="492.5" stroke="#222" stroke-width="0.8" />
<line x1="237.7" y1="490.8" x2="237.7" y2="492.5" stroke="#222" stroke-width="0.8" />
<line x1="239.7" y1="490.8" x2="239.7" y2="492.5" stroke="#222" stroke-width="0.8" />
<line x1="243.7" y1="490.8" x2="243.7" y2="492.5" stroke="#222" stroke-width="0.8" />
<line x1="246.7" y1="490.8" x2="246.7" y2="492.5" stroke="#222" stroke-width="0.8" />
<line x1="249.2" y1="490.8" x2="249.2" y2="492.5" stroke="#222" stroke-width="0.8" />
<line x1="251.2" y1="490.8" x2="251.2" y2="492.5" stroke="#222" stroke-width="0.8" />
<line x1="252.7" y1="490.8" x2="252.7" y2="492.5" stroke="#222" stroke-width="0.8" />
<line x1="256.7" y1="490.8" x2="256.7" y2="492.5" stroke="#222" stroke-width="0.8" />
<line x1="259.7" y1="490.8" x2="259.7" y2="492.5" stroke="#222" stroke-width="0.8" />
<line x1="262.2" y1="490.8" x2="262.2" y2="492.5" stroke="#222" stroke-width="0.8" />
<line x1="264.2" y1="490.8" x2="264.2" y2="492.5" stroke="#222" stroke-width="0.8" />
<line x1="265.7" y1="490.8" x2="265.7" y2="492.5" stroke="#222" stroke-width="0.8" />
<line x1="269.7" y1="490.8" x2="269.7" y2="492.5" stroke="#222" stroke-width="0.8" />
<line x1="230.4" y1="490.8" x2="230.4" y2="493.4" stroke="#333" stroke-width="0.8" />
<line x1="243" y1="490.8" x2="243" y2="493.4" stroke="#333" stroke-width="0.8" />
<line x1="255.7" y1="490.8" x2="255.7" y2="493.4" stroke="#333" stroke-width="0.8" />
<line x1="267.7" y1="490.8" x2="267.7" y2="493.4" stroke="#333" stroke-width="0.8" />
<rect x="218.7" y="436.8" width="54" height="54" fill="none" stroke="#222" stroke-width="1"/>
<line x1="320.5" y1="51.8" x2="320.5" y2="129" stroke="#111" stroke-width="1" />
<line x1="320" y1="128.5" x2="394" y2="128.5" stroke="#111" stroke-width="1" />
<line x1="317.2" y1="128" x2="320.5" y2="128" stroke="#111" stroke-width="0.9" />
<text x="314.2" y="130.6" font-size="7.3" text-anchor="end" font-weight="normal" fill="#1a1a1a" stroke="#1a1a1a" stroke-width="0.14" >0</text>
<line x1="317.2" y1="103.33" x2="320.5" y2="103.33" stroke="#111" stroke-width="0.9" />
<text x="314.2" y="105.93" font-size="7.3" text-anchor="end" font-weight="normal" fill="#1a1a1a" stroke="#1a1a1a" stroke-width="0.14" >25</text>
<line x1="317.2" y1="78.67" x2="320.5" y2="78.67" stroke="#111" stroke-width="0.9" />
<text x="314.2" y="81.27" font-size="7.3" text-anchor="end" font-weight="normal" fill="#1a1a1a" stroke="#1a1a1a" stroke-width="0.14" >50</text>
<line x1="317.2" y1="54" x2="320.5" y2="54" stroke="#111" stroke-width="0.9" />
<text x="314.2" y="56.6" font-size="7.3" text-anchor="end" font-weight="normal" fill="#1a1a1a" stroke="#1a1a1a" stroke-width="0.14" >75</text>
<line x1="338.3" y1="128" x2="338.3" y2="130.6" stroke="#111" stroke-width="0.9" />
<line x1="356.5" y1="128" x2="356.5" y2="130.6" stroke="#111" stroke-width="0.9" />
<line x1="374.5" y1="128" x2="374.5" y2="130.6" stroke="#111" stroke-width="0.9" />
<text x="0" y="0" font-size="8.3" text-anchor="middle" font-weight="normal" fill="#1a1a1a" stroke="#1a1a1a" stroke-width="0.4" textLength="33.5" lengthAdjust="spacingAndGlyphs" transform="translate(295.1,89.9) rotate(-90)">% in spleen</text>
<polygon points="334.05,73.54 338.75,73.54 336.4,69.46" fill="#14328a"/>
<polygon points="329.45,76.64 334.15,76.64 331.8,72.56" fill="#14328a"/>
<polygon points="334.15,80.84 338.85,80.84 336.5,76.76" fill="#14328a"/>
<polygon points="338.45,82.84 343.15,82.84 340.8,78.76" fill="#14328a"/>
<polygon points="343.05,81.64 347.75,81.64 345.4,77.56" fill="#14328a"/>
<polygon points="329.45,84.54 334.15,84.54 331.8,80.46" fill="#14328a"/>
<line x1="329.1" y1="77.2" x2="347.5" y2="77.2" stroke="#111" stroke-width="1.1" />
<line x1="338.3" y1="75.4" x2="338.3" y2="79" stroke="#111" stroke-width="0.9" />
<line x1="334.1" y1="75.4" x2="342.5" y2="75.4" stroke="#111" stroke-width="0.9" />
<line x1="334.1" y1="79" x2="342.5" y2="79" stroke="#111" stroke-width="0.9" />
<circle cx="350.1" cy="123.5" r="2.3" fill="#60ae2c"/>
<circle cx="352.5" cy="120.6" r="2.3" fill="#60ae2c"/>
<circle cx="358.8" cy="117.7" r="2.3" fill="#60ae2c"/>
<circle cx="356" cy="121" r="2.3" fill="#60ae2c"/>
<circle cx="363.1" cy="123.5" r="2.3" fill="#60ae2c"/>
<circle cx="355.9" cy="124.4" r="2.3" fill="#60ae2c"/>
<circle cx="360.5" cy="124.2" r="2.3" fill="#60ae2c"/>
<line x1="352.1" y1="122.5" x2="360.9" y2="122.5" stroke="#111" stroke-width="1.1" />
<line x1="356.5" y1="121.6" x2="356.5" y2="123.4" stroke="#111" stroke-width="0.9" />
<line x1="353.5" y1="121.6" x2="359.5" y2="121.6" stroke="#111" stroke-width="0.9" />
<line x1="353.5" y1="123.4" x2="359.5" y2="123.4" stroke="#111" stroke-width="0.9" />
<rect x="370.4" y="115.4" width="4.6" height="4.6" fill="#ba0530" stroke="#f4c8d0" stroke-width="0.35"/>
<rect x="366.5" y="118.3" width="4.6" height="4.6" fill="#ba0530" stroke="#f4c8d0" stroke-width="0.35"/>
<rect x="365.6" y="121.3" width="4.6" height="4.6" fill="#ba0530" stroke="#f4c8d0" stroke-width="0.35"/>
<rect x="374.2" y="118.3" width="4.6" height="4.6" fill="#ba0530" stroke="#f4c8d0" stroke-width="0.35"/>
<rect x="379" y="120.7" width="4.6" height="4.6" fill="#ba0530" stroke="#f4c8d0" stroke-width="0.35"/>
<rect x="377.1" y="123.3" width="4.6" height="4.6" fill="#ba0530" stroke="#f4c8d0" stroke-width="0.35"/>
<rect x="371.2" y="121.7" width="4.6" height="4.6" fill="#ba0530" stroke="#f4c8d0" stroke-width="0.35"/>
<line x1="370.5" y1="122.3" x2="378.5" y2="122.3" stroke="#111" stroke-width="1.1" />
<line x1="374.5" y1="121.2" x2="374.5" y2="123.4" stroke="#111" stroke-width="0.9" />
<line x1="371.5" y1="121.2" x2="377.5" y2="121.2" stroke="#111" stroke-width="0.9" />
<line x1="371.5" y1="123.4" x2="377.5" y2="123.4" stroke="#111" stroke-width="0.9" />
<polyline points="338.3,53.2 338.3,50 373.5,50 373.5,53.2" fill="none" stroke="#222" stroke-width="0.9"/>
<g fill="#000"><rect x="351.2" y="45.1" width="1.6" height="1.6"/><rect x="353.8" y="45.1" width="1.6" height="1.6"/><rect x="356.4" y="45.1" width="1.6" height="1.6"/><rect x="359" y="45.1" width="1.6" height="1.6"/></g>
<polyline points="338.3,69.6 338.3,66.4 355.8,66.4 355.8,69.6" fill="none" stroke="#222" stroke-width="0.9"/>
<g fill="#000"><rect x="342.35" y="61.7" width="1.6" height="1.6"/><rect x="344.95" y="61.7" width="1.6" height="1.6"/><rect x="347.55" y="61.7" width="1.6" height="1.6"/><rect x="350.15" y="61.7" width="1.6" height="1.6"/></g>
<line x1="320.5" y1="158.5" x2="320.5" y2="232" stroke="#111" stroke-width="1" />
<line x1="320" y1="231.5" x2="392" y2="231.5" stroke="#111" stroke-width="1" />
<line x1="317.2" y1="231" x2="320.5" y2="231" stroke="#111" stroke-width="0.9" />
<text x="314.2" y="233.6" font-size="7.3" text-anchor="end" font-weight="normal" fill="#1a1a1a" stroke="#1a1a1a" stroke-width="0.14" >0</text>
<line x1="317.2" y1="213.45" x2="320.5" y2="213.45" stroke="#111" stroke-width="0.9" />
<text x="314.2" y="216.05" font-size="7.3" text-anchor="end" font-weight="normal" fill="#1a1a1a" stroke="#1a1a1a" stroke-width="0.14" >25</text>
<line x1="317.2" y1="195.9" x2="320.5" y2="195.9" stroke="#111" stroke-width="0.9" />
<text x="314.2" y="198.5" font-size="7.3" text-anchor="end" font-weight="normal" fill="#1a1a1a" stroke="#1a1a1a" stroke-width="0.14" >50</text>
<line x1="317.2" y1="178.35" x2="320.5" y2="178.35" stroke="#111" stroke-width="0.9" />
<text x="314.2" y="180.95" font-size="7.3" text-anchor="end" font-weight="normal" fill="#1a1a1a" stroke="#1a1a1a" stroke-width="0.14" >75</text>
<line x1="317.2" y1="160.8" x2="320.5" y2="160.8" stroke="#111" stroke-width="0.9" />
<text x="314.2" y="163.4" font-size="7.3" text-anchor="end" font-weight="normal" fill="#1a1a1a" stroke="#1a1a1a" stroke-width="0.14" >100</text>
<line x1="337.8" y1="231" x2="337.8" y2="233.6" stroke="#111" stroke-width="0.9" />
<line x1="354.8" y1="231" x2="354.8" y2="233.6" stroke="#111" stroke-width="0.9" />
<line x1="373.3" y1="231" x2="373.3" y2="233.6" stroke="#111" stroke-width="0.9" />
<text x="0" y="0" font-size="8.3" text-anchor="middle" font-weight="normal" fill="#1a1a1a" stroke="#1a1a1a" stroke-width="0.4" textLength="26.4" lengthAdjust="spacingAndGlyphs" transform="translate(294.8,194.75) rotate(-90)">% in liver</text>
<polygon points="335.45,174.44 340.15,174.44 337.8,170.36" fill="#14328a"/>
<polygon points="329.05,176.74 333.75,176.74 331.4,172.66" fill="#14328a"/>
<polygon points="342.55,176.74 347.25,176.74 344.9,172.66" fill="#14328a"/>
<polygon points="335.45,186.54 340.15,186.54 337.8,182.46" fill="#14328a"/>
<polygon points="342.55,187.84 347.25,187.84 344.9,183.76" fill="#14328a"/>
<polygon points="329.05,191.24 333.75,191.24 331.4,187.16" fill="#14328a"/>
<line x1="329.1" y1="179.5" x2="346.5" y2="179.5" stroke="#111" stroke-width="1.1" />
<line x1="337.8" y1="177.1" x2="337.8" y2="182.4" stroke="#111" stroke-width="0.9" />
<line x1="334.1" y1="177.1" x2="341.5" y2="177.1" stroke="#111" stroke-width="0.9" />
<line x1="334.1" y1="182.4" x2="341.5" y2="182.4" stroke="#111" stroke-width="0.9" />
<circle cx="348.9" cy="220.7" r="2.3" fill="#60ae2c"/>
<circle cx="351.2" cy="229.4" r="2.3" fill="#60ae2c"/>
<circle cx="355.9" cy="221.6" r="2.3" fill="#60ae2c"/>
<circle cx="361.2" cy="222.2" r="2.3" fill="#60ae2c"/>
<circle cx="358.6" cy="229.4" r="2.3" fill="#60ae2c"/>
<circle cx="354.8" cy="229.4" r="2.3" fill="#60ae2c"/>
<circle cx="352.5" cy="225" r="2.3" fill="#60ae2c"/>
<line x1="350.8" y1="225.4" x2="358.8" y2="225.4" stroke="#111" stroke-width="1.1" />
<line x1="354.8" y1="224" x2="354.8" y2="227" stroke="#111" stroke-width="0.9" />
<line x1="351.8" y1="224" x2="357.8" y2="224" stroke="#111" stroke-width="0.9" />
<line x1="351.8" y1="227" x2="357.8" y2="227" stroke="#111" stroke-width="0.9" />
<rect x="364.3" y="222" width="4.6" height="4.6" fill="#ba0530" stroke="#f4c8d0" stroke-width="0.35"/>
<rect x="364.3" y="226.1" width="4.6" height="4.6" fill="#ba0530" stroke="#f4c8d0" stroke-width="0.35"/>
<rect x="371" y="219.2" width="4.6" height="4.6" fill="#ba0530" stroke="#f4c8d0" stroke-width="0.35"/>
<rect x="371" y="226.1" width="4.6" height="4.6" fill="#ba0530" stroke="#f4c8d0" stroke-width="0.35"/>
<rect x="377.1" y="216.4" width="4.6" height="4.6" fill="#ba0530" stroke="#f4c8d0" stroke-width="0.35"/>
<rect x="377.1" y="220.5" width="4.6" height="4.6" fill="#ba0530" stroke="#f4c8d0" stroke-width="0.35"/>
<rect x="377.1" y="224.9" width="4.6" height="4.6" fill="#ba0530" stroke="#f4c8d0" stroke-width="0.35"/>
<line x1="369.3" y1="226" x2="377.3" y2="226" stroke="#111" stroke-width="1.1" />
<line x1="373.3" y1="224.5" x2="373.3" y2="227.5" stroke="#111" stroke-width="0.9" />
<line x1="370.3" y1="224.5" x2="376.3" y2="224.5" stroke="#111" stroke-width="0.9" />
<line x1="370.3" y1="227.5" x2="376.3" y2="227.5" stroke="#111" stroke-width="0.9" />
<polyline points="337.3,156.6 337.3,153.4 372.4,153.4 372.4,156.6" fill="none" stroke="#222" stroke-width="0.9"/>
<g fill="#000"><rect x="350.15" y="148.9" width="1.6" height="1.6"/><rect x="352.75" y="148.9" width="1.6" height="1.6"/><rect x="355.35" y="148.9" width="1.6" height="1.6"/><rect x="357.95" y="148.9" width="1.6" height="1.6"/></g>
<polyline points="337.3,169.3 337.3,166.1 354.5,166.1 354.5,169.3" fill="none" stroke="#222" stroke-width="0.9"/>
<g fill="#000"><rect x="341.2" y="161.2" width="1.6" height="1.6"/><rect x="343.8" y="161.2" width="1.6" height="1.6"/><rect x="346.4" y="161.2" width="1.6" height="1.6"/><rect x="349" y="161.2" width="1.6" height="1.6"/></g>
<line x1="442" y1="156.8" x2="442" y2="231" stroke="#111" stroke-width="1" />
<line x1="441.5" y1="230.5" x2="513" y2="230.5" stroke="#111" stroke-width="1" />
<line x1="438.7" y1="230.2" x2="442" y2="230.2" stroke="#111" stroke-width="0.9" />
<text x="435.7" y="232.8" font-size="7.3" text-anchor="end" font-weight="normal" fill="#1a1a1a" stroke="#1a1a1a" stroke-width="0.14" >0</text>
<line x1="438.7" y1="212.55" x2="442" y2="212.55" stroke="#111" stroke-width="0.9" />
<text x="435.7" y="215.15" font-size="7.3" text-anchor="end" font-weight="normal" fill="#1a1a1a" stroke="#1a1a1a" stroke-width="0.14" >25</text>
<line x1="438.7" y1="194.9" x2="442" y2="194.9" stroke="#111" stroke-width="0.9" />
<text x="435.7" y="197.5" font-size="7.3" text-anchor="end" font-weight="normal" fill="#1a1a1a" stroke="#1a1a1a" stroke-width="0.14" >50</text>
<line x1="438.7" y1="177.25" x2="442" y2="177.25" stroke="#111" stroke-width="0.9" />
<text x="435.7" y="179.85" font-size="7.3" text-anchor="end" font-weight="normal" fill="#1a1a1a" stroke="#1a1a1a" stroke-width="0.14" >75</text>
<line x1="438.7" y1="159.6" x2="442" y2="159.6" stroke="#111" stroke-width="0.9" />
<text x="435.7" y="162.2" font-size="7.3" text-anchor="end" font-weight="normal" fill="#1a1a1a" stroke="#1a1a1a" stroke-width="0.14" >100</text>
<line x1="459.6" y1="230.2" x2="459.6" y2="232.8" stroke="#111" stroke-width="0.9" />
<line x1="477.3" y1="230.2" x2="477.3" y2="232.8" stroke="#111" stroke-width="0.9" />
<line x1="494.8" y1="230.2" x2="494.8" y2="232.8" stroke="#111" stroke-width="0.9" />
<text x="0" y="0" font-size="8.3" text-anchor="middle" font-weight="normal" fill="#1a1a1a" stroke="#1a1a1a" stroke-width="0.4" textLength="28.9" lengthAdjust="spacingAndGlyphs" transform="translate(417.3,193.5) rotate(-90)">% in mLN</text>
<polygon points="459.85,163.94 464.55,163.94 462.2,159.86" fill="#14328a"/>
<polygon points="455.25,166.24 459.95,166.24 457.6,162.16" fill="#14328a"/>
<polygon points="454.95,177.04 459.65,177.04 457.3,172.96" fill="#14328a"/>
<polygon points="451.05,180.84 455.75,180.84 453.4,176.76" fill="#14328a"/>
<polygon points="459.55,180.34 464.25,180.34 461.9,176.26" fill="#14328a"/>
<polygon points="464.15,177.74 468.85,177.74 466.5,173.66" fill="#14328a"/>
<line x1="450.6" y1="172.2" x2="468.6" y2="172.2" stroke="#111" stroke-width="1.1" />
<line x1="459.6" y1="169.3" x2="459.6" y2="175" stroke="#111" stroke-width="0.9" />
<line x1="455.4" y1="169.3" x2="463.8" y2="169.3" stroke="#111" stroke-width="0.9" />
<line x1="455.4" y1="175" x2="463.8" y2="175" stroke="#111" stroke-width="0.9" />
<circle cx="470.8" cy="210.3" r="2.3" fill="#60ae2c"/>
<circle cx="477.3" cy="208.8" r="2.3" fill="#60ae2c"/>
<circle cx="484.2" cy="210.3" r="2.3" fill="#60ae2c"/>
<circle cx="474.2" cy="220.3" r="2.3" fill="#60ae2c"/>
<circle cx="480.6" cy="219.8" r="2.3" fill="#60ae2c"/>
<line x1="473.1" y1="214.1" x2="481.5" y2="214.1" stroke="#111" stroke-width="1.1" />
<line x1="477.3" y1="212.1" x2="477.3" y2="216.1" stroke="#111" stroke-width="0.9" />
<line x1="473.8" y1="212.1" x2="480.8" y2="212.1" stroke="#111" stroke-width="0.9" />
<line x1="473.8" y1="216.1" x2="480.8" y2="216.1" stroke="#111" stroke-width="0.9" />
<rect x="492.6" y="181.1" width="4.6" height="4.6" fill="#ba0530" stroke="#f4c8d0" stroke-width="0.35"/>
<rect x="486.2" y="201.9" width="4.6" height="4.6" fill="#ba0530" stroke="#f4c8d0" stroke-width="0.35"/>
<rect x="486.2" y="211.5" width="4.6" height="4.6" fill="#ba0530" stroke="#f4c8d0" stroke-width="0.35"/>
<rect x="492.6" y="210.3" width="4.6" height="4.6" fill="#ba0530" stroke="#f4c8d0" stroke-width="0.35"/>
<rect x="499.2" y="210.3" width="4.6" height="4.6" fill="#ba0530" stroke="#f4c8d0" stroke-width="0.35"/>
<line x1="490.7" y1="205.4" x2="499.1" y2="205.4" stroke="#111" stroke-width="1.1" />
<line x1="494.9" y1="200.8" x2="494.9" y2="210" stroke="#111" stroke-width="0.9" />
<line x1="490.9" y1="200.8" x2="498.9" y2="200.8" stroke="#111" stroke-width="0.9" />
<line x1="490.9" y1="210" x2="498.9" y2="210" stroke="#111" stroke-width="0.9" />
<polyline points="460.4,143 460.4,139.8 494.6,139.8 494.6,143" fill="none" stroke="#222" stroke-width="0.9"/>
<g fill="#000"><rect x="472.8" y="135.5" width="1.6" height="1.6"/><rect x="475.4" y="135.5" width="1.6" height="1.6"/><rect x="478" y="135.5" width="1.6" height="1.6"/><rect x="480.6" y="135.5" width="1.6" height="1.6"/></g>
<polyline points="459.4,157.8 459.4,154.6 476.7,154.6 476.7,157.8" fill="none" stroke="#222" stroke-width="0.9"/>
<g fill="#000"><rect x="463.35" y="150" width="1.6" height="1.6"/><rect x="465.95" y="150" width="1.6" height="1.6"/><rect x="468.55" y="150" width="1.6" height="1.6"/><rect x="471.15" y="150" width="1.6" height="1.6"/></g>
<line x1="320.5" y1="314.2" x2="320.5" y2="390" stroke="#111" stroke-width="1" />
<line x1="320" y1="389.5" x2="394" y2="389.5" stroke="#111" stroke-width="1" />
<line x1="317.2" y1="389.3" x2="320.5" y2="389.3" stroke="#111" stroke-width="0.9" />
<text x="314.2" y="391.9" font-size="7.3" text-anchor="end" font-weight="normal" fill="#1a1a1a" stroke="#1a1a1a" stroke-width="0.14" >0</text>
<line x1="317.2" y1="371.3" x2="320.5" y2="371.3" stroke="#111" stroke-width="0.9" />
<text x="314.2" y="373.9" font-size="7.3" text-anchor="end" font-weight="normal" fill="#1a1a1a" stroke="#1a1a1a" stroke-width="0.14" >25</text>
<line x1="317.2" y1="353.3" x2="320.5" y2="353.3" stroke="#111" stroke-width="0.9" />
<text x="314.2" y="355.9" font-size="7.3" text-anchor="end" font-weight="normal" fill="#1a1a1a" stroke="#1a1a1a" stroke-width="0.14" >50</text>
<line x1="317.2" y1="335.3" x2="320.5" y2="335.3" stroke="#111" stroke-width="0.9" />
<text x="314.2" y="337.9" font-size="7.3" text-anchor="end" font-weight="normal" fill="#1a1a1a" stroke="#1a1a1a" stroke-width="0.14" >75</text>
<line x1="317.2" y1="317.3" x2="320.5" y2="317.3" stroke="#111" stroke-width="0.9" />
<text x="314.2" y="319.9" font-size="7.3" text-anchor="end" font-weight="normal" fill="#1a1a1a" stroke="#1a1a1a" stroke-width="0.14" >100</text>
<line x1="338.4" y1="389.3" x2="338.4" y2="391.9" stroke="#111" stroke-width="0.9" />
<line x1="356.7" y1="389.3" x2="356.7" y2="391.9" stroke="#111" stroke-width="0.9" />
<line x1="374.7" y1="389.3" x2="374.7" y2="391.9" stroke="#111" stroke-width="0.9" />
<text x="0" y="0" font-size="8.3" text-anchor="middle" font-weight="normal" fill="#1a1a1a" stroke="#1a1a1a" stroke-width="0.4" textLength="33.5" lengthAdjust="spacingAndGlyphs" transform="translate(295.1,351.75) rotate(-90)">% in spleen</text>
<polygon points="329.55,348.54 334.25,348.54 331.9,344.46" fill="#14328a"/>
<polygon points="332.85,348.54 337.55,348.54 335.2,344.46" fill="#14328a"/>
<polygon points="336.25,348.54 340.95,348.54 338.6,344.46" fill="#14328a"/>
<polygon points="339.75,348.54 344.45,348.54 342.1,344.46" fill="#14328a"/>
<polygon points="343.15,348.54 347.85,348.54 345.5,344.46" fill="#14328a"/>
<polygon points="342.45,353.74 347.15,353.74 344.8,349.66" fill="#14328a"/>
<line x1="329.4" y1="347.5" x2="347.4" y2="347.5" stroke="#111" stroke-width="1.1" />
<line x1="338.4" y1="347" x2="338.4" y2="348" stroke="#111" stroke-width="0.9" />
<line x1="335.4" y1="347" x2="341.4" y2="347" stroke="#111" stroke-width="0.9" />
<line x1="335.4" y1="348" x2="341.4" y2="348" stroke="#111" stroke-width="0.9" />
<circle cx="354.8" cy="349.7" r="2.3" fill="#60ae2c"/>
<circle cx="349.8" cy="353.2" r="2.3" fill="#60ae2c"/>
<circle cx="363.7" cy="352.5" r="2.3" fill="#60ae2c"/>
<circle cx="359" cy="352.8" r="2.3" fill="#60ae2c"/>
<circle cx="354.4" cy="361.3" r="2.3" fill="#60ae2c"/>
<circle cx="359.4" cy="361.3" r="2.3" fill="#60ae2c"/>
<line x1="352.1" y1="354.6" x2="361.3" y2="354.6" stroke="#111" stroke-width="1.1" />
<line x1="356.7" y1="352.9" x2="356.7" y2="356.9" stroke="#111" stroke-width="0.9" />
<line x1="353.2" y1="352.9" x2="360.2" y2="352.9" stroke="#111" stroke-width="0.9" />
<line x1="353.2" y1="356.9" x2="360.2" y2="356.9" stroke="#111" stroke-width="0.9" />
<rect x="366" y="366.2" width="4.6" height="4.6" fill="#ba0530" stroke="#f4c8d0" stroke-width="0.35"/>
<rect x="370.6" y="365" width="4.6" height="4.6" fill="#ba0530" stroke="#f4c8d0" stroke-width="0.35"/>
<rect x="375.2" y="367.3" width="4.6" height="4.6" fill="#ba0530" stroke="#f4c8d0" stroke-width="0.35"/>
<rect x="379.2" y="365.4" width="4.6" height="4.6" fill="#ba0530" stroke="#f4c8d0" stroke-width="0.35"/>
<line x1="370.4" y1="368.5" x2="379" y2="368.5" stroke="#111" stroke-width="1.1" />
<line x1="374.7" y1="368" x2="374.7" y2="369" stroke="#111" stroke-width="0.9" />
<line x1="372.7" y1="368" x2="376.7" y2="368" stroke="#111" stroke-width="0.9" />
<line x1="372.7" y1="369" x2="376.7" y2="369" stroke="#111" stroke-width="0.9" />
<polyline points="338.4,317.4 338.4,314.2 373.5,314.2 373.5,317.4" fill="none" stroke="#222" stroke-width="0.9"/>
<g fill="#000"><rect x="351.25" y="310" width="1.6" height="1.6"/><rect x="353.85" y="310" width="1.6" height="1.6"/><rect x="356.45" y="310" width="1.6" height="1.6"/><rect x="359.05" y="310" width="1.6" height="1.6"/></g>
<polyline points="336.6,331.3 336.6,328.1 354.4,328.1 354.4,331.3" fill="none" stroke="#222" stroke-width="0.9"/>
<g fill="#000"><rect x="343.4" y="323.8" width="1.6" height="1.6"/><rect x="346" y="323.8" width="1.6" height="1.6"/></g>
<polyline points="355.2,344.5 355.2,341.3 373.5,341.3 373.5,344.5" fill="none" stroke="#222" stroke-width="0.9"/>
<g fill="#000"><rect x="359.65" y="336.5" width="1.6" height="1.6"/><rect x="362.25" y="336.5" width="1.6" height="1.6"/><rect x="364.85" y="336.5" width="1.6" height="1.6"/><rect x="367.45" y="336.5" width="1.6" height="1.6"/></g>
<line x1="320.5" y1="410.4" x2="320.5" y2="487" stroke="#111" stroke-width="1" />
<line x1="320" y1="486.5" x2="394" y2="486.5" stroke="#111" stroke-width="1" />
<line x1="317.2" y1="486" x2="320.5" y2="486" stroke="#111" stroke-width="0.9" />
<text x="314.2" y="488.6" font-size="7.3" text-anchor="end" font-weight="normal" fill="#1a1a1a" stroke="#1a1a1a" stroke-width="0.14" >0</text>
<line x1="317.2" y1="467.68" x2="320.5" y2="467.68" stroke="#111" stroke-width="0.9" />
<text x="314.2" y="470.28" font-size="7.3" text-anchor="end" font-weight="normal" fill="#1a1a1a" stroke="#1a1a1a" stroke-width="0.14" >25</text>
<line x1="317.2" y1="449.35" x2="320.5" y2="449.35" stroke="#111" stroke-width="0.9" />
<text x="314.2" y="451.95" font-size="7.3" text-anchor="end" font-weight="normal" fill="#1a1a1a" stroke="#1a1a1a" stroke-width="0.14" >50</text>
<line x1="317.2" y1="431.02" x2="320.5" y2="431.02" stroke="#111" stroke-width="0.9" />
<text x="314.2" y="433.62" font-size="7.3" text-anchor="end" font-weight="normal" fill="#1a1a1a" stroke="#1a1a1a" stroke-width="0.14" >75</text>
<line x1="317.2" y1="412.7" x2="320.5" y2="412.7" stroke="#111" stroke-width="0.9" />
<text x="314.2" y="415.3" font-size="7.3" text-anchor="end" font-weight="normal" fill="#1a1a1a" stroke="#1a1a1a" stroke-width="0.14" >100</text>
<line x1="338.6" y1="486" x2="338.6" y2="488.6" stroke="#111" stroke-width="0.9" />
<line x1="356.7" y1="486" x2="356.7" y2="488.6" stroke="#111" stroke-width="0.9" />
<line x1="375" y1="486" x2="375" y2="488.6" stroke="#111" stroke-width="0.9" />
<text x="0" y="0" font-size="8.3" text-anchor="middle" font-weight="normal" fill="#1a1a1a" stroke="#1a1a1a" stroke-width="0.4" textLength="26.4" lengthAdjust="spacingAndGlyphs" transform="translate(294.8,448.2) rotate(-90)">% in liver</text>
<polygon points="329.85,444.54 334.55,444.54 332.2,440.46" fill="#14328a"/>
<polygon points="343.15,442.84 347.85,442.84 345.5,438.76" fill="#14328a"/>
<polygon points="336.25,448.54 340.95,448.54 338.6,444.46" fill="#14328a"/>
<polygon points="336.25,456.04 340.95,456.04 338.6,451.96" fill="#14328a"/>
<polygon points="343.15,456.64 347.85,456.64 345.5,452.56" fill="#14328a"/>
<polygon points="329.85,458.94 334.55,458.94 332.2,454.86" fill="#14328a"/>
<line x1="329.9" y1="449.1" x2="347.3" y2="449.1" stroke="#111" stroke-width="1.1" />
<line x1="338.6" y1="446.3" x2="338.6" y2="451.7" stroke="#111" stroke-width="0.9" />
<line x1="334.4" y1="446.3" x2="342.8" y2="446.3" stroke="#111" stroke-width="0.9" />
<line x1="334.4" y1="451.7" x2="342.8" y2="451.7" stroke="#111" stroke-width="0.9" />
<circle cx="350.2" cy="455.2" r="2.3" fill="#60ae2c"/>
<circle cx="354.8" cy="458.7" r="2.3" fill="#60ae2c"/>
<circle cx="359.4" cy="456.3" r="2.3" fill="#60ae2c"/>
<circle cx="364" cy="453.5" r="2.3" fill="#60ae2c"/>
<circle cx="364" cy="459" r="2.3" fill="#60ae2c"/>
<circle cx="357.1" cy="469.6" r="2.3" fill="#60ae2c"/>
<line x1="352.7" y1="458.7" x2="360.7" y2="458.7" stroke="#111" stroke-width="1.1" />
<line x1="356.7" y1="456.7" x2="356.7" y2="461.3" stroke="#111" stroke-width="0.9" />
<line x1="353.2" y1="456.7" x2="360.2" y2="456.7" stroke="#111" stroke-width="0.9" />
<line x1="353.2" y1="461.3" x2="360.2" y2="461.3" stroke="#111" stroke-width="0.9" />
<rect x="366.5" y="467.9" width="4.6" height="4.6" fill="#ba0530" stroke="#f4c8d0" stroke-width="0.35"/>
<rect x="366.5" y="472.1" width="4.6" height="4.6" fill="#ba0530" stroke="#f4c8d0" stroke-width="0.35"/>
<rect x="371.2" y="465" width="4.6" height="4.6" fill="#ba0530" stroke="#f4c8d0" stroke-width="0.35"/>
<rect x="375.8" y="467.9" width="4.6" height="4.6" fill="#ba0530" stroke="#f4c8d0" stroke-width="0.35"/>
<rect x="375.8" y="472.1" width="4.6" height="4.6" fill="#ba0530" stroke="#f4c8d0" stroke-width="0.35"/>
<rect x="380.4" y="467.9" width="4.6" height="4.6" fill="#ba0530" stroke="#f4c8d0" stroke-width="0.35"/>
<rect x="371.2" y="471.5" width="4.6" height="4.6" fill="#ba0530" stroke="#f4c8d0" stroke-width="0.35"/>
<line x1="371" y1="472.5" x2="379" y2="472.5" stroke="#111" stroke-width="1.1" />
<line x1="375" y1="471.2" x2="375" y2="473.8" stroke="#111" stroke-width="0.9" />
<line x1="372" y1="471.2" x2="378" y2="471.2" stroke="#111" stroke-width="0.9" />
<line x1="372" y1="473.8" x2="378" y2="473.8" stroke="#111" stroke-width="0.9" />
<polyline points="338.4,423.5 338.4,420.3 373.5,420.3 373.5,423.5" fill="none" stroke="#222" stroke-width="0.9"/>
<g fill="#000"><rect x="352.55" y="415.4" width="1.6" height="1.6"/><rect x="355.15" y="415.4" width="1.6" height="1.6"/><rect x="357.75" y="415.4" width="1.6" height="1.6"/></g>
<polyline points="338.4,436.7 338.4,433.5 355.7,433.5 355.7,436.7" fill="none" stroke="#222" stroke-width="0.9"/>
<g fill="#000"><rect x="344.95" y="428.8" width="1.6" height="1.6"/><rect x="347.55" y="428.8" width="1.6" height="1.6"/></g>
<polyline points="356.4,450.3 356.4,447.1 374.4,447.1 374.4,450.3" fill="none" stroke="#222" stroke-width="0.9"/>
<g fill="#000"><rect x="364.6" y="442.5" width="1.6" height="1.6"/></g>
<line x1="442" y1="413.4" x2="442" y2="486" stroke="#111" stroke-width="1" />
<line x1="441.5" y1="485.5" x2="512.7" y2="485.5" stroke="#111" stroke-width="1" />
<line x1="438.7" y1="485.8" x2="442" y2="485.8" stroke="#111" stroke-width="0.9" />
<text x="435.7" y="488.4" font-size="7.3" text-anchor="end" font-weight="normal" fill="#1a1a1a" stroke="#1a1a1a" stroke-width="0.14" >0</text>
<line x1="438.7" y1="468.23" x2="442" y2="468.23" stroke="#111" stroke-width="0.9" />
<text x="435.7" y="470.83" font-size="7.3" text-anchor="end" font-weight="normal" fill="#1a1a1a" stroke="#1a1a1a" stroke-width="0.14" >25</text>
<line x1="438.7" y1="450.65" x2="442" y2="450.65" stroke="#111" stroke-width="0.9" />
<text x="435.7" y="453.25" font-size="7.3" text-anchor="end" font-weight="normal" fill="#1a1a1a" stroke="#1a1a1a" stroke-width="0.14" >50</text>
<line x1="438.7" y1="433.08" x2="442" y2="433.08" stroke="#111" stroke-width="0.9" />
<text x="435.7" y="435.68" font-size="7.3" text-anchor="end" font-weight="normal" fill="#1a1a1a" stroke="#1a1a1a" stroke-width="0.14" >75</text>
<line x1="438.7" y1="415.5" x2="442" y2="415.5" stroke="#111" stroke-width="0.9" />
<text x="435.7" y="418.1" font-size="7.3" text-anchor="end" font-weight="normal" fill="#1a1a1a" stroke="#1a1a1a" stroke-width="0.14" >100</text>
<line x1="459.4" y1="485.8" x2="459.4" y2="488.4" stroke="#111" stroke-width="0.9" />
<line x1="477.3" y1="485.8" x2="477.3" y2="488.4" stroke="#111" stroke-width="0.9" />
<line x1="494.6" y1="485.8" x2="494.6" y2="488.4" stroke="#111" stroke-width="0.9" />
<text x="0" y="0" font-size="8.3" text-anchor="middle" font-weight="normal" fill="#1a1a1a" stroke="#1a1a1a" stroke-width="0.4" textLength="28.9" lengthAdjust="spacingAndGlyphs" transform="translate(417.3,449.6) rotate(-90)">% in mLN</text>
<polygon points="457.05,454.24 461.75,454.24 459.4,450.16" fill="#14328a"/>
<polygon points="450.75,461.14 455.45,461.14 453.1,457.06" fill="#14328a"/>
<polygon points="463.65,462.94 468.35,462.94 466,458.86" fill="#14328a"/>
<polygon points="457.05,469.54 461.75,469.54 459.4,465.46" fill="#14328a"/>
<polygon points="463.65,477.94 468.35,477.94 466,473.86" fill="#14328a"/>
<polygon points="450.95,481.44 455.65,481.44 453.3,477.36" fill="#14328a"/>
<line x1="450.4" y1="465.4" x2="468.4" y2="465.4" stroke="#111" stroke-width="1.1" />
<line x1="459.4" y1="461.4" x2="459.4" y2="469.6" stroke="#111" stroke-width="0.9" />
<line x1="455.4" y1="461.4" x2="463.4" y2="461.4" stroke="#111" stroke-width="0.9" />
<line x1="455.4" y1="469.6" x2="463.4" y2="469.6" stroke="#111" stroke-width="0.9" />
<circle cx="474.1" cy="474.1" r="2.3" fill="#60ae2c"/>
<circle cx="480.5" cy="472.5" r="2.3" fill="#60ae2c"/>
<circle cx="471" cy="479.6" r="2.3" fill="#60ae2c"/>
<circle cx="477.3" cy="481" r="2.3" fill="#60ae2c"/>
<circle cx="484" cy="481.7" r="2.3" fill="#60ae2c"/>
<circle cx="471" cy="485.2" r="2.3" fill="#60ae2c"/>
<line x1="473.3" y1="479.4" x2="481.3" y2="479.4" stroke="#111" stroke-width="1.1" />
<line x1="477.3" y1="477.5" x2="477.3" y2="481" stroke="#111" stroke-width="0.9" />
<line x1="473.8" y1="477.5" x2="480.8" y2="477.5" stroke="#111" stroke-width="0.9" />
<line x1="473.8" y1="481" x2="480.8" y2="481" stroke="#111" stroke-width="0.9" />
<rect x="486.3" y="481.4" width="4.6" height="4.6" fill="#ba0530" stroke="#f4c8d0" stroke-width="0.35"/>
<rect x="490.6" y="477.5" width="4.6" height="4.6" fill="#ba0530" stroke="#f4c8d0" stroke-width="0.35"/>
<rect x="494.6" y="480.8" width="4.6" height="4.6" fill="#ba0530" stroke="#f4c8d0" stroke-width="0.35"/>
<rect x="499.2" y="478.7" width="4.6" height="4.6" fill="#ba0530" stroke="#f4c8d0" stroke-width="0.35"/>
<line x1="490.6" y1="481.7" x2="498.6" y2="481.7" stroke="#111" stroke-width="1.1" />
<line x1="494.6" y1="481.2" x2="494.6" y2="482.2" stroke="#111" stroke-width="0.9" />
<line x1="492.6" y1="481.2" x2="496.6" y2="481.2" stroke="#111" stroke-width="0.9" />
<line x1="492.6" y1="482.2" x2="496.6" y2="482.2" stroke="#111" stroke-width="0.9" />
<polyline points="459.6,431.6 459.6,428.4 494.7,428.4 494.7,431.6" fill="none" stroke="#222" stroke-width="0.9"/>
<g fill="#000"><rect x="476.35" y="423" width="1.6" height="1.6"/></g>
<polyline points="459.6,444.3 459.6,441.1 476.9,441.1 476.9,444.3" fill="none" stroke="#222" stroke-width="0.9"/>
<g fill="#000"><rect x="467.45" y="435.7" width="1.6" height="1.6"/></g>
<text x="370" y="38.1" font-size="8.3" text-anchor="start" font-weight="normal" fill="#1a1a1a" stroke="#1a1a1a" stroke-width="0.14" textLength="95" lengthAdjust="spacingAndGlyphs" >% Ly5.1<tspan font-size="5" dy="-3">+</tspan><tspan dy="3"> gated on H2</tspan><tspan font-size="5" dy="-3">b+</tspan></text>
<text x="388.5" y="305.5" font-size="8.4" text-anchor="start" font-weight="normal" fill="#1a1a1a" stroke="#1a1a1a" stroke-width="0.14" textLength="58.8" lengthAdjust="spacingAndGlyphs" >% CD4<tspan font-size="5" dy="-3">+</tspan><tspan dy="3">IFN-&#947;</tspan><tspan font-size="5" dy="-3">+</tspan></text>
<polygon points="407.85,81.31 413.15,81.31 410.5,76.69" fill="#14328a"/>
<circle cx="410.5" cy="89.7" r="2.6" fill="#60ae2c"/>
<rect x="408.05" y="98.35" width="4.9" height="4.9" fill="#ba0530" stroke="#f4c8d0" stroke-width="0.35"/>
<text x="416.2" y="81.4" font-size="6.8" text-anchor="start" font-weight="normal" fill="#222" stroke="#222" stroke-width="0.14" textLength="30.5" lengthAdjust="spacingAndGlyphs" >BM+Teffs</text>
<text x="416.2" y="92.1" font-size="6.8" text-anchor="start" font-weight="normal" fill="#222" stroke="#222" stroke-width="0.14" textLength="68.8" lengthAdjust="spacingAndGlyphs" >+Control CD8<tspan font-size="5" dy="-2.7">+</tspan><tspan dy="2.7"> iTregs</tspan></text>
<text x="416.2" y="103.2" font-size="6.8" text-anchor="start" font-weight="normal" fill="#222" stroke="#222" stroke-width="0.14" textLength="85" lengthAdjust="spacingAndGlyphs" >+Vit C-treated CD8<tspan font-size="5" dy="-2.7">+</tspan><tspan dy="2.7"> iTregs</tspan></text>
<polygon points="407.85,343.31 413.15,343.31 410.5,338.69" fill="#14328a"/>
<circle cx="410.5" cy="351.7" r="2.6" fill="#60ae2c"/>
<rect x="408.05" y="360.35" width="4.9" height="4.9" fill="#ba0530" stroke="#f4c8d0" stroke-width="0.35"/>
<text x="416.2" y="343.4" font-size="6.8" text-anchor="start" font-weight="normal" fill="#222" stroke="#222" stroke-width="0.14" textLength="30.5" lengthAdjust="spacingAndGlyphs" >BM+Teffs</text>
<text x="416.2" y="354.1" font-size="6.8" text-anchor="start" font-weight="normal" fill="#222" stroke="#222" stroke-width="0.14" textLength="68.8" lengthAdjust="spacingAndGlyphs" >+Control CD8<tspan font-size="5" dy="-2.7">+</tspan><tspan dy="2.7"> iTregs</tspan></text>
<text x="416.2" y="365.2" font-size="6.8" text-anchor="start" font-weight="normal" fill="#222" stroke="#222" stroke-width="0.14" textLength="85" lengthAdjust="spacingAndGlyphs" >+Vit C-treated CD8<tspan font-size="5" dy="-2.7">+</tspan><tspan dy="2.7"> iTregs</tspan></text>
<rect x="0.5" y="0.5" width="519" height="520" fill="none" stroke="#000" stroke-width="1"/>
</svg></body></html>
